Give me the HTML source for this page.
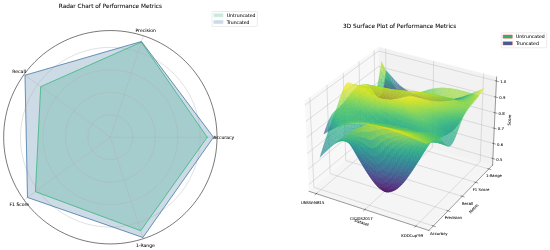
<!DOCTYPE html><html><head><meta charset="utf-8"><title>Performance Metrics</title><style>html,body{margin:0;padding:0;background:#fff;overflow:hidden}svg{display:block}text{font-family:"DejaVu Sans","Liberation Sans",sans-serif;stroke:#000;stroke-width:.1px}.s path{fill:currentColor;stroke:currentColor;stroke-width:.25;stroke-linejoin:round;opacity:0.7}</style></head><body><svg width="550" height="250" preserveAspectRatio="none" viewBox="0 0 1143.19 519.63"><defs><style type="text/css">*{stroke-linejoin: round; stroke-linecap: butt}</style></defs><g id="figure_1"><g id="patch_1"><path d="M 0 519.63 L 1143.19 519.63 L 1143.19 0 L 0 0 z " style="fill: #ffffff"/></g><g id="axes_1"><g id="patch_2"><path d="M 451.13 285.26 C 451.13 256.14 445.4 227.3 434.25 200.4 C 423.11 173.5 406.77 149.05 386.18 128.46 C 365.59 107.86 341.14 91.53 314.24 80.38 C 287.33 69.24 258.49 63.5 229.37 63.5 C 200.25 63.5 171.41 69.24 144.51 80.38 C 117.6 91.53 93.16 107.86 72.56 128.46 C 51.97 149.05 35.64 173.5 24.49 200.4 C 13.35 227.3 7.61 256.14 7.61 285.26 C 7.61 314.39 13.35 343.22 24.49 370.13 C 35.64 397.03 51.97 421.48 72.56 442.07 C 93.16 462.66 117.6 479 144.51 490.14 C 171.41 501.29 200.25 507.02 229.37 507.02 C 258.49 507.02 287.33 501.29 314.24 490.14 C 341.14 479 365.59 462.66 386.18 442.07 C 406.77 421.48 423.11 397.03 434.25 370.13 C 445.4 343.22 451.13 314.39 451.13 285.26 M 229.37 285.26 C 229.37 285.26 229.37 285.26 229.37 285.26 C 229.37 285.26 229.37 285.26 229.37 285.26 C 229.37 285.26 229.37 285.26 229.37 285.26 C 229.37 285.26 229.37 285.26 229.37 285.26 C 229.37 285.26 229.37 285.26 229.37 285.26 C 229.37 285.26 229.37 285.26 229.37 285.26 C 229.37 285.26 229.37 285.26 229.37 285.26 C 229.37 285.26 229.37 285.26 229.37 285.26 C 229.37 285.26 229.37 285.26 229.37 285.26 C 229.37 285.26 229.37 285.26 229.37 285.26 C 229.37 285.26 229.37 285.26 229.37 285.26 C 229.37 285.26 229.37 285.26 229.37 285.26 C 229.37 285.26 229.37 285.26 229.37 285.26 C 229.37 285.26 229.37 285.26 229.37 285.26 C 229.37 285.26 229.37 285.26 229.37 285.26 C 229.37 285.26 229.37 285.26 229.37 285.26 z " style="fill: #ffffff"/></g><g id="patch_3"><path d="M 430.66 285.26 L 293.58 87.64 L 84.59 180.07 L 73.65 398.41 L 292.49 479.51 z " clip-path="url(#p2788d90cd7)" style="fill: #32b478; opacity: 0.25; stroke: #32b478; stroke-linejoin: miter"/></g><g id="patch_4"><path d="M 443.75 285.26 L 294.04 86.23 L 51.97 156.38 L 57.14 410.4 L 297.08 493.64 z " clip-path="url(#p2788d90cd7)" style="fill: #3a70a0; opacity: 0.25; stroke: #3a70a0; stroke-linejoin: miter"/></g><g id="matplotlib.axis_1"><g id="xtick_1"><g id="line2d_1"><path d="M 229.37 285.26 L 451.13 285.26 " clip-path="url(#p2788d90cd7)" style="fill: none; stroke: #b0b0b0; stroke-width: 0.8; stroke-linecap: square"/></g><g id="text_1"><text style="font-size: 9.5px; font-family: 'DejaVu Sans','Liberation Sans',sans-serif; text-anchor: middle" x="465.13" y="288.89">Accuracy</text></g></g><g id="xtick_2"><g id="line2d_2"><path d="M 229.37 285.26 L 297.9 74.36 " clip-path="url(#p2788d90cd7)" style="fill: none; stroke: #b0b0b0; stroke-width: 0.8; stroke-linecap: square"/></g><g id="text_2"><text style="font-size: 9.5px; font-family: 'DejaVu Sans','Liberation Sans',sans-serif; text-anchor: middle" x="302.73" y="66.36">Precision</text></g></g><g id="xtick_3"><g id="line2d_3"><path d="M 229.37 285.26 L 49.96 154.92 " clip-path="url(#p2788d90cd7)" style="fill: none; stroke: #b0b0b0; stroke-width: 0.8; stroke-linecap: square"/></g><g id="text_3"><text style="font-size: 9.5px; font-family: 'DejaVu Sans','Liberation Sans',sans-serif; text-anchor: middle" x="39.84" y="151.41">Recall</text></g></g><g id="xtick_4"><g id="line2d_4"><path d="M 229.37 285.26 L 49.96 415.61 " clip-path="url(#p2788d90cd7)" style="fill: none; stroke: #b0b0b0; stroke-width: 0.8; stroke-linecap: square"/></g><g id="text_4"><text style="font-size: 9.5px; font-family: 'DejaVu Sans','Liberation Sans',sans-serif; text-anchor: middle" x="40.14" y="428.16">F1 Score</text></g></g><g id="xtick_5"><g id="line2d_5"><path d="M 229.37 285.26 L 297.9 496.17 " clip-path="url(#p2788d90cd7)" style="fill: none; stroke: #b0b0b0; stroke-width: 0.8; stroke-linecap: square"/></g><g id="text_5"><text style="font-size: 9.5px; font-family: 'DejaVu Sans','Liberation Sans',sans-serif; text-anchor: middle" x="302.23" y="512.71">1-Range</text></g></g></g><g id="matplotlib.axis_2"><g id="ytick_1"><g id="line2d_6"><path d="M 276.06 285.26 C 276.06 279.13 274.85 273.06 272.5 267.4 C 270.16 261.73 266.72 256.59 262.38 252.25 C 258.05 247.92 252.9 244.48 247.24 242.13 C 241.57 239.79 235.5 238.58 229.37 238.58 C 223.24 238.58 217.17 239.79 211.51 242.13 C 205.84 244.48 200.7 247.92 196.36 252.25 C 192.03 256.59 188.59 261.73 186.24 267.4 C 183.89 273.06 182.69 279.13 182.69 285.26 C 182.69 291.39 183.89 297.47 186.24 303.13 C 188.59 308.79 192.03 313.94 196.36 318.28 C 200.7 322.61 205.84 326.05 211.51 328.4 C 217.17 330.74 223.24 331.95 229.37 331.95 C 235.5 331.95 241.57 330.74 247.24 328.4 C 252.9 326.05 258.05 322.61 262.38 318.28 C 266.72 313.94 270.16 308.79 272.5 303.13 C 274.85 297.47 276.06 291.39 276.06 285.26 " clip-path="url(#p2788d90cd7)" style="fill: none; stroke: #b0b0b0; stroke-width: 0.8; stroke-linecap: square"/></g></g><g id="ytick_2"><g id="line2d_7"><path d="M 322.74 285.26 C 322.74 273 320.33 260.86 315.64 249.53 C 310.95 238.2 304.07 227.91 295.4 219.24 C 286.73 210.57 276.43 203.69 265.1 199 C 253.78 194.31 241.63 191.89 229.37 191.89 C 217.11 191.89 204.97 194.31 193.64 199 C 182.31 203.69 172.02 210.57 163.35 219.24 C 154.68 227.91 147.8 238.2 143.11 249.53 C 138.41 260.86 136 273 136 285.26 C 136 297.53 138.41 309.67 143.11 321 C 147.8 332.32 154.68 342.62 163.35 351.29 C 172.02 359.96 182.31 366.84 193.64 371.53 C 204.97 376.22 217.11 378.64 229.37 378.64 C 241.63 378.64 253.78 376.22 265.1 371.53 C 276.43 366.84 286.73 359.96 295.4 351.29 C 304.07 342.62 310.95 332.32 315.64 321 C 320.33 309.67 322.74 297.53 322.74 285.26 " clip-path="url(#p2788d90cd7)" style="fill: none; stroke: #b0b0b0; stroke-width: 0.8; stroke-linecap: square"/></g></g><g id="ytick_3"><g id="line2d_8"><path d="M 369.43 285.26 C 369.43 266.87 365.81 248.66 358.77 231.67 C 351.73 214.67 341.41 199.23 328.41 186.23 C 315.4 173.22 299.96 162.9 282.97 155.87 C 265.98 148.83 247.76 145.21 229.37 145.21 C 210.98 145.21 192.77 148.83 175.77 155.87 C 158.78 162.9 143.34 173.22 130.34 186.23 C 117.33 199.23 107.01 214.67 99.97 231.67 C 92.94 248.66 89.31 266.87 89.31 285.26 C 89.31 303.66 92.94 321.87 99.97 338.86 C 107.01 355.85 117.33 371.3 130.34 384.3 C 143.34 397.31 158.78 407.62 175.77 414.66 C 192.77 421.7 210.98 425.32 229.37 425.32 C 247.76 425.32 265.98 421.7 282.97 414.66 C 299.96 407.62 315.4 397.31 328.41 384.3 C 341.41 371.3 351.73 355.85 358.77 338.86 C 365.81 321.87 369.43 303.66 369.43 285.26 " clip-path="url(#p2788d90cd7)" style="fill: none; stroke: #b0b0b0; stroke-width: 0.8; stroke-linecap: square"/></g></g><g id="ytick_4"><g id="line2d_9"><path d="M 416.12 285.26 C 416.12 260.74 411.29 236.46 401.9 213.8 C 392.52 191.14 378.76 170.56 361.42 153.22 C 344.08 135.87 323.49 122.12 300.84 112.73 C 278.18 103.35 253.9 98.52 229.37 98.52 C 204.85 98.52 180.56 103.35 157.91 112.73 C 135.25 122.12 114.66 135.87 97.32 153.22 C 79.98 170.56 66.23 191.14 56.84 213.8 C 47.46 236.46 42.63 260.74 42.63 285.26 C 42.63 309.79 47.46 334.07 56.84 356.73 C 66.23 379.38 79.98 399.97 97.32 417.31 C 114.66 434.65 135.25 448.41 157.91 457.79 C 180.56 467.18 204.85 472.01 229.37 472.01 C 253.9 472.01 278.18 467.18 300.84 457.79 C 323.49 448.41 344.08 434.65 361.42 417.31 C 378.76 399.97 392.52 379.38 401.9 356.73 C 411.29 334.07 416.12 309.79 416.12 285.26 " clip-path="url(#p2788d90cd7)" style="fill: none; stroke: #b0b0b0; stroke-width: 0.8; stroke-linecap: square"/></g></g></g><g id="line2d_10"><path d="M 430.66 285.26 L 293.58 87.64 L 84.59 180.07 L 73.65 398.41 L 292.49 479.51 L 430.66 285.26 " clip-path="url(#p2788d90cd7)" style="fill: none; stroke: #32b478; stroke-width: 1.5; stroke-linecap: square"/></g><g id="line2d_11"><path d="M 443.75 285.26 L 294.04 86.23 L 51.97 156.38 L 57.14 410.4 L 297.08 493.64 L 443.75 285.26 " clip-path="url(#p2788d90cd7)" style="fill: none; stroke: #3a70a0; stroke-width: 1.5; stroke-linecap: square"/></g><g id="patch_5"><path d="M 451.13 285.26 C 451.13 256.14 445.4 227.3 434.25 200.4 C 423.11 173.5 406.77 149.05 386.18 128.46 C 365.59 107.86 341.14 91.53 314.24 80.38 C 287.33 69.24 258.49 63.5 229.37 63.5 C 200.25 63.5 171.41 69.24 144.51 80.38 C 117.6 91.53 93.16 107.86 72.56 128.46 C 51.97 149.05 35.64 173.5 24.49 200.4 C 13.35 227.3 7.61 256.14 7.61 285.26 C 7.61 314.39 13.35 343.22 24.49 370.13 C 35.64 397.03 51.97 421.48 72.56 442.07 C 93.16 462.66 117.6 479 144.51 490.14 C 171.41 501.29 200.25 507.02 229.37 507.02 C 258.49 507.02 287.33 501.29 314.24 490.14 C 341.14 479 365.59 462.66 386.18 442.07 C 406.77 421.48 423.11 397.03 434.25 370.13 C 445.4 343.22 451.13 314.39 451.13 285.26 " style="fill: none; stroke: #000000; stroke-width: 1.1; stroke-linejoin: miter; stroke-linecap: square"/></g><g id="text_6"><text style="font-size: 12px; font-family: 'DejaVu Sans','Liberation Sans',sans-serif; text-anchor: middle" x="229.37" y="16.08">Radar Chart of Performance Metrics</text></g><g id="legend_1"><g id="patch_6"><path d="M 442.48 55.01 L 533.12 55.01 Q 535.04 55.01 535.04 53.09 L 535.04 25.87 Q 535.04 23.95 533.12 23.95 L 442.48 23.95 Q 440.56 23.95 440.56 25.87 L 440.56 53.09 Q 440.56 55.01 442.48 55.01 z " style="fill: #ffffff; opacity: 0.8; stroke: #cccccc; stroke-linejoin: miter"/></g><g id="patch_7"><path d="M 444.4 35.09 L 463.6 35.09 L 463.6 28.37 L 444.4 28.37 z " style="fill: #32b478; opacity: 0.25; stroke: #32b478; stroke-linejoin: miter"/></g><g id="text_7"><text style="font-size: 9.6px; font-family: 'DejaVu Sans','Liberation Sans',sans-serif; text-anchor: start" x="471.28" y="35.09">Untruncated</text></g><g id="patch_8"><path d="M 444.4 49.18 L 463.6 49.18 L 463.6 42.46 L 444.4 42.46 z " style="fill: #3a70a0; opacity: 0.25; stroke: #3a70a0; stroke-linejoin: miter"/></g><g id="text_8"><text style="font-size: 9.6px; font-family: 'DejaVu Sans','Liberation Sans',sans-serif; text-anchor: start" x="471.28" y="49.18">Truncated</text></g></g></g><g id="patch_9"><path d="M 608.85 507.02 L 1052.37 507.02 L 1052.37 63.5 L 608.85 63.5 z " style="fill: #ffffff"/></g><g id="pane3d_1"><g id="patch_10"><path d="M 642.34 397.67 L 788.81 274.9 L 786.77 97.84 L 633.3 209.84 " style="fill: #f2f2f2; opacity: 0.5; stroke: #f2f2f2; stroke-linejoin: miter"/></g></g><g id="pane3d_2"><g id="patch_11"><path d="M 788.81 274.9 L 1023.83 343.21 L 1032.22 160.05 L 786.77 97.84 " style="fill: #e6e6e6; opacity: 0.5; stroke: #e6e6e6; stroke-linejoin: miter"/></g></g><g id="pane3d_3"><g id="patch_12"><path d="M 642.34 397.67 L 891.48 479.03 L 1023.83 343.21 L 788.81 274.9 " style="fill: #ececec; opacity: 0.5; stroke: #ececec; stroke-linejoin: miter"/></g></g><g id="grid3d_1"><g id="Line3DCollection_1"><path d="M 657.42 402.59 L 803.09 279.05 L 801.66 101.61 " style="fill: none; stroke: #b0b0b0; stroke-width: 0.8"/><path d="M 758.46 435.59 L 898.6 306.81 L 901.31 126.87 " style="fill: none; stroke: #b0b0b0; stroke-width: 0.8"/><path d="M 864.02 470.07 L 998.03 335.71 L 1005.22 153.21 " style="fill: none; stroke: #b0b0b0; stroke-width: 0.8"/></g></g><g id="grid3d_2"><g id="Line3DCollection_2"><path d="M 643.91 202.09 L 652.43 389.21 L 900.63 469.64 " style="fill: none; stroke: #b0b0b0; stroke-width: 0.8"/><path d="M 679.37 176.22 L 686.19 360.91 L 931.22 438.24 " style="fill: none; stroke: #b0b0b0; stroke-width: 0.8"/><path d="M 713.45 151.35 L 718.69 333.67 L 960.62 408.08 " style="fill: none; stroke: #b0b0b0; stroke-width: 0.8"/><path d="M 746.23 127.43 L 750.01 307.42 L 988.88 379.07 " style="fill: none; stroke: #b0b0b0; stroke-width: 0.8"/><path d="M 777.79 104.4 L 780.2 282.11 L 1016.09 351.15 " style="fill: none; stroke: #b0b0b0; stroke-width: 0.8"/></g></g><g id="grid3d_3"><g id="Line3DCollection_3"><path d="M 1024.45 329.61 L 788.65 261.72 L 641.67 383.74 " style="fill: none; stroke: #b0b0b0; stroke-width: 0.8"/><path d="M 1025.88 298.36 L 788.31 231.47 L 640.13 351.73 " style="fill: none; stroke: #b0b0b0; stroke-width: 0.8"/><path d="M 1027.34 266.63 L 787.95 200.77 L 638.56 319.21 " style="fill: none; stroke: #b0b0b0; stroke-width: 0.8"/><path d="M 1028.81 234.41 L 787.59 169.63 L 636.97 286.16 " style="fill: none; stroke: #b0b0b0; stroke-width: 0.8"/><path d="M 1030.31 201.68 L 787.23 138.02 L 635.35 252.59 " style="fill: none; stroke: #b0b0b0; stroke-width: 0.8"/><path d="M 1031.83 168.45 L 786.86 105.94 L 633.71 218.46 " style="fill: none; stroke: #b0b0b0; stroke-width: 0.8"/></g></g><g id="axis3d_1"><g id="line2d_12"><path d="M 642.34 397.67 L 891.48 479.03 " style="fill: none; stroke: #000000; stroke-width: 0.8; stroke-linecap: square"/></g><g id="xtick_6"><g id="line2d_13"><path d="M 658.69 401.51 L 654.88 404.75 " style="fill: none; stroke: #000000; stroke-width: 0.8; stroke-linecap: square"/></g><g id="text_9"><text style="font-size: 8px; font-family: 'DejaVu Sans','Liberation Sans',sans-serif; text-anchor: middle" x="649.9" y="424.36">UNSW-NB15</text></g></g><g id="xtick_7"><g id="line2d_14"><path d="M 759.68 434.47 L 756.01 437.84 " style="fill: none; stroke: #000000; stroke-width: 0.8; stroke-linecap: square"/></g><g id="text_10"><text style="font-size: 8px; font-family: 'DejaVu Sans','Liberation Sans',sans-serif; text-anchor: middle" x="751" y="457.78">CICIDS2017</text></g></g><g id="xtick_8"><g id="line2d_15"><path d="M 865.19 468.89 L 861.67 472.42 " style="fill: none; stroke: #000000; stroke-width: 0.8; stroke-linecap: square"/></g><g id="text_11"><text style="font-size: 8px; font-family: 'DejaVu Sans','Liberation Sans',sans-serif; text-anchor: middle" x="856.64" y="492.69">KDDCup'99</text></g></g><g id="text_12"><text style="font-size: 8px; font-family: 'DejaVu Sans','Liberation Sans',sans-serif; text-anchor: middle" x="751" y="465.22" transform="rotate(-341.91 751 465.22)">Dataset</text></g></g><g id="axis3d_2"><g id="line2d_16"><path d="M 1023.83 343.21 L 891.48 479.03 " style="fill: none; stroke: #000000; stroke-width: 0.8; stroke-linecap: square"/></g><g id="xtick_9"><g id="line2d_17"><path d="M 898.54 468.96 L 904.82 470.99 " style="fill: none; stroke: #000000; stroke-width: 0.8; stroke-linecap: square"/></g><g id="text_13"><text style="font-size: 8px; font-family: 'DejaVu Sans','Liberation Sans',sans-serif; text-anchor: middle" x="912.06" y="487.62">Accuracy</text></g></g><g id="xtick_10"><g id="line2d_18"><path d="M 929.16 437.59 L 935.36 439.55 " style="fill: none; stroke: #000000; stroke-width: 0.8; stroke-linecap: square"/></g><g id="text_14"><text style="font-size: 8px; font-family: 'DejaVu Sans','Liberation Sans',sans-serif; text-anchor: middle" x="942.43" y="455.98">Precision</text></g></g><g id="xtick_11"><g id="line2d_19"><path d="M 958.58 407.45 L 964.69 409.33 " style="fill: none; stroke: #000000; stroke-width: 0.8; stroke-linecap: square"/></g><g id="text_15"><text style="font-size: 8px; font-family: 'DejaVu Sans','Liberation Sans',sans-serif; text-anchor: middle" x="971.61" y="425.58">Recall</text></g></g><g id="xtick_12"><g id="line2d_20"><path d="M 986.88 378.47 L 992.9 380.28 " style="fill: none; stroke: #000000; stroke-width: 0.8; stroke-linecap: square"/></g><g id="text_16"><text style="font-size: 8px; font-family: 'DejaVu Sans','Liberation Sans',sans-serif; text-anchor: middle" x="999.67" y="396.34">F1 Score</text></g></g><g id="xtick_13"><g id="line2d_21"><path d="M 1014.11 350.57 L 1020.05 352.31 " style="fill: none; stroke: #000000; stroke-width: 0.8; stroke-linecap: square"/></g><g id="text_17"><text style="font-size: 8px; font-family: 'DejaVu Sans','Liberation Sans',sans-serif; text-anchor: middle" x="1026.68" y="368.2">1-Range</text></g></g><g id="text_18"><text style="font-size: 8px; font-family: 'DejaVu Sans','Liberation Sans',sans-serif; text-anchor: middle" x="987" y="435.38" transform="rotate(-45.74 987 435.38)">Metric</text></g></g><g id="axis3d_3"><g id="line2d_22"><path d="M 1023.83 343.21 L 1032.22 160.05 " style="fill: none; stroke: #000000; stroke-width: 0.8; stroke-linecap: square"/></g><g id="xtick_14"><g id="line2d_23"><path d="M 1022.47 329.04 L 1028.42 330.75 " style="fill: none; stroke: #000000; stroke-width: 0.8; stroke-linecap: square"/></g><g id="text_19"><text style="font-size: 8px; font-family: 'DejaVu Sans','Liberation Sans',sans-serif; text-anchor: middle" x="1038.01" y="333.77">0.5</text></g></g><g id="xtick_15"><g id="line2d_24"><path d="M 1023.89 297.8 L 1029.88 299.48 " style="fill: none; stroke: #000000; stroke-width: 0.8; stroke-linecap: square"/></g><g id="text_20"><text style="font-size: 8px; font-family: 'DejaVu Sans','Liberation Sans',sans-serif; text-anchor: middle" x="1039.54" y="302.55">0.6</text></g></g><g id="xtick_16"><g id="line2d_25"><path d="M 1025.33 266.07 L 1031.36 267.74 " style="fill: none; stroke: #000000; stroke-width: 0.8; stroke-linecap: square"/></g><g id="text_21"><text style="font-size: 8px; font-family: 'DejaVu Sans','Liberation Sans',sans-serif; text-anchor: middle" x="1041.09" y="270.85">0.7</text></g></g><g id="xtick_17"><g id="line2d_26"><path d="M 1026.78 233.86 L 1032.87 235.5 " style="fill: none; stroke: #000000; stroke-width: 0.8; stroke-linecap: square"/></g><g id="text_22"><text style="font-size: 8px; font-family: 'DejaVu Sans','Liberation Sans',sans-serif; text-anchor: middle" x="1042.67" y="238.65">0.8</text></g></g><g id="xtick_18"><g id="line2d_27"><path d="M 1028.27 201.15 L 1034.4 202.75 " style="fill: none; stroke: #000000; stroke-width: 0.8; stroke-linecap: square"/></g><g id="text_23"><text style="font-size: 8px; font-family: 'DejaVu Sans','Liberation Sans',sans-serif; text-anchor: middle" x="1044.28" y="205.96">0.9</text></g></g><g id="xtick_19"><g id="line2d_28"><path d="M 1029.77 167.92 L 1035.96 169.5 " style="fill: none; stroke: #000000; stroke-width: 0.8; stroke-linecap: square"/></g><g id="text_24"><text style="font-size: 8px; font-family: 'DejaVu Sans','Liberation Sans',sans-serif; text-anchor: middle" x="1045.91" y="172.76">1.0</text></g></g><g id="text_25"><text style="font-size: 8px; font-family: 'DejaVu Sans','Liberation Sans',sans-serif; text-anchor: middle" x="1061.74" y="249.5" transform="rotate(-87.38 1061.74 249.5)">Score</text></g></g><g id="axes_2"><g id="text_26"><text style="font-size: 12px; font-family: 'DejaVu Sans','Liberation Sans',sans-serif; text-anchor: middle" x="830.61" y="59">3D Surface Plot of Performance Metrics</text></g><g id="surfaces" class="s"><g><path color="#2eb37c" d="M818.7 187.4l4 3.4 2.4-3.7-4-5.2z"/><path color="#37b878" d="M814.7 183.3l4 4.1 2.4-5.5-4-6.2z"/><path color="#2db27d" d="M781 190.6l4 1.5 2.4-6.2-3.9-3.2z"/><path color="#3bbb75" d="M783.5 182.7l3.9 3.2 2.4-9.4-4-5z"/><path color="#29af7f" d="M822.7 190.8l4 3.3 2.4-2.8-4-4.2z"/><path color="#40bd72" d="M810.7 178.2l4 5.1 2.4-7.6-4-6.9z"/><path color="#35b779" d="M787.4 185.9l4 2.3 2.4-7.1-4-4.6z"/><path color="#25ac82" d="M826.7 194.1l4 2.5 2.4-2.1-4-3.2z"/><path color="#3dbc74" d="M804.3 181.4l4 3.8 2.4-7-4-6.1z"/><path color="#34b679" d="M808.3 185.2l3.9 3 2.5-4.9-4-5.1z"/><path color="#3fbc73" d="M793.8 181.1l4 3.6 2.5-8.3-4.1-5.7z"/><path color="#37b878" d="M797.8 184.7l4 2.6 2.5-5.9-4-5z"/><path color="#4ac16d" d="M789.8 176.5l4 4.6 2.4-10.4-4-6.2z"/><path color="#2cb17e" d="M785 192.1l3.9 1.4 2.5-5.3-4-2.3z"/><path color="#52c569" d="M806.7 172.1l4 6.1 2.4-9.4-4-7.6z"/><path color="#48c16e" d="M800.3 176.4l4 5 2.4-9.3-4-6.7z"/><path color="#31b57b" d="M791.4 188.2l4 1.9 2.4-5.4-4-3.6z"/><path color="#26ad81" d="M778.5 195.2l4 .8 2.5-3.9-4-1.5z"/><path color="#2eb37c" d="M812.2 188.2l4 2.9 2.5-3.7-4-4.1z"/><path color="#58c765" d="M785.8 171.5l4 5 2.4-12-4-6.5z"/><path color="#32b67a" d="M801.8 187.3l4 2.4 2.5-4.5-4-3.8z"/><path color="#24aa83" d="M830.7 196.6l4 1.6 2.4-1.3-4-2.4z"/><path color="#58c765" d="M796.2 170.7l4.1 5.7 2.4-11-4.1-7.2z"/><path color="#2ab07f" d="M816.2 191.1l4 2.7 2.5-3-4-3.4z"/><path color="#2eb37c" d="M795.4 190.1l4 1.8 2.4-4.6-4-2.6z"/><path color="#65cb5e" d="M802.7 165.4l4 6.7 2.4-10.9-4-8.1z"/><path color="#2eb37c" d="M805.8 189.7l4 2.3 2.4-3.8-3.9-3z"/><path color="#2ab07f" d="M788.9 193.5l4 1.3 2.5-4.7-4-1.9z"/><path color="#27ad81" d="M820.2 193.8l4 2.5 2.5-2.2-4-3.3z"/><path color="#69cd5b" d="M792.2 164.5l4 6.2 2.4-12.5-4-7.6z"/><path color="#26ad81" d="M782.5 196l4 .7 2.4-3.2-3.9-1.4z"/><path color="#23a983" d="M834.7 198.2l4 .9 2.4-.6-4-1.6z"/><path color="#2cb17e" d="M799.4 191.9l3.9 1.7 2.5-3.9-4-2.4z"/><path color="#2cb17e" d="M809.8 192l4 2.1 2.4-3-4-2.9z"/><path color="#25ac82" d="M824.2 196.3l4 1.8 2.5-1.5-4-2.5z"/><path color="#7ad151" d="M798.6 158.2l4.1 7.2 2.4-12.3-4.1-8.6z"/><path color="#25ac82" d="M776 197.2l4 0 2.5-1.2-4-.8z"/><path color="#29af7f" d="M792.9 194.8l4 1.1 2.5-4-4-1.8z"/><path color="#7fd34e" d="M788.2 158l4 6.5 2.4-13.9-4-7.8z"/><path color="#29af7f" d="M813.8 194.1l4 2 2.4-2.3-4-2.7z"/><path color="#27ad81" d="M786.5 196.7l3.9.7 2.5-2.6-4-1.3z"/><path color="#2ab07f" d="M803.3 193.6l4 1.6 2.5-3.2-4-2.3z"/><path color="#24aa83" d="M838.7 199.1l4 .3 2.4.1-4-1z"/><path color="#25ab82" d="M828.2 198.1l4 1 2.5-.9-4-1.6z"/><path color="#95d840" d="M794.6 150.6l4 7.6 2.4-13.7-4-8.8z"/><path color="#28ae80" d="M796.9 195.9l4 1 2.4-3.3-3.9-1.7z"/><path color="#27ad81" d="M817.8 196.1l4 1.8 2.4-1.6-4-2.5z"/><path color="#26ad81" d="M780 197.2l3.9.2 2.6-.7-4-.7z"/><path color="#29af7f" d="M807.3 195.2l4 1.4 2.5-2.5-4-2.1z"/><path color="#27ad81" d="M790.4 197.4l4 .5 2.5-2-4-1.1z"/><path color="#25ab82" d="M832.2 199.1l4.1.4 2.4-.4-4-.9z"/><path color="#26ad81" d="M821.8 197.9l4 1.2 2.4-1-4-1.8z"/><path color="#25ab82" d="M842.7 199.4l4-.1 2.4.5-4-.3z"/><path color="#28ae80" d="M800.9 196.9l4 .9 2.4-2.6-4-1.6z"/><path color="#b2dd2d" d="M790.6 142.8l4 7.8 2.4-14.9-4.1-9z"/><path color="#28ae80" d="M811.3 196.6l4 1.3 2.5-1.8-4-2z"/><path color="#27ad81" d="M773.5 197l3.9-.4 2.6.6-4 0z"/><path color="#27ad81" d="M783.9 197.4l4 .2 2.5-.2-3.9-.7z"/><path color="#27ad81" d="M794.4 197.9l4 .4 2.5-1.4-4-1z"/><path color="#26ad81" d="M825.8 199.1l4 .4 2.4-.4-4-1z"/><path color="#28ae80" d="M804.9 197.8l3.9.7 2.5-1.9-4-1.4z"/><path color="#27ad81" d="M815.3 197.9l4 1.1 2.5-1.1-4-1.8z"/><path color="#25ac82" d="M836.3 199.5l4-.2 2.4.1-4-.3z"/><path color="#26ad81" d="M846.7 199.3l4.1-.6 2.4.9-4.1.2z"/><path color="#29af7f" d="M777.4 196.6l4-.2 2.5 1-3.9-.2z"/><path color="#28ae80" d="M787.9 197.6l4 0 2.5.3-4-.5z"/><path color="#28ae80" d="M798.4 198.3l4 .2 2.5-.7-4-.9z"/><path color="#27ad81" d="M819.3 199l4 .4 2.5-.3-4-1.2z"/><path color="#28ae80" d="M808.8 198.5l4 .6 2.5-1.2-4-1.3z"/><path color="#27ad81" d="M829.8 199.5l4-.2 2.5.2-4.1-.4z"/><path color="#27ad81" d="M840.3 199.3l4-.6 2.4.6-4 .1z"/><path color="#28ae80" d="M850.8 198.7l4-.9 2.4 1.1-4 .7z"/><path color="#29af7f" d="M791.9 197.6l3.9 0 2.6.7-4-.4z"/><path color="#2cb17e" d="M781.4 196.4l3.9-.2 2.6 1.4-4-.2z"/><path color="#2db27d" d="M770.9 195.2l3.9-.5 2.6 1.9-3.9.4z"/><path color="#29af7f" d="M802.4 198.5l3.9.3 2.5-.3-3.9-.7z"/><path color="#28ae80" d="M812.8 199.1l4 .5 2.5-.6-4-1.1z"/><path color="#28ae80" d="M823.3 199.4l4 .1 2.5 0-4-.4z"/><path color="#29af7f" d="M833.8 199.3l4-.4 2.5.4-4 .2z"/><path color="#2ab07f" d="M844.3 198.7l4.1-.8 2.4.8-4.1.6z"/><path color="#2ab07f" d="M806.3 198.8l4.1.5 2.4-.2-4-.6z"/><path color="#2cb17e" d="M795.8 197.6l4 .3 2.6.6-4-.2z"/><path color="#29af7f" d="M816.8 199.6l4.1.4 2.4-.6-4-.4z"/><path color="#2db27d" d="M785.3 196.2l4-.1 2.6 1.5-4 0z"/><path color="#2cb17e" d="M854.8 197.8l4.1-1.1 2.4 1.1-4.1 1.1z"/><path color="#2fb47c" d="M774.8 194.7l4-.4 2.6 2.1-4 .2z"/><path color="#2ab07f" d="M827.3 199.5l4.1.1 2.4-.3-4 .2z"/><path color="#2cb17e" d="M837.8 198.9l4.1-.4 2.4.2-4 .6z"/><path color="#2cb17e" d="M810.4 199.3l4 .5 2.4-.2-4-.5z"/><path color="#2db27d" d="M799.8 197.9l4 .5 2.5.4-3.9-.3z"/><path color="#2eb37c" d="M848.4 197.9l4-.9 2.4.8-4 .9z"/><path color="#2ab07f" d="M820.9 200l4 .2 2.4-.7-4-.1z"/><path color="#2fb47c" d="M789.3 196.1l4 .4 2.5 1.1-3.9 0z"/><path color="#32b67a" d="M778.8 194.3l4-.1 2.5 2-3.9.2z"/><path color="#2cb17e" d="M831.4 199.6l4 0 2.4-.7-4 .4z"/><path color="#31b57b" d="M858.9 196.7l4-1.3 2.4 1.1-4 1.3z"/><path color="#35b779" d="M768.3 192.4l3.9-.4 2.6 2.7-3.9.5z"/><path color="#2eb37c" d="M841.9 198.5l4-.3 2.5-.3-4.1.8z"/><path color="#2db27d" d="M814.4 199.8l4 .4 2.5-.2-4.1-.4z"/><path color="#2eb37c" d="M803.8 198.4l4 .6 2.6.3-4.1-.5z"/><path color="#2db27d" d="M824.9 200.2l4 .2 2.5-.8-4.1-.1z"/><path color="#31b57b" d="M793.3 196.5l4 .6 2.5.8-4-.3z"/><path color="#32b67a" d="M852.4 197l4.1-.8 2.4.5-4.1 1.1z"/><path color="#35b779" d="M782.8 194.2l4 .4 2.5 1.5-4 .1z"/><path color="#2eb37c" d="M835.4 199.6l4-.1 2.5-1-4.1.4z"/><path color="#38b977" d="M772.2 192l4-.2 2.6 2.5-4 .4z"/><path color="#35b779" d="M862.9 195.4l4.1-1.4 2.4.9-4.1 1.6z"/><path color="#2eb37c" d="M818.4 200.2l4 .3 2.5-.3-4-.2z"/><path color="#2fb47c" d="M807.8 199l4.1.4 2.5.4-4-.5z"/><path color="#32b67a" d="M845.9 198.2l4.1-.3 2.4-.9-4 .9z"/><path color="#32b67a" d="M797.3 197.1l4 .5 2.5.8-4-.5z"/><path color="#2eb37c" d="M828.9 200.4l4 0 2.5-.8-4 0z"/><path color="#37b878" d="M786.8 194.6l4 .6 2.5 1.3-4-.4z"/><path color="#37b878" d="M856.5 196.2l4-.7 2.4-.1-4 1.3z"/><path color="#31b57b" d="M839.4 199.5l4.1-.1 2.4-1.2-4 .3z"/><path color="#3bbb75" d="M776.2 191.8l4 .5 2.6 1.9-4 .1z"/><path color="#31b57b" d="M811.9 199.4l4 .5 2.5.3-4-.4z"/><path color="#2fb47c" d="M822.4 200.5l4 .3 2.5-.4-4-.2z"/><path color="#34b679" d="M801.3 197.6l4 .5 2.5.9-4-.6z"/><path color="#42be71" d="M765.6 189.1l4 0 2.6 2.9-3.9.4z"/><path color="#35b779" d="M850 197.9l4-.4 2.5-1.3-4.1.8z"/><path color="#31b57b" d="M832.9 200.4l4.1 0 2.4-.9-4 .1z"/><path color="#3bbb75" d="M867 194l4.1-1.3 2.4.6-4.1 1.6z"/><path color="#38b977" d="M790.8 195.2l4 .5 2.5 1.4-4-.6z"/><path color="#34b679" d="M843.5 199.4l4.1-.3 2.4-1.2-4.1.3z"/><path color="#3dbc74" d="M780.2 192.3l4 .5 2.6 1.8-4-.4z"/><path color="#32b67a" d="M815.9 199.9l4 .3 2.5.3-4-.3z"/><path color="#3bbb75" d="M860.5 195.5l4.1-.6 2.4-.9-4.1 1.4z"/><path color="#31b57b" d="M826.4 200.8l4.1.1 2.4-.5-4 0z"/><path color="#35b779" d="M805.3 198.1l4.1.4 2.5.9-4.1-.4z"/><path color="#44bf70" d="M769.6 189.1l4 .5 2.6 2.2-4 .2z"/><path color="#3aba76" d="M794.8 195.7l4 .5 2.5 1.4-4-.5z"/><path color="#34b679" d="M837 200.4l4-.2 2.5-.8-4.1.1z"/><path color="#3aba76" d="M854 197.5l4.1-.5 2.4-1.5-4 .7z"/><path color="#3fbc73" d="M784.2 192.8l4 .6 2.6 1.8-4-.6z"/><path color="#42be71" d="M871.1 192.7l4.1-1.1 2.4-.1-4.1 1.8z"/><path color="#34b679" d="M819.9 200.2l4.1.3 2.4.3-4-.3z"/><path color="#38b977" d="M847.6 199.1l4-.4 2.4-1.2-4 .4z"/><path color="#37b878" d="M809.4 198.5l4 .5 2.5.9-4-.5z"/><path color="#34b679" d="M830.5 200.9l4 0 2.5-.5-4.1 0z"/><path color="#40bd72" d="M864.6 194.9l4.1-.7 2.4-1.5-4.1 1.3z"/><path color="#46c06f" d="M773.6 189.6l4 .5 2.6 2.2-4-.5z"/><path color="#3aba76" d="M798.8 196.2l4 .5 2.5 1.4-4-.5z"/><path color="#37b878" d="M841 200.2l4.1-.3 2.5-.8-4.1.3z"/><path color="#3dbc74" d="M858.1 197l4.1-.7 2.4-1.4-4.1.6z"/><path color="#40bd72" d="M788.2 193.4l4 .5 2.6 1.8-4-.5z"/><path color="#50c46a" d="M763 186l4 .5 2.6 2.6-4 0z"/><path color="#35b779" d="M824 200.5l4 .2 2.5.2-4.1-.1z"/><path color="#38b977" d="M813.4 199l4 .4 2.5.8-4-.3z"/><path color="#3bbb75" d="M851.6 198.7l4.1-.5 2.4-1.2-4.1.5z"/><path color="#4ac16d" d="M875.2 191.6l4.1-.9 2.4-.9-4.1 1.7z"/><path color="#37b878" d="M834.5 200.9l4.1-.1 2.4-.6-4 .2z"/><path color="#48c16e" d="M777.6 190.1l4 .5 2.6 2.2-4-.5z"/><path color="#3bbb75" d="M802.8 196.7l4 .4 2.6 1.4-4.1-.4z"/><path color="#46c06f" d="M868.7 194.2l4.1-.9 2.4-1.7-4.1 1.1z"/><path color="#3aba76" d="M845.1 199.9l4.1-.3 2.4-.9-4 .4z"/><path color="#42be71" d="M792.2 193.9l4 .5 2.6 1.8-4-.5z"/><path color="#52c569" d="M767 186.5l3.9.5 2.7 2.6-4-.5z"/><path color="#42be71" d="M862.2 196.3l4.1-.7 2.4-1.4-4.1.7z"/><path color="#38b977" d="M828 200.7l4.1.1 2.4.1-4 0z"/><path color="#3aba76" d="M817.4 199.4l4.1.3 2.5.8-4.1-.3z"/><path color="#4ac16d" d="M781.6 190.6l4 .5 2.6 2.3-4-.6z"/><path color="#3dbc74" d="M806.8 197.1l4.1.5 2.5 1.4-4-.5z"/><path color="#3aba76" d="M838.6 200.8l4.1-.3 2.4-.6-4.1.3z"/><path color="#3fbc73" d="M855.7 198.2l4.1-.6 2.4-1.3-4.1.7z"/><path color="#50c46a" d="M879.3 190.7l4.2-1 2.4-1.5-4.2 1.6z"/><path color="#44bf70" d="M796.2 194.4l4 .4 2.6 1.9-4-.5z"/><path color="#54c568" d="M770.9 187l4.1.6 2.6 2.5-4-.5z"/><path color="#3dbc74" d="M849.2 199.6l4.1-.5 2.4-.9-4.1.5z"/><path color="#4cc26c" d="M872.8 193.3l4.1-.9 2.4-1.7-4.1.9z"/><path color="#3bbb75" d="M821.5 199.7l4 .3 2.5.7-4-.2z"/><path color="#3aba76" d="M832.1 200.8l4 0 2.5 0-4.1.1z"/><path color="#4cc26c" d="M785.6 191.1l4 .5 2.6 2.3-4-.5z"/><path color="#48c16e" d="M866.3 195.6l4.1-.8 2.4-1.5-4.1.9z"/><path color="#3fbc73" d="M810.9 197.6l4 .4 2.5 1.4-4-.4z"/><path color="#5ec962" d="M760.3 183.4l4 .5 2.7 2.6-4-.5z"/><path color="#3dbc74" d="M842.7 200.5l4-.3 2.5-.6-4.1.3z"/><path color="#44bf70" d="M859.8 197.6l4.1-.7 2.4-1.3-4.1.7z"/><path color="#46c06f" d="M800.2 194.8l4.1.5 2.5 1.8-4-.4z"/><path color="#56c667" d="M775 187.6l4 .5 2.6 2.5-4-.5z"/><path color="#58c765" d="M883.5 189.7l4.1-1.1 2.4-1.9-4.1 1.5z"/><path color="#42be71" d="M853.3 199.1l4.1-.5 2.4-1-4.1.6z"/><path color="#3dbc74" d="M825.5 200l4.1.2 2.5.6-4.1-.1z"/><path color="#4ec36b" d="M789.6 191.6l4 .5 2.6 2.3-4-.5z"/><path color="#52c569" d="M876.9 192.4l4.2-.9 2.4-1.8-4.2 1z"/><path color="#3dbc74" d="M836.1 200.8l4.1-.1 2.5-.2-4.1.3z"/><path color="#40bd72" d="M814.9 198l4.1.4 2.5 1.3-4.1-.3z"/><path color="#60ca60" d="M764.3 183.9l4 .5 2.6 2.6-3.9-.5z"/><path color="#4ec36b" d="M870.4 194.8l4.1-.8 2.4-1.6-4.1.9z"/><path color="#48c16e" d="M804.3 195.3l4 .4 2.6 1.9-4.1-.5z"/><path color="#40bd72" d="M846.7 200.2l4.1-.4 2.5-.7-4.1.5z"/><path color="#58c765" d="M779 188.1l4 .6 2.6 2.4-4-.5z"/><path color="#4ac16d" d="M863.9 196.9l4.1-.8 2.4-1.3-4.1.8z"/><path color="#50c46a" d="M793.6 192.1l4.1.4 2.5 2.3-4-.4z"/><path color="#40bd72" d="M829.6 200.2l4.1.2 2.4.4-4 0z"/><path color="#44bf70" d="M819 198.4l4 .3 2.5 1.3-4-.3z"/><path color="#5ec962" d="M887.6 188.6l4.2-1 2.3-2-4.1 1.1z"/><path color="#46c06f" d="M857.4 198.6l4.1-.7 2.4-1-4.1.7z"/><path color="#63cb5f" d="M768.3 184.4l4 .6 2.7 2.6-4.1-.6z"/><path color="#40bd72" d="M840.2 200.7l4.1-.1 2.4-.4-4 .3z"/><path color="#58c765" d="M881.1 191.5l4.1-1 2.4-1.9-4.1 1.1z"/><path color="#4ac16d" d="M808.3 195.7l4.1.4 2.5 1.9-4-.4z"/><path color="#58c765" d="M783 188.7l4 .5 2.6 2.4-4-.5z"/><path color="#54c568" d="M874.5 194l4.2-.9 2.4-1.6-4.2.9z"/><path color="#44bf70" d="M850.8 199.8l4.1-.5 2.5-.7-4.1.5z"/><path color="#6ccd5a" d="M757.6 181.4l4 .6 2.7 1.9-4-.5z"/><path color="#52c569" d="M797.7 192.5l4 .5 2.6 2.3-4.1-.5z"/><path color="#50c46a" d="M868 196.1l4.1-.8 2.4-1.3-4.1.8z"/><path color="#42be71" d="M833.7 200.4l4 .1 2.5.2-4.1.1z"/><path color="#46c06f" d="M823 198.7l4.1.4 2.5 1.1-4.1-.2z"/><path color="#63cb5f" d="M772.3 185l4 .7 2.7 2.4-4-.5z"/><path color="#44bf70" d="M844.3 200.6l4.1-.3 2.4-.5-4.1.4z"/><path color="#4cc26c" d="M861.5 197.9l4.1-.7 2.4-1.1-4.1.8z"/><path color="#4cc26c" d="M812.4 196.1l4 .5 2.6 1.8-4.1-.4z"/><path color="#65cb5e" d="M891.8 187.6l4.1-1 2.4-2-4.2 1z"/><path color="#5ac864" d="M787 189.2l4.1.5 2.5 2.4-4-.5z"/><path color="#5ec962" d="M885.2 190.5l4.2-.9 2.4-2-4.2 1z"/><path color="#6ece58" d="M761.6 182l4.1.4 2.6 2-4-.5z"/><path color="#5ac864" d="M878.7 193.1l4.1-.9 2.4-1.7-4.1 1z"/><path color="#4ac16d" d="M854.9 199.3l4.1-.5 2.5-.9-4.1.7z"/><path color="#54c568" d="M801.7 193l4.1.5 2.5 2.2-4-.4z"/><path color="#65cb5e" d="M776.3 185.7l4.1.6 2.6 2.4-4-.6z"/><path color="#48c16e" d="M827.1 199.1l4.1.3 2.5 1-4.1-.2z"/><path color="#46c06f" d="M837.7 200.5l4.1-.1 2.5.2-4.1.1z"/><path color="#54c568" d="M872.1 195.3l4.2-.8 2.4-1.4-4.2.9z"/><path color="#4ec36b" d="M816.4 196.6l4.1.4 2.5 1.7-4-.3z"/><path color="#5cc863" d="M791.1 189.7l4 .6 2.6 2.2-4.1-.4z"/><path color="#4ac16d" d="M848.4 200.3l4.1-.4 2.4-.6-4.1.5z"/><path color="#52c569" d="M865.6 197.2l4.1-.7 2.4-1.2-4.1.8z"/><path color="#70cf57" d="M765.7 182.4l4 .4 2.6 2.2-4-.6z"/><path color="#6ccd5a" d="M895.9 186.6l4.2-.9 2.4-1.9-4.2.8z"/><path color="#56c667" d="M805.8 193.5l4 .5 2.6 2.1-4.1-.4z"/><path color="#65cb5e" d="M889.4 189.6l4.1-.9 2.4-2.1-4.1 1z"/><path color="#67cc5c" d="M780.4 186.3l4 .6 2.6 2.3-4-.5z"/><path color="#7ad151" d="M755 179.8l4 .7 2.6 1.5-4-.6z"/><path color="#4ec36b" d="M859 198.8l4.2-.6 2.4-1-4.1.7z"/><path color="#60ca60" d="M882.8 192.2l4.2-.8 2.4-1.8-4.2.9z"/><path color="#4ac16d" d="M831.2 199.4l4.1.2 2.4.9-4-.1z"/><path color="#4ac16d" d="M841.8 200.4l4.1-.1 2.5 0-4.1.3z"/><path color="#5ec962" d="M795.1 190.3l4.1.5 2.5 2.2-4-.5z"/><path color="#50c46a" d="M820.5 197l4.1.4 2.5 1.7-4.1-.4z"/><path color="#5ac864" d="M876.3 194.5l4.1-.7 2.4-1.6-4.1.9z"/><path color="#73d056" d="M769.7 182.8l4 .5 2.6 2.4-4-.7z"/><path color="#4ec36b" d="M852.5 199.9l4.1-.5 2.4-.6-4.1.5z"/><path color="#58c765" d="M809.8 194l4.1.4 2.5 2.2-4-.5z"/><path color="#56c667" d="M869.7 196.5l4.1-.6 2.5-1.4-4.2.8z"/><path color="#69cd5b" d="M784.4 186.9l4.1.7 2.6 2.1-4.1-.5z"/><path color="#73d056" d="M900.1 185.7l4.2-.7 2.3-1.8-4.1.6z"/><path color="#7cd250" d="M759 180.5l4 .5 2.7 1.4-4.1-.4z"/><path color="#6ccd5a" d="M893.5 188.7l4.2-.7 2.4-2.3-4.2.9z"/><path color="#4ec36b" d="M835.3 199.6l4.1.2 2.4.6-4.1.1z"/><path color="#54c568" d="M863.2 198.2l4.1-.6 2.4-1.1-4.1.7z"/><path color="#60ca60" d="M799.2 190.8l4 .6 2.6 2.1-4.1-.5z"/><path color="#52c569" d="M824.6 197.4l4.1.4 2.5 1.6-4.1-.3z"/><path color="#4ec36b" d="M845.9 200.3l4.1-.2 2.5-.2-4.1.4z"/><path color="#65cb5e" d="M887 191.4l4.1-.7 2.4-2-4.1.9z"/><path color="#75d054" d="M773.7 183.3l4 .5 2.7 2.5-4.1-.6z"/><path color="#60ca60" d="M880.4 193.8l4.2-.6 2.4-1.8-4.2.8z"/><path color="#5ac864" d="M813.9 194.4l4.1.5 2.5 2.1-4.1-.4z"/><path color="#69cd5b" d="M788.5 187.6l4 .6 2.6 2.1-4-.6z"/><path color="#52c569" d="M856.6 199.4l4.1-.5 2.5-.7-4.2.6z"/><path color="#7fd34e" d="M763 181l4 .4 2.7 1.4-4-.4z"/><path color="#5cc863" d="M873.8 195.9l4.2-.7 2.4-1.4-4.1.7z"/><path color="#7ad151" d="M904.3 185l4.1-.4 2.4-1.8-4.2.4z"/><path color="#50c46a" d="M839.4 199.8l4.1 0 2.4.5-4.1.1z"/><path color="#63cb5f" d="M803.2 191.4l4.1.5 2.5 2.1-4-.5z"/><path color="#86d549" d="M752.3 178.6l4 .8 2.7 1.1-4-.7z"/><path color="#54c568" d="M828.7 197.8l4.1.4 2.5 1.4-4.1-.2z"/><path color="#73d056" d="M897.7 188l4.2-.8 2.4-2.2-4.2.7z"/><path color="#75d054" d="M777.7 183.8l4.1.7 2.6 2.4-4-.6z"/><path color="#52c569" d="M850 200.1l4.1-.3 2.5-.4-4.1.5z"/><path color="#5ac864" d="M867.3 197.6l4.1-.6 2.4-1.1-4.1.6z"/><path color="#6ccd5a" d="M891.1 190.7l4.2-.6 2.4-2.1-4.2.7z"/><path color="#5cc863" d="M818 194.9l4.1.5 2.5 2-4.1-.4z"/><path color="#6ccd5a" d="M792.5 188.2l4.1.7 2.6 1.9-4.1-.5z"/><path color="#67cc5c" d="M884.6 193.2l4.1-.6 2.4-1.9-4.1.7z"/><path color="#81d34d" d="M767 181.4l4.1.4 2.6 1.5-4-.5z"/><path color="#58c765" d="M860.7 198.9l4.2-.5 2.4-.8-4.1.6z"/><path color="#65cb5e" d="M807.3 191.9l4.1.6 2.5 1.9-4.1-.4z"/><path color="#86d549" d="M756.3 179.4l4.1.6 2.6 1-4-.5z"/><path color="#7fd34e" d="M908.4 184.6l4.2-.4 2.4-1.6-4.2.2z"/><path color="#63cb5f" d="M878 195.2l4.2-.5 2.4-1.5-4.2.6z"/><path color="#54c568" d="M843.5 199.8l4.1 0 2.4.3-4.1.2z"/><path color="#56c667" d="M832.8 198.2l4.1.3 2.5 1.3-4.1-.2z"/><path color="#77d153" d="M781.8 184.5l4 .7 2.7 2.4-4.1-.7z"/><path color="#7ad151" d="M901.9 187.2l4.2-.6 2.3-2-4.1.4z"/><path color="#56c667" d="M854.1 199.8l4.2-.4 2.4-.5-4.1.5z"/><path color="#5ec962" d="M822.1 195.4l4.1.5 2.5 1.9-4.1-.4z"/><path color="#6ece58" d="M796.6 188.9l4 .6 2.6 1.9-4-.6z"/><path color="#5ec962" d="M871.4 197l4.2-.5 2.4-1.3-4.2.7z"/><path color="#73d056" d="M895.3 190.1l4.2-.6 2.4-2.3-4.2.8z"/><path color="#84d44b" d="M771.1 181.8l4 .4 2.6 1.6-4-.5z"/><path color="#6ccd5a" d="M888.7 192.6l4.2-.5 2.4-2-4.2.6z"/><path color="#67cc5c" d="M811.4 192.5l4 .5 2.6 1.9-4.1-.5z"/><path color="#89d548" d="M760.4 180l4 .5 2.6.9-4-.4z"/><path color="#5cc863" d="M864.9 198.4l4.1-.5 2.4-.9-4.1.6z"/><path color="#7ad151" d="M785.8 185.2l4.1.8 2.6 2.2-4-.6z"/><path color="#84d44b" d="M912.6 184.2l4.2-.1 2.4-1.6-4.2.1z"/><path color="#5ac864" d="M836.9 198.5l4.1.3 2.5 1-4.1 0z"/><path color="#58c765" d="M847.6 199.8l4.1 0 2.4 0-4.1.3z"/><path color="#67cc5c" d="M882.2 194.7l4.1-.4 2.4-1.7-4.1.6z"/><path color="#90d743" d="M749.6 177.7l4.1.9 2.6.8-4-.8z"/><path color="#70cf57" d="M800.6 189.5l4.1.7 2.6 1.7-4.1-.5z"/><path color="#60ca60" d="M826.2 195.9l4.1.5 2.5 1.8-4.1-.4z"/><path color="#7fd34e" d="M906.1 186.6l4.2-.5 2.3-1.9-4.2.4z"/><path color="#5cc863" d="M858.3 199.4l4.1-.4 2.5-.6-4.2.5z"/><path color="#84d44b" d="M775.1 182.2l4.1.4 2.6 1.9-4.1-.7z"/><path color="#65cb5e" d="M875.6 196.5l4.1-.4 2.5-1.4-4.2.5z"/><path color="#77d153" d="M899.5 189.5l4.2-.5 2.4-2.4-4.2.6z"/><path color="#67cc5c" d="M815.4 193l4.1.6 2.6 1.8-4.1-.5z"/><path color="#8bd646" d="M764.4 180.5l4 .4 2.7.9-4.1-.4z"/><path color="#7ad151" d="M789.9 186l4.1.7 2.6 2.2-4.1-.7z"/><path color="#73d056" d="M892.9 192.1l4.2-.5 2.4-2.1-4.2.6z"/><path color="#93d741" d="M753.7 178.6l4 .8 2.7.6-4.1-.6z"/><path color="#5cc863" d="M841 198.8l4.1.3 2.5.7-4.1 0z"/><path color="#63cb5f" d="M869 197.9l4.2-.3 2.4-1.1-4.2.5z"/><path color="#86d549" d="M916.8 184.1l4.2 0 2.4-1.6-4.2 0z"/><path color="#5cc863" d="M851.7 199.8l4.1-.2 2.5-.2-4.2.4z"/><path color="#70cf57" d="M804.7 190.2l4.1.6 2.6 1.7-4.1-.6z"/><path color="#6ccd5a" d="M886.3 194.3l4.2-.4 2.4-1.8-4.2.5z"/><path color="#63cb5f" d="M830.3 196.4l4.1.5 2.5 1.6-4.1-.3z"/><path color="#86d549" d="M779.2 182.6l4 .6 2.6 2-4-.7z"/><path color="#84d44b" d="M910.3 186.1l4.2-.2 2.3-1.8-4.2.1z"/><path color="#60ca60" d="M862.4 199l4.2-.4 2.4-.7-4.1.5z"/><path color="#69cd5b" d="M879.7 196.1l4.2-.3 2.4-1.5-4.1.4z"/><path color="#69cd5b" d="M819.5 193.6l4.1.5 2.6 1.8-4.1-.5z"/><path color="#7cd250" d="M794 186.7l4.1.8 2.5 2-4-.6z"/><path color="#8ed645" d="M768.4 180.9l4.1.4 2.6.9-4-.4z"/><path color="#7fd34e" d="M903.7 189l4.2-.5 2.4-2.4-4.2.5z"/><path color="#93d741" d="M757.7 179.4l4 .6 2.7.5-4-.5z"/><path color="#60ca60" d="M845.1 199.1l4.1.2 2.5.5-4.1 0z"/><path color="#77d153" d="M897.1 191.6l4.2-.4 2.4-2.2-4.2.5z"/><path color="#8bd646" d="M921 184.1l4.2.2 2.4-1.6-4.2-.2z"/><path color="#73d056" d="M808.8 190.8l4.1.7 2.5 1.5-4-.5z"/><path color="#67cc5c" d="M873.2 197.6l4.1-.3 2.4-1.2-4.1.4z"/><path color="#9bd93c" d="M746.9 177.1l4.1 1 2.7.5-4.1-.9z"/><path color="#65cb5e" d="M834.4 196.9l4.1.5 2.5 1.4-4.1-.3z"/><path color="#60ca60" d="M855.8 199.6l4.2-.3 2.4-.3-4.1.4z"/><path color="#89d548" d="M783.2 183.2l4.1.6 2.6 2.2-4.1-.8z"/><path color="#73d056" d="M890.5 193.9l4.2-.3 2.4-2-4.2.5z"/><path color="#89d548" d="M914.5 185.9l4.2-.1 2.3-1.7-4.2 0z"/><path color="#7cd250" d="M798.1 187.5l4 .8 2.6 1.9-4.1-.7z"/><path color="#6ccd5a" d="M823.6 194.1l4.1.6 2.6 1.7-4.1-.5z"/><path color="#90d743" d="M772.5 181.3l4 .5 2.7.8-4.1-.4z"/><path color="#65cb5e" d="M866.6 198.6l4.1-.2 2.5-.8-4.2.3z"/><path color="#6ece58" d="M883.9 195.8l4.2-.2 2.4-1.7-4.2.4z"/><path color="#95d840" d="M761.7 180l4.1.6 2.6.3-4-.4z"/><path color="#84d44b" d="M907.9 188.5l4.2-.4 2.4-2.2-4.2.2z"/><path color="#9bd93c" d="M751 178.1l4 .9 2.7.4-4-.8z"/><path color="#75d054" d="M812.9 191.5l4.1.6 2.5 1.5-4.1-.6z"/><path color="#8ed645" d="M925.2 184.3l4.3.3 2.3-1.5-4.2-.4z"/><path color="#63cb5f" d="M849.2 199.3l4.2.1 2.4.2-4.1.2z"/><path color="#67cc5c" d="M838.5 197.4l4.1.4 2.5 1.3-4.1-.3z"/><path color="#89d548" d="M787.3 183.8l4.1.8 2.6 2.1-4.1-.7z"/><path color="#7cd250" d="M901.3 191.2l4.2-.3 2.4-2.4-4.2.5z"/><path color="#6ccd5a" d="M877.3 197.3l4.2-.1 2.4-1.4-4.2.3z"/><path color="#65cb5e" d="M860 199.3l4.1-.2 2.5-.5-4.2.4z"/><path color="#7fd34e" d="M802.1 188.3l4.1.7 2.6 1.8-4.1-.6z"/><path color="#77d153" d="M894.7 193.6l4.2-.2 2.4-2.2-4.2.4z"/><path color="#6ece58" d="M827.7 194.7l4.2.6 2.5 1.6-4.1-.5z"/><path color="#8bd646" d="M918.7 185.8l4.2.1 2.3-1.6-4.2-.2z"/><path color="#93d741" d="M776.5 181.8l4.1.4 2.6 1-4-.6z"/><path color="#98d83e" d="M765.8 180.6l4 .5 2.7.2-4.1-.4z"/><path color="#69cd5b" d="M870.7 198.4l4.2 0 2.4-1.1-4.1.3z"/><path color="#9dd93b" d="M755 179l4.1.8 2.6.2-4-.6z"/><path color="#73d056" d="M888.1 195.6l4.2-.1 2.4-1.9-4.2.3z"/><path color="#77d153" d="M817 192.1l4.1.7 2.5 1.3-4.1-.5z"/><path color="#90d743" d="M929.5 184.6l4.2.4 2.3-1.5-4.2-.4z"/><path color="#8bd646" d="M791.4 184.6l4.1.8 2.6 2.1-4.1-.8z"/><path color="#89d548" d="M912.1 188.1l4.2-.3 2.4-2-4.2.1z"/><path color="#69cd5b" d="M842.6 197.8l4.2.5 2.4 1-4.1-.2z"/><path color="#67cc5c" d="M853.4 199.4l4.1 0 2.5-.1-4.2.3z"/><path color="#a5db36" d="M744.2 176.6l4.1 1.1 2.7.4-4.1-1z"/><path color="#70cf57" d="M881.5 197.2l4.2-.1 2.4-1.5-4.2.2z"/><path color="#81d34d" d="M905.5 190.9l4.2-.3 2.4-2.5-4.2.4z"/><path color="#81d34d" d="M806.2 189l4.1.8 2.6 1.7-4.1-.7z"/><path color="#70cf57" d="M831.9 195.3l4.1.5 2.5 1.6-4.1-.5z"/><path color="#69cd5b" d="M864.1 199.1l4.2-.1 2.4-.6-4.1.2z"/><path color="#95d840" d="M780.6 182.2l4.1.5 2.6 1.1-4.1-.6z"/><path color="#90d743" d="M922.9 185.9l4.2.3 2.4-1.6-4.3-.3z"/><path color="#7cd250" d="M898.9 193.4l4.2-.2 2.4-2.3-4.2.3z"/><path color="#9bd93c" d="M769.8 181.1l4.1.4 2.6.3-4-.5z"/><path color="#9dd93b" d="M759.1 179.8l4 .7 2.7.1-4.1-.6z"/><path color="#77d153" d="M821.1 192.8l4.1.7 2.5 1.2-4.1-.6z"/><path color="#6ece58" d="M874.9 198.4l4.2 0 2.4-1.2-4.2.1z"/><path color="#8bd646" d="M795.5 185.4l4 .9 2.6 2-4-.8z"/><path color="#93d741" d="M933.7 185l4.2.6 2.3-1.5-4.2-.6z"/><path color="#77d153" d="M892.3 195.5l4.2-.1 2.4-2-4.2.2z"/><path color="#a5db36" d="M748.3 177.7l4 1.1 2.7.2-4-.9z"/><path color="#8ed645" d="M916.3 187.8l4.2 0 2.4-1.9-4.2-.1z"/><path color="#6ccd5a" d="M846.8 198.3l4.1.4 2.5.7-4.2-.1z"/><path color="#6ccd5a" d="M857.5 199.4l4.2 0 2.4-.3-4.1.2z"/><path color="#81d34d" d="M810.3 189.8l4.1.8 2.6 1.5-4.1-.6z"/><path color="#73d056" d="M836 195.8l4.1.6 2.5 1.4-4.1-.4z"/><path color="#73d056" d="M885.7 197.1l4.2 0 2.4-1.6-4.2.1z"/><path color="#86d549" d="M909.7 190.6l4.2-.2 2.4-2.6-4.2.3z"/><path color="#98d83e" d="M784.7 182.7l4.1.6 2.6 1.3-4.1-.8z"/><path color="#6ece58" d="M868.3 199l4.2.1 2.4-.7-4.2 0z"/><path color="#93d741" d="M927.1 186.2l4.2.4 2.4-1.6-4.2-.4z"/><path color="#9dd93b" d="M773.9 181.5l4.1.5 2.6.2-4.1-.4z"/><path color="#a0da39" d="M763.1 180.5l4.1.7 2.6-.1-4-.5z"/><path color="#81d34d" d="M903.1 193.2l4.2-.1 2.4-2.5-4.2.3z"/><path color="#7ad151" d="M825.2 193.5l4.1.6 2.6 1.2-4.2-.6z"/><path color="#8ed645" d="M799.5 186.3l4.2.9 2.5 1.8-4.1-.7z"/><path color="#a5db36" d="M752.3 178.8l4.1 1 2.7 0-4.1-.8z"/><path color="#95d840" d="M937.9 185.6l4.2.7 2.4-1.5-4.3-.7z"/><path color="#73d056" d="M879.1 198.4l4.1 0 2.5-1.3-4.2.1z"/><path color="#7cd250" d="M896.5 195.4l4.2-.1 2.4-2.1-4.2.2z"/><path color="#90d743" d="M920.5 187.8l4.2.2 2.4-1.8-4.2-.3z"/><path color="#6ece58" d="M850.9 198.7l4.2.3 2.4.4-4.1 0z"/><path color="#84d44b" d="M814.4 190.6l4.2.8 2.5 1.4-4.1-.7z"/><path color="#addc30" d="M741.5 176.1l4.1 1.4 2.7.2-4.1-1.1z"/><path color="#70cf57" d="M861.7 199.4l4.1 0 2.5-.4-4.2.1z"/><path color="#75d054" d="M840.1 196.4l4.2.6 2.5 1.3-4.2-.5z"/><path color="#98d83e" d="M788.8 183.3l4 .7 2.7 1.4-4.1-.8z"/><path color="#77d153" d="M889.9 197.1l4.2.1 2.4-1.8-4.2.1z"/><path color="#95d840" d="M931.3 186.6l4.3.6 2.3-1.6-4.2-.6z"/><path color="#8bd646" d="M913.9 190.4l4.2-.2 2.4-2.4-4.2 0z"/><path color="#a0da39" d="M778 182l4.1.5 2.6.2-4.1-.5z"/><path color="#73d056" d="M872.5 199.1l4.1.2 2.5-.9-4.2 0z"/><path color="#a2da37" d="M767.2 181.2l4.1.6 2.6-.3-4.1-.4z"/><path color="#8ed645" d="M803.7 187.2l4.1 1 2.5 1.6-4.1-.8z"/><path color="#7cd250" d="M829.3 194.1l4.2.7 2.5 1-4.1-.5z"/><path color="#a5db36" d="M756.4 179.8l4.1 1 2.6-.3-4-.7z"/><path color="#95d840" d="M942.1 186.3l4.3.8 2.3-1.5-4.2-.8z"/><path color="#86d549" d="M907.3 193.1l4.2-.1 2.4-2.6-4.2.2z"/><path color="#addc30" d="M745.6 177.5l4.1 1.3 2.6 0-4-1.1z"/><path color="#75d054" d="M883.2 198.4l4.2.2 2.5-1.5-4.2 0z"/><path color="#84d44b" d="M818.6 191.4l4.1.8 2.5 1.3-4.1-.7z"/><path color="#93d741" d="M924.7 188l4.3.4 2.3-1.8-4.2-.4z"/><path color="#7fd34e" d="M900.7 195.3l4.2.1 2.4-2.3-4.2.1z"/><path color="#73d056" d="M855.1 199l4.1.3 2.5.1-4.2 0z"/><path color="#9bd93c" d="M792.8 184l4.1.8 2.6 1.5-4-.9z"/><path color="#77d153" d="M844.3 197l4.1.6 2.5 1.1-4.1-.4z"/><path color="#73d056" d="M865.8 199.4l4.2.2 2.5-.5-4.2-.1z"/><path color="#95d840" d="M935.6 187.2l4.2.7 2.3-1.6-4.2-.7z"/><path color="#8ed645" d="M807.8 188.2l4.1.9 2.5 1.5-4.1-.8z"/><path color="#a2da37" d="M782.1 182.5l4 .5 2.7.3-4.1-.6z"/><path color="#7cd250" d="M894.1 197.2l4.2.1 2.4-2-4.2.1z"/><path color="#a5db36" d="M771.3 181.8l4 .6 2.7-.4-4.1-.5z"/><path color="#a8db34" d="M760.5 180.8l4 .8 2.7-.4-4.1-.7z"/><path color="#7fd34e" d="M833.5 194.8l4.1.7 2.5.9-4.1-.6z"/><path color="#90d743" d="M918.1 190.2l4.3.1 2.3-2.3-4.2-.2z"/><path color="#98d83e" d="M946.4 187.1l4.2.9 2.3-1.5-4.2-.9z"/><path color="#75d054" d="M876.6 199.3l4.2.2 2.4-1.1-4.1 0z"/><path color="#addc30" d="M749.7 178.8l4 1.2 2.7-.2-4.1-1z"/><path color="#8bd646" d="M911.5 193l4.2 0 2.4-2.8-4.2.2z"/><path color="#86d549" d="M822.7 192.2l4.1.7 2.5 1.2-4.1-.6z"/><path color="#7ad151" d="M887.4 198.6l4.2.2 2.5-1.6-4.2-.1z"/><path color="#95d840" d="M929 188.4l4.2.5 2.4-1.7-4.3-.6z"/><path color="#9bd93c" d="M796.9 184.8l4.2.9 2.6 1.5-4.2-.9z"/><path color="#b8de29" d="M738.8 175.7l4.1 1.6 2.7.2-4.1-1.4z"/><path color="#84d44b" d="M904.9 195.4l4.2.1 2.4-2.5-4.2.1z"/><path color="#75d054" d="M859.2 199.3l4.2.2 2.4-.1-4.1 0z"/><path color="#7ad151" d="M848.4 197.6l4.2.6 2.5.8-4.2-.3z"/><path color="#98d83e" d="M939.8 187.9l4.2.8 2.4-1.6-4.3-.8z"/><path color="#75d054" d="M870 199.6l4.2.4 2.4-.7-4.1-.2z"/><path color="#90d743" d="M811.9 189.1l4.1.9 2.6 1.4-4.2-.8z"/><path color="#a8db34" d="M764.5 181.6l4.1.8 2.7-.6-4.1-.6z"/><path color="#a5db36" d="M786.1 183l4.1.5 2.6.5-4-.7z"/><path color="#98d83e" d="M950.6 188l4.3 1 2.3-1.5-4.3-1z"/><path color="#a8db34" d="M775.3 182.4l4.1.6 2.7-.5-4.1-.5z"/><path color="#7fd34e" d="M837.6 195.5l4.2.7 2.5.8-4.2-.6z"/><path color="#addc30" d="M753.7 180l4.1 1.1 2.7-.3-4.1-1z"/><path color="#7fd34e" d="M898.3 197.3l4.2.2 2.4-2.1-4.2-.1z"/><path color="#93d741" d="M922.4 190.3l4.2.2 2.4-2.1-4.3-.4z"/><path color="#77d153" d="M880.8 199.5l4.2.3 2.4-1.2-4.2-.2z"/><path color="#86d549" d="M826.8 192.9l4.2.8 2.5 1.1-4.2-.7z"/><path color="#b5de2b" d="M742.9 177.3l4.1 1.5 2.7 0-4.1-1.3z"/><path color="#9bd93c" d="M801.1 185.7l4.1 1 2.6 1.5-4.1-1z"/><path color="#8ed645" d="M915.7 193l4.3 0 2.4-2.7-4.3-.1z"/><path color="#98d83e" d="M933.2 188.9l4.3.7 2.3-1.7-4.2-.7z"/><path color="#7cd250" d="M891.6 198.8l4.2.3 2.5-1.8-4.2-.1z"/><path color="#98d83e" d="M944 188.7l4.3.9 2.3-1.6-4.2-.9z"/><path color="#7cd250" d="M852.6 198.2l4.1.5 2.5.6-4.1-.3z"/><path color="#7ad151" d="M863.4 199.5l4.2.4 2.4-.3-4.2-.2z"/><path color="#89d548" d="M909.1 195.5l4.2.1 2.4-2.6-4.2 0z"/><path color="#90d743" d="M816 190l4.1.9 2.6 1.3-4.1-.8z"/><path color="#98d83e" d="M954.9 189l4.2 1.1 2.3-1.6-4.2-1z"/><path color="#aadc32" d="M768.6 182.4l4.1.8 2.6-.8-4-.6z"/><path color="#a5db36" d="M790.2 183.5l4.1.7 2.6.6-4.1-.8z"/><path color="#7ad151" d="M874.2 200l4.2.4 2.4-.9-4.2-.2z"/><path color="#addc30" d="M757.8 181.1l4.1 1.1 2.6-.6-4-.8z"/><path color="#aadc32" d="M779.4 183l4.1.6 2.6-.6-4-.5z"/><path color="#81d34d" d="M841.8 196.2l4.1.6 2.5.8-4.1-.6z"/><path color="#95d840" d="M926.6 190.5l4.3.4 2.3-2-4.2-.5z"/><path color="#84d44b" d="M902.5 197.5l4.2.2 2.4-2.2-4.2-.1z"/><path color="#b5de2b" d="M747 178.8l4.1 1.4 2.6-.2-4-1.2z"/><path color="#7cd250" d="M885 199.8l4.2.4 2.4-1.4-4.2-.2z"/><path color="#89d548" d="M831 193.7l4.1.8 2.5 1-4.1-.7z"/><path color="#9dd93b" d="M805.2 186.7l4.1 1.1 2.6 1.3-4.1-.9z"/><path color="#98d83e" d="M937.5 189.6l4.2.8 2.3-1.7-4.2-.8z"/><path color="#93d741" d="M920 193l4.2.1 2.4-2.6-4.2-.2z"/><path color="#98d83e" d="M948.3 189.6l4.2 1 2.4-1.6-4.3-1z"/><path color="#7fd34e" d="M895.8 199.1l4.3.3 2.4-1.9-4.2-.2z"/><path color="#98d83e" d="M959.1 190.1l4.3 1.1 2.3-1.6-4.3-1.1z"/><path color="#c0df25" d="M736.1 175.2l4.1 1.8 2.7.3-4.1-1.6z"/><path color="#93d741" d="M820.1 190.9l4.2.9 2.5 1.1-4.1-.7z"/><path color="#7fd34e" d="M856.7 198.7l4.2.6 2.5.2-4.2-.2z"/><path color="#7cd250" d="M867.6 199.9l4.1.5 2.5-.4-4.2-.4z"/><path color="#b0dd2f" d="M761.9 182.2l4.1 1 2.6-.8-4.1-.8z"/><path color="#a8db34" d="M794.3 184.2l4.2.8 2.6.7-4.2-.9z"/><path color="#addc30" d="M772.7 183.2l4.1.7 2.6-.9-4.1-.6z"/><path color="#8bd646" d="M913.3 195.6l4.3.2 2.4-2.8-4.3 0z"/><path color="#7cd250" d="M878.4 200.4l4.2.4 2.4-1-4.2-.3z"/><path color="#84d44b" d="M845.9 196.8l4.2.7 2.5.7-4.2-.6z"/><path color="#aadc32" d="M783.5 183.6l4.1.6 2.6-.7-4.1-.5z"/><path color="#b5de2b" d="M751.1 180.2l4 1.4 2.7-.5-4.1-1.1z"/><path color="#98d83e" d="M930.9 190.9l4.2.6 2.4-1.9-4.3-.7z"/><path color="#9dd93b" d="M809.3 187.8l4.1 1 2.6 1.2-4.1-.9z"/><path color="#86d549" d="M906.7 197.7l4.2.3 2.4-2.4-4.2-.1z"/><path color="#8bd646" d="M835.1 194.5l4.2.8 2.5.9-4.2-.7z"/><path color="#7fd34e" d="M889.2 200.2l4.2.4 2.4-1.5-4.2-.3z"/><path color="#9bd93c" d="M941.7 190.4l4.3.9 2.3-1.7-4.3-.9z"/><path color="#bddf26" d="M740.2 177l4.1 1.7 2.7.1-4.1-1.5z"/><path color="#9bd93c" d="M952.5 190.6l4.3 1.1 2.3-1.6-4.2-1.1z"/><path color="#98d83e" d="M963.4 191.2l4.2 1.3 2.3-1.7-4.2-1.2z"/><path color="#95d840" d="M924.2 193.1l4.3.3 2.4-2.5-4.3-.4z"/><path color="#93d741" d="M824.3 191.8l4.1 1 2.6.9-4.2-.8z"/><path color="#84d44b" d="M900.1 199.4l4.2.4 2.4-2.1-4.2-.2z"/><path color="#b0dd2f" d="M766 183.2l4.1 1 2.6-1-4.1-.8z"/><path color="#a8db34" d="M798.5 185l4.1 1 2.6.7-4.1-1z"/><path color="#81d34d" d="M860.9 199.3l4.2.6 2.5 0-4.2-.4z"/><path color="#7fd34e" d="M871.7 200.4l4.2.5 2.5-.5-4.2-.4z"/><path color="#addc30" d="M776.8 183.9l4.1.8 2.6-1.1-4.1-.6z"/><path color="#b2dd2d" d="M755.1 181.6l4.1 1.3 2.7-.7-4.1-1.1z"/><path color="#86d549" d="M850.1 197.5l4.2.7 2.4.5-4.1-.5z"/><path color="#addc30" d="M787.6 184.2l4.1.6 2.6-.6-4.1-.7z"/><path color="#90d743" d="M917.6 195.8l4.2.2 2.4-2.9-4.2-.1z"/><path color="#7fd34e" d="M882.6 200.8l4.2.5 2.4-1.1-4.2-.4z"/><path color="#9bd93c" d="M935.1 191.5l4.3.8 2.3-1.9-4.2-.8z"/><path color="#9dd93b" d="M813.4 188.8l4.2 1.1 2.5 1-4.1-.9z"/><path color="#8bd646" d="M839.3 195.3l4.1.8 2.5.7-4.1-.6z"/><path color="#bddf26" d="M744.3 178.7l4.1 1.7 2.7-.2-4.1-1.4z"/><path color="#9bd93c" d="M946 191.3l4.2 1.1 2.3-1.8-4.2-1z"/><path color="#81d34d" d="M893.4 200.6l4.2.5 2.5-1.7-4.3-.3z"/><path color="#89d548" d="M910.9 198l4.3.4 2.4-2.6-4.3-.2z"/><path color="#9bd93c" d="M956.8 191.7l4.3 1.2 2.3-1.7-4.3-1.1z"/><path color="#98d83e" d="M967.6 192.5l4.3 1.3 2.3-1.8-4.3-1.2z"/><path color="#93d741" d="M828.4 192.8l4.2.9 2.5.8-4.1-.8z"/><path color="#a8db34" d="M802.6 186l4.1 1 2.6.8-4.1-1.1z"/><path color="#98d83e" d="M928.5 193.4l4.2.5 2.4-2.4-4.2-.6z"/><path color="#b0dd2f" d="M770.1 184.2l4.1 1 2.6-1.3-4.1-.7z"/><path color="#b2dd2d" d="M759.2 182.9l4.1 1.3 2.7-1-4.1-1z"/><path color="#86d549" d="M904.3 199.8l4.2.5 2.4-2.3-4.2-.3z"/><path color="#84d44b" d="M865.1 199.9l4.2.6 2.4-.1-4.1-.5z"/><path color="#b0dd2f" d="M780.9 184.7l4.1.7 2.6-1.2-4.1-.6z"/><path color="#81d34d" d="M875.9 200.9l4.2.7 2.5-.8-4.2-.4z"/><path color="#cae11f" d="M733.4 174.6l4 2 2.8.4-4.1-1.8z"/><path color="#b0dd2f" d="M791.7 184.8l4.2.6 2.6-.4-4.2-.8z"/><path color="#86d549" d="M854.3 198.2l4.2.7 2.4.4-4.2-.6z"/><path color="#bade28" d="M748.4 180.4l4.1 1.6 2.6-.4-4-1.4z"/><path color="#81d34d" d="M886.8 201.3l4.2.7 2.4-1.4-4.2-.4z"/><path color="#9bd93c" d="M939.4 192.3l4.2.9 2.4-1.9-4.3-.9z"/><path color="#9dd93b" d="M817.6 189.9l4.1 1.1 2.6.8-4.2-.9z"/><path color="#93d741" d="M921.8 196l4.3.3 2.4-2.9-4.3-.3z"/><path color="#9bd93c" d="M950.2 192.4l4.3 1.1 2.3-1.8-4.3-1.1z"/><path color="#8ed645" d="M843.4 196.1l4.2.8 2.5.6-4.2-.7z"/><path color="#98d83e" d="M961.1 192.9l4.2 1.3 2.3-1.7-4.2-1.3z"/><path color="#95d840" d="M971.9 193.8l4.3 1.3 2.3-1.8-4.3-1.3z"/><path color="#84d44b" d="M897.6 201.1l4.3.6 2.4-1.9-4.2-.4z"/><path color="#8ed645" d="M915.2 198.4l4.2.4 2.4-2.8-4.2-.2z"/><path color="#95d840" d="M832.6 193.7l4.1.9 2.6.7-4.2-.8z"/><path color="#a8db34" d="M806.7 187l4.2 1.2 2.5.6-4.1-1z"/><path color="#c8e020" d="M737.4 176.6l4.1 2 2.8.1-4.1-1.7z"/><path color="#b2dd2d" d="M763.3 184.2l4.1 1.2 2.7-1.2-4.1-1z"/><path color="#b2dd2d" d="M774.2 185.2l4.1 1 2.6-1.5-4.1-.8z"/><path color="#9bd93c" d="M932.7 193.9l4.3.6 2.4-2.2-4.3-.8z"/><path color="#b2dd2d" d="M785 185.4l4.1.8 2.6-1.4-4.1-.6z"/><path color="#bade28" d="M752.5 182l4.1 1.6 2.6-.7-4.1-1.3z"/><path color="#84d44b" d="M869.3 200.5l4.2.8 2.4-.4-4.2-.5z"/><path color="#89d548" d="M908.5 200.3l4.3.5 2.4-2.4-4.3-.4z"/><path color="#84d44b" d="M880.1 201.6l4.3.7 2.4-1-4.2-.5z"/><path color="#b0dd2f" d="M795.9 185.4l4.1.8 2.6-.2-4.1-1z"/><path color="#89d548" d="M858.5 198.9l4.1.7 2.5.3-4.2-.6z"/><path color="#9bd93c" d="M943.6 193.2l4.3 1.1 2.3-1.9-4.2-1.1z"/><path color="#9dd93b" d="M821.7 191l4.2 1.1 2.5.7-4.1-1z"/><path color="#84d44b" d="M891 202l4.2.6 2.4-1.5-4.2-.5z"/><path color="#9bd93c" d="M954.5 193.5l4.2 1.3 2.4-1.9-4.3-1.2z"/><path color="#95d840" d="M976.2 195.1l4.3 1.4 2.3-1.9-4.3-1.3z"/><path color="#98d83e" d="M965.3 194.2l4.3 1.4 2.3-1.8-4.3-1.3z"/><path color="#95d840" d="M926.1 196.3l4.2.4 2.4-2.8-4.2-.5z"/><path color="#8ed645" d="M847.6 196.9l4.2.8 2.5.5-4.2-.7z"/><path color="#c5e021" d="M741.5 178.6l4.2 1.9 2.7-.1-4.1-1.7z"/><path color="#86d549" d="M901.9 201.7l4.2.6 2.4-2-4.2-.5z"/><path color="#a8db34" d="M810.9 188.2l4.1 1.1 2.6.6-4.2-1.1z"/><path color="#90d743" d="M919.4 198.8l4.3.5 2.4-3-4.3-.3z"/><path color="#b2dd2d" d="M767.4 185.4l4.1 1.3 2.7-1.5-4.1-1z"/><path color="#95d840" d="M836.7 194.6l4.2 1 2.5.5-4.1-.8z"/><path color="#b2dd2d" d="M778.3 186.2l4.1.9 2.6-1.7-4.1-.7z"/><path color="#b8de29" d="M756.6 183.6l4.1 1.6 2.6-1-4.1-1.3z"/><path color="#9bd93c" d="M937 194.5l4.2.9 2.4-2.2-4.2-.9z"/><path color="#b2dd2d" d="M789.1 186.2l4.2.7 2.6-1.5-4.2-.6z"/><path color="#86d549" d="M873.5 201.3l4.2.8 2.4-.5-4.2-.7z"/><path color="#b0dd2f" d="M800 186.2l4.1 1 2.6-.2-4.1-1z"/><path color="#9bd93c" d="M947.9 194.3l4.2 1.2 2.4-2-4.3-1.1z"/><path color="#84d44b" d="M884.4 202.3l4.2.8 2.4-1.1-4.2-.7z"/><path color="#9dd93b" d="M825.9 192.1l4.1 1.1 2.6.5-4.2-.9z"/><path color="#8bd646" d="M912.8 200.8l4.2.6 2.4-2.6-4.2-.4z"/><path color="#95d840" d="M980.5 196.5l4.3 1.4 2.2-1.9-4.2-1.4z"/><path color="#9bd93c" d="M958.7 194.8l4.3 1.3 2.3-1.9-4.2-1.3z"/><path color="#98d83e" d="M969.6 195.6l4.3 1.4 2.3-1.9-4.3-1.3z"/><path color="#8bd646" d="M862.6 199.6l4.2.8 2.5.1-4.2-.6z"/><path color="#c2df23" d="M745.7 180.5l4.1 1.9 2.7-.4-4.1-1.6z"/><path color="#84d44b" d="M895.2 202.6l4.3.8 2.4-1.7-4.3-.6z"/><path color="#d2e21b" d="M730.6 173.7l4.1 2.3 2.7.6-4-2z"/><path color="#90d743" d="M851.8 197.7l4.2.9 2.5.3-4.2-.7z"/><path color="#98d83e" d="M930.3 196.7l4.3.5 2.4-2.7-4.3-.6z"/><path color="#a8db34" d="M815 189.3l4.2 1.3 2.5.4-4.1-1.1z"/><path color="#b2dd2d" d="M771.5 186.7l4.2 1.2 2.6-1.7-4.1-1z"/><path color="#89d548" d="M906.1 202.3l4.2.7 2.5-2.2-4.3-.5z"/><path color="#b8de29" d="M760.7 185.2l4.1 1.5 2.6-1.3-4.1-1.2z"/><path color="#98d83e" d="M840.9 195.6l4.2.9 2.5.4-4.2-.8z"/><path color="#b2dd2d" d="M782.4 187.1l4.1 1 2.6-1.9-4.1-.8z"/><path color="#93d741" d="M923.7 199.3l4.2.5 2.4-3.1-4.2-.4z"/><path color="#9bd93c" d="M941.2 195.4l4.3 1 2.4-2.1-4.3-1.1z"/><path color="#9bd93c" d="M952.1 195.5l4.3 1.2 2.3-1.9-4.2-1.3z"/><path color="#b2dd2d" d="M804.1 187.2l4.2 1.1 2.6-.1-4.2-1.2z"/><path color="#93d741" d="M984.8 197.9l4.2 1.5 2.3-2.1-4.3-1.3z"/><path color="#95d840" d="M973.9 197l4.3 1.5 2.3-2-4.3-1.4z"/><path color="#98d83e" d="M963 196.1l4.3 1.4 2.3-1.9-4.3-1.4z"/><path color="#c0df25" d="M749.8 182.4l4.1 1.9 2.7-.7-4.1-1.6z"/><path color="#b5de2b" d="M793.3 186.9l4.1.8 2.6-1.5-4.1-.8z"/><path color="#d0e11c" d="M734.7 176l4.1 2.3 2.7.3-4.1-2z"/><path color="#a0da39" d="M830 193.2l4.2 1.1 2.5.3-4.1-.9z"/><path color="#86d549" d="M877.7 202.1l4.2.9 2.5-.7-4.3-.7z"/><path color="#86d549" d="M888.6 203.1l4.2.8 2.4-1.3-4.2-.6z"/><path color="#8bd646" d="M866.8 200.4l4.2 1 2.5-.1-4.2-.8z"/><path color="#8ed645" d="M917 201.4l4.3.7 2.4-2.8-4.3-.5z"/><path color="#86d549" d="M899.5 203.4l4.2.8 2.4-1.9-4.2-.6z"/><path color="#90d743" d="M856 198.6l4.2.8 2.4.2-4.1-.7z"/><path color="#9bd93c" d="M934.6 197.2l4.3.7 2.3-2.5-4.2-.9z"/><path color="#a8db34" d="M819.2 190.6l4.1 1.2 2.6.3-4.2-1.1z"/><path color="#b5de2b" d="M764.8 186.7l4.1 1.6 2.6-1.6-4.1-1.3z"/><path color="#b2dd2d" d="M775.7 187.9l4.1 1.3 2.6-2.1-4.1-.9z"/><path color="#98d83e" d="M845.1 196.5l4.2 1 2.5.2-4.2-.8z"/><path color="#89d548" d="M910.3 203l4.3.8 2.4-2.4-4.2-.6z"/><path color="#cde11d" d="M738.8 178.3l4.1 2.3 2.8-.1-4.2-1.9z"/><path color="#463480" d="M782 360.1l4.2 5 2.5-9.9-4.2-4.6z"/><path color="#482878" d="M779.5 367.9l4.1 4.9 2.6-7.7-4.2-5z"/><path color="#482173" d="M783.6 372.8l4.2 4.6 2.5-7.9-4.1-4.4z"/><path color="#9bd93c" d="M945.5 196.4l4.3 1.2 2.3-2.1-4.2-1.2z"/><path color="#443b84" d="M777.8 354.7l4.2 5.4 2.5-9.5-4.2-5.1z"/><path color="#b5de2b" d="M786.5 188.1l4.2.9 2.6-2.1-4.2-.7z"/><path color="#472e7c" d="M786.2 365.1l4.1 4.4 2.6-10.1-4.2-4.2z"/><path color="#bddf26" d="M753.9 184.3l4.1 1.9 2.7-1-4.1-1.6z"/><path color="#472f7d" d="M775.3 362.4l4.2 5.5 2.5-7.8-4.2-5.4z"/><path color="#95d840" d="M978.2 198.5l4.3 1.5 2.3-2.1-4.3-1.4z"/><path color="#93d741" d="M989 199.4l4.3 1.5 2.3-2.2-4.3-1.4z"/><path color="#9bd93c" d="M956.4 196.7l4.3 1.4 2.3-2-4.3-1.3z"/><path color="#98d83e" d="M967.3 197.5l4.3 1.5 2.3-2-4.3-1.4z"/><path color="#95d840" d="M927.9 199.8l4.3.5 2.4-3.1-4.3-.5z"/><path color="#481c6e" d="M787.8 377.4l4.2 4.1 2.5-8.1-4.2-3.9z"/><path color="#b0dd2f" d="M808.3 188.3l4.1 1.2 2.6-.2-4.1-1.1z"/><path color="#414287" d="M773.6 348.9l4.2 5.8 2.5-9.2-4.1-5.6z"/><path color="#482979" d="M790.3 369.5l4.2 3.9 2.5-10.4-4.1-3.6z"/><path color="#a0da39" d="M834.2 194.3l4.2 1.1 2.5.2-4.2-1z"/><path color="#453882" d="M771.1 356.6l4.2 5.8 2.5-7.7-4.2-5.8z"/><path color="#b5de2b" d="M797.4 187.7l4.1.8 2.6-1.3-4.1-1z"/><path color="#89d548" d="M881.9 203l4.2.9 2.5-.8-4.2-.8z"/><path color="#86d549" d="M892.8 203.9l4.2.9 2.5-1.4-4.3-.8z"/><path color="#8bd646" d="M871 201.4l4.3 1 2.4-.3-4.2-.8z"/><path color="#481769" d="M792 381.5l4.1 3.6 2.6-8.3-4.2-3.4z"/><path color="#3e4989" d="M780.3 345.5l4.2 5.1 2.5-11.6-4.2-4.7z"/><path color="#3e4a89" d="M769.4 342.8l4.2 6.1 2.6-9-4.2-6z"/><path color="#414487" d="M784.5 350.6l4.2 4.6 2.5-11.9-4.2-4.3z"/><path color="#8ed645" d="M921.3 202.1l4.2.7 2.4-3-4.2-.5z"/><path color="#3c508b" d="M776.2 339.9l4.1 5.6 2.5-11.2-4.1-5.2z"/><path color="#424086" d="M766.9 350.3l4.2 6.3 2.5-7.7-4.2-6.1z"/><path color="#482576" d="M794.5 373.4l4.2 3.4 2.5-10.8-4.2-3z"/><path color="#89d548" d="M903.7 204.2l4.2.9 2.4-2.1-4.2-.7z"/><path color="#481a6c" d="M781 377.7l4.2 4.8 2.6-5.1-4.2-4.6z"/><path color="#433e85" d="M788.7 355.2l4.2 4.2 2.4-12.2-4.1-3.9z"/><path color="#482071" d="M776.9 372.4l4.1 5.3 2.6-4.9-4.1-4.9z"/><path color="#b5de2b" d="M768.9 188.3l4.1 1.5 2.7-1.9-4.2-1.2z"/><path color="#a8db34" d="M823.3 191.8l4.2 1.3 2.5.1-4.1-1.1z"/><path color="#c8e020" d="M742.9 180.6l4.2 2.2 2.7-.4-4.1-1.9z"/><path color="#93d741" d="M860.2 199.4l4.2 1 2.4 0-4.2-.8z"/><path color="#9bd93c" d="M938.9 197.9l4.2 1 2.4-2.5-4.3-1z"/><path color="#39568c" d="M772 333.9l4.2 6 2.5-10.8-4.2-5.5z"/><path color="#471365" d="M785.2 382.5l4.2 4.3 2.6-5.3-4.2-4.1z"/><path color="#b2dd2d" d="M779.8 189.2l4.1 1.2 2.6-2.3-4.1-1z"/><path color="#482979" d="M772.7 366.7l4.2 5.7 2.6-4.5-4.2-5.5z"/><path color="#bade28" d="M758 186.2l4.1 1.9 2.7-1.4-4.1-1.5z"/><path color="#3b528b" d="M765.2 336.3l4.2 6.5 2.6-8.9-4.2-6.4z"/><path color="#471365" d="M796.1 385.1l4.2 3 2.5-8.7-4.1-2.6z"/><path color="#98d83e" d="M849.3 197.5l4.2 1 2.5.1-4.2-.9z"/><path color="#9bd93c" d="M949.8 197.6l4.3 1.3 2.3-2.2-4.3-1.2z"/><path color="#443983" d="M792.9 359.4l4.1 3.6 2.5-12.6-4.2-3.2z"/><path color="#93d741" d="M982.5 200l4.3 1.5 2.2-2.1-4.2-1.5z"/><path color="#470d60" d="M789.4 386.8l4.2 3.9 2.5-5.6-4.1-3.6z"/><path color="#98d83e" d="M971.6 199l4.3 1.5 2.3-2-4.3-1.5z"/><path color="#9bd93c" d="M960.7 198.1l4.3 1.4 2.3-2-4.3-1.4z"/><path color="#3e4989" d="M762.7 343.7l4.2 6.6 2.5-7.5-4.2-6.5z"/><path color="#8bd646" d="M914.6 203.8l4.2.8 2.5-2.5-4.3-.7z"/><path color="#dfe318" d="M727.8 172.6l4.1 2.8 2.8.6-4.1-2.3z"/><path color="#46307e" d="M768.5 360.7l4.2 6 2.6-4.3-4.2-5.8z"/><path color="#b5de2b" d="M790.7 189l4.1 1 2.6-2.3-4.1-.8z"/><path color="#355e8d" d="M767.8 327.5l4.2 6.4 2.5-10.3-4.2-6z"/><path color="#b0dd2f" d="M812.4 189.5l4.2 1.3 2.6-.2-4.2-1.3z"/><path color="#482173" d="M798.7 376.8l4.1 2.6 2.5-11.2-4.1-2.2z"/><path color="#95d840" d="M932.2 200.3l4.3.6 2.4-3-4.3-.7z"/><path color="#a0da39" d="M838.4 195.4l4.2 1.1 2.5 0-4.2-.9z"/><path color="#b8de29" d="M801.5 188.5l4.2.9 2.6-1.1-4.2-1.1z"/><path color="#375b8d" d="M761 329.6l4.2 6.7 2.6-8.8-4.2-6.8z"/><path color="#89d548" d="M886.1 203.9l4.3 1.1 2.4-1.1-4.2-.8z"/><path color="#46085c" d="M793.6 390.7l4.1 3.2 2.6-5.8-4.2-3z"/><path color="#c5e021" d="M747.1 182.8l4.1 2.3 2.7-.8-4.1-1.9z"/><path color="#453781" d="M797 363l4.2 3 2.5-12.9-4.2-2.7z"/><path color="#355f8d" d="M778.7 329.1l4.1 5.2 2.5-13.2-4.2-4.7z"/><path color="#443a83" d="M764.3 354.3l4.2 6.4 2.6-4.1-4.2-6.3z"/><path color="#89d548" d="M897 204.8l4.3 1 2.4-1.6-4.2-.8z"/><path color="#375a8c" d="M782.8 334.3l4.2 4.7 2.5-13.5-4.2-4.4z"/><path color="#8ed645" d="M875.3 202.4l4.2 1.1 2.4-.5-4.2-.9z"/><path color="#31668e" d="M763.6 320.7l4.2 6.8 2.5-9.9-4.2-6.4z"/><path color="#32658e" d="M774.5 323.6l4.2 5.5 2.4-12.7-4.1-5.1z"/><path color="#3b528b" d="M758.5 336.8l4.2 6.9 2.5-7.4-4.2-6.7z"/><path color="#3a548c" d="M787 339l4.2 4.3 2.5-13.7-4.2-4.1z"/><path color="#b2dd2d" d="M773 189.8l4.2 1.6 2.6-2.2-4.1-1.3z"/><path color="#471063" d="M800.3 388.1l4.1 2.2 2.6-9.2-4.2-1.7z"/><path color="#a8db34" d="M827.5 193.1l4.2 1.3 2.5-.1-4.2-1.1z"/><path color="#90d743" d="M925.5 202.8l4.3.7 2.4-3.2-4.3-.5z"/><path color="#d8e219" d="M731.9 175.4l4.2 2.8 2.7.1-4.1-2.3z"/><path color="#b8de29" d="M762.1 188.1l4.2 1.9 2.6-1.7-4.1-1.6z"/><path color="#89d548" d="M907.9 205.1l4.3.9 2.4-2.2-4.3-.8z"/><path color="#2f6b8e" d="M770.3 317.6l4.2 6 2.5-12.3-4.2-5.5z"/><path color="#93d741" d="M864.4 200.4l4.2 1 2.4 0-4.2-1z"/><path color="#9bd93c" d="M943.1 198.9l4.3 1.1 2.4-2.4-4.3-1.2z"/><path color="#b2dd2d" d="M783.9 190.4l4.2 1.2 2.6-2.6-4.2-.9z"/><path color="#3c508b" d="M791.2 343.3l4.1 3.9 2.5-14-4.1-3.6z"/><path color="#93d741" d="M986.8 201.5l4.3 1.5 2.2-2.1-4.3-1.5z"/><path color="#9bd93c" d="M954.1 198.9l4.2 1.4 2.4-2.2-4.3-1.4z"/><path color="#95d840" d="M975.9 200.5l4.2 1.6 2.4-2.1-4.3-1.5z"/><path color="#414287" d="M760.1 347.6l4.2 6.7 2.6-4-4.2-6.6z"/><path color="#98d83e" d="M965 199.5l4.2 1.6 2.4-2.1-4.3-1.5z"/><path color="#32648e" d="M756.8 322.5l4.2 7.1 2.6-8.9-4.3-7z"/><path color="#450559" d="M797.7 393.9l4.2 2.5 2.5-6.1-4.1-2.2z"/><path color="#482071" d="M802.8 379.4l4.2 1.7 2.5-11.6-4.2-1.3z"/><path color="#9bd93c" d="M853.5 198.5l4.2.9 2.5 0-4.2-.8z"/><path color="#2c718e" d="M766.1 311.2l4.2 6.4 2.5-11.8-4.2-5.8z"/><path color="#2e6e8e" d="M759.3 313.7l4.3 7 2.5-9.5-4.2-6.8z"/><path color="#b0dd2f" d="M816.6 190.8l4.2 1.4 2.5-.4-4.1-1.2z"/><path color="#463480" d="M801.2 366l4.1 2.2 2.5-13.3-4.1-1.8z"/><path color="#c0df25" d="M751.2 185.1l4.1 2.3 2.7-1.2-4.1-1.9z"/><path color="#b5de2b" d="M794.8 190l4.2.9 2.5-2.4-4.1-.8z"/><path color="#8bd646" d="M918.8 204.6l4.3.9 2.4-2.7-4.2-.7z"/><path color="#375b8d" d="M754.2 329.6l4.3 7.2 2.5-7.2-4.2-7.1z"/><path color="#3d4d8a" d="M795.3 347.2l4.2 3.2 2.5-14.2-4.2-3z"/><path color="#48186a" d="M778.4 378.9l4.2 5.2 2.6-1.6-4.2-4.8z"/><path color="#471063" d="M782.6 384.1l4.2 4.6 2.6-1.9-4.2-4.3z"/><path color="#d2e21b" d="M736.1 178.2l4.1 2.8 2.7-.4-4.1-2.3z"/><path color="#a0da39" d="M842.6 196.5l4.2 1.1 2.5-.1-4.2-1z"/><path color="#482071" d="M774.2 373.4l4.2 5.5 2.6-1.2-4.1-5.3z"/><path color="#b8de29" d="M805.7 189.4l4.1 1.1 2.6-1-4.1-1.2z"/><path color="#98d83e" d="M936.5 200.9l4.3.8 2.3-2.8-4.2-1z"/><path color="#89d548" d="M890.4 205l4.2 1.1 2.4-1.3-4.2-.9z"/><path color="#460a5d" d="M786.8 388.7l4.2 4.1 2.6-2.1-4.2-3.9z"/><path color="#29798e" d="M761.9 304.4l4.2 6.8 2.5-11.2-4.2-6.1z"/><path color="#3d4d8a" d="M755.8 340.6l4.3 7 2.6-3.9-4.2-6.9z"/><path color="#8ed645" d="M879.5 203.5l4.2 1.1 2.4-.7-4.2-.9z"/><path color="#89d548" d="M901.3 205.8l4.2 1.1 2.4-1.8-4.2-.9z"/><path color="#471063" d="M804.4 390.3l4.2 1.5 2.5-9.6-4.1-1.1z"/><path color="#b2dd2d" d="M777.2 191.4l4.1 1.5 2.6-2.5-4.1-1.2z"/><path color="#482878" d="M770 367.5l4.2 5.9 2.7-1-4.2-5.7z"/><path color="#b5de2b" d="M766.3 190l4.1 1.9 2.6-2.1-4.1-1.5z"/><path color="#2e6d8e" d="M752.6 315.2l4.2 7.3 2.5-8.8-4.2-7.3z"/><path color="#a8db34" d="M831.7 194.4l4.2 1.2 2.5-.2-4.2-1.1z"/><path color="#2a768e" d="M755.1 306.4l4.2 7.3 2.6-9.3-4.3-7.2z"/><path color="#9bd93c" d="M947.4 200l4.3 1.2 2.4-2.3-4.3-1.3z"/><path color="#93d741" d="M868.6 201.4l4.2 1.2 2.5-.2-4.3-1z"/><path color="#450559" d="M791 392.8l4.1 3.2 2.6-2.1-4.1-3.2z"/><path color="#89d548" d="M912.2 206l4.2 1 2.4-2.4-4.2-.8z"/><path color="#3e4a89" d="M799.5 350.4l4.2 2.7 2.5-14.6-4.2-2.3z"/><path color="#93d741" d="M929.8 203.5l4.3.8 2.4-3.4-4.3-.6z"/><path color="#b5de2b" d="M788.1 191.6l4.1 1.2 2.6-2.8-4.1-1z"/><path color="#93d741" d="M980.1 202.1l4.3 1.6 2.4-2.2-4.3-1.5z"/><path color="#2b748e" d="M777 311.3l4.1 5.1 2.5-14.4-4.2-4.7z"/><path color="#450457" d="M801.9 396.4l4.1 1.5 2.6-6.1-4.2-1.5z"/><path color="#2d708e" d="M781.1 316.4l4.2 4.7 2.5-14.6-4.2-4.5z"/><path color="#9bd93c" d="M958.3 200.3l4.3 1.5 2.4-2.3-4.3-1.4z"/><path color="#98d83e" d="M969.2 201.1l4.3 1.5 2.4-2.1-4.3-1.5z"/><path color="#32648e" d="M750 322.2l4.2 7.4 2.6-7.1-4.2-7.3z"/><path color="#46307e" d="M765.8 361.3l4.2 6.2 2.7-.8-4.2-6z"/><path color="#297a8e" d="M772.8 305.8l4.2 5.5 2.4-14-4.2-5z"/><path color="#bddf26" d="M755.3 187.4l4.2 2.3 2.6-1.6-4.1-1.9z"/><path color="#2f6b8e" d="M785.3 321.1l4.2 4.4 2.5-14.8-4.2-4.2z"/><path color="#cde11d" d="M740.2 181l4.2 2.7 2.7-.9-4.2-2.2z"/><path color="#26818e" d="M757.6 297.2l4.3 7.2 2.5-10.5-4.3-6.6z"/><path color="#b0dd2f" d="M820.8 192.2l4.1 1.4 2.6-.5-4.2-1.3z"/><path color="#27808e" d="M768.6 300l4.2 5.8 2.4-13.5-4.2-5.3z"/><path color="#46337f" d="M805.3 368.2l4.2 1.3 2.5-13.5-4.2-1.1z"/><path color="#482071" d="M807 381.1l4.1 1.1 2.5-12-4.1-.7z"/><path color="#9bd93c" d="M857.7 199.4l4.2 1.1 2.5-.1-4.2-1z"/><path color="#39558c" d="M751.6 333.4l4.2 7.2 2.7-3.8-4.3-7.2z"/><path color="#31678e" d="M789.5 325.5l4.2 4.1 2.4-15.1-4.1-3.8z"/><path color="#b8de29" d="M799 190.9l4.1 1 2.6-2.5-4.2-.9z"/><path color="#8ed645" d="M923.1 205.5l4.3.9 2.4-2.9-4.3-.7z"/><path color="#24868e" d="M764.4 293.9l4.2 6.1 2.4-13-4.2-5.5z"/><path color="#443a83" d="M761.6 354.8l4.2 6.5 2.7-.6-4.2-6.4z"/><path color="#b5de2b" d="M809.8 190.5l4.2 1.3 2.6-1-4.2-1.3z"/><path color="#a0da39" d="M846.8 197.6l4.2 1.1 2.5-.2-4.2-1z"/><path color="#2b758e" d="M748.3 307.5l4.3 7.7 2.5-8.8-4.2-7.5z"/><path color="#440154" d="M795.1 396l4.2 2.3 2.6-1.9-4.2-2.5z"/><path color="#277f8e" d="M750.9 298.9l4.2 7.5 2.5-9.2-4.2-7.4z"/><path color="#b2dd2d" d="M770.4 191.9l4.1 1.9 2.7-2.4-4.2-1.6z"/><path color="#98d83e" d="M940.8 201.7l4.2 1 2.4-2.7-4.3-1.1z"/><path color="#33638d" d="M793.7 329.6l4.1 3.6 2.5-15.4-4.2-3.3z"/><path color="#8bd646" d="M894.6 206.1l4.2 1.2 2.5-1.5-4.3-1z"/><path color="#b2dd2d" d="M781.3 192.9l4.2 1.5 2.6-2.8-4.2-1.2z"/><path color="#8ed645" d="M883.7 204.6l4.2 1.3 2.5-.9-4.3-1.1z"/><path color="#3f4889" d="M803.7 353.1l4.1 1.8 2.5-14.7-4.1-1.7z"/><path color="#23888e" d="M753.4 289.8l4.2 7.4 2.5-9.9-4.2-7z"/><path color="#89d548" d="M905.5 206.9l4.3 1.1 2.4-2-4.3-.9z"/><path color="#c8e020" d="M744.4 183.7l4.1 2.7 2.7-1.3-4.1-2.3z"/><path color="#228d8d" d="M760.1 287.3l4.3 6.6 2.4-12.4-4.2-5.9z"/><path color="#2e6d8e" d="M745.8 314.6l4.2 7.6 2.6-7-4.3-7.7z"/><path color="#471164" d="M808.6 391.8l4.2.7 2.5-10-4.2-.3z"/><path color="#eae51a" d="M725 171.5l4.2 3.8 2.7.1-4.1-2.8z"/><path color="#bade28" d="M759.5 189.7l4.1 2.2 2.7-1.9-4.2-1.9z"/><path color="#a8db34" d="M835.9 195.6l4.1 1.2 2.6-.3-4.2-1.1z"/><path color="#9bd93c" d="M951.7 201.2l4.3 1.5 2.3-2.4-4.2-1.4z"/><path color="#93d741" d="M984.4 203.7l4.4 1.6 2.3-2.3-4.3-1.5z"/><path color="#95d840" d="M973.5 202.6l4.3 1.7 2.3-2.2-4.2-1.6z"/><path color="#98d83e" d="M962.6 201.8l4.3 1.5 2.3-2.2-4.2-1.6z"/><path color="#93d741" d="M872.8 202.6l4.2 1.3 2.5-.4-4.2-1.1z"/><path color="#414487" d="M757.4 348l4.2 6.8 2.7-.5-4.2-6.7z"/><path color="#355f8d" d="M747.4 326l4.2 7.4 2.6-3.8-4.2-7.4z"/><path color="#b5de2b" d="M792.2 192.8l4.2 1.2 2.6-3.1-4.2-.9z"/><path color="#8bd646" d="M916.4 207l4.3 1.1 2.4-2.6-4.3-.9z"/><path color="#450457" d="M806 397.9l4.2.4 2.6-5.8-4.2-.7z"/><path color="#93d741" d="M934.1 204.3l4.3.8 2.4-3.4-4.3-.8z"/><path color="#34618d" d="M797.8 333.2l4.2 3 2.5-15.5-4.2-2.9z"/><path color="#b0dd2f" d="M824.9 193.6l4.2 1.4 2.6-.6-4.2-1.3z"/><path color="#1f948c" d="M755.9 280.3l4.2 7 2.5-11.7-4.2-6.1z"/><path color="#dfe318" d="M729.2 175.3l4.1 3.8 2.8-.9-4.2-2.8z"/><path color="#9bd93c" d="M861.9 200.5l4.2 1.2 2.5-.3-4.2-1z"/><path color="#463480" d="M809.5 369.5l4.1.7 2.6-13.8-4.2-.4z"/><path color="#277e8e" d="M744.1 299.7l4.2 7.8 2.6-8.6-4.3-7.8z"/><path color="#24878e" d="M746.6 291.1l4.3 7.8 2.5-9.1-4.2-7.6z"/><path color="#c2df23" d="M748.5 186.4l4.1 2.8 2.7-1.8-4.1-2.3z"/><path color="#440154" d="M799.3 398.3l4.1 1.1 2.6-1.5-4.1-1.5z"/><path color="#b0dd2f" d="M774.5 193.8l4.2 1.9 2.6-2.8-4.1-1.5z"/><path color="#21918c" d="M749.2 282.2l4.2 7.6 2.5-9.5-4.2-7.3z"/><path color="#482374" d="M811.1 382.2l4.2.3 2.5-12.3-4.2 0z"/><path color="#b8de29" d="M803.1 191.9l4.2.9 2.5-2.3-4.1-1.1z"/><path color="#b5de2b" d="M814 191.8l4.2 1.4 2.6-1-4.2-1.4z"/><path color="#8ed645" d="M927.4 206.4l4.3 1 2.4-3.1-4.3-.8z"/><path color="#3d4d8a" d="M753.1 341l4.3 7 2.7-.4-4.3-7z"/><path color="#a0da39" d="M851 198.7l4.2 1.1 2.5-.4-4.2-.9z"/><path color="#b5de2b" d="M763.6 191.9l4.2 2.3 2.6-2.3-4.1-1.9z"/><path color="#b0dd2f" d="M785.5 194.4l4.1 1.5 2.6-3.1-4.1-1.2z"/><path color="#2a768e" d="M741.5 306.7l4.3 7.9 2.5-7.1-4.2-7.8z"/><path color="#228b8d" d="M775.2 292.3l4.2 5 2.5-15.2-4.2-4.6z"/><path color="#98d83e" d="M945 202.7l4.3 1.2 2.4-2.7-4.3-1.2z"/><path color="#21918c" d="M771 287l4.2 5.3 2.5-14.8-4.2-4.9z"/><path color="#24868e" d="M779.4 297.3l4.2 4.7 2.5-15.4-4.2-4.5z"/><path color="#8bd646" d="M898.8 207.3l4.3 1.2 2.4-1.6-4.2-1.1z"/><path color="#d8e219" d="M733.3 179.1l4.2 3.6 2.7-1.7-4.1-2.8z"/><path color="#8ed645" d="M887.9 205.9l4.3 1.3 2.4-1.1-4.2-1.1z"/><path color="#3f4889" d="M807.8 354.9l4.2 1.1 2.5-14.9-4.2-.9z"/><path color="#355f8d" d="M802 336.2l4.2 2.3 2.5-15.6-4.2-2.2z"/><path color="#1f958b" d="M766.8 281.5l4.2 5.5 2.5-14.4-4.2-5z"/><path color="#30698e" d="M743.1 318.4l4.3 7.6 2.6-3.8-4.2-7.6z"/><path color="#26828e" d="M783.6 302l4.2 4.5 2.4-15.6-4.1-4.3z"/><path color="#1e9c89" d="M751.7 273l4.2 7.3 2.5-10.8-4.2-6.5z"/><path color="#89d548" d="M909.8 208l4.2 1.2 2.4-2.2-4.2-1z"/><path color="#93d741" d="M977.8 204.3l4.3 1.6 2.3-2.2-4.3-1.6z"/><path color="#98d83e" d="M956 202.7l4.3 1.5 2.3-2.4-4.3-1.5z"/><path color="#95d840" d="M966.9 203.3l4.3 1.6 2.3-2.3-4.3-1.5z"/><path color="#a8db34" d="M840 196.8l4.2 1.3 2.6-.5-4.2-1.1z"/><path color="#1e9c89" d="M762.6 275.6l4.2 5.9 2.5-13.9-4.2-5.3z"/><path color="#277e8e" d="M787.8 306.5l4.2 4.2 2.4-15.8-4.2-4z"/><path color="#481668" d="M779.9 382.5l4.2 4.7 2.7 1.5-4.2-4.6z"/><path color="#481c6e" d="M775.7 377.2l4.2 5.3 2.7 1.6-4.2-5.2z"/><path color="#93d741" d="M877 203.9l4.2 1.3 2.5-.6-4.2-1.1z"/><path color="#c0df25" d="M752.6 189.2l4.2 2.7 2.7-2.2-4.2-2.3z"/><path color="#b5de2b" d="M796.4 194l4.1 1.2 2.6-3.3-4.1-1z"/><path color="#470e61" d="M784.1 387.2l4.2 3.9 2.7 1.7-4.2-4.1z"/><path color="#8bd646" d="M920.7 208.1l4.3 1.1 2.4-2.8-4.3-.9z"/><path color="#addc30" d="M829.1 195l4.2 1.4 2.6-.8-4.2-1.2z"/><path color="#482576" d="M771.5 371.4l4.2 5.8 2.7 1.7-4.2-5.5z"/><path color="#d0e11c" d="M737.5 182.7l4.2 3.6 2.7-2.6-4.2-2.7z"/><path color="#1fa187" d="M758.4 269.5l4.2 6.1 2.5-13.3-4.2-5.4z"/><path color="#471365" d="M812.8 392.5l4.1-.3 2.6-9.9-4.2.2z"/><path color="#21918c" d="M742.4 283.1l4.2 8 2.6-8.9-4.3-7.9z"/><path color="#297a8e" d="M792 310.7l4.1 3.8 2.5-16-4.2-3.6z"/><path color="#95d840" d="M938.4 205.1l4.2.8 2.4-3.2-4.2-1z"/><path color="#39568c" d="M748.9 333.7l4.2 7.3 2.7-.4-4.2-7.2z"/><path color="#24878e" d="M739.8 291.7l4.3 8 2.5-8.6-4.2-8z"/><path color="#1f9a8a" d="M744.9 274.3l4.3 7.9 2.5-9.2-4.3-7.5z"/><path color="#9bd93c" d="M866.1 201.7l4.2 1.3 2.5-.4-4.2-1.2z"/><path color="#b0dd2f" d="M778.7 195.7l4.1 1.8 2.7-3.1-4.2-1.5z"/><path color="#b2dd2d" d="M767.8 194.2l4.1 2.2 2.6-2.6-4.1-1.9z"/><path color="#20a386" d="M747.4 265.5l4.3 7.5 2.5-10-4.2-6.9z"/><path color="#b5de2b" d="M818.2 193.2l4.2 1.6 2.5-1.2-4.1-1.4z"/><path color="#472d7b" d="M767.3 365.3l4.2 6.1 2.7 2-4.2-5.9z"/><path color="#460a5d" d="M788.3 391.1l4.2 3 2.6 1.9-4.1-3.2z"/><path color="#46075a" d="M810.2 398.3l4.2-.4 2.5-5.7-4.1.3z"/><path color="#22a884" d="M754.2 263l4.2 6.5 2.5-12.6-4.2-5.7z"/><path color="#b8de29" d="M807.3 192.8l4.1 1.2 2.6-2.2-4.2-1.3z"/><path color="#27808e" d="M737.2 298.8l4.3 7.9 2.6-7-4.3-8z"/><path color="#355e8d" d="M806.2 338.5l4.1 1.7 2.5-15.8-4.1-1.5z"/><path color="#2c718e" d="M738.8 310.6l4.3 7.8 2.7-3.8-4.3-7.9z"/><path color="#2a768e" d="M796.1 314.5l4.2 3.3 2.5-16.1-4.2-3.2z"/><path color="#b0dd2f" d="M789.6 195.9l4.2 1.5 2.6-3.4-4.2-1.2z"/><path color="#440154" d="M803.4 399.4l4.2.1 2.6-1.2-4.2-.4z"/><path color="#c8e020" d="M741.7 186.3l4.1 3.6 2.7-3.5-4.1-2.7z"/><path color="#98d83e" d="M949.3 203.9l4.3 1.4 2.4-2.6-4.3-1.5z"/><path color="#a0da39" d="M855.2 199.8l4.2 1.2 2.5-.5-4.2-1.1z"/><path color="#90d743" d="M931.7 207.4l4.2 1 2.5-3.3-4.3-.8z"/><path color="#8bd646" d="M903.1 208.5l4.2 1.3 2.5-1.8-4.3-1.1z"/><path color="#453781" d="M813.6 370.2l4.2 0 2.5-14.1-4.1.3z"/><path color="#bade28" d="M756.8 191.9l4.2 2.7 2.6-2.7-4.1-2.2z"/><path color="#93d741" d="M982.1 205.9l4.3 1.7 2.4-2.3-4.4-1.6z"/><path color="#98d83e" d="M960.3 204.2l4.3 1.6 2.3-2.5-4.3-1.5z"/><path color="#8ed645" d="M892.2 207.2l4.2 1.3 2.4-1.2-4.2-1.2z"/><path color="#95d840" d="M971.2 204.9l4.3 1.7 2.3-2.3-4.3-1.7z"/><path color="#453781" d="M763.1 358.9l4.2 6.4 2.7 2.2-4.2-6.2z"/><path color="#89d548" d="M914 209.2l4.3 1.2 2.4-2.3-4.3-1.1z"/><path color="#a8db34" d="M844.2 198.1l4.3 1.2 2.5-.6-4.2-1.1z"/><path color="#29af7f" d="M750 256.1l4.2 6.9 2.5-11.8-4.2-6z"/><path color="#482576" d="M815.3 382.5l4.2-.2 2.5-12.8-4.2.7z"/><path color="#34608d" d="M744.6 326.3l4.3 7.4 2.7-.3-4.2-7.4z"/><path color="#3e4989" d="M812 356l4.2.4 2.5-15.2-4.2-.1z"/><path color="#93d741" d="M881.2 205.2l4.3 1.4 2.4-.7-4.2-1.3z"/><path color="#1fa287" d="M740.6 266.3l4.3 8 2.5-8.8-4.2-7.8z"/><path color="#c2df23" d="M745.8 189.9l4.2 3.5 2.6-4.2-4.1-2.8z"/><path color="#25ac82" d="M743.2 257.7l4.2 7.8 2.6-9.4-4.3-7.2z"/><path color="#1f9a8a" d="M738.1 274.9l4.3 8.2 2.5-8.8-4.3-8z"/><path color="#b5de2b" d="M800.5 195.2l4.2 1.1 2.6-3.5-4.2-.9z"/><path color="#2b748e" d="M800.3 317.8l4.2 2.9 2.5-16.3-4.2-2.7z"/><path color="#46075a" d="M792.5 394.1l4.1 2 2.7 2.2-4.2-2.3z"/><path color="#addc30" d="M833.3 196.4l4.2 1.4 2.5-1-4.1-1.2z"/><path color="#b0dd2f" d="M771.9 196.4l4.2 2.3 2.6-3-4.2-1.9z"/><path color="#21918c" d="M735.5 283.5l4.3 8.2 2.6-8.6-4.3-8.2z"/><path color="#8bd646" d="M925 209.2l4.2 1.1 2.5-2.9-4.3-1z"/><path color="#addc30" d="M782.8 197.5l4.2 1.9 2.6-3.5-4.1-1.5z"/><path color="#95d840" d="M942.6 205.9l4.3 1.1 2.4-3.1-4.3-1.2z"/><path color="#f1e51d" d="M722.2 171.5l4.2 4.8 2.8-1-4.2-3.8z"/><path color="#424086" d="M758.8 352.3l4.3 6.6 2.7 2.4-4.2-6.5z"/><path color="#9bd93c" d="M870.3 203l4.2 1.4 2.5-.5-4.2-1.3z"/><path color="#b5de2b" d="M761 194.6l4.1 2.7 2.7-3.1-4.2-2.3z"/><path color="#b2dd2d" d="M822.4 194.8l4.2 1.5 2.5-1.3-4.2-1.4z"/><path color="#32b67a" d="M745.7 248.9l4.3 7.2 2.5-10.9-4.3-6.3z"/><path color="#22a785" d="M769.3 267.6l4.2 5 2.4-15.2-4.2-4.6z"/><path color="#23898e" d="M733 290.7l4.2 8.1 2.6-7.1-4.3-8.2z"/><path color="#25ac82" d="M765.1 262.3l4.2 5.3 2.4-14.8-4.2-4.8z"/><path color="#1fa187" d="M773.5 272.6l4.2 4.9 2.4-15.6-4.2-4.5z"/><path color="#e5e419" d="M726.4 176.3l4.2 4.7 2.7-1.9-4.1-3.8z"/><path color="#297b8e" d="M734.6 302.8l4.2 7.8 2.7-3.9-4.3-7.9z"/><path color="#b8de29" d="M811.4 194l4.2 1.3 2.6-2.1-4.2-1.4z"/><path color="#2cb17e" d="M760.9 256.9l4.2 5.4 2.4-14.3-4.2-4.9z"/><path color="#1e9d89" d="M777.7 277.5l4.2 4.6 2.4-15.8-4.2-4.4z"/><path color="#b0dd2f" d="M793.8 197.4l4.1 1.5 2.6-3.7-4.1-1.2z"/><path color="#98d83e" d="M953.6 205.3l4.3 1.5 2.4-2.6-4.3-1.5z"/><path color="#bade28" d="M750 193.4l4.2 3.5 2.6-5-4.2-2.7z"/><path color="#1f998a" d="M781.9 282.1l4.2 4.5 2.4-16.1-4.2-4.2z"/><path color="#dae319" d="M730.6 181l4.2 4.7 2.7-3-4.2-3.6z"/><path color="#34b679" d="M756.7 251.2l4.2 5.7 2.4-13.8-4.2-5.1z"/><path color="#93d741" d="M975.5 206.6l4.3 1.7 2.3-2.4-4.3-1.6z"/><path color="#355e8d" d="M810.3 340.2l4.2.9 2.5-16-4.2-.7z"/><path color="#95d840" d="M964.6 205.8l4.3 1.6 2.3-2.5-4.3-1.6z"/><path color="#a0da39" d="M859.4 201l4.2 1.3 2.5-.6-4.2-1.2z"/><path color="#30698e" d="M740.4 318.8l4.2 7.5 2.8-.3-4.3-7.6z"/><path color="#89d548" d="M907.3 209.8l4.3 1.4 2.4-2-4.2-1.2z"/><path color="#8ed645" d="M896.4 208.5l4.3 1.5 2.4-1.5-4.3-1.2z"/><path color="#90d743" d="M935.9 208.4l4.3 1.1 2.4-3.6-4.2-.8z"/><path color="#1f948c" d="M786.1 286.6l4.1 4.3 2.5-16.3-4.2-4.1z"/><path color="#2c728e" d="M804.5 320.7l4.2 2.2 2.5-16.4-4.2-2.1z"/><path color="#3dbc74" d="M752.5 245.2l4.2 6 2.4-13.2-4.2-5.2z"/><path color="#481769" d="M816.9 392.2l4.2-1.1 2.5-9.9-4.1 1.1z"/><path color="#cde11d" d="M734.8 185.7l4.2 4.5 2.7-3.9-4.2-3.6z"/><path color="#3e4989" d="M754.6 345.4l4.2 6.9 2.8 2.5-4.2-6.8z"/><path color="#89d548" d="M918.3 210.4l4.3 1.3 2.4-2.5-4.3-1.1z"/><path color="#31b57b" d="M738.9 249.8l4.3 7.9 2.5-8.8-4.2-7.5z"/><path color="#a8db34" d="M848.5 199.3l4.2 1.3 2.5-.8-4.2-1.1z"/><path color="#aadc32" d="M776.1 198.7l4.1 2.2 2.6-3.4-4.1-1.8z"/><path color="#40bd72" d="M741.5 241.4l4.2 7.5 2.5-10-4.2-6.5z"/><path color="#93d741" d="M885.5 206.6l4.2 1.5 2.5-.9-4.3-1.3z"/><path color="#25ac82" d="M736.4 258l4.2 8.3 2.6-8.6-4.3-7.9z"/><path color="#21918c" d="M790.2 290.9l4.2 4 2.5-16.4-4.2-3.9z"/><path color="#b0dd2f" d="M765.1 197.3l4.2 2.7 2.6-3.6-4.1-2.2z"/><path color="#c2df23" d="M739 190.2l4.2 4.5 2.6-4.8-4.1-3.6z"/><path color="#4ac16d" d="M748.2 238.9l4.3 6.3 2.4-12.4-4.2-5.4z"/><path color="#20a386" d="M733.8 266.6l4.3 8.3 2.5-8.6-4.2-8.3z"/><path color="#450559" d="M807.6 399.5l4.2-.8 2.6-.8-4.2.4z"/><path color="#b2dd2d" d="M754.2 196.9l4.2 3.4 2.6-5.7-4.2-2.7z"/><path color="#46075a" d="M796.6 396.1l4.2.8 2.6 2.5-4.1-1.1z"/><path color="#aadc32" d="M787 199.4l4.2 1.8 2.6-3.8-4.2-1.5z"/><path color="#addc30" d="M837.5 197.8l4.2 1.4 2.5-1.1-4.2-1.3z"/><path color="#1e9b8a" d="M731.3 275.2l4.2 8.3 2.6-8.6-4.3-8.3z"/><path color="#460b5e" d="M814.4 397.9l4.1-1.4 2.6-5.4-4.2 1.1z"/><path color="#b5de2b" d="M804.7 196.3l4.2 1.2 2.5-3.5-4.1-1.2z"/><path color="#8bd646" d="M929.2 210.3l4.3 1.2 2.4-3.1-4.2-1z"/><path color="#443983" d="M817.8 370.2l4.2-.7 2.5-14.4-4.2 1z"/><path color="#b8de29" d="M743.2 194.7l4.2 4.3 2.6-5.6-4.2-3.5z"/><path color="#98d83e" d="M874.5 204.4l4.3 1.4 2.4-.6-4.2-1.3z"/><path color="#95d840" d="M946.9 207l4.3 1.3 2.4-3-4.3-1.4z"/><path color="#b2dd2d" d="M826.6 196.3l4.2 1.6 2.5-1.5-4.2-1.4z"/><path color="#228d8d" d="M794.4 294.9l4.2 3.6 2.5-16.4-4.2-3.6z"/><path color="#25848e" d="M730.3 294.9l4.3 7.9 2.6-4-4.2-8.1z"/><path color="#58c765" d="M744 232.4l4.2 6.5 2.5-11.5-4.2-5.5z"/><path color="#20928c" d="M728.7 282.5l4.3 8.2 2.5-7.2-4.2-8.3z"/><path color="#3e4c8a" d="M816.2 356.4l4.1-.3 2.6-15.4-4.2.5z"/><path color="#3b528b" d="M750.3 338.3l4.3 7.1 2.8 2.6-4.3-7z"/><path color="#b5de2b" d="M815.6 195.3l4.2 1.5 2.6-2-4.2-1.6z"/><path color="#2c728e" d="M736.1 311.2l4.3 7.6 2.7-.4-4.3-7.8z"/><path color="#95d840" d="M957.9 206.8l4.3 1.6 2.4-2.6-4.3-1.6z"/><path color="#90d743" d="M979.8 208.3l4.3 1.8 2.3-2.5-4.3-1.7z"/><path color="#93d741" d="M968.9 207.4l4.3 1.7 2.3-2.5-4.3-1.7z"/><path color="#b0dd2f" d="M797.9 198.9l4.2 1.5 2.6-4.1-4.2-1.1z"/><path color="#addc30" d="M747.4 199l4.2 4.2 2.6-6.3-4.2-3.5z"/><path color="#482979" d="M819.5 382.3l4.1-1.1 2.6-13-4.2 1.3z"/><path color="#aadc32" d="M758.4 200.3l4.1 3.5 2.6-6.5-4.1-2.7z"/><path color="#50c46a" d="M737.2 233.8l4.3 7.6 2.5-9-4.2-6.8z"/><path color="#a0da39" d="M863.6 202.3l4.2 1.4 2.5-.7-4.2-1.3z"/><path color="#2c718e" d="M808.7 322.9l4.1 1.5 2.5-16.4-4.1-1.5z"/><path color="#aadc32" d="M769.3 200l4.1 2.7 2.7-4-4.2-2.3z"/><path color="#89d548" d="M911.6 211.2l4.3 1.5 2.4-2.3-4.3-1.2z"/><path color="#8bd646" d="M900.7 210l4.2 1.5 2.4-1.7-4.2-1.3z"/><path color="#a8db34" d="M780.2 200.9l4.2 2.2 2.6-3.7-4.2-1.9z"/><path color="#3fbc73" d="M734.6 241.6l4.3 8.2 2.6-8.4-4.3-7.6z"/><path color="#238a8d" d="M798.6 298.5l4.2 3.2 2.5-16.5-4.2-3.1z"/><path color="#67cc5c" d="M739.8 225.6l4.2 6.8 2.5-10.5-4.2-5.8z"/><path color="#90d743" d="M940.2 209.5l4.3 1.1 2.4-3.6-4.3-1.1z"/><path color="#a2da37" d="M751.6 203.2l4.2 4.1 2.6-7-4.2-3.4z"/><path color="#5ac864" d="M754.9 232.8l4.2 5.2 2.5-12.6-4.2-4.6z"/><path color="#50c46a" d="M759.1 238l4.2 5.1 2.5-13.2-4.2-4.5z"/><path color="#89d548" d="M922.6 211.7l4.2 1.4 2.4-2.8-4.2-1.1z"/><path color="#67cc5c" d="M750.7 227.4l4.2 5.4 2.5-12-4.2-4.7z"/><path color="#355f8d" d="M814.5 341.1l4.2.1 2.5-16-4.2-.1z"/><path color="#46c06f" d="M763.3 243.1l4.2 4.9 2.5-13.7-4.2-4.4z"/><path color="#90d743" d="M889.7 208.1l4.3 1.5 2.4-1.1-4.2-1.3z"/><path color="#32b67a" d="M732.1 249.7l4.3 8.3 2.5-8.2-4.3-8.2z"/><path color="#a8db34" d="M852.7 200.6l4.2 1.3 2.5-.9-4.2-1.2z"/><path color="#73d056" d="M746.5 221.9l4.2 5.5 2.5-11.3-4.2-4.8z"/><path color="#3dbc74" d="M767.5 248l4.2 4.8 2.5-14.3-4.2-4.2z"/><path color="#a8db34" d="M791.2 201.2l4.1 1.9 2.6-4.2-4.1-1.5z"/><path color="#27ad81" d="M729.5 258.2l4.3 8.4 2.6-8.6-4.3-8.3z"/><path color="#b8de29" d="M736.4 195.9l4.2 5.3 2.6-6.5-4.2-4.5z"/><path color="#a8db34" d="M740.6 201.2l4.2 5.1 2.6-7.3-4.2-4.3z"/><path color="#c5e021" d="M732.2 190.5l4.2 5.4 2.6-5.7-4.2-4.5z"/><path color="#a2da37" d="M762.5 203.8l4.2 3.3 2.6-7.1-4.2-2.7z"/><path color="#35b779" d="M771.7 252.8l4.2 4.6 2.5-14.7-4.2-4.2z"/><path color="#81d34d" d="M742.3 216.1l4.2 5.8 2.5-10.6-4.2-5z"/><path color="#365c8d" d="M746.1 331.1l4.2 7.2 2.8 2.7-4.2-7.3z"/><path color="#aadc32" d="M841.7 199.2l4.2 1.3 2.6-1.2-4.3-1.2z"/><path color="#20a486" d="M727 266.9l4.3 8.3 2.5-8.6-4.3-8.4z"/><path color="#9bd93c" d="M744.8 206.3l4.2 5 2.6-8.1-4.2-4.2z"/><path color="#d5e21a" d="M728 185l4.2 5.5 2.6-4.8-4.2-4.7z"/><path color="#77d153" d="M735.5 218.5l4.3 7.1 2.5-9.5-4.2-6z"/><path color="#9bd93c" d="M755.8 207.3l4.2 3.9 2.5-7.4-4.1-3.5z"/><path color="#b5de2b" d="M808.9 197.5l4.1 1.2 2.6-3.4-4.2-1.3z"/><path color="#e2e418" d="M723.7 179.3l4.3 5.7 2.6-4-4.2-4.7z"/><path color="#8ed645" d="M749 211.3l4.2 4.8 2.6-8.8-4.2-4.1z"/><path color="#2eb37c" d="M775.9 257.4l4.2 4.5 2.5-15.1-4.2-4.1z"/><path color="#218e8d" d="M726 287l4.3 7.9 2.7-4.2-4.3-8.2z"/><path color="#98d83e" d="M878.8 205.8l4.2 1.6 2.5-.8-4.3-1.4z"/><path color="#b0dd2f" d="M830.8 197.9l4.2 1.5 2.5-1.6-4.2-1.4z"/><path color="#93d741" d="M738.1 210.1l4.2 6 2.5-9.8-4.2-5.1z"/><path color="#95d840" d="M951.2 208.3l4.3 1.4 2.4-2.9-4.3-1.5z"/><path color="#24878e" d="M802.8 301.7l4.2 2.7 2.5-16.5-4.2-2.7z"/><path color="#8bd646" d="M933.5 211.5l4.3 1.3 2.4-3.3-4.3-1.1z"/><path color="#63cb5f" d="M732.9 225.9l4.3 7.9 2.6-8.2-4.3-7.1z"/><path color="#297b8e" d="M731.8 303.6l4.3 7.6 2.7-.6-4.2-7.8z"/><path color="#f1e51d" d="M719.5 173.4l4.2 5.9 2.7-3-4.2-4.8z"/><path color="#1e9d89" d="M724.4 274.4l4.3 8.1 2.6-7.3-4.3-8.3z"/><path color="#84d44b" d="M753.2 216.1l4.2 4.7 2.6-9.6-4.2-3.9z"/><path color="#a5db36" d="M773.4 202.7l4.2 2.6 2.6-4.4-4.1-2.2z"/><path color="#b5de2b" d="M819.8 196.8l4.2 1.7 2.6-2.2-4.2-1.5z"/><path color="#46085c" d="M800.8 396.9l4.2-.2 2.6 2.8-4.2-.1z"/><path color="#93d741" d="M962.2 208.4l4.3 1.7 2.4-2.7-4.3-1.6z"/><path color="#29af7f" d="M780.1 261.9l4.2 4.4 2.5-15.6-4.2-3.9z"/><path color="#90d743" d="M973.2 209.1l4.3 1.8 2.3-2.6-4.3-1.7z"/><path color="#482071" d="M777.2 377.6l4.2 4.5 2.7 5.1-4.2-4.7z"/><path color="#a2da37" d="M733.8 203.9l4.3 6.2 2.5-8.9-4.2-5.3z"/><path color="#a5db36" d="M784.4 203.1l4.2 2.2 2.6-4.1-4.2-1.8z"/><path color="#482878" d="M773 372.3l4.2 5.3 2.7 4.9-4.2-5.3z"/><path color="#77d153" d="M757.4 220.8l4.2 4.6 2.5-10.4-4.1-3.8z"/><path color="#90d743" d="M760 211.2l4.1 3.8 2.6-7.9-4.2-3.3z"/><path color="#addc30" d="M802.1 200.4l4.2 1.5 2.6-4.4-4.2-1.2z"/><path color="#9dd93b" d="M766.7 207.1l4.2 3.3 2.5-7.7-4.1-2.7z"/><path color="#52c569" d="M730.3 233.4l4.3 8.2 2.6-7.8-4.3-7.9z"/><path color="#a0da39" d="M867.8 203.7l4.3 1.5 2.4-.8-4.2-1.4z"/><path color="#25ac82" d="M784.3 266.3l4.2 4.2 2.5-15.9-4.2-3.9z"/><path color="#8bd646" d="M904.9 211.5l4.3 1.5 2.4-1.8-4.3-1.4z"/><path color="#481b6d" d="M781.4 382.1l4.2 3.8 2.7 5.2-4.2-3.9z"/><path color="#481d6f" d="M821.1 391.1l4.2-1.9 2.5-9.8-4.2 1.8z"/><path color="#89d548" d="M915.9 212.7l4.2 1.4 2.5-2.4-4.3-1.3z"/><path color="#8bd646" d="M731.2 211.1l4.3 7.4 2.6-8.4-4.3-6.2z"/><path color="#472f7d" d="M768.7 366.5l4.3 5.8 2.7 4.9-4.2-5.8z"/><path color="#6ece58" d="M761.6 225.4l4.2 4.5 2.5-11.1-4.2-3.8z"/><path color="#2c718e" d="M812.8 324.4l4.2.7 2.5-16.4-4.2-.7z"/><path color="#b5de2b" d="M729.6 197.4l4.2 6.5 2.6-8-4.2-5.4z"/><path color="#32658e" d="M741.8 323.8l4.3 7.3 2.8 2.6-4.3-7.4z"/><path color="#460a5d" d="M811.8 398.7l4.1-1.7 2.6-.5-4.1 1.4z"/><path color="#90d743" d="M894 209.6l4.2 1.6 2.5-1.2-4.3-1.5z"/><path color="#22a884" d="M788.5 270.5l4.2 4.1 2.5-16.2-4.2-3.8z"/><path color="#90d743" d="M944.5 210.6l4.3 1.1 2.4-3.4-4.3-1.3z"/><path color="#42be71" d="M727.8 241.4l4.3 8.3 2.5-8.1-4.3-8.2z"/><path color="#a8db34" d="M795.3 203.1l4.2 1.8 2.6-4.5-4.2-1.5z"/><path color="#86d549" d="M764.1 215l4.2 3.8 2.6-8.4-4.2-3.3z"/><path color="#89d548" d="M926.8 213.1l4.3 1.4 2.4-3-4.3-1.2z"/><path color="#a5db36" d="M856.9 201.9l4.2 1.4 2.5-1-4.2-1.3z"/><path color="#65cb5e" d="M765.8 229.9l4.2 4.4 2.5-11.8-4.2-3.7z"/><path color="#24868e" d="M807 304.4l4.2 2.1 2.5-16.5-4.2-2.1z"/><path color="#433e85" d="M822 369.5l4.2-1.3 2.5-14.7-4.2 1.6z"/><path color="#3c4f8a" d="M820.3 356.1l4.2-1 2.5-15.6-4.1 1.2z"/><path color="#453882" d="M764.5 360.3l4.2 6.2 2.8 4.9-4.2-6.1z"/><path color="#a0da39" d="M777.6 205.3l4.2 2.7 2.6-4.9-4.2-2.2z"/><path color="#34b679" d="M725.2 249.9l4.3 8.3 2.6-8.5-4.3-8.3z"/><path color="#471365" d="M818.5 396.5l4.2-2.1 2.6-5.2-4.2 1.9z"/><path color="#7ad151" d="M728.6 218l4.3 7.9 2.6-7.4-4.3-7.4z"/><path color="#c8e020" d="M725.3 190.7l4.3 6.7 2.6-6.9-4.2-5.5z"/><path color="#aadc32" d="M845.9 200.5l4.2 1.4 2.6-1.3-4.2-1.3z"/><path color="#481769" d="M785.6 385.9l4.2 2.8 2.7 5.4-4.2-3z"/><path color="#28ae80" d="M722.7 258.5l4.3 8.4 2.5-8.7-4.3-8.3z"/><path color="#95d840" d="M770.9 210.4l4.2 3.2 2.5-8.3-4.2-2.6z"/><path color="#20a486" d="M792.7 274.6l4.2 3.9 2.5-16.3-4.2-3.8z"/><path color="#1f978b" d="M721.7 279.1l4.3 7.9 2.7-4.5-4.3-8.1z"/><path color="#25848e" d="M727.5 295.9l4.3 7.7 2.8-.8-4.3-7.9z"/><path color="#b2dd2d" d="M813 198.7l4.2 1.4 2.6-3.3-4.2-1.5z"/><path color="#5cc863" d="M770 234.3l4.2 4.2 2.5-12.4-4.2-3.6z"/><path color="#95d840" d="M883 207.4l4.3 1.6 2.4-.9-4.2-1.5z"/><path color="#93d741" d="M955.5 209.7l4.3 1.6 2.4-2.9-4.3-1.6z"/><path color="#b0dd2f" d="M835 199.4l4.2 1.5 2.5-1.7-4.2-1.4z"/><path color="#a2da37" d="M727 203.7l4.2 7.4 2.6-7.2-4.2-6.5z"/><path color="#7fd34e" d="M768.3 218.8l4.2 3.7 2.6-8.9-4.2-3.2z"/><path color="#b2dd2d" d="M824 198.5l4.2 1.7 2.6-2.3-4.2-1.6z"/><path color="#93d741" d="M966.5 210.1l4.3 1.8 2.4-2.8-4.3-1.7z"/><path color="#90d743" d="M977.5 210.9l4.3 1.8 2.3-2.6-4.3-1.8z"/><path color="#a0da39" d="M788.6 205.3l4.1 2.2 2.6-4.4-4.1-1.9z"/><path color="#8bd646" d="M937.8 212.8l4.3 1.3 2.4-3.5-4.3-1.1z"/><path color="#21a685" d="M720.1 266.2l4.3 8.2 2.6-7.5-4.3-8.4z"/><path color="#34618d" d="M818.7 341.2l4.2-.5 2.5-16.2-4.2.7z"/><path color="#54c568" d="M774.2 238.5l4.2 4.2 2.5-13-4.2-3.6z"/><path color="#472e7c" d="M823.6 381.2l4.2-1.8 2.6-13.2-4.2 2z"/><path color="#1fa188" d="M796.9 278.5l4.2 3.6 2.5-16.3-4.2-3.6z"/><path color="#424186" d="M760.3 353.7l4.2 6.6 2.8 5-4.2-6.4z"/><path color="#dae319" d="M721.1 183.9l4.2 6.8 2.7-5.7-4.3-5.7z"/><path color="#67cc5c" d="M726.1 225.3l4.2 8.1 2.6-7.5-4.3-7.9z"/><path color="#addc30" d="M806.3 201.9l4.2 1.4 2.5-4.6-4.1-1.2z"/><path color="#2e6e8e" d="M737.5 316.3l4.3 7.5 2.8 2.5-4.2-7.5z"/><path color="#9dd93b" d="M872.1 205.2l4.2 1.6 2.5-1-4.3-1.4z"/><path color="#89d548" d="M909.2 213l4.2 1.7 2.5-2-4.3-1.5z"/><path color="#89d548" d="M920.1 214.1l4.3 1.6 2.4-2.6-4.2-1.4z"/><path color="#90d743" d="M775.1 213.6l4.1 3.1 2.6-8.7-4.2-2.7z"/><path color="#77d153" d="M772.5 222.5l4.2 3.6 2.5-9.4-4.1-3.1z"/><path color="#9bd93c" d="M781.8 208l4.2 2.7 2.6-5.4-4.2-2.2z"/><path color="#4cc26c" d="M778.4 242.7l4.2 4.1 2.5-13.6-4.2-3.5z"/><path color="#a5db36" d="M799.5 204.9l4.2 1.8 2.6-4.8-4.2-1.5z"/><path color="#8ed645" d="M898.2 211.2l4.3 1.7 2.4-1.4-4.2-1.5z"/><path color="#56c667" d="M723.5 233.3l4.3 8.1 2.5-8-4.2-8.1z"/><path color="#481467" d="M789.8 388.7l4.1 1.7 2.7 5.7-4.1-2z"/><path color="#90d743" d="M724.4 210.2l4.2 7.8 2.6-6.9-4.2-7.4z"/><path color="#ece51b" d="M716.8 177.5l4.3 6.4 2.6-4.6-4.2-5.9z"/><path color="#b8de29" d="M722.7 196.3l4.3 7.4 2.6-6.3-4.3-6.7z"/><path color="#25858e" d="M811.2 306.5l4.1 1.5 2.5-16.5-4.1-1.5z"/><path color="#90d743" d="M948.8 211.7l4.3 1.3 2.4-3.3-4.3-1.4z"/><path color="#a5db36" d="M861.1 203.3l4.2 1.6 2.5-1.2-4.2-1.4z"/><path color="#89d548" d="M931.1 214.5l4.3 1.4 2.4-3.1-4.3-1.3z"/><path color="#1f9e89" d="M801.1 282.1l4.2 3.1 2.5-16.3-4.2-3.1z"/><path color="#470d60" d="M805 396.7l4.1-1.3 2.7 3.3-4.2.8z"/><path color="#3e4a89" d="M756 346.9l4.3 6.8 2.8 5.2-4.3-6.6z"/><path color="#228d8d" d="M723.3 288.3l4.2 7.6 2.8-1-4.3-7.9z"/><path color="#44bf70" d="M720.9 241.7l4.3 8.2 2.6-8.5-4.3-8.1z"/><path color="#2c728e" d="M817 325.1l4.2.1 2.5-16.5-4.2 0z"/><path color="#44bf70" d="M782.6 246.8l4.2 3.9 2.5-14-4.2-3.5z"/><path color="#1fa188" d="M717.4 271.3l4.3 7.8 2.7-4.7-4.3-8.2z"/><path color="#aadc32" d="M850.1 201.9l4.3 1.5 2.5-1.5-4.2-1.3z"/><path color="#90d743" d="M959.8 211.3l4.3 1.7 2.4-2.9-4.3-1.7z"/><path color="#b2dd2d" d="M817.2 200.1l4.2 1.5 2.6-3.1-4.2-1.7z"/><path color="#9dd93b" d="M792.7 207.5l4.2 2.2 2.6-4.8-4.2-1.8z"/><path color="#35b779" d="M718.4 250.1l4.3 8.4 2.5-8.6-4.3-8.2z"/><path color="#95d840" d="M887.3 209l4.2 1.7 2.5-1.1-4.3-1.5z"/><path color="#70cf57" d="M776.7 226.1l4.2 3.6 2.5-10.1-4.2-2.9z"/><path color="#90d743" d="M970.8 211.9l4.3 1.8 2.4-2.8-4.3-1.8z"/><path color="#addc30" d="M839.2 200.9l4.2 1.5 2.5-1.9-4.2-1.3z"/><path color="#b0dd2f" d="M828.2 200.2l4.2 1.7 2.6-2.5-4.2-1.5z"/><path color="#89d548" d="M779.2 216.7l4.2 2.9 2.6-8.9-4.2-2.7z"/><path color="#29af7f" d="M715.8 258.1l4.3 8.1 2.6-7.7-4.3-8.4z"/><path color="#2a768e" d="M733.3 308.9l4.2 7.4 2.9 2.5-4.3-7.6z"/><path color="#8bd646" d="M942.1 214.1l4.3 1.3 2.4-3.7-4.3-1.1z"/><path color="#7fd34e" d="M721.8 217.5l4.3 7.8 2.5-7.3-4.2-7.8z"/><path color="#3dbc74" d="M786.8 250.7l4.2 3.9 2.5-14.5-4.2-3.4z"/><path color="#95d840" d="M786 210.7l4.2 2.6 2.5-5.8-4.1-2.2z"/><path color="#1e9b8a" d="M805.3 285.2l4.2 2.7 2.5-16.2-4.2-2.8z"/><path color="#cde11d" d="M718.4 189.3l4.3 7 2.6-5.6-4.2-6.8z"/><path color="#9dd93b" d="M876.3 206.8l4.3 1.7 2.4-1.1-4.2-1.6z"/><path color="#addc30" d="M810.5 203.3l4.2 1.4 2.5-4.6-4.2-1.4z"/><path color="#89d548" d="M913.4 214.7l4.3 1.6 2.4-2.2-4.2-1.4z"/><path color="#3a538b" d="M751.7 340l4.3 6.9 2.8 5.4-4.2-6.9z"/><path color="#69cd5b" d="M780.9 229.7l4.2 3.5 2.5-10.7-4.2-2.9z"/><path color="#86d549" d="M924.4 215.7l4.3 1.6 2.4-2.8-4.3-1.4z"/><path color="#a8db34" d="M720.1 202.7l4.3 7.5 2.6-6.5-4.3-7.4z"/><path color="#a2da37" d="M803.7 206.7l4.2 1.8 2.6-5.2-4.2-1.4z"/><path color="#8ed645" d="M902.5 212.9l4.2 1.7 2.5-1.6-4.3-1.5z"/><path color="#6ccd5a" d="M719.2 225.4l4.3 7.9 2.6-8-4.3-7.8z"/><path color="#38b977" d="M791 254.6l4.2 3.8 2.5-14.9-4.2-3.4z"/><path color="#482475" d="M825.3 389.2l4.2-2.7 2.5-9.8-4.2 2.7z"/><path color="#471164" d="M815.9 397l4.2-2.5 2.6-.1-4.2 2.1z"/><path color="#90d743" d="M953.1 213l4.3 1.5 2.4-3.2-4.3-1.6z"/><path color="#1f968b" d="M719 280.7l4.3 7.6 2.7-1.3-4.3-7.9z"/><path color="#a2da37" d="M865.3 204.9l4.3 1.6 2.5-1.3-4.3-1.5z"/><path color="#84d44b" d="M783.4 219.6l4.2 2.9 2.6-9.2-4.2-2.6z"/><path color="#3a538b" d="M824.5 355.1l4.2-1.6 2.5-15.8-4.2 1.8z"/><path color="#86d549" d="M935.4 215.9l4.3 1.5 2.4-3.3-4.3-1.3z"/><path color="#481467" d="M793.9 390.4l4.2.5 2.7 6-4.2-.8z"/><path color="#58c765" d="M716.6 233.7l4.3 8 2.6-8.4-4.3-7.9z"/><path color="#9bd93c" d="M796.9 209.7l4.2 2.2 2.6-5.2-4.2-1.8z"/><path color="#25858e" d="M815.3 308l4.2.7 2.5-16.4-4.2-.8z"/><path color="#414487" d="M826.2 368.2l4.2-2 2.5-15-4.2 2.3z"/><path color="#24aa83" d="M713.1 263.5l4.3 7.8 2.7-5.1-4.3-8.1z"/><path color="#e2e418" d="M714.2 182.9l4.2 6.4 2.7-5.4-4.3-6.4z"/><path color="#8ed645" d="M964.1 213l4.3 1.8 2.4-2.9-4.3-1.8z"/><path color="#b0dd2f" d="M821.4 201.6l4.2 1.8 2.6-3.2-4.2-1.7z"/><path color="#93d741" d="M891.5 210.7l4.3 1.8 2.4-1.3-4.2-1.6z"/><path color="#8ed645" d="M975.1 213.7l4.3 1.8 2.4-2.8-4.3-1.8z"/><path color="#46c06f" d="M714.1 242l4.3 8.1 2.5-8.4-4.3-8z"/><path color="#aadc32" d="M854.4 203.4l4.2 1.5 2.5-1.6-4.2-1.4z"/><path color="#32648e" d="M822.9 340.7l4.1-1.2 2.6-16.3-4.2 1.3z"/><path color="#63cb5f" d="M785.1 233.2l4.2 3.5 2.5-11.4-4.2-2.8z"/><path color="#27808e" d="M729 301.4l4.3 7.5 2.8 2.3-4.3-7.6z"/><path color="#93d741" d="M790.2 213.3l4.1 2.6 2.6-6.2-4.2-2.2z"/><path color="#32b67a" d="M795.2 258.4l4.2 3.8 2.5-15.4-4.2-3.3z"/><path color="#b0dd2f" d="M832.4 201.9l4.2 1.6 2.6-2.6-4.2-1.5z"/><path color="#addc30" d="M843.4 202.4l4.2 1.5 2.5-2-4.2-1.4z"/><path color="#1f998a" d="M809.5 287.9l4.2 2.1 2.5-16.1-4.2-2.2z"/><path color="#95d840" d="M717.5 210l4.3 7.5 2.6-7.3-4.3-7.5z"/><path color="#365d8d" d="M747.5 332.8l4.2 7.2 2.9 5.4-4.3-7.1z"/><path color="#481a6c" d="M822.7 394.4l4.2-3 2.6-4.9-4.2 2.7z"/><path color="#37b878" d="M711.5 250l4.3 8.1 2.6-8-4.3-8.1z"/><path color="#c0df25" d="M715.8 195.8l4.3 6.9 2.6-6.4-4.3-7z"/><path color="#8bd646" d="M946.4 215.4l4.3 1.4 2.4-3.8-4.3-1.3z"/><path color="#9bd93c" d="M880.6 208.5l4.2 1.7 2.5-1.2-4.3-1.6z"/><path color="#7fd34e" d="M787.6 222.5l4.2 2.8 2.5-9.4-4.1-2.6z"/><path color="#86d549" d="M917.7 216.3l4.3 1.8 2.4-2.4-4.3-1.6z"/><path color="#aadc32" d="M814.7 204.7l4.2 1.5 2.5-4.6-4.2-1.5z"/><path color="#2eb37c" d="M799.4 262.2l4.2 3.6 2.5-15.7-4.2-3.3z"/><path color="#81d34d" d="M714.9 217.9l4.3 7.5 2.6-7.9-4.3-7.5z"/><path color="#453581" d="M827.8 379.4l4.2-2.7 2.6-13.1-4.2 2.6z"/><path color="#2b758e" d="M821.2 325.2l4.2-.7 2.5-16.5-4.2.7z"/><path color="#86d549" d="M928.7 217.3l4.3 1.6 2.4-3-4.3-1.4z"/><path color="#5cc863" d="M789.3 236.7l4.2 3.4 2.5-12-4.2-2.8z"/><path color="#8bd646" d="M906.7 214.6l4.3 1.8 2.4-1.7-4.2-1.7z"/><path color="#a2da37" d="M807.9 208.5l4.2 1.7 2.6-5.5-4.2-1.4z"/><path color="#1f9f88" d="M714.7 273.2l4.3 7.5 2.7-1.6-4.3-7.8z"/><path color="#98d83e" d="M801.1 211.9l4.2 2.2 2.6-5.6-4.2-1.8z"/><path color="#6ece58" d="M712.3 226l4.3 7.7 2.6-8.3-4.3-7.5z"/><path color="#8ed645" d="M957.4 214.5l4.3 1.7 2.4-3.2-4.3-1.7z"/><path color="#a2da37" d="M869.6 206.5l4.2 1.7 2.5-1.4-4.2-1.6z"/><path color="#d5e21a" d="M711.6 189.4l4.2 6.4 2.6-6.5-4.2-6.4z"/><path color="#8ed645" d="M794.3 215.9l4.2 2.6 2.6-6.6-4.2-2.2z"/><path color="#2eb37c" d="M708.8 255.9l4.3 7.6 2.7-5.4-4.3-8.1z"/><path color="#addc30" d="M713.2 203l4.3 7 2.6-7.3-4.3-6.9z"/><path color="#32658e" d="M743.2 325.6l4.3 7.2 2.8 5.5-4.2-7.2z"/><path color="#86d549" d="M939.7 217.4l4.3 1.5 2.4-3.5-4.3-1.3z"/><path color="#8ed645" d="M968.4 214.8l4.4 1.8 2.3-2.9-4.3-1.8z"/><path color="#471365" d="M809.1 395.4l4.2-2.2 2.6 3.8-4.1 1.7z"/><path color="#23888e" d="M724.7 294l4.3 7.4 2.8 2.2-4.3-7.7z"/><path color="#addc30" d="M825.6 203.4l4.2 1.8 2.6-3.3-4.2-1.7z"/><path color="#90d743" d="M895.8 212.5l4.2 1.8 2.5-1.4-4.3-1.7z"/><path color="#5ac864" d="M709.8 234.2l4.3 7.8 2.5-8.3-4.3-7.7z"/><path color="#2ab07f" d="M803.6 265.8l4.2 3.1 2.5-15.5-4.2-3.3z"/><path color="#a8db34" d="M858.6 204.9l4.2 1.7 2.5-1.7-4.2-1.6z"/><path color="#1f998a" d="M813.7 290l4.1 1.5 2.6-16-4.2-1.6z"/><path color="#addc30" d="M836.6 203.5l4.2 1.7 2.6-2.8-4.2-1.5z"/><path color="#77d153" d="M791.8 225.3l4.2 2.8 2.5-9.6-4.2-2.6z"/><path color="#56c667" d="M793.5 240.1l4.2 3.4 2.5-12.6-4.2-2.8z"/><path color="#aadc32" d="M847.6 203.9l4.2 1.6 2.6-2.1-4.3-1.5z"/><path color="#48c16e" d="M707.2 242.1l4.3 7.9 2.6-8-4.3-7.8z"/><path color="#98d83e" d="M710.6 210.8l4.3 7.1 2.6-7.9-4.3-7z"/><path color="#24868e" d="M819.5 308.7l4.2 0 2.6-16.3-4.3-.1z"/><path color="#98d83e" d="M884.8 210.2l4.3 1.9 2.4-1.4-4.2-1.7z"/><path color="#481769" d="M798.1 390.9l4.2-.6 2.7 6.4-4.2.2z"/><path color="#c2df23" d="M708.9 196.6l4.3 6.4 2.6-7.2-4.2-6.4z"/><path color="#8bd646" d="M950.7 216.8l4.3 1.4 2.4-3.7-4.3-1.5z"/><path color="#84d44b" d="M922 218.1l4.3 1.7 2.4-2.5-4.3-1.6z"/><path color="#aadc32" d="M818.9 206.2l4.2 1.6 2.5-4.4-4.2-1.8z"/><path color="#22a884" d="M710.4 265.9l4.3 7.3 2.7-1.9-4.3-7.8z"/><path color="#84d44b" d="M708 218.8l4.3 7.2 2.6-8.1-4.3-7.1z"/><path color="#27ad81" d="M807.8 268.9l4.2 2.8 2.5-15.4-4.2-2.9z"/><path color="#84d44b" d="M933 218.9l4.3 1.7 2.4-3.2-4.3-1.5z"/><path color="#89d548" d="M911 216.4l4.3 1.9 2.4-2-4.3-1.6z"/><path color="#89d548" d="M798.5 218.5l4.2 2.6 2.6-7-4.2-2.2z"/><path color="#2e6e8e" d="M738.9 318.4l4.3 7.2 2.9 5.5-4.3-7.3z"/><path color="#a0da39" d="M812.1 210.2l4.2 1.8 2.6-5.8-4.2-1.5z"/><path color="#95d840" d="M805.3 214.1l4.2 2.1 2.6-6-4.2-1.7z"/><path color="#52c569" d="M797.7 243.5l4.2 3.3 2.5-13.1-4.2-2.8z"/><path color="#21918c" d="M720.4 286.9l4.3 7.1 2.8 1.9-4.2-7.6z"/><path color="#8bd646" d="M961.7 216.2l4.4 1.8 2.3-3.2-4.3-1.8z"/><path color="#a0da39" d="M873.8 208.2l4.3 1.8 2.5-1.5-4.3-1.7z"/><path color="#3bbb75" d="M704.5 248.4l4.3 7.5 2.7-5.9-4.3-7.9z"/><path color="#6ece58" d="M705.5 226.8l4.3 7.4 2.5-8.2-4.3-7.2z"/><path color="#73d056" d="M796 228.1l4.2 2.8 2.5-9.8-4.2-2.6z"/><path color="#8bd646" d="M972.8 216.6l4.3 1.9 2.3-3-4.3-1.8z"/><path color="#addc30" d="M706.4 204.3l4.2 6.5 2.6-7.8-4.3-6.4z"/><path color="#aadc32" d="M829.8 205.2l4.3 1.8 2.5-3.5-4.2-1.6z"/><path color="#8ed645" d="M900 214.3l4.3 1.9 2.4-1.6-4.2-1.7z"/><path color="#86d549" d="M944 218.9l4.3 1.6 2.4-3.7-4.3-1.4z"/><path color="#38598c" d="M828.7 353.5l4.2-2.3 2.6-16.1-4.3 2.6z"/><path color="#a5db36" d="M862.8 206.6l4.3 1.7 2.5-1.8-4.3-1.6z"/><path color="#5cc863" d="M702.9 234.5l4.3 7.6 2.6-7.9-4.3-7.4z"/><path color="#31688e" d="M827 339.5l4.2-1.8 2.6-16.5-4.2 2z"/><path color="#aadc32" d="M840.8 205.2l4.3 1.6 2.5-2.9-4.2-1.5z"/><path color="#453882" d="M770.1 364.4l4.3 5.2 2.8 8-4.2-5.3z"/><path color="#46327e" d="M774.4 369.6l4.2 4.4 2.8 8.1-4.2-4.5z"/><path color="#98d83e" d="M703.8 212.2l4.2 6.6 2.6-8-4.2-6.5z"/><path color="#aadc32" d="M851.8 205.5l4.3 1.7 2.5-2.3-4.2-1.5z"/><path color="#1f998a" d="M817.8 291.5l4.2.8 2.6-15.8-4.2-1z"/><path color="#481a6c" d="M820.1 394.5l4.2-3.3 2.6.2-4.2 3z"/><path color="#4cc26c" d="M801.9 246.8l4.2 3.3 2.5-13.6-4.2-2.8z"/><path color="#3e4989" d="M830.4 366.2l4.2-2.6 2.5-15.3-4.2 2.9z"/><path color="#472c7a" d="M829.5 386.5l4.2-3.4 2.5-9.7-4.2 3.3z"/><path color="#25ac82" d="M812 271.7l4.2 2.2 2.5-15.2-4.2-2.4z"/><path color="#2ab07f" d="M706.1 259.1l4.3 6.8 2.7-2.4-4.3-7.6z"/><path color="#95d840" d="M889.1 212.1l4.2 1.9 2.5-1.5-4.3-1.8z"/><path color="#423f85" d="M765.9 358.6l4.2 5.8 2.9 7.9-4.3-5.8z"/><path color="#84d44b" d="M802.7 221.1l4.2 2.6 2.6-7.5-4.2-2.1z"/><path color="#472d7b" d="M778.6 374l4.2 3.6 2.8 8.3-4.2-3.8z"/><path color="#2a768e" d="M734.6 311.2l4.3 7.2 2.9 5.4-4.3-7.5z"/><path color="#2a788e" d="M825.4 324.5l4.2-1.3 2.5-16.5-4.2 1.3z"/><path color="#84d44b" d="M701.2 220l4.3 6.8 2.5-8-4.2-6.6z"/><path color="#84d44b" d="M926.3 219.8l4.3 1.9 2.4-2.8-4.3-1.6z"/><path color="#89d548" d="M955 218.2l4.3 1.6 2.4-3.6-4.3-1.7z"/><path color="#a8db34" d="M823.1 207.8l4.2 1.9 2.5-4.5-4.2-1.8z"/><path color="#6ece58" d="M800.2 230.9l4.2 2.8 2.5-10-4.2-2.6z"/><path color="#1f998a" d="M716.1 280.2l4.3 6.7 2.9 1.4-4.3-7.6z"/><path color="#86d549" d="M915.3 218.3l4.3 1.9 2.4-2.1-4.3-1.8z"/><path color="#90d743" d="M809.5 216.2l4.2 2.1 2.6-6.3-4.2-1.8z"/><path color="#81d34d" d="M937.3 220.6l4.3 1.7 2.4-3.4-4.3-1.5z"/><path color="#4ec36b" d="M700.2 241.1l4.3 7.3 2.7-6.3-4.3-7.6z"/><path color="#9dd93b" d="M816.3 212l4.2 1.7 2.6-5.9-4.2-1.6z"/><path color="#89d548" d="M966.1 218l4.3 1.9 2.4-3.3-4.4-1.8z"/><path color="#9dd93b" d="M878.1 210l4.2 1.9 2.5-1.7-4.2-1.7z"/><path color="#3f4788" d="M761.6 352.3l4.3 6.3 2.8 7.9-4.2-6.2z"/><path color="#482374" d="M826.9 391.4l4.2-3.6 2.6-4.7-4.2 3.4z"/><path color="#6ece58" d="M698.6 227.4l4.3 7.1 2.6-7.7-4.3-6.8z"/><path color="#46c06f" d="M806.1 250.1l4.2 3.3 2.5-14.1-4.2-2.8z"/><path color="#8bd646" d="M904.3 216.2l4.3 1.9 2.4-1.7-4.3-1.8z"/><path color="#aadc32" d="M834.1 207l4.2 1.8 2.5-3.6-4.2-1.7z"/><path color="#23898e" d="M823.7 308.7l4.2-.7 2.6-16.2-4.2.6z"/><path color="#482979" d="M782.8 377.6l4.2 2.6 2.8 8.5-4.2-2.8z"/><path color="#35b779" d="M701.8 252.9l4.3 6.2 2.7-3.2-4.3-7.5z"/><path color="#84d44b" d="M948.3 220.5l4.3 1.6 2.4-3.9-4.3-1.4z"/><path color="#a2da37" d="M867.1 208.3l4.2 1.9 2.5-2-4.2-1.7z"/><path color="#433d84" d="M832 376.7l4.2-3.3 2.6-13.2-4.2 3.4z"/><path color="#aadc32" d="M845.1 206.8l4.2 1.7 2.5-3-4.2-1.6z"/><path color="#1fa188" d="M711.9 274.1l4.2 6.1 2.9.5-4.3-7.5z"/><path color="#69cd5b" d="M804.4 233.7l4.2 2.8 2.5-10.4-4.2-2.4z"/><path color="#a8db34" d="M856.1 207.2l4.2 1.8 2.5-2.4-4.2-1.7z"/><path color="#277f8e" d="M730.4 304.3l4.2 6.9 2.9 5.1-4.2-7.4z"/><path color="#81d34d" d="M806.9 223.7l4.2 2.4 2.6-7.8-4.2-2.1z"/><path color="#25ab82" d="M816.2 273.9l4.2 1.6 2.5-15-4.2-1.8z"/><path color="#3c508b" d="M757.4 345.7l4.2 6.6 2.9 8-4.2-6.6z"/><path color="#481a6c" d="M813.3 393.2l4.2-3 2.6 4.3-4.2 2.5z"/><path color="#93d741" d="M893.3 214l4.3 1.9 2.4-1.6-4.2-1.8z"/><path color="#481c6e" d="M802.3 390.3l4.2-1.8 2.6 6.9-4.1 1.3z"/><path color="#5ec962" d="M695.9 234.2l4.3 6.9 2.7-6.6-4.3-7.1z"/><path color="#a5db36" d="M827.3 209.7l4.2 1.9 2.6-4.6-4.3-1.8z"/><path color="#81d34d" d="M930.6 221.7l4.3 1.8 2.4-2.9-4.3-1.7z"/><path color="#42be71" d="M810.3 253.4l4.2 2.9 2.5-14.1-4.2-2.9z"/><path color="#86d549" d="M959.3 219.8l4.4 1.7 2.4-3.5-4.4-1.8z"/><path color="#8ed645" d="M813.7 218.3l4.2 2.1 2.6-6.7-4.2-1.7z"/><path color="#84d44b" d="M919.6 220.2l4.2 1.9 2.5-2.3-4.3-1.7z"/><path color="#42be71" d="M697.6 246.9l4.2 6 2.7-4.5-4.3-7.3z"/><path color="#1f9a8a" d="M822 292.3l4.3.1 2.5-15.7-4.2-.2z"/><path color="#81d34d" d="M941.6 222.3l4.3 1.8 2.4-3.6-4.3-1.6z"/><path color="#86d549" d="M970.4 219.9l4.3 1.9 2.4-3.3-4.3-1.9z"/><path color="#9bd93c" d="M820.5 213.7l4.2 1.7 2.6-5.7-4.2-1.9z"/><path color="#9bd93c" d="M882.3 211.9l4.3 1.9 2.5-1.7-4.3-1.9z"/><path color="#22a884" d="M707.6 268.5l4.3 5.6 2.8-.9-4.3-7.3z"/><path color="#89d548" d="M908.6 218.1l4.3 2 2.4-1.8-4.3-1.9z"/><path color="#38598c" d="M753.1 338.8l4.3 6.9 2.9 8-4.3-6.8z"/><path color="#482878" d="M787 380.2l4.2 1.5 2.7 8.7-4.1-1.7z"/><path color="#a8db34" d="M838.3 208.8l4.2 1.8 2.6-3.8-4.3-1.6z"/><path color="#65cb5e" d="M808.6 236.5l4.2 2.8 2.6-10.8-4.3-2.4z"/><path color="#24878e" d="M726.1 297.7l4.3 6.6 2.9 4.6-4.3-7.5z"/><path color="#a0da39" d="M871.3 210.2l4.3 1.9 2.5-2.1-4.3-1.8z"/><path color="#7cd250" d="M811.1 226.1l4.3 2.4 2.5-8.1-4.2-2.1z"/><path color="#84d44b" d="M952.6 222.1l4.3 1.6 2.4-3.9-4.3-1.6z"/><path color="#52c569" d="M693.3 241l4.3 5.9 2.6-5.8-4.3-6.9z"/><path color="#3dbc74" d="M814.5 256.3l4.2 2.4 2.5-13.9-4.2-2.6z"/><path color="#a8db34" d="M849.3 208.5l4.2 1.8 2.6-3.1-4.3-1.7z"/><path color="#28ae80" d="M703.4 263.2l4.2 5.3 2.8-2.6-4.3-6.8z"/><path color="#a5db36" d="M860.3 209l4.3 1.9 2.5-2.6-4.3-1.7z"/><path color="#90d743" d="M897.6 215.9l4.3 2.1 2.4-1.8-4.3-1.9z"/><path color="#25ab82" d="M820.4 275.5l4.2 1 2.5-14.8-4.2-1.2z"/><path color="#a2da37" d="M831.5 211.6l4.2 1.9 2.6-4.7-4.2-1.8z"/><path color="#2e6e8e" d="M831.2 337.7l4.3-2.6 2.5-16.6-4.2 2.7z"/><path color="#7fd34e" d="M934.9 223.5l4.3 2 2.4-3.2-4.3-1.7z"/><path color="#84d44b" d="M963.7 221.5l4.3 1.9 2.4-3.5-4.3-1.9z"/><path color="#8bd646" d="M817.9 220.4l4.2 2.1 2.6-7.1-4.2-1.7z"/><path color="#81d34d" d="M923.8 222.1l4.3 2 2.5-2.4-4.3-1.9z"/><path color="#31b57b" d="M699.2 258.1l4.2 5.1 2.7-4.1-4.3-6.2z"/><path color="#355f8d" d="M832.9 351.2l4.2-2.9 2.6-16.3-4.2 3.1z"/><path color="#33628d" d="M748.8 331.8l4.3 7 2.9 8.1-4.3-6.9z"/><path color="#287c8e" d="M829.6 323.2l4.2-2 2.6-16.6-4.3 2.1z"/><path color="#218f8d" d="M721.8 291.5l4.3 6.2 2.9 3.7-4.3-7.4z"/><path color="#98d83e" d="M824.7 215.4l4.2 2 2.6-5.8-4.2-1.9z"/><path color="#98d83e" d="M886.6 213.8l4.2 2.1 2.5-1.9-4.2-1.9z"/><path color="#60ca60" d="M812.8 239.3l4.2 2.9 2.6-11.4-4.2-2.3z"/><path color="#7fd34e" d="M945.9 224.1l4.3 1.8 2.4-3.8-4.3-1.6z"/><path color="#3bbb75" d="M694.9 253.1l4.3 5 2.6-5.2-4.2-6z"/><path color="#86d549" d="M912.9 220.1l4.2 2.1 2.5-2-4.3-1.9z"/><path color="#228c8d" d="M827.9 308l4.2-1.3 2.6-16.3-4.2 1.4z"/><path color="#a5db36" d="M842.5 210.6l4.2 1.8 2.6-3.9-4.2-1.7z"/><path color="#3b518b" d="M834.6 363.6l4.2-3.4 2.6-15.4-4.3 3.5z"/><path color="#7ad151" d="M815.4 228.5l4.2 2.3 2.5-8.3-4.2-2.1z"/><path color="#46c06f" d="M690.7 248.1l4.2 5 2.7-6.2-4.3-5.9z"/><path color="#9dd93b" d="M875.6 212.1l4.2 2 2.5-2.2-4.2-1.9z"/><path color="#482374" d="M824.3 391.2l4.2-3.9 2.6.5-4.2 3.6z"/><path color="#3bbb75" d="M818.7 258.7l4.2 1.8 2.6-13.5-4.3-2.2z"/><path color="#453581" d="M833.7 383.1l4.2-4.1 2.6-9.5-4.3 3.9z"/><path color="#81d34d" d="M956.9 223.7l4.4 1.7 2.4-3.9-4.4-1.7z"/><path color="#a5db36" d="M853.5 210.3l4.3 2 2.5-3.3-4.2-1.8z"/><path color="#1f968b" d="M717.6 286l4.2 5.5 2.9 2.5-4.3-7.1z"/><path color="#8ed645" d="M901.9 218l4.2 2.1 2.5-2-4.3-1.9z"/><path color="#a2da37" d="M864.6 210.9l4.2 1.9 2.5-2.6-4.2-1.9z"/><path color="#482878" d="M791.2 381.7l4.2.1 2.7 9.1-4.2-.5z"/><path color="#306a8e" d="M744.5 324.9l4.3 6.9 2.9 8.2-4.2-7.2z"/><path color="#1e9c89" d="M826.3 292.4l4.2-.6 2.5-15.6-4.2.5z"/><path color="#a0da39" d="M835.7 213.5l4.2 1.9 2.6-4.8-4.2-1.8z"/><path color="#89d548" d="M822.1 222.5l4.3 2.1 2.5-7.2-4.2-2z"/><path color="#5cc863" d="M817 242.2l4.2 2.6 2.6-11.7-4.2-2.3z"/><path color="#81d34d" d="M968 223.4l4.3 1.9 2.4-3.5-4.3-1.9z"/><path color="#7cd250" d="M939.2 225.5l4.3 1.9 2.4-3.3-4.3-1.8z"/><path color="#7fd34e" d="M928.1 224.1l4.3 2.1 2.5-2.7-4.3-1.8z"/><path color="#1e9d89" d="M713.3 281l4.3 5 2.8.9-4.3-6.7z"/><path color="#95d840" d="M890.8 215.9l4.3 2.2 2.5-2.2-4.3-1.9z"/><path color="#95d840" d="M828.9 217.4l4.3 2 2.5-5.9-4.2-1.9z"/><path color="#482374" d="M806.5 388.5l4.1-2.7 2.7 7.4-4.2 2.2z"/><path color="#3aba76" d="M688.1 255.4l4.2 4 2.6-6.3-4.2-5z"/><path color="#84d44b" d="M917.1 222.2l4.3 2.2 2.4-2.3-4.2-1.9z"/><path color="#472d7b" d="M831.1 387.8l4.2-4.2 2.6-4.6-4.2 4.1z"/><path color="#7cd250" d="M950.2 225.9l4.3 1.8 2.4-4-4.3-1.6z"/><path color="#25ac82" d="M824.6 276.5l4.2.2 2.6-14.6-4.3-.4z"/><path color="#32b67a" d="M692.3 259.4l4.2 4.2 2.7-5.5-4.3-5z"/><path color="#75d054" d="M819.6 230.8l4.2 2.3 2.6-8.5-4.3-2.1z"/><path color="#1fa287" d="M709.1 276.4l4.2 4.6 2.8-.8-4.2-6.1z"/><path color="#2cb17e" d="M696.5 263.6l4.2 4.1 2.7-4.5-4.2-5.1z"/><path color="#a2da37" d="M846.7 212.4l4.3 2 2.5-4.1-4.2-1.8z"/><path color="#22a884" d="M704.9 271.9l4.2 4.5 2.8-2.3-4.3-5.6z"/><path color="#26ad81" d="M700.7 267.7l4.2 4.2 2.7-3.4-4.2-5.3z"/><path color="#9bd93c" d="M879.8 214.1l4.3 2.2 2.5-2.5-4.3-1.9z"/><path color="#2c718e" d="M740.3 318.1l4.2 6.8 3 7.9-4.3-7.2z"/><path color="#404588" d="M836.2 373.4l4.3-3.9 2.5-13.2-4.2 3.9z"/><path color="#482374" d="M817.5 390.2l4.2-3.8 2.6 4.8-4.2 3.3z"/><path color="#3aba76" d="M822.9 260.5l4.2 1.2 2.6-13.2-4.2-1.5z"/><path color="#8bd646" d="M906.1 220.1l4.3 2.3 2.5-2.3-4.3-2z"/><path color="#a0da39" d="M868.8 212.8l4.3 2.1 2.5-2.8-4.3-1.9z"/><path color="#a2da37" d="M857.8 212.3l4.2 2 2.6-3.4-4.3-1.9z"/><path color="#7fd34e" d="M961.3 225.4l4.3 1.9 2.4-3.9-4.3-1.9z"/><path color="#58c765" d="M821.2 244.8l4.3 2.2 2.5-11.5-4.2-2.4z"/><path color="#2fb47c" d="M685.5 262.8l4.1 3.2 2.7-6.6-4.2-4z"/><path color="#86d549" d="M826.4 224.6l4.2 2 2.6-7.2-4.3-2z"/><path color="#9dd93b" d="M839.9 215.4l4.3 2 2.5-5-4.2-1.8z"/><path color="#7cd250" d="M932.4 226.2l4.3 2.1 2.5-2.8-4.3-2z"/><path color="#7ad151" d="M943.5 227.4l4.3 2 2.4-3.5-4.3-1.8z"/><path color="#90d743" d="M895.1 218.1l4.3 2.3 2.5-2.4-4.3-2.1z"/><path color="#93d741" d="M833.2 219.4l4.2 2.1 2.5-6.1-4.2-1.9z"/><path color="#81d34d" d="M921.4 224.4l4.3 2.3 2.4-2.6-4.3-2z"/><path color="#297a8e" d="M736 311.6l4.3 6.5 2.9 7.5-4.3-7.2z"/><path color="#73d056" d="M823.8 233.1l4.2 2.4 2.6-8.9-4.2-2z"/><path color="#2cb17e" d="M689.6 266l4.2 3.2 2.7-5.6-4.2-4.2z"/><path color="#7ad151" d="M954.5 227.7l4.3 1.9 2.5-4.2-4.4-1.7z"/><path color="#98d83e" d="M884.1 216.3l4.3 2.3 2.4-2.7-4.2-2.1z"/><path color="#27ad81" d="M682.8 270.5l4.2 2.3 2.6-6.8-4.1-3.2z"/><path color="#a0da39" d="M851 214.4l4.2 2 2.6-4.1-4.3-2z"/><path color="#472a7a" d="M795.4 381.8l4.2-1 2.7 9.5-4.2.6z"/><path color="#86d549" d="M910.4 222.4l4.3 2.4 2.4-2.6-4.2-2.1z"/><path color="#26828e" d="M833.8 321.2l4.2-2.7 2.6-16.6-4.2 2.7z"/><path color="#9dd93b" d="M873.1 214.9l4.2 2.3 2.5-3.1-4.2-2z"/><path color="#2c738e" d="M835.5 335.1l4.2-3.1 2.6-16.8-4.3 3.3z"/><path color="#a0da39" d="M862 214.3l4.3 2.1 2.5-3.6-4.2-1.9z"/><path color="#27ad81" d="M693.8 269.2l4.2 3.3 2.7-4.8-4.2-4.1z"/><path color="#21908d" d="M832.1 306.7l4.3-2.1 2.5-16.2-4.2 2z"/><path color="#7cd250" d="M965.6 227.3l4.3 1.9 2.4-3.9-4.3-1.9z"/><path color="#56c667" d="M825.5 247l4.2 1.5 2.6-11.1-4.3-1.9z"/><path color="#1f9f88" d="M830.5 291.8l4.2-1.4 2.6-15.4-4.3 1.2z"/><path color="#84d44b" d="M830.6 226.6l4.2 2.2 2.6-7.3-4.2-2.1z"/><path color="#26828e" d="M731.7 305.5l4.3 6.1 2.9 6.8-4.3-7.2z"/><path color="#31668e" d="M837.1 348.3l4.3-3.5 2.5-16.6-4.2 3.8z"/><path color="#9bd93c" d="M844.2 217.4l4.2 2.1 2.6-5.1-4.3-2z"/><path color="#77d153" d="M936.7 228.3l4.3 2.2 2.5-3.1-4.3-1.9z"/><path color="#26ad81" d="M828.8 276.7l4.2-.5 2.6-14.3-4.2.2z"/><path color="#8ed645" d="M899.4 220.4l4.3 2.4 2.4-2.7-4.2-2.1z"/><path color="#3aba76" d="M827.1 261.7l4.3.4 2.5-12.8-4.2-.8z"/><path color="#22a785" d="M680.2 278.3l4.1 1.4 2.7-6.9-4.2-2.3z"/><path color="#77d153" d="M947.8 229.4l4.3 2 2.4-3.7-4.3-1.8z"/><path color="#25ab82" d="M698 272.5l4.2 3.3 2.7-3.9-4.2-4.2z"/><path color="#90d743" d="M837.4 221.5l4.2 2.1 2.6-6.2-4.3-2z"/><path color="#7cd250" d="M925.7 226.7l4.3 2.4 2.4-2.9-4.3-2.1z"/><path color="#6ece58" d="M828 235.5l4.3 1.9 2.5-8.6-4.2-2.2z"/><path color="#25ac82" d="M687 272.8l4.1 2.3 2.7-5.9-4.2-3.2z"/><path color="#93d741" d="M888.4 218.6l4.2 2.4 2.5-2.9-4.3-2.2z"/><path color="#77d153" d="M958.8 229.6l4.4 1.9 2.4-4.2-4.3-1.9z"/><path color="#9dd93b" d="M855.2 216.4l4.3 2.2 2.5-4.3-4.2-2z"/><path color="#23898e" d="M727.4 299.9l4.3 5.6 2.9 5.7-4.2-6.9z"/><path color="#84d44b" d="M914.7 224.8l4.3 2.5 2.4-2.9-4.3-2.2z"/><path color="#22a785" d="M702.2 275.8l4.2 3.4 2.7-2.8-4.2-4.5z"/><path color="#38598c" d="M838.8 360.2l4.2-3.9 2.6-15.7-4.2 4.2z"/><path color="#1fa088" d="M677.6 286.2l4.1.6 2.6-7.1-4.1-1.4z"/><path color="#98d83e" d="M877.3 217.2l4.3 2.4 2.5-3.3-4.3-2.2z"/><path color="#9bd93c" d="M866.3 216.4l4.2 2.3 2.6-3.8-4.3-2.1z"/><path color="#472d7b" d="M828.5 387.3l4.2-4.7 2.6 1-4.2 4.2z"/><path color="#20a386" d="M706.4 279.2l4.2 3.5 2.7-1.7-4.2-4.6z"/><path color="#89d548" d="M903.7 222.8l4.2 2.7 2.5-3.1-4.3-2.3z"/><path color="#7fd34e" d="M834.8 228.8l4.3 2.3 2.5-7.5-4.2-2.1z"/><path color="#21908d" d="M723.2 294.9l4.2 5 3 4.4-4.3-6.6z"/><path color="#423f85" d="M837.9 379l4.2-4.6 2.6-9.4-4.2 4.5z"/><path color="#75d054" d="M941 230.5l4.3 2.4 2.5-3.5-4.3-2z"/><path color="#95d840" d="M848.4 219.5l4.3 2.3 2.5-5.4-4.2-2z"/><path color="#3e4c8a" d="M767.2 353.9l4.3 5.1 2.9 10.6-4.3-5.2z"/><path color="#24aa83" d="M691.1 275.1l4.2 2.4 2.7-5-4.2-3.3z"/><path color="#472a7a" d="M810.6 385.8l4.2-3.6 2.7 8-4.2 3z"/><path color="#404688" d="M771.5 359l4.2 4.3 2.9 10.7-4.2-4.4z"/><path color="#54c568" d="M829.7 248.5l4.2.8 2.6-9.9-4.2-2z"/><path color="#1f988b" d="M675 294.3l4.1-.3 2.6-7.2-4.1-.6z"/><path color="#1f9f88" d="M710.6 282.7l4.2 3.8 2.8-.5-4.3-5z"/><path color="#7ad151" d="M930 229.1l4.3 2.5 2.4-3.3-4.3-2.1z"/><path color="#75d054" d="M952.1 231.4l4.3 2.1 2.4-3.9-4.3-1.9z"/><path color="#8bd646" d="M841.6 223.6l4.3 2.3 2.5-6.4-4.2-2.1z"/><path color="#1f958b" d="M719 290.6l4.2 4.3 2.9 2.8-4.3-6.2z"/><path color="#21a685" d="M684.3 279.7l4.2 1.4 2.6-6-4.1-2.3z"/><path color="#1f9a8a" d="M714.8 286.5l4.2 4.1 2.8.9-4.2-5.5z"/><path color="#3a538b" d="M763 348.1l4.2 5.8 2.9 10.5-4.2-5.8z"/><path color="#6ccd5a" d="M832.3 237.4l4.2 2 2.6-8.3-4.3-2.3z"/><path color="#90d743" d="M892.6 221l4.3 2.7 2.5-3.3-4.3-2.3z"/><path color="#424186" d="M775.7 363.3l4.3 3.4 2.8 10.9-4.2-3.6z"/><path color="#7fd34e" d="M919 227.3l4.3 2.7 2.4-3.3-4.3-2.3z"/><path color="#98d83e" d="M859.5 218.6l4.2 2.5 2.6-4.7-4.3-2.1z"/><path color="#75d054" d="M963.2 231.5l4.3 1.9 2.4-4.2-4.3-1.9z"/><path color="#20928c" d="M672.4 302.4l4-1.1 2.7-7.3-4.1.3z"/><path color="#95d840" d="M881.6 219.6l4.3 2.6 2.5-3.6-4.3-2.3z"/><path color="#3dbc74" d="M831.4 262.1l4.2-.2 2.6-11.8-4.3-.8z"/><path color="#375b8d" d="M758.7 341.8l4.3 6.3 2.9 10.5-4.3-6.3z"/><path color="#98d83e" d="M870.5 218.7l4.3 2.6 2.5-4.1-4.2-2.3z"/><path color="#453781" d="M835.3 383.6l4.3-4.8 2.5-4.4-4.2 4.6z"/><path color="#84d44b" d="M907.9 225.5l4.3 2.8 2.5-3.5-4.3-2.4z"/><path color="#22a785" d="M695.3 277.5l4.1 2.4 2.8-4.1-4.2-3.3z"/><path color="#472d7b" d="M821.7 386.4l4.2-4.4 2.6 5.3-4.2 3.9z"/><path color="#7cd250" d="M839.1 231.1l4.2 2.5 2.6-7.7-4.3-2.3z"/><path color="#3c4f8a" d="M840.5 369.5l4.2-4.5 2.6-13.3-4.3 4.6z"/><path color="#472f7d" d="M799.6 380.8l4.1-2.2 2.8 9.9-4.2 1.8z"/><path color="#93d741" d="M852.7 221.8l4.2 2.5 2.6-5.7-4.3-2.2z"/><path color="#73d056" d="M945.3 232.9l4.3 2.5 2.5-4-4.3-2z"/><path color="#23898e" d="M669.8 310.6l4-2 2.6-7.3-4 1.1z"/><path color="#29af7f" d="M833 276.2l4.3-1.2 2.5-13.4-4.2.3z"/><path color="#75d054" d="M934.3 231.6l4.3 2.8 2.4-3.9-4.3-2.2z"/><path color="#1fa188" d="M681.7 286.8l4.1.5 2.7-6.2-4.2-1.4z"/><path color="#89d548" d="M845.9 225.9l4.2 2.6 2.6-6.7-4.3-2.3z"/><path color="#8bd646" d="M896.9 223.7l4.3 2.8 2.5-3.7-4.3-2.4z"/><path color="#423f85" d="M780 366.7l4.2 2.4 2.8 11.1-4.2-2.6z"/><path color="#70cf57" d="M956.4 233.5l4.3 2.3 2.5-4.3-4.4-1.9z"/><path color="#67cc5c" d="M836.5 239.4l4.2 2.3 2.6-8.1-4.2-2.5z"/><path color="#1fa287" d="M834.7 290.4l4.2-2 2.6-14.8-4.2 1.4z"/><path color="#33628d" d="M754.4 335.1l4.3 6.7 2.9 10.5-4.2-6.6z"/><path color="#7ad151" d="M923.3 230l4.2 2.9 2.5-3.8-4.3-2.4z"/><path color="#21a585" d="M688.5 281.1l4.1 1.5 2.7-5.1-4.2-2.4z"/><path color="#54c568" d="M833.9 249.3l4.3.8 2.5-8.4-4.2-2.3z"/><path color="#26828e" d="M667.3 318.9l3.9-2.9 2.6-7.4-4 2z"/><path color="#1f948c" d="M836.4 304.6l4.2-2.7 2.6-15.8-4.3 2.3z"/><path color="#93d741" d="M863.7 221.1l4.3 2.6 2.5-5-4.2-2.3z"/><path color="#90d743" d="M885.9 222.2l4.2 2.9 2.5-4.1-4.2-2.4z"/><path color="#93d741" d="M874.8 221.3l4.3 2.8 2.5-4.5-4.3-2.4z"/><path color="#21a585" d="M699.4 279.9l4.2 2.4 2.8-3.1-4.2-3.4z"/><path color="#24878e" d="M838 318.5l4.3-3.3 2.6-16.4-4.3 3.1z"/><path color="#7fd34e" d="M912.2 228.3l4.3 3 2.5-4-4.3-2.5z"/><path color="#77d153" d="M843.3 233.6l4.2 2.6 2.6-7.7-4.2-2.6z"/><path color="#297a8e" d="M664.7 327.2l3.8-3.7 2.7-7.5-3.9 2.9z"/><path color="#297a8e" d="M839.7 332l4.2-3.8 2.6-16.7-4.2 3.7z"/><path color="#8ed645" d="M856.9 224.3l4.3 2.8 2.5-6-4.2-2.5z"/><path color="#1f9a8a" d="M679.1 294l4-.3 2.7-6.4-4.1-.5z"/><path color="#70cf57" d="M938.6 234.4l4.3 2.9 2.4-4.4-4.3-2.4z"/><path color="#6ece58" d="M949.6 235.4l4.3 2.7 2.5-4.6-4.3-2.1z"/><path color="#306a8e" d="M750.1 328.5l4.3 6.6 3 10.6-4.3-6.9z"/><path color="#84d44b" d="M901.2 226.5l4.2 3.1 2.5-4.1-4.2-2.7z"/><path color="#84d44b" d="M850.1 228.5l4.3 2.7 2.5-6.9-4.2-2.5z"/><path color="#75d054" d="M927.5 232.9l4.3 3.1 2.5-4.4-4.3-2.5z"/><path color="#65cb5e" d="M840.7 241.7l4.3 2.3 2.5-7.8-4.2-2.6z"/><path color="#89d548" d="M890.1 225.1l4.3 3 2.5-4.4-4.3-2.7z"/><path color="#6ece58" d="M960.7 235.8l4.3 2.3 2.5-4.7-4.3-1.9z"/><path color="#8ed645" d="M868 223.7l4.3 3 2.5-5.4-4.3-2.6z"/><path color="#1fa287" d="M703.6 282.3l4.2 2.6 2.8-2.2-4.2-3.5z"/><path color="#2e6e8e" d="M841.4 344.8l4.2-4.2 2.6-16.7-4.3 4.3z"/><path color="#433e85" d="M784.2 369.1l4.2 1.2 2.8 11.4-4.2-1.5z"/><path color="#3fbc73" d="M835.6 261.9l4.2-.3 2.6-9.8-4.2-1.7z"/><path color="#8ed645" d="M879.1 224.1l4.2 3 2.6-4.9-4.3-2.6z"/><path color="#7ad151" d="M916.5 231.3l4.3 3.2 2.5-4.5-4.3-2.7z"/><path color="#20a486" d="M692.6 282.6l4.1 1.5 2.7-4.2-4.1-2.4z"/><path color="#52c569" d="M838.2 250.1l4.2 1.7 2.6-7.8-4.3-2.3z"/><path color="#1fa188" d="M685.8 287.3l4.1.6 2.7-5.3-4.1-1.5z"/><path color="#73d056" d="M847.5 236.2l4.3 2.7 2.6-7.7-4.3-2.7z"/><path color="#2c718e" d="M745.8 322.1l4.3 6.4 3 10.3-4.3-7z"/><path color="#7fd34e" d="M905.4 229.6l4.3 3.3 2.5-4.6-4.3-2.8z"/><path color="#20938c" d="M676.4 301.3l4.1-1.2 2.6-6.4-4 .3z"/><path color="#89d548" d="M861.2 227.1l4.2 2.9 2.6-6.3-4.3-2.6z"/><path color="#6ccd5a" d="M942.9 237.3l4.3 3.1 2.4-5-4.3-2.5z"/><path color="#7fd34e" d="M854.4 231.2l4.2 2.9 2.6-7-4.3-2.8z"/><path color="#6ece58" d="M931.8 236l4.3 3.3 2.5-4.9-4.3-2.8z"/><path color="#69cd5b" d="M953.9 238.1l4.4 2.8 2.4-5.1-4.3-2.3z"/><path color="#1fa088" d="M707.8 284.9l4.2 2.7 2.8-1.1-4.2-3.8z"/><path color="#84d44b" d="M894.4 228.1l4.3 3.3 2.5-4.9-4.3-2.8z"/><path color="#89d548" d="M872.3 226.7l4.2 3.1 2.6-5.7-4.3-2.8z"/><path color="#73d056" d="M920.8 234.5l4.3 3.4 2.4-5-4.2-2.9z"/><path color="#33628d" d="M843 356.3l4.3-4.6 2.6-15.9-4.3 4.8z"/><path color="#60ca60" d="M845 244l4.2 2.3 2.6-7.4-4.3-2.7z"/><path color="#86d549" d="M883.3 227.1l4.3 3.2 2.5-5.2-4.2-2.9z"/><path color="#2db27d" d="M837.3 275l4.2-1.4 2.6-11.6-4.3-.4z"/><path color="#29798e" d="M741.6 316l4.2 6.1 3 9.7-4.3-6.9z"/><path color="#77d153" d="M909.7 232.9l4.3 3.4 2.5-5-4.3-3z"/><path color="#46337f" d="M814.8 382.2l4.3-4.4 2.6 8.6-4.2 3.8z"/><path color="#6ccd5a" d="M851.8 238.9l4.3 2.7 2.5-7.5-4.2-2.9z"/><path color="#81d34d" d="M865.4 230l4.3 3.1 2.6-6.4-4.3-3z"/><path color="#218e8d" d="M673.8 308.6l4-2 2.7-6.5-4.1 1.2z"/><path color="#65cb5e" d="M947.2 240.4l4.3 3.3 2.4-5.6-4.3-2.7z"/><path color="#67cc5c" d="M936.1 239.3l4.3 3.5 2.5-5.5-4.3-2.9z"/><path color="#1e9d89" d="M712 287.6l4.1 3 2.9 0-4.2-4.1z"/><path color="#20a386" d="M696.7 284.1l4.1 1.6 2.8-3.4-4.2-2.4z"/><path color="#453882" d="M832.7 382.6l4.3-5.2 2.6 1.4-4.3 4.8z"/><path color="#77d153" d="M858.6 234.1l4.3 3.1 2.5-7.2-4.2-2.9z"/><path color="#50c46a" d="M842.4 251.8l4.3 2 2.5-7.5-4.2-2.3z"/><path color="#7cd250" d="M898.7 231.4l4.2 3.5 2.5-5.3-4.2-3.1z"/><path color="#6ccd5a" d="M925.1 237.9l4.2 3.5 2.5-5.4-4.3-3.1z"/><path color="#1e9c89" d="M683.1 293.7l4.1-.3 2.7-5.5-4.1-.6z"/><path color="#21a685" d="M838.9 288.4l4.3-2.3 2.6-13.2-4.3.7z"/><path color="#81d34d" d="M876.5 229.8l4.3 3.3 2.5-6-4.2-3z"/><path color="#65cb5e" d="M958.3 240.9l4.3 2.7 2.4-5.5-4.3-2.3z"/><path color="#3e4989" d="M842.1 374.4l4.3-5.1 2.6-9.4-4.3 5.1z"/><path color="#7fd34e" d="M887.6 230.3l4.3 3.4 2.5-5.6-4.3-3z"/><path color="#3fbc73" d="M839.8 261.6l4.3.4 2.6-8.2-4.3-2z"/><path color="#453781" d="M803.7 378.6l4.2-3.3 2.7 10.5-4.1 2.7z"/><path color="#26818e" d="M737.3 310.3l4.3 5.7 2.9 8.9-4.2-6.8z"/><path color="#423f85" d="M788.4 370.3l4.2-.1 2.8 11.6-4.2-.1z"/><path color="#70cf57" d="M914 236.3l4.3 3.6 2.5-5.4-4.3-3.2z"/><path color="#5cc863" d="M849.2 246.3l4.3 2.5 2.6-7.2-4.3-2.7z"/><path color="#1fa188" d="M689.9 287.9l4.1.6 2.7-4.4-4.1-1.5z"/><path color="#1f9a8a" d="M716.1 290.6l4.3 3.1 2.8 1.2-4.2-4.3z"/><path color="#7ad151" d="M869.7 233.1l4.3 3.3 2.5-6.6-4.2-3.1z"/><path color="#60ca60" d="M940.4 242.8l4.3 3.6 2.5-6-4.3-3.1z"/><path color="#67cc5c" d="M856.1 241.6l4.2 2.8 2.6-7.2-4.3-3.1z"/><path color="#75d054" d="M902.9 234.9l4.3 3.5 2.5-5.5-4.3-3.3z"/><path color="#60ca60" d="M951.5 243.7l4.3 3.1 2.5-5.9-4.4-2.8z"/><path color="#24878e" d="M671.2 316l3.9-2.9 2.7-6.5-4 2z"/><path color="#1f9a8a" d="M840.6 301.9l4.3-3.1 2.5-14.6-4.2 1.9z"/><path color="#73d056" d="M862.9 237.2l4.2 3.1 2.6-7.2-4.3-3.1z"/><path color="#65cb5e" d="M929.3 241.4l4.3 3.8 2.5-5.9-4.3-3.3z"/><path color="#24878e" d="M733 305.2l4.3 5.1 3 7.8-4.3-6.5z"/><path color="#7ad151" d="M880.8 233.1l4.2 3.4 2.6-6.2-4.3-3.2z"/><path color="#77d153" d="M891.9 233.7l4.2 3.5 2.6-5.8-4.3-3.3z"/><path color="#1f968b" d="M720.4 293.7l4.2 3.4 2.8 2.8-4.2-5z"/><path color="#69cd5b" d="M918.3 239.9l4.2 3.8 2.6-5.8-4.3-3.4z"/><path color="#453882" d="M825.9 382l4.3-5.2 2.5 5.8-4.2 4.7z"/><path color="#228d8d" d="M728.8 300.8l4.2 4.4 3 6.4-4.3-6.1z"/><path color="#20928c" d="M724.6 297.1l4.2 3.7 2.9 4.7-4.3-5.6z"/><path color="#414287" d="M839.6 378.8l4.2-5.4 2.6-4.1-4.3 5.1z"/><path color="#4cc26c" d="M846.7 253.8l4.2 2.1 2.6-7.1-4.3-2.5z"/><path color="#1fa287" d="M700.8 285.7l4.2 1.6 2.8-2.4-4.2-2.6z"/><path color="#38598c" d="M844.7 365l4.3-5.1 2.6-13.3-4.3 5.1z"/><path color="#228d8d" d="M842.3 315.2l4.2-3.7 2.6-15.6-4.2 2.9z"/><path color="#5ac864" d="M944.7 246.4l4.3 3.4 2.5-6.1-4.3-3.3z"/><path color="#6ccd5a" d="M907.2 238.4l4.3 3.8 2.5-5.9-4.3-3.4z"/><path color="#73d056" d="M874 236.4l4.2 3.3 2.6-6.6-4.3-3.3z"/><path color="#5cc863" d="M933.6 245.2l4.3 3.8 2.5-6.2-4.3-3.5z"/><path color="#58c765" d="M853.5 248.8l4.2 2.5 2.6-6.9-4.2-2.8z"/><path color="#1f968b" d="M680.5 300.1l4-1.2 2.7-5.5-4.1.3z"/><path color="#70cf57" d="M896.1 237.2l4.3 3.7 2.5-6-4.2-3.5z"/><path color="#6ccd5a" d="M867.1 240.3l4.3 3.1 2.6-7-4.3-3.3z"/><path color="#60ca60" d="M860.3 244.4l4.3 2.9 2.5-7-4.2-3.1z"/><path color="#73d056" d="M885 236.5l4.3 3.5 2.6-6.3-4.3-3.4z"/><path color="#26818e" d="M668.5 323.5l3.9-3.7 2.7-6.7-3.9 2.9z"/><path color="#5ac864" d="M955.8 246.8l4.3 3 2.5-6.2-4.3-2.7z"/><path color="#60ca60" d="M922.5 243.7l4.3 3.8 2.5-6.1-4.2-3.5z"/><path color="#2eb37c" d="M841.5 273.6l4.3-.7 2.5-9.5-4.2-1.4z"/><path color="#3fbc73" d="M844.1 262l4.2 1.4 2.6-7.5-4.2-2.1z"/><path color="#65cb5e" d="M911.5 242.2l4.2 3.8 2.6-6.1-4.3-3.6z"/><path color="#26818e" d="M843.9 328.2l4.3-4.3 2.6-16.2-4.3 3.8z"/><path color="#56c667" d="M937.9 249l4.3 3.7 2.5-6.3-4.3-3.6z"/><path color="#54c568" d="M949 249.8l4.3 3.4 2.5-6.4-4.3-3.1z"/><path color="#6ccd5a" d="M878.2 239.7l4.3 3.5 2.5-6.7-4.2-3.4z"/><path color="#58c765" d="M926.8 247.5l4.3 4 2.5-6.3-4.3-3.8z"/><path color="#69cd5b" d="M900.4 240.9l4.3 3.8 2.5-6.3-4.3-3.5z"/><path color="#1fa188" d="M694 288.5l4.1.7 2.7-3.5-4.1-1.6z"/><path color="#6ccd5a" d="M889.3 240l4.3 3.6 2.5-6.4-4.2-3.5z"/><path color="#1e9d89" d="M687.2 293.4l4-.3 2.8-4.6-4.1-.6z"/><path color="#65cb5e" d="M871.4 243.4l4.3 3.2 2.5-6.9-4.2-3.3z"/><path color="#4ac16d" d="M850.9 255.9l4.3 2.2 2.5-6.8-4.2-2.5z"/><path color="#5cc863" d="M915.7 246l4.3 4 2.5-6.3-4.2-3.8z"/><path color="#5cc863" d="M864.6 247.3l4.2 2.9 2.6-6.8-4.3-3.1z"/><path color="#1fa188" d="M705 287.3l4.1 1.8 2.9-1.5-4.2-2.7z"/><path color="#54c568" d="M857.7 251.3l4.3 2.6 2.6-6.6-4.3-2.9z"/><path color="#4ec36b" d="M942.2 252.7l4.3 3.6 2.5-6.5-4.3-3.4z"/><path color="#52c569" d="M931.1 251.5l4.3 3.9 2.5-6.4-4.3-3.8z"/><path color="#60ca60" d="M904.7 244.7l4.2 3.8 2.6-6.3-4.3-3.8z"/><path color="#65cb5e" d="M882.5 243.2l4.3 3.5 2.5-6.7-4.3-3.5z"/><path color="#2b758e" d="M845.6 340.6l4.3-4.8 2.6-16.5-4.3 4.6z"/><path color="#63cb5f" d="M893.6 243.6l4.3 3.7 2.5-6.4-4.3-3.7z"/><path color="#20928c" d="M677.8 306.6l4-2 2.7-5.7-4 1.2z"/><path color="#4ec36b" d="M953.3 253.2l4.3 3.2 2.5-6.6-4.3-3z"/><path color="#54c568" d="M920 250l4.3 4 2.5-6.5-4.3-3.8z"/><path color="#23a983" d="M843.2 286.1l4.2-1.9 2.6-11.3-4.2 0z"/><path color="#414287" d="M792.6 370.2l4.2-1.5 2.8 12.1-4.2 1z"/><path color="#5ec962" d="M875.7 246.6l4.2 3.3 2.6-6.7-4.3-3.5z"/><path color="#4ac16d" d="M935.4 255.4l4.2 3.8 2.6-6.5-4.3-3.7z"/><path color="#58c765" d="M908.9 248.5l4.3 3.9 2.5-6.4-4.2-3.8z"/><path color="#48c16e" d="M946.5 256.3l4.2 3.6 2.6-6.7-4.3-3.4z"/><path color="#3dbc74" d="M848.3 263.4l4.3 1.6 2.6-6.9-4.3-2.2z"/><path color="#56c667" d="M868.8 250.2l4.3 2.9 2.6-6.5-4.3-3.2z"/><path color="#4cc26c" d="M924.3 254l4.3 3.9 2.5-6.4-4.3-4z"/><path color="#5ec962" d="M886.8 246.7l4.2 3.5 2.6-6.6-4.3-3.6z"/><path color="#5cc863" d="M897.9 247.3l4.2 3.8 2.6-6.4-4.3-3.8z"/><path color="#4ec36b" d="M862 253.9l4.3 2.6 2.5-6.3-4.2-2.9z"/><path color="#46c06f" d="M855.2 258.1l4.2 2.2 2.6-6.4-4.3-2.6z"/><path color="#50c46a" d="M913.2 252.4l4.3 4 2.5-6.4-4.3-4z"/><path color="#1fa088" d="M709.1 289.1l4.2 1.9 2.8-.4-4.1-3z"/><path color="#2fb47c" d="M845.8 272.9l4.2 0 2.6-7.9-4.3-1.6z"/><path color="#42be71" d="M939.6 259.2l4.3 3.8 2.6-6.7-4.3-3.6z"/><path color="#58c765" d="M879.9 249.9l4.3 3.3 2.6-6.5-4.3-3.5z"/><path color="#44bf70" d="M928.6 257.9l4.2 4 2.6-6.5-4.3-3.9z"/><path color="#54c568" d="M902.1 251.1l4.3 3.8 2.5-6.4-4.2-3.8z"/><path color="#42be71" d="M950.7 259.9l4.3 3.4 2.6-6.9-4.3-3.2z"/><path color="#56c667" d="M891 250.2l4.3 3.6 2.6-6.5-4.3-3.7z"/><path color="#1fa188" d="M698.1 289.2l4.1.8 2.8-2.7-4.2-1.6z"/><path color="#2f6b8e" d="M847.3 351.7l4.3-5.1 2.6-16-4.3 5.2z"/><path color="#1f9f88" d="M844.9 298.8l4.2-2.9 2.6-13-4.3 1.3z"/><path color="#48c16e" d="M917.5 256.4l4.3 3.9 2.5-6.3-4.3-4z"/><path color="#1f998a" d="M684.5 298.9l4-1.1 2.7-4.7-4 .3z"/><path color="#433e85" d="M819.1 377.8l4.2-5.1 2.6 9.3-4.2 4.4z"/><path color="#50c46a" d="M873.1 253.1l4.3 3.1 2.5-6.3-4.2-3.3z"/><path color="#228c8d" d="M675.1 313.1l4-2.8 2.7-5.7-4 2z"/><path color="#423f85" d="M807.9 375.3l4.2-4.2 2.7 11.1-4.2 3.6z"/><path color="#3fbc73" d="M932.8 261.9l4.3 3.9 2.5-6.6-4.2-3.8z"/><path color="#3dbc74" d="M943.9 263l4.3 3.6 2.5-6.7-4.2-3.6z"/><path color="#4cc26c" d="M906.4 254.9l4.3 3.8 2.5-6.3-4.3-3.9z"/><path color="#50c46a" d="M884.2 253.2l4.3 3.3 2.5-6.3-4.2-3.5z"/><path color="#4ac16d" d="M866.3 256.5l4.3 2.7 2.5-6.1-4.3-2.9z"/><path color="#1f9f88" d="M691.2 293.1l4.1-.2 2.8-3.7-4.1-.7z"/><path color="#40bd72" d="M921.8 260.3l4.2 4 2.6-6.4-4.3-3.9z"/><path color="#50c46a" d="M895.3 253.8l4.3 3.6 2.5-6.3-4.2-3.8z"/><path color="#3bbb75" d="M852.6 265l4.3 1.8 2.5-6.5-4.2-2.2z"/><path color="#42be71" d="M859.4 260.3l4.3 2.3 2.6-6.1-4.3-2.6z"/><path color="#414487" d="M837 377.4l4.3-5.7 2.5 1.7-4.2 5.4z"/><path color="#1f9e89" d="M713.3 291l4.2 2.1 2.9.6-4.3-3.1z"/><path color="#38b977" d="M937.1 265.8l4.3 3.8 2.5-6.6-4.3-3.8z"/><path color="#44bf70" d="M910.7 258.7l4.3 3.9 2.5-6.2-4.3-4z"/><path color="#37b878" d="M948.2 266.6l4.3 3.6 2.5-6.9-4.3-3.4z"/><path color="#4cc26c" d="M877.4 256.2l4.3 3 2.5-6-4.3-3.3z"/><path color="#3aba76" d="M926 264.3l4.3 3.9 2.5-6.3-4.2-4z"/><path color="#3a548c" d="M846.4 369.3l4.3-5.6 2.6-9.3-4.3 5.5z"/><path color="#48c16e" d="M899.6 257.4l4.3 3.7 2.5-6.2-4.3-3.8z"/><path color="#20938c" d="M846.5 311.5l4.3-3.8 2.6-14.3-4.3 2.5z"/><path color="#4ac16d" d="M888.5 256.5l4.3 3.4 2.5-6.1-4.3-3.6z"/><path color="#33628d" d="M764.3 341.2l4.3 5 2.9 12.8-4.3-5.1z"/><path color="#3dbc74" d="M915 262.6l4.2 3.9 2.6-6.2-4.3-3.9z"/><path color="#32b67a" d="M941.4 269.6l4.3 3.7 2.5-6.7-4.3-3.6z"/><path color="#365d8d" d="M768.6 346.2l4.2 4.2 2.9 12.9-4.2-4.3z"/><path color="#46c06f" d="M870.6 259.2l4.2 2.8 2.6-5.8-4.3-3.1z"/><path color="#34b679" d="M930.3 268.2l4.3 3.9 2.5-6.3-4.3-3.9z"/><path color="#24868e" d="M672.4 319.8l4-3.7 2.7-5.8-4 2.8z"/><path color="#31b57b" d="M850 272.9l4.3.9 2.6-7-4.3-1.8z"/><path color="#25ac82" d="M847.4 284.2l4.3-1.3 2.6-9.1-4.3-.9z"/><path color="#31688e" d="M760 335.5l4.3 5.7 2.9 12.7-4.2-5.8z"/><path color="#40bd72" d="M903.9 261.1l4.2 3.6 2.6-6-4.3-3.8z"/><path color="#1fa188" d="M702.2 290l4.1.8 2.8-1.7-4.1-1.8z"/><path color="#46c06f" d="M881.7 259.2l4.2 3.1 2.6-5.8-4.3-3.3z"/><path color="#37b878" d="M919.2 266.5l4.3 3.9 2.5-6.1-4.2-4z"/><path color="#1e9b8a" d="M717.5 293.1l4.2 2.3 2.9 1.7-4.2-3.4z"/><path color="#3fbc73" d="M863.7 262.6l4.3 2.4 2.6-5.8-4.3-2.7z"/><path color="#44bf70" d="M892.8 259.9l4.3 3.4 2.5-5.9-4.3-3.6z"/><path color="#414287" d="M830.2 376.8l4.2-5.7 2.6 6.3-4.3 5.2z"/><path color="#1f958b" d="M681.8 304.6l4-2 2.7-4.8-4 1.1z"/><path color="#2eb37c" d="M945.7 273.3l4.3 3.6 2.5-6.7-4.3-3.6z"/><path color="#38598c" d="M772.8 350.4l4.3 3.3 2.9 13-4.3-3.4z"/><path color="#2fb47c" d="M934.6 272.1l4.3 3.8 2.5-6.3-4.3-3.8z"/><path color="#38b977" d="M856.9 266.8l4.3 1.8 2.5-6-4.3-2.3z"/><path color="#2e6f8e" d="M755.7 329.2l4.3 6.3 3 12.6-4.3-6.3z"/><path color="#3d4e8a" d="M843.8 373.4l4.3-5.8 2.6-3.9-4.3 5.6z"/><path color="#33628d" d="M849 359.9l4.3-5.5 2.6-13.4-4.3 5.6z"/><path color="#23888e" d="M848.2 323.9l4.3-4.6 2.6-15.2-4.3 3.6z"/><path color="#3bbb75" d="M908.1 264.7l4.3 3.8 2.6-5.9-4.3-3.9z"/><path color="#32b67a" d="M923.5 270.4l4.3 3.8 2.5-6-4.3-3.9z"/><path color="#3f4788" d="M796.8 368.7l4.2-2.7 2.7 12.6-4.1 2.2z"/><path color="#40bd72" d="M874.8 262l4.3 2.8 2.6-5.6-4.3-3z"/><path color="#3dbc74" d="M897.1 263.3l4.2 3.5 2.6-5.7-4.3-3.7z"/><path color="#2ab07f" d="M938.9 275.9l4.3 3.8 2.5-6.4-4.3-3.7z"/><path color="#40bd72" d="M885.9 262.3l4.3 3.2 2.6-5.6-4.3-3.4z"/><path color="#1fa088" d="M695.3 292.9l4.1-.1 2.8-2.8-4.1-.8z"/><path color="#35b779" d="M912.4 268.5l4.3 3.7 2.5-5.7-4.2-3.9z"/><path color="#2b758e" d="M751.4 323.2l4.3 6 3 12.6-4.3-6.7z"/><path color="#1f998a" d="M721.7 295.4l4.2 2.6 2.9 2.8-4.2-3.7z"/><path color="#1e9c89" d="M688.5 297.8l4.1-1.1 2.7-3.8-4.1.2z"/><path color="#2db27d" d="M927.8 274.2l4.3 3.9 2.5-6-4.3-3.9z"/><path color="#3bbb75" d="M868 265l4.3 2.4 2.5-5.4-4.2-2.8z"/><path color="#39568c" d="M777.1 353.7l4.2 2.2 2.9 13.2-4.2-2.4z"/><path color="#26ad81" d="M943.2 279.7l4.3 3.7 2.5-6.5-4.3-3.6z"/><path color="#38b977" d="M901.3 266.8l4.3 3.5 2.5-5.6-4.2-3.6z"/><path color="#2fb47c" d="M854.3 273.8l4.3 1.3 2.6-6.5-4.3-1.8z"/><path color="#2fb47c" d="M916.7 272.2l4.3 3.8 2.5-5.6-4.3-3.9z"/><path color="#1fa287" d="M849.1 295.9l4.3-2.5 2.6-10.9-4.3.4z"/><path color="#28ae80" d="M932.1 278.1l4.3 3.8 2.5-6-4.3-3.8z"/><path color="#37b878" d="M861.2 268.6l4.2 2 2.6-5.6-4.3-2.4z"/><path color="#3dbc74" d="M879.1 264.8l4.3 2.8 2.5-5.3-4.2-3.1z"/><path color="#3bbb75" d="M890.2 265.5l4.3 3.2 2.6-5.4-4.3-3.4z"/><path color="#287d8e" d="M747.1 317.5l4.3 5.7 3 11.9-4.3-6.6z"/><path color="#277e8e" d="M849.9 335.8l4.3-5.2 2.6-15.8-4.3 4.5z"/><path color="#1fa188" d="M706.3 290.8l4.2 1 2.8-.8-4.2-1.9z"/><path color="#1f968b" d="M725.9 298l4.2 2.7 2.9 4.5-4.2-4.4z"/><path color="#20928c" d="M679.1 310.3l3.9-2.9 2.8-4.8-4 2z"/><path color="#34b679" d="M905.6 270.3l4.3 3.5 2.5-5.3-4.3-3.8z"/><path color="#2ab07f" d="M921 276l4.3 3.7 2.5-5.5-4.3-3.8z"/><path color="#27ad81" d="M851.7 282.9l4.3-.4 2.6-7.4-4.3-1.3z"/><path color="#25ab82" d="M936.4 281.9l4.3 3.7 2.5-5.9-4.3-3.8z"/><path color="#25838e" d="M742.8 312.3l4.3 5.2 3 11-4.3-6.4z"/><path color="#20928c" d="M730.1 300.7l4.2 3.1 3 6.5-4.3-5.1z"/><path color="#38b977" d="M872.3 267.4l4.3 2.5 2.5-5.1-4.3-2.8z"/><path color="#37b878" d="M894.5 268.7l4.3 3.2 2.5-5.1-4.2-3.5z"/><path color="#23898e" d="M738.6 307.7l4.2 4.6 3 9.8-4.2-6.1z"/><path color="#38b977" d="M883.4 267.6l4.3 2.9 2.5-5-4.3-3.2z"/><path color="#218e8d" d="M734.3 303.8l4.3 3.9 3 8.3-4.3-5.7z"/><path color="#27ad81" d="M925.3 279.7l4.3 3.8 2.5-5.4-4.3-3.9z"/><path color="#2eb37c" d="M909.9 273.8l4.3 3.6 2.5-5.2-4.3-3.7z"/><path color="#22a884" d="M940.7 285.6l4.3 3.7 2.5-5.9-4.3-3.7z"/><path color="#39568c" d="M781.3 355.9l4.2.9 2.9 13.5-4.2-1.2z"/><path color="#35b779" d="M865.4 270.6l4.3 2 2.6-5.2-4.3-2.4z"/><path color="#2fb47c" d="M858.6 275.1l4.3 1.3 2.5-5.8-4.2-2z"/><path color="#3e4989" d="M812.1 371.1l4.3-5.1 2.7 11.8-4.3 4.4z"/><path color="#32b67a" d="M898.8 271.9l4.3 3.3 2.5-4.9-4.3-3.5z"/><path color="#24aa83" d="M929.6 283.5l4.3 3.7 2.5-5.3-4.3-3.8z"/><path color="#1f998a" d="M850.8 307.7l4.3-3.6 2.6-12.6-4.3 1.9z"/><path color="#1fa188" d="M699.4 292.8l4.1-.1 2.8-1.9-4.1-.8z"/><path color="#2c738e" d="M851.6 346.6l4.3-5.6 2.6-15.8-4.3 5.4z"/><path color="#2ab07f" d="M914.2 277.4l4.3 3.5 2.5-4.9-4.3-3.8z"/><path color="#1f998a" d="M685.8 302.6l4-2 2.8-3.9-4.1 1.1z"/><path color="#1fa188" d="M710.5 291.8l4.1 1.1 2.9.2-4.2-2.1z"/><path color="#3f4889" d="M823.3 372.7l4.2-5.8 2.7 9.9-4.3 5.2z"/><path color="#35b779" d="M876.6 269.9l4.3 2.5 2.5-4.8-4.3-2.8z"/><path color="#34b679" d="M887.7 270.5l4.3 2.9 2.5-4.7-4.3-3.2z"/><path color="#228d8d" d="M676.4 316.1l3.9-3.6 2.7-5.1-3.9 2.9z"/><path color="#21a685" d="M933.9 287.2l4.3 3.7 2.5-5.3-4.3-3.7z"/><path color="#1f9f88" d="M692.6 296.7l4-1 2.8-2.9-4.1.1z"/><path color="#26ad81" d="M918.5 280.9l4.3 3.6 2.5-4.8-4.3-3.7z"/><path color="#2db27d" d="M903.1 275.2l4.3 3.3 2.5-4.7-4.3-3.5z"/><path color="#32b67a" d="M869.7 272.6l4.3 2.1 2.6-4.8-4.3-2.5z"/><path color="#28ae80" d="M856 282.5l4.3.4 2.6-6.5-4.3-1.3z"/><path color="#3c508b" d="M841.3 371.7l4.3-6.2 2.5 2.1-4.3 5.8z"/><path color="#20a386" d="M938.2 290.9l4.3 3.6 2.5-5.2-4.3-3.7z"/><path color="#31b57b" d="M892 273.4l4.3 3 2.5-4.5-4.3-3.2z"/><path color="#3c4f8a" d="M801 366l4.2-3.8 2.7 13.1-4.2 3.3z"/><path color="#21a685" d="M853.4 293.4l4.3-1.9 2.6-8.6-4.3-.4z"/><path color="#24aa83" d="M922.8 284.5l4.3 3.6 2.5-4.6-4.3-3.8z"/><path color="#32b67a" d="M880.9 272.4l4.3 2.6 2.5-4.5-4.3-2.9z"/><path color="#355f8d" d="M850.7 363.7l4.3-6 2.6-9.2-4.3 5.9z"/><path color="#2eb37c" d="M862.9 276.4l4.3 1.5 2.5-5.3-4.3-2z"/><path color="#29af7f" d="M907.4 278.5l4.3 3.3 2.5-4.4-4.3-3.6z"/><path color="#21908d" d="M852.5 319.3l4.3-4.5 2.6-13.9-4.3 3.2z"/><path color="#1fa088" d="M714.6 292.9l4.2 1.3 2.9 1.2-4.2-2.3z"/><path color="#21a685" d="M927.1 288.1l4.3 3.6 2.5-4.5-4.3-3.7z"/><path color="#38588c" d="M785.5 356.8l4.2-.5 2.9 13.9-4.2.1z"/><path color="#2db27d" d="M896.3 276.4l4.3 3 2.5-4.2-4.3-3.3z"/><path color="#26ad81" d="M911.7 281.8l4.3 3.4 2.5-4.3-4.3-3.5z"/><path color="#1fa287" d="M703.5 292.7l4.2.1 2.8-1-4.2-1z"/><path color="#3c4f8a" d="M834.4 371.1l4.3-6.2 2.6 6.8-4.3 5.7z"/><path color="#31b57b" d="M874 274.7l4.3 2.2 2.6-4.5-4.3-2.5z"/><path color="#1f968b" d="M683 307.4l4-2.8 2.8-4-4 2z"/><path color="#2fb47c" d="M885.2 275l4.3 2.6 2.5-4.2-4.3-2.9z"/><path color="#2e6d8e" d="M853.3 354.4l4.3-5.9 2.6-13.4-4.3 5.9z"/><path color="#20a386" d="M931.4 291.7l4.3 3.6 2.5-4.4-4.3-3.7z"/><path color="#38598c" d="M848.1 367.6l4.3-6.2 2.6-3.7-4.3 6z"/><path color="#24aa83" d="M916 285.2l4.3 3.3 2.5-4-4.3-3.6z"/><path color="#28ae80" d="M860.3 282.9l4.3.8 2.6-5.8-4.3-1.5z"/><path color="#2db27d" d="M867.2 277.9l4.3 1.6 2.5-4.8-4.3-2.1z"/><path color="#29af7f" d="M900.6 279.4l4.3 3 2.5-3.9-4.3-3.3z"/><path color="#1fa088" d="M935.7 295.3l4.3 3.6 2.5-4.4-4.3-3.6z"/><path color="#1f9f88" d="M718.8 294.2l4.2 1.5 2.9 2.3-4.2-2.6z"/><path color="#1fa188" d="M696.6 295.7l4.1-1 2.8-2-4.1.1z"/><path color="#1e9d89" d="M689.8 300.6l4-1.9 2.8-3-4 1z"/><path color="#24868e" d="M854.2 330.6l4.3-5.4 2.6-14.8-4.3 4.4z"/><path color="#2db27d" d="M889.5 277.6l4.3 2.6 2.5-3.8-4.3-3z"/><path color="#2eb37c" d="M878.3 276.9l4.3 2.2 2.6-4.1-4.3-2.6z"/><path color="#22a785" d="M920.3 288.5l4.3 3.4 2.5-3.8-4.3-3.6z"/><path color="#1f9e89" d="M855.1 304.1l4.3-3.2 2.6-10.4-4.3 1z"/><path color="#27ad81" d="M904.9 282.4l4.3 3 2.5-3.6-4.3-3.3z"/><path color="#22a884" d="M857.7 291.5l4.3-1 2.6-6.8-4.3-.8z"/><path color="#20a386" d="M924.6 291.9l4.3 3.4 2.5-3.6-4.3-3.6z"/><path color="#20a386" d="M707.7 292.8l4.1.1 2.8 0-4.1-1.1z"/><path color="#2cb17e" d="M871.5 279.5l4.3 1.7 2.5-4.3-4.3-2.2z"/><path color="#2ab07f" d="M893.8 280.2l4.3 2.7 2.5-3.5-4.3-3z"/><path color="#20938c" d="M680.3 312.5l4-3.7 2.7-4.2-4 2.8z"/><path color="#1f9e89" d="M723 295.7l4.2 1.7 2.9 3.3-4.2-2.7z"/><path color="#25ab82" d="M909.2 285.4l4.3 3.1 2.5-3.3-4.3-3.4z"/><path color="#28ae80" d="M864.6 283.7l4.3.9 2.6-5.1-4.3-1.6z"/><path color="#2cb17e" d="M882.6 279.1l4.3 2.2 2.6-3.7-4.3-2.6z"/><path color="#3a538b" d="M816.4 366l4.2-5.9 2.7 12.6-4.2 5.1z"/><path color="#375b8d" d="M789.7 356.3l4.2-1.9 2.9 14.3-4.2 1.5z"/><path color="#1fa188" d="M928.9 295.3l4.3 3.4 2.5-3.4-4.3-3.6z"/><path color="#287d8e" d="M855.9 341l4.3-5.9 2.6-15.4-4.3 5.5z"/><path color="#22a884" d="M913.5 288.5l4.3 3.1 2.5-3.1-4.3-3.3z"/><path color="#3a548c" d="M827.5 366.9l4.3-6.4 2.6 10.6-4.2 5.7z"/><path color="#27ad81" d="M898.1 282.9l4.3 2.7 2.5-3.2-4.3-3z"/><path color="#1f9e89" d="M933.2 298.7l4.4 3.4 2.4-3.2-4.3-3.6z"/><path color="#38588c" d="M805.2 362.2l4.2-4.9 2.7 13.8-4.2 4.2z"/><path color="#1e9c89" d="M727.2 297.4l4.2 1.9 2.9 4.5-4.2-3.1z"/><path color="#1f968b" d="M856.8 314.8l4.3-4.4 2.6-12.1-4.3 2.6z"/><path color="#20a386" d="M700.7 294.7l4.1-.8 2.9-1.1-4.2-.1z"/><path color="#2ab07f" d="M875.8 281.2l4.3 1.7 2.5-3.8-4.3-2.2z"/><path color="#1e9b8a" d="M687 304.6l4-2.7 2.8-3.2-4 1.9z"/><path color="#2ab07f" d="M886.9 281.3l4.4 2.3 2.5-3.4-4.3-2.6z"/><path color="#24aa83" d="M862 290.5l4.3-.1 2.6-5.8-4.3-.9z"/><path color="#21a585" d="M917.8 291.6l4.4 3.1 2.4-2.8-4.3-3.4z"/><path color="#1fa188" d="M693.8 298.7l4.1-1.8 2.8-2.2-4.1 1z"/><path color="#20a386" d="M711.8 292.9l4.1.4 2.9.9-4.2-1.3z"/><path color="#25ac82" d="M902.4 285.6l4.3 2.7 2.5-2.9-4.3-3z"/><path color="#28ae80" d="M868.9 284.6l4.3 1 2.6-4.4-4.3-1.7z"/><path color="#365c8d" d="M845.6 365.5l4.3-6.6 2.5 2.5-4.3 6.2z"/><path color="#306a8e" d="M855 357.7l4.3-6.3 2.6-9.2-4.3 6.3z"/><path color="#1fa287" d="M859.4 300.9l4.3-2.6 2.6-7.9-4.3.1z"/><path color="#1f9a8a" d="M731.4 299.3l4.2 2.1 3 6.3-4.3-3.9z"/><path color="#1fa287" d="M922.2 294.7l4.3 3.1 2.4-2.5-4.3-3.4z"/><path color="#28ae80" d="M891.3 283.6l4.3 2.3 2.5-3-4.3-2.7z"/><path color="#29af7f" d="M880.1 282.9l4.3 1.8 2.5-3.4-4.3-2.2z"/><path color="#2a788e" d="M761.3 326.9l4.3 4.9 3 14.4-4.3-5z"/><path color="#24aa83" d="M906.7 288.3l4.3 2.7 2.5-2.5-4.3-3.1z"/><path color="#2b748e" d="M765.6 331.8l4.2 4.1 3 14.5-4.2-4.2z"/><path color="#277e8e" d="M757 321.3l4.3 5.6 3 14.3-4.3-5.7z"/><path color="#1f978b" d="M735.6 301.4l4.2 2.5 3 8.4-4.2-4.6z"/><path color="#375b8d" d="M838.7 364.9l4.3-6.8 2.6 7.4-4.3 6.2z"/><path color="#1fa088" d="M926.5 297.8l4.3 3.1 2.4-2.2-4.3-3.4z"/><path color="#2a768e" d="M857.6 348.5l4.3-6.3 2.7-13.4-4.4 6.3z"/><path color="#25848e" d="M752.7 316l4.3 5.3 3 14.2-4.3-6.3z"/><path color="#218f8d" d="M858.5 325.2l4.3-5.5 2.7-13.3-4.4 4z"/><path color="#32658e" d="M852.4 361.4l4.4-6.6 2.5-3.4-4.3 6.3z"/><path color="#28ae80" d="M873.2 285.6l4.3 1.1 2.6-3.8-4.3-1.7z"/><path color="#20938c" d="M739.8 303.9l4.3 3.3 3 10.3-4.3-5.2z"/><path color="#2d718e" d="M769.8 335.9l4.3 3.1 3 14.7-4.3-3.3z"/><path color="#238a8d" d="M748.4 311.2l4.3 4.8 3 13.2-4.3-6z"/><path color="#20a486" d="M715.9 293.3l4.2.4 2.9 2-4.2-1.5z"/><path color="#26ad81" d="M895.6 285.9l4.3 2.3 2.5-2.6-4.3-2.7z"/><path color="#25ab82" d="M866.3 290.4l4.4.2 2.5-5-4.3-1z"/><path color="#21a585" d="M704.8 293.9l4.1-.7 2.9-.3-4.1-.1z"/><path color="#21908d" d="M744.1 307.2l4.3 4 3 12-4.3-5.7z"/><path color="#34618d" d="M793.9 354.4l4.3-3.2 2.8 14.8-4.2 2.7z"/><path color="#22a785" d="M911 291l4.4 2.8 2.4-2.2-4.3-3.1z"/><path color="#1f998a" d="M684.3 308.8l3.9-3.6 2.8-3.3-4 2.7z"/><path color="#28ae80" d="M884.4 284.7l4.3 1.8 2.6-2.9-4.4-2.3z"/><path color="#1e9d89" d="M930.8 300.9l4.3 3.1 2.5-1.9-4.4-3.4z"/><path color="#2e6f8e" d="M774.1 339l4.3 2 2.9 14.9-4.2-2.2z"/><path color="#20a486" d="M697.9 296.9l4.1-1.7 2.8-1.3-4.1.8z"/><path color="#1fa088" d="M691 301.9l4.1-2.7 2.8-2.3-4.1 1.8z"/><path color="#21a585" d="M915.4 293.8l4.3 2.8 2.5-1.9-4.4-3.1z"/><path color="#25ab82" d="M899.9 288.2l4.3 2.3 2.5-2.2-4.3-2.7z"/><path color="#21a585" d="M863.7 298.3l4.4-1.6 2.6-6.1-4.4-.2z"/><path color="#1e9c89" d="M861.1 310.4l4.4-4 2.6-9.7-4.4 1.6z"/><path color="#27ad81" d="M877.5 286.7l4.4 1.3 2.5-3.3-4.3-1.8z"/><path color="#27ad81" d="M888.7 286.5l4.4 1.9 2.5-2.5-4.3-2.3z"/><path color="#355f8d" d="M820.6 360.1l4.3-6.6 2.6 13.4-4.2 5.8z"/><path color="#20a486" d="M720.1 293.7l4.2.7 2.9 3-4.2-1.7z"/><path color="#1fa287" d="M919.7 296.6l4.3 2.8 2.5-1.6-4.3-3.1z"/><path color="#24878e" d="M860.2 335.1l4.4-6.3 2.6-14.3-4.4 5.2z"/><path color="#25ac82" d="M870.7 290.6l4.3.4 2.5-4.3-4.3-1.1z"/><path color="#34618d" d="M809.4 357.3l4.2-5.8 2.8 14.5-4.3 5.1z"/><path color="#23a983" d="M904.2 290.5l4.4 2.4 2.4-1.9-4.3-2.7z"/><path color="#22a785" d="M708.9 293.2l4.1-.6 2.9.7-4.1-.4z"/><path color="#34608d" d="M831.8 360.5l4.3-6.9 2.6 11.3-4.3 6.2z"/><path color="#2e6f8e" d="M778.4 341l4.2.7 2.9 15.1-4.2-.9z"/><path color="#1fa188" d="M924 299.4l4.4 2.7 2.4-1.2-4.3-3.1z"/><path color="#26ad81" d="M893.1 288.4l4.3 1.9 2.5-2.1-4.3-2.3z"/><path color="#27ad81" d="M881.9 288l4.3 1.3 2.5-2.8-4.3-1.8z"/><path color="#22a785" d="M908.6 292.9l4.3 2.4 2.5-1.5-4.4-2.8z"/><path color="#20a486" d="M724.3 294.4l4.2.8 2.9 4.1-4.2-1.9z"/><path color="#31678e" d="M849.9 358.9l4.3-6.9 2.6 2.8-4.4 6.6z"/><path color="#22a884" d="M868.1 296.7l4.3-.8 2.6-4.9-4.3-.4z"/><path color="#2b758e" d="M859.3 351.4l4.4-6.7 2.6-9-4.4 6.5z"/><path color="#1f9e89" d="M928.4 302.1l4.3 2.6 2.4-.7-4.3-3.1z"/><path color="#22a785" d="M702 295.2l4-1.7 2.9-.3-4.1.7z"/><path color="#1f9f88" d="M688.2 305.2l4-3.5 2.9-2.5-4.1 2.7z"/><path color="#25ac82" d="M875 291l4.3.5 2.6-3.5-4.4-1.3z"/><path color="#31688e" d="M798.2 351.2l4.2-4.4 2.8 15.4-4.2 3.8z"/><path color="#1f968b" d="M862.8 319.7l4.4-5.2 2.6-11.4-4.3 3.3z"/><path color="#25ab82" d="M897.4 290.3l4.3 1.9 2.5-1.7-4.3-2.3z"/><path color="#20a486" d="M695.1 299.2l4-2.6 2.9-1.4-4.1 1.7z"/><path color="#21a685" d="M912.9 295.3l4.4 2.3 2.4-1-4.3-2.8z"/><path color="#26ad81" d="M886.2 289.3l4.3 1.4 2.6-2.3-4.4-1.9z"/><path color="#23a983" d="M713 292.6l4.2-.5 2.9 1.6-4.2-.4z"/><path color="#1fa187" d="M865.5 306.4l4.3-3.3 2.6-7.2-4.3.8z"/><path color="#26828e" d="M861.9 342.2l4.4-6.5 2.6-13.4-4.3 6.5z"/><path color="#31678e" d="M843 358.1l4.3-7.1 2.6 7.9-4.3 6.6z"/><path color="#2d718e" d="M782.6 341.7l4.2-.9 2.9 15.5-4.2.5z"/><path color="#20a486" d="M728.5 295.2l4.2 1.1 2.9 5.1-4.2-2.1z"/><path color="#2d708e" d="M856.8 354.8l4.3-6.8 2.6-3.3-4.4 6.7z"/><path color="#20a486" d="M917.3 297.6l4.3 2.3 2.4-.5-4.3-2.8z"/><path color="#24aa83" d="M901.7 292.2l4.4 1.9 2.5-1.2-4.4-2.4z"/><path color="#26ad81" d="M879.3 291.5l4.4.6 2.5-2.8-4.3-1.3z"/><path color="#26ad81" d="M890.5 290.7l4.4 1.4 2.5-1.8-4.3-1.9z"/><path color="#23a983" d="M872.4 295.9l4.4-.4 2.5-4-4.3-.5z"/><path color="#20a386" d="M732.7 296.3l4.2 1.3 2.9 6.3-4.2-2.5z"/><path color="#25ab82" d="M706 293.5l4.1-1.5 2.9.6-4.1.6z"/><path color="#1fa287" d="M921.6 299.9l4.4 2.2 2.4 0-4.4-2.7z"/><path color="#23a983" d="M906.1 294.1l4.3 1.9 2.5-.7-4.3-2.4z"/><path color="#21918c" d="M864.6 328.8l4.3-6.5 2.7-12.6-4.4 4.8z"/><path color="#25ab82" d="M717.2 292.1l4.1-.3 3 2.6-4.2-.7z"/><path color="#306a8e" d="M824.9 353.5l4.2-7.1 2.7 14.1-4.3 6.4z"/><path color="#2f6b8e" d="M813.6 351.5l4.3-6.7 2.7 15.3-4.2 5.9z"/><path color="#21a585" d="M692.2 301.7l4-3.5 2.9-1.6-4 2.6z"/><path color="#26ad81" d="M883.7 292.1l4.3.7 2.5-2.1-4.3-1.4z"/><path color="#23a983" d="M699.1 296.6l4.1-2.5 2.8-.6-4 1.7z"/><path color="#25ac82" d="M894.9 292.1l4.4 1.4 2.4-1.3-4.3-1.9z"/><path color="#21a585" d="M869.8 303.1l4.4-2.4 2.6-5.2-4.4.4z"/><path color="#1fa188" d="M926 302.1l4.3 2.2 2.4.4-4.3-2.6z"/><path color="#1fa287" d="M736.9 297.6l4.2 1.5 3 8.1-4.3-3.3z"/><path color="#2b748e" d="M786.8 340.8l4.3-2.3 2.8 15.9-4.2 1.9z"/><path color="#2f6c8e" d="M836.1 353.6l4.3-7.5 2.6 12-4.3 6.8z"/><path color="#22a884" d="M910.4 296l4.4 1.9 2.5-.3-4.4-2.3z"/><path color="#1f9e89" d="M867.2 314.5l4.4-4.8 2.6-9-4.4 2.4z"/><path color="#25ab82" d="M876.8 295.5l4.3-.2 2.6-3.2-4.4-.6z"/><path color="#2d718e" d="M802.4 346.8l4.2-5.5 2.8 16-4.2 4.9z"/><path color="#1fa188" d="M741.1 299.1l4.2 1.9 3.1 10.2-4.3-4z"/><path color="#25ac82" d="M899.3 293.5l4.3 1.4 2.5-.8-4.4-1.9z"/><path color="#25ac82" d="M721.3 291.8l4.2-.2 3 3.6-4.2-.8z"/><path color="#27808e" d="M863.7 344.7l4.4-6.8 2.6-8.9-4.4 6.7z"/><path color="#2c728e" d="M854.2 352l4.4-7.2 2.5 3.2-4.3 6.8z"/><path color="#26ad81" d="M888 292.8l4.4.8 2.5-1.5-4.4-1.4z"/><path color="#27ad81" d="M710.1 292l4.2-1.4 2.9 1.5-4.2.5z"/><path color="#21a685" d="M914.8 297.9l4.4 1.7 2.4.3-4.3-2.3z"/><path color="#1f9e89" d="M745.3 301l4.3 2.7 3.1 12.3-4.3-4.8z"/><path color="#1f9a8a" d="M749.6 303.7l4.3 3.6 3.1 14-4.3-5.3z"/><path color="#228c8d" d="M866.3 335.7l4.4-6.7 2.6-12.8-4.4 6.1z"/><path color="#1f958b" d="M753.9 307.3l4.3 4.3 3.1 15.3-4.3-5.6z"/><path color="#21908d" d="M758.2 311.6l4.3 4.7 3.1 15.5-4.3-4.9z"/><path color="#228c8d" d="M762.5 316.3l4.3 4 3 15.6-4.2-4.1z"/><path color="#2c728e" d="M847.3 351l4.4-7.5 2.5 8.5-4.3 6.9z"/><path color="#26ad81" d="M881.1 295.3l4.4-.1 2.5-2.4-4.3-.7z"/><path color="#22a884" d="M874.2 300.7l4.4-1.4 2.5-4-4.3.2z"/><path color="#297b8e" d="M861.1 348l4.4-7.1 2.6-3-4.4 6.8z"/><path color="#25ab82" d="M903.6 294.9l4.4 1.3 2.4-.2-4.3-1.9z"/><path color="#27ad81" d="M703.2 294.1l4-2.5 2.9.4-4.1 1.5z"/><path color="#21a585" d="M919.2 299.6l4.4 1.7 2.4.8-4.4-2.2z"/><path color="#26ad81" d="M892.4 293.6l4.4.9 2.5-1-4.4-1.4z"/><path color="#23898e" d="M766.8 320.3l4.3 2.9 3 15.8-4.3-3.1z"/><path color="#26ad81" d="M725.5 291.6l4.2 0 3 4.7-4.2-1.1z"/><path color="#25ab82" d="M696.2 298.2l4.1-3.4 2.9-.7-4.1 2.5z"/><path color="#297a8e" d="M791.1 338.5l4.2-3.7 2.9 16.4-4.3 3.2z"/><path color="#1f998a" d="M868.9 322.3l4.4-6.1 2.7-10.6-4.4 4.1z"/><path color="#20a386" d="M871.6 309.7l4.4-4.1 2.6-6.3-4.4 1.4z"/><path color="#2ab07f" d="M714.3 290.6l4.1-1.2 2.9 2.4-4.1.3z"/><path color="#25ab82" d="M908 296.2l4.4 1.3 2.4.4-4.4-1.9z"/><path color="#20a486" d="M923.6 301.3l4.4 1.6 2.3 1.4-4.3-2.2z"/><path color="#24878e" d="M771.1 323.2l4.3 1.7 3 16.1-4.3-2z"/><path color="#2a768e" d="M817.9 344.8l4.3-6.9 2.7 15.6-4.3 6.6z"/><path color="#27ad81" d="M885.5 295.2l4.4 0 2.5-1.6-4.4-.8z"/><path color="#2b758e" d="M829.1 346.4l4.4-7.3 2.6 14.5-4.3 6.9z"/><path color="#27ad81" d="M896.8 294.5l4.3.8 2.5-.4-4.3-1.4z"/><path color="#27ad81" d="M729.7 291.6l4.2.2 3 5.8-4.2-1.3z"/><path color="#25ab82" d="M878.6 299.3l4.3-1.1 2.6-3-4.4.1z"/><path color="#297a8e" d="M806.6 341.3l4.3-6.5 2.7 16.7-4.2 5.8z"/><path color="#2a788e" d="M840.4 346.1l4.3-7.7 2.6 12.6-4.3 7.1z"/><path color="#24aa83" d="M912.4 297.5l4.4 1.2 2.4.9-4.4-1.7z"/><path color="#2cb17e" d="M707.2 291.6l4.1-2.3 3 1.3-4.2 1.4z"/><path color="#24878e" d="M775.4 324.9l4.2.4 3 16.4-4.2-.7z"/><path color="#2eb37c" d="M718.4 289.4l4.2-1.2 2.9 3.4-4.2.2z"/><path color="#27ad81" d="M901.1 295.3l4.4.8 2.5.1-4.4-1.3z"/><path color="#28ae80" d="M889.9 295.2l4.4.2 2.5-.9-4.4-.9z"/><path color="#228b8d" d="M868.1 337.9l4.4-7 2.6-8.8-4.4 6.9z"/><path color="#2ab07f" d="M700.3 294.8l4-3.4 2.9.2-4 2.5z"/><path color="#277f8e" d="M858.6 344.8l4.4-7.5 2.5 3.6-4.4 7.1z"/><path color="#28ae80" d="M733.9 291.8l4.2.4 3 6.9-4.2-1.5z"/><path color="#22a884" d="M876 305.6l4.4-3.2 2.5-4.2-4.3 1.1z"/><path color="#1f968b" d="M870.7 329l4.4-6.9 2.7-11.6-4.5 5.7z"/><path color="#24aa83" d="M916.8 298.7l4.4 1.1 2.4 1.5-4.4-1.7z"/><path color="#26818e" d="M795.3 334.8l4.2-5 2.9 17-4.2 4.4z"/><path color="#27ad81" d="M882.9 298.2l4.4-.9 2.6-2.1-4.4 0z"/><path color="#1fa187" d="M873.3 316.2l4.5-5.7 2.6-8.1-4.4 3.2z"/><path color="#24868e" d="M865.5 340.9l4.4-7.2 2.6-2.8-4.4 7z"/><path color="#277e8e" d="M851.7 343.5l4.4-7.8 2.5 9.1-4.4 7.2z"/><path color="#23898e" d="M779.6 325.3l4.3-1.2 2.9 16.7-4.2.9z"/><path color="#27ad81" d="M905.5 296.1l4.4.6 2.5.8-4.4-1.3z"/><path color="#29af7f" d="M894.3 295.4l4.4.2 2.4-.3-4.3-.8z"/><path color="#28ae80" d="M738.1 292.2l4.2.7 3 8.1-4.2-1.9z"/><path color="#32b67a" d="M711.3 289.3l4.1-2.2 3 2.3-4.1 1.2z"/><path color="#24aa83" d="M921.2 299.8l4.4 1 2.4 2.1-4.4-1.6z"/><path color="#31b57b" d="M722.6 288.2l4.1-.9 3 4.3-4.2 0z"/><path color="#26828e" d="M822.2 337.9l4.3-7 2.6 15.5-4.2 7.1z"/><path color="#29af7f" d="M887.3 297.3l4.4-.7 2.6-1.2-4.4-.2z"/><path color="#26818e" d="M833.5 339.1l4.3-7.4 2.6 14.4-4.3 7.5z"/><path color="#28ae80" d="M909.9 296.7l4.4.6 2.5 1.4-4.4-1.2z"/><path color="#32b67a" d="M704.3 291.4l4.1-3.2 2.9 1.1-4.1 2.3z"/><path color="#28ae80" d="M742.3 292.9l4.3.9 3 9.9-4.3-2.7z"/><path color="#26ad81" d="M880.4 302.4l4.4-2.2 2.5-2.9-4.4.9z"/><path color="#25848e" d="M810.9 334.8l4.2-6.6 2.8 16.6-4.3 6.7z"/><path color="#2ab07f" d="M898.7 295.6l4.4.1 2.4.4-4.4-.8z"/><path color="#25838e" d="M844.7 338.4l4.4-7.8 2.6 12.9-4.4 7.5z"/><path color="#218e8d" d="M783.9 324.1l4.2-2.8 3 17.2-4.3 2.3z"/><path color="#35b779" d="M726.7 287.3l4.2-.8 3 5.3-4.2-.2z"/><path color="#26ad81" d="M746.6 293.8l4.2 1.2 3.1 12.3-4.3-3.6z"/><path color="#38b977" d="M715.4 287.1l4.2-2.1 3 3.2-4.2 1.2z"/><path color="#1f968b" d="M872.5 330.9l4.4-7 2.7-8.8-4.5 7z"/><path color="#28ae80" d="M914.3 297.3l4.5.5 2.4 2-4.4-1.1z"/><path color="#23a983" d="M877.8 310.5l4.4-5 2.6-5.3-4.4 2.2z"/><path color="#238a8d" d="M799.5 329.8l4.3-6.1 2.8 17.6-4.2 5.5z"/><path color="#1fa188" d="M875.1 322.1l4.5-7 2.6-9.6-4.4 5z"/><path color="#2cb17e" d="M891.7 296.6l4.5-.7 2.5-.3-4.4-.2z"/><path color="#238a8d" d="M863 337.3l4.4-7.6 2.5 4-4.4 7.2z"/><path color="#25ab82" d="M750.8 295l4.3 2.2 3.1 14.4-4.3-4.3z"/><path color="#2cb17e" d="M903.1 295.7l4.4 0 2.4 1-4.4-.6z"/><path color="#2ab07f" d="M884.8 300.2l4.4-1.8 2.5-1.8-4.4.7z"/><path color="#22a884" d="M755.1 297.2l4.3 3.1 3.1 16-4.3-4.7z"/><path color="#20928c" d="M869.9 333.7l4.5-7.3 2.5-2.5-4.4 7z"/><path color="#20a486" d="M759.4 300.3l4.4 3.6 3 16.4-4.3-4z"/><path color="#3aba76" d="M708.4 288.2l4.1-3.2 2.9 2.1-4.1 2.2z"/><path color="#38b977" d="M730.9 286.5l4.2-.7 3 6.4-4.2-.4z"/><path color="#238a8d" d="M856.1 335.7l4.4-8 2.5 9.6-4.4 7.5z"/><path color="#29af7f" d="M918.8 297.8l4.4.3 2.4 2.7-4.4-1z"/><path color="#1fa187" d="M763.8 303.9l4.3 2.8 3 16.5-4.3-2.9z"/><path color="#2eb37c" d="M896.2 295.9l4.4-.5 2.5.3-4.4-.1z"/><path color="#2eb37c" d="M907.5 295.7l4.4-.1 2.4 1.7-4.4-.6z"/><path color="#3fbc73" d="M719.6 285l4.1-1.9 3 4.2-4.1.9z"/><path color="#20938c" d="M788.1 321.3l4.3-4.2 2.9 17.7-4.2 3.7z"/><path color="#228d8d" d="M826.5 330.9l4.3-6.7 2.7 14.9-4.4 7.3z"/><path color="#1fa188" d="M768.1 306.7l4.3 1.5 3 16.7-4.3-1.7z"/><path color="#228d8d" d="M837.8 331.7l4.4-7.1 2.5 13.8-4.3 7.7z"/><path color="#28ae80" d="M882.2 305.5l4.5-4.1 2.5-3-4.4 1.8z"/><path color="#218f8d" d="M815.1 328.2l4.3-6.3 2.8 16-4.3 6.9z"/><path color="#2eb37c" d="M889.2 298.4l4.4-1.7 2.6-.8-4.5.7z"/><path color="#3aba76" d="M735.1 285.8l4.2-.4 3 7.5-4.2-.7z"/><path color="#2fb47c" d="M911.9 295.6l4.5-.2 2.4 2.4-4.5-.5z"/><path color="#21908d" d="M849.1 330.6l4.4-7.5 2.6 12.6-4.4 7.8z"/><path color="#32b67a" d="M900.6 295.4l4.4-.7 2.5 1-4.4 0z"/><path color="#24aa83" d="M879.6 315.1l4.4-6.7 2.7-7-4.5 4.1z"/><path color="#44bf70" d="M712.5 285l4.1-3 3 3-4.2 2.1z"/><path color="#20938c" d="M803.8 323.7l4.3-6 2.8 17.1-4.3 6.5z"/><path color="#1fa187" d="M876.9 323.9l4.5-7.1 2.6-8.4-4.4 6.7z"/><path color="#1fa188" d="M772.4 308.2l4.2.1 3 17-4.2-.4z"/><path color="#46c06f" d="M723.7 283.1l4.2-1.8 3 5.2-4.2.8z"/><path color="#1f968b" d="M867.4 329.7l4.5-7.7 2.5 4.4-4.5 7.3z"/><path color="#3dbc74" d="M739.3 285.4l4.3-.2 3 8.6-4.3-.9z"/><path color="#34b679" d="M893.6 296.7l4.5-1.5 2.5.2-4.4.5z"/><path color="#1e9d89" d="M874.4 326.4l4.5-7.3 2.5-2.3-4.5 7.1z"/><path color="#32b67a" d="M916.4 295.4l4.4-.4 2.4 3.1-4.4-.3z"/><path color="#2fb47c" d="M886.7 301.4l4.4-3 2.5-1.7-4.4 1.7z"/><path color="#1e9c89" d="M792.4 317.1l4.2-5.4 2.9 18.1-4.2 5z"/><path color="#35b779" d="M905 294.7l4.5-.8 2.4 1.7-4.4.1z"/><path color="#1f968b" d="M860.5 327.7l4.4-7.9 2.5 9.9-4.4 7.6z"/><path color="#20a386" d="M776.6 308.3l4.3-1.6 3 17.4-4.3 1.2z"/><path color="#3fbc73" d="M743.6 285.2l4.2 0 3 9.8-4.2-1.2z"/><path color="#4cc26c" d="M727.9 281.3l4.2-1.6 3 6.1-4.2.7z"/><path color="#4ec36b" d="M716.6 282l4.1-2.9 3 4-4.1 1.9z"/><path color="#1f988b" d="M830.8 324.2l4.4-6.3 2.6 13.8-4.3 7.4z"/><path color="#1f9a8a" d="M819.4 321.9l4.4-5.9 2.7 14.9-4.3 7z"/><path color="#1f998a" d="M842.2 324.6l4.3-6.7 2.6 12.7-4.4 7.8z"/><path color="#38b977" d="M898.1 295.2l4.4-1.4 2.5.9-4.4.7z"/><path color="#2db27d" d="M884 308.4l4.5-6 2.6-4-4.4 3z"/><path color="#3aba76" d="M909.5 293.9l4.4-1 2.5 2.5-4.5.2z"/><path color="#40bd72" d="M747.8 285.2l4.3.3 3 11.7-4.3-2.2z"/><path color="#1f9e89" d="M808.1 317.7l4.3-5.5 2.7 16-4.2 6.6z"/><path color="#37b878" d="M891.1 298.4l4.5-2.7 2.5-.5-4.5 1.5z"/><path color="#25ac82" d="M881.4 316.8l4.5-7 2.6-7.4-4.5 6z"/><path color="#1e9c89" d="M853.5 323.1l4.4-7.1 2.6 11.7-4.4 8z"/><path color="#52c569" d="M732.1 279.7l4.2-1.5 3 7.2-4.2.4z"/><path color="#22a884" d="M780.9 306.7l4.3-3.2 2.9 17.8-4.2 2.8z"/><path color="#3fbc73" d="M752.1 285.5l4.2.6 3.1 14.2-4.3-3.1z"/><path color="#1fa187" d="M871.9 322l4.4-7.7 2.6 4.8-4.5 7.3z"/><path color="#58c765" d="M720.7 279.1l4.2-2.8 3 5-4.2 1.8z"/><path color="#20a486" d="M796.6 311.7l4.3-5.2 2.9 17.2-4.3 6.1z"/><path color="#3dbc74" d="M902.5 293.8l4.5-1.6 2.5 1.7-4.5.8z"/><path color="#22a884" d="M878.9 319.1l4.4-7.3 2.6-2-4.5 7z"/><path color="#3dbc74" d="M913.9 292.9l4.5-1.2 2.4 3.3-4.4.4z"/><path color="#3dbc74" d="M756.3 286.1l4.4 1.6 3.1 16.2-4.4-3.6z"/><path color="#1fa287" d="M864.9 319.8l4.5-7.6 2.5 9.8-4.5 7.7z"/><path color="#3fbc73" d="M895.6 295.7l4.4-2.5 2.5.6-4.4 1.4z"/><path color="#37b878" d="M888.5 302.4l4.5-5 2.6-1.7-4.5 2.7z"/><path color="#58c765" d="M736.3 278.2l4.2-1.2 3.1 8.2-4.3.2z"/><path color="#3aba76" d="M760.7 287.7l4.3 2.3 3.1 16.7-4.3-2.8z"/><path color="#1fa287" d="M835.2 317.9l4.3-5.6 2.7 12.3-4.4 7.1z"/><path color="#20a386" d="M823.8 316l4.3-5.2 2.7 13.4-4.3 6.7z"/><path color="#20a386" d="M846.5 317.9l4.4-6 2.6 11.2-4.4 7.5z"/><path color="#63cb5f" d="M724.9 276.3l4.2-2.6 3 6-4.2 1.6z"/><path color="#44bf70" d="M907 292.2l4.5-1.8 2.4 2.5-4.4 1z"/><path color="#22a785" d="M812.4 312.2l4.3-4.8 2.7 14.5-4.3 6.3z"/><path color="#28ae80" d="M785.2 303.5l4.2-4.6 3 18.2-4.3 4.2z"/><path color="#38b977" d="M765 290l4.3 1.3 3.1 16.9-4.3-1.5z"/><path color="#32b67a" d="M885.9 309.8l4.5-6.9 2.6-5.5-4.5 5z"/><path color="#5ec962" d="M740.5 277l4.3-1.1 3 9.3-4.2 0z"/><path color="#22a785" d="M857.9 316l4.5-6.4 2.5 10.2-4.4 7.9z"/><path color="#46c06f" d="M900 293.2l4.5-2.4 2.5 1.4-4.5 1.6z"/><path color="#27ad81" d="M800.9 306.5l4.3-4.4 2.9 15.6-4.3 6z"/><path color="#3aba76" d="M769.3 291.3l4.3-.2 3 17.2-4.2-.1z"/><path color="#27ad81" d="M876.3 314.3l4.6-7.7 2.4 5.2-4.4 7.3z"/><path color="#42be71" d="M893 297.4l4.5-3.9 2.5-.3-4.4 2.5z"/><path color="#4cc26c" d="M911.5 290.4l4.5-2 2.4 3.3-4.5 1.2z"/><path color="#2eb37c" d="M883.3 311.8l4.6-7.1 2.5-1.8-4.5 6.9z"/><path color="#6ece58" d="M729.1 273.7l4.1-2.5 3.1 7-4.2 1.5z"/><path color="#63cb5f" d="M744.8 275.9l4.2-.8 3.1 10.4-4.3-.3z"/><path color="#28ae80" d="M869.4 312.2l4.5-6.8 2.4 8.9-4.4 7.7z"/><path color="#26ad81" d="M828.1 310.8l4.4-4.3 2.7 11.4-4.4 6.3z"/><path color="#25ac82" d="M839.5 312.3l4.4-4.7 2.6 10.3-4.3 6.7z"/><path color="#32b67a" d="M789.4 298.9l4.3-4 2.9 16.8-4.2 5.4z"/><path color="#2ab07f" d="M816.7 307.4l4.3-3.9 2.8 12.5-4.4 5.9z"/><path color="#27ad81" d="M850.9 311.9l4.5-5.1 2.5 9.2-4.4 7.1z"/><path color="#3fbc73" d="M773.6 291.1l4.3-2 3 17.6-4.3 1.6z"/><path color="#50c46a" d="M904.5 290.8l4.6-2.7 2.4 2.3-4.5 1.8z"/><path color="#42be71" d="M890.4 302.9l4.6-6.8 2.5-2.6-4.5 3.9z"/><path color="#67cc5c" d="M749 275.1l4.3-.7 3 11.7-4.2-.6z"/><path color="#4ec36b" d="M897.5 293.5l4.5-3.7 2.5 1-4.5 2.4z"/><path color="#77d153" d="M733.2 271.2l4.2-2.3 3.1 8.1-4.2 1.2z"/><path color="#32b67a" d="M805.2 302.1l4.4-3.5 2.8 13.6-4.3 5.5z"/><path color="#2db27d" d="M862.4 309.6l4.4-5.5 2.6 8.1-4.5 7.6z"/><path color="#37b878" d="M880.9 306.6l4.5-7.3 2.5 5.4-4.6 7.1z"/><path color="#6ccd5a" d="M753.3 274.4l4.3-.3 3.1 13.6-4.4-1.6z"/><path color="#5ac864" d="M909.1 288.1l4.5-2.8 2.4 3.1-4.5 2z"/><path color="#48c16e" d="M777.9 289.1l4.3-3.3 3 17.7-4.3 3.2z"/><path color="#40bd72" d="M887.9 304.7l4.5-7 2.6-1.6-4.6 6.8z"/><path color="#31b57b" d="M832.5 306.5l4.4-3.2 2.6 9-4.3 5.6z"/><path color="#31b57b" d="M843.9 307.6l4.4-3.6 2.6 7.9-4.4 6z"/><path color="#3fbc73" d="M793.7 294.9l4.3-3.1 2.9 14.7-4.3 5.2z"/><path color="#35b779" d="M821 303.5l4.4-2.8 2.7 10.1-4.3 5.2z"/><path color="#81d34d" d="M737.4 268.9l4.3-2.1 3.1 9.1-4.3 1.1z"/><path color="#37b878" d="M873.9 305.4l4.5-5.9 2.5 7.1-4.6 7.7z"/><path color="#34b679" d="M855.4 306.8l4.4-4 2.6 6.8-4.5 6.4z"/><path color="#5ac864" d="M902 289.8l4.6-3.5 2.5 1.8-4.6 2.7z"/><path color="#6ccd5a" d="M757.6 274.1l4.3 0 3.1 15.9-4.3-2.3z"/><path color="#54c568" d="M895 296.1l4.5-6 2.5-.3-4.5 3.7z"/><path color="#3dbc74" d="M809.6 298.6l4.3-2.4 2.8 11.2-4.3 4.8z"/><path color="#3bbb75" d="M866.8 304.1l4.5-4.4 2.6 5.7-4.5 6.8z"/><path color="#6ece58" d="M761.9 274.1l4.3.7 3.1 16.5-4.3-1.3z"/><path color="#8bd646" d="M741.7 266.8l4.2-1.9 3.1 10.2-4.2.8z"/><path color="#56c667" d="M782.2 285.8l4.3-2.8 2.9 15.9-4.2 4.6z"/><path color="#3dbc74" d="M836.9 303.3l4.4-2.9 2.6 7.2-4.4 4.7z"/><path color="#4cc26c" d="M798 291.8l4.4-2.1 2.8 12.4-4.3 4.4z"/><path color="#40bd72" d="M825.4 300.7l4.4-2.5 2.7 8.3-4.4 4.3z"/><path color="#3dbc74" d="M848.3 304l4.5-3.3 2.6 6.1-4.5 5.1z"/><path color="#4cc26c" d="M885.4 299.3l4.5-6.3 2.5 4.7-4.5 7z"/><path color="#69cd5b" d="M906.6 286.3l4.5-3.8 2.5 2.8-4.5 2.8z"/><path color="#56c667" d="M892.4 297.7l4.6-6.7 2.5-.9-4.5 6z"/><path color="#70cf57" d="M766.2 274.8l4.3-.5 3.1 16.8-4.3.2z"/><path color="#4ac16d" d="M813.9 296.2l4.4-2.1 2.7 9.4-4.3 3.9z"/><path color="#42be71" d="M859.8 302.8l4.5-3.7 2.5 5-4.4 5.5z"/><path color="#65cb5e" d="M899.5 290.1l4.6-5 2.5 1.2-4.6 3.5z"/><path color="#4ac16d" d="M878.4 299.5l4.5-4.8 2.5 4.6-4.5 7.3z"/><path color="#95d840" d="M745.9 264.9l4.3-1.7 3.1 11.2-4.3.7z"/><path color="#63cb5f" d="M786.5 283l4.3-1.6 2.9 13.5-4.3 4z"/><path color="#58c765" d="M802.4 289.7l4.4-1.7 2.8 10.6-4.4 3.5z"/><path color="#48c16e" d="M841.3 300.4l4.4-2.8 2.6 6.4-4.4 3.6z"/><path color="#4ec36b" d="M871.3 299.7l4.5-4.1 2.6 3.9-4.5 5.9z"/><path color="#4cc26c" d="M829.8 298.2l4.4-2.4 2.7 7.5-4.4 3.2z"/><path color="#77d153" d="M770.5 274.3l4.3-2 3.1 16.8-4.3 2z"/><path color="#4ac16d" d="M852.8 300.7l4.4-3.2 2.6 5.3-4.4 4z"/><path color="#54c568" d="M818.3 294.1l4.4-2 2.7 8.6-4.4 2.8z"/><path color="#9dd93b" d="M750.2 263.2l4.3-1.5 3.1 12.4-4.3.3z"/><path color="#60ca60" d="M889.9 293l4.6-5.2 2.5 3.2-4.6 6.7z"/><path color="#52c569" d="M864.3 299.1l4.5-3.6 2.5 4.2-4.5 4.4z"/><path color="#77d153" d="M904.1 285.1l4.6-4.8 2.4 2.2-4.5 3.8z"/><path color="#6ccd5a" d="M897 291l4.6-6.4 2.5.5-4.6 5z"/><path color="#70cf57" d="M790.8 281.4l4.4-1.4 2.8 11.8-4.3 3.1z"/><path color="#5ec962" d="M882.9 294.7l4.5-4.5 2.5 2.8-4.5 6.3z"/><path color="#63cb5f" d="M806.8 288l4.3-1.5 2.8 9.7-4.3 2.4z"/><path color="#84d44b" d="M774.8 272.3l4.4-1.2 3 14.7-4.3 3.3z"/><path color="#54c568" d="M845.7 297.6l4.4-2.6 2.7 5.7-4.5 3.3z"/><path color="#58c765" d="M834.2 295.8l4.4-2.2 2.7 6.8-4.4 2.9z"/><path color="#a5db36" d="M754.5 261.7l4.3-1.2 3.1 13.6-4.3 0z"/><path color="#5ec962" d="M875.8 295.6l4.5-4 2.6 3.1-4.5 4.8z"/><path color="#58c765" d="M857.2 297.5l4.5-3 2.6 4.6-4.5 3.7z"/><path color="#5ec962" d="M822.7 292.1l4.4-1.8 2.7 7.9-4.4 2.5z"/><path color="#7ad151" d="M795.2 280l4.3-1.1 2.9 10.8-4.4 2.1z"/><path color="#60ca60" d="M868.8 295.5l4.5-3.4 2.5 3.5-4.5 4.1z"/><path color="#6ece58" d="M811.1 286.5l4.4-1.4 2.8 9-4.4 2.1z"/><path color="#aadc32" d="M758.8 260.5l4.3-1 3.1 15.3-4.3-.7z"/><path color="#90d743" d="M779.2 271.1l4.3-1 3 12.9-4.3 2.8z"/><path color="#77d153" d="M894.5 287.8l4.6-5 2.5 1.8-4.6 6.4z"/><path color="#84d44b" d="M901.6 284.6l4.6-5.7 2.5 1.4-4.6 4.8z"/><path color="#63cb5f" d="M838.6 293.6l4.5-2 2.6 6-4.4 2.8z"/><path color="#60ca60" d="M850.1 295l4.5-2.4 2.6 4.9-4.4 3.2z"/><path color="#73d056" d="M887.4 290.2l4.6-4.5 2.5 2.1-4.6 5.2z"/><path color="#69cd5b" d="M827.1 290.3l4.4-1.6 2.7 7.1-4.4 2.4z"/><path color="#65cb5e" d="M861.7 294.5l4.5-2.9 2.6 3.9-4.5 3.6z"/><path color="#70cf57" d="M880.3 291.6l4.6-3.9 2.5 2.5-4.5 4.5z"/><path color="#b0dd2f" d="M763.1 259.5l4.3-.8 3.1 15.6-4.3.5z"/><path color="#84d44b" d="M799.5 278.9l4.4-1 2.9 10.1-4.4 1.7z"/><path color="#77d153" d="M815.5 285.1l4.4-1.3 2.8 8.3-4.4 2z"/><path color="#9bd93c" d="M783.5 270.1l4.4-.8 2.9 12.1-4.3 1.6z"/><path color="#70cf57" d="M873.3 292.1l4.5-3.3 2.5 2.8-4.5 4z"/><path color="#6ece58" d="M843.1 291.6l4.4-2 2.6 5.4-4.4 2.6z"/><path color="#6ece58" d="M854.6 292.6l4.5-2.4 2.6 4.3-4.5 3z"/><path color="#75d054" d="M831.5 288.7l4.4-1.6 2.7 6.5-4.4 2.2z"/><path color="#bade28" d="M767.4 258.7l4.4-.5 3 14.1-4.3 2z"/><path color="#90d743" d="M899.1 282.8l4.5-4.9 2.6 1-4.6 5.7z"/><path color="#8ed645" d="M803.9 277.9l4.4-.9 2.8 9.5-4.3 1.5z"/><path color="#75d054" d="M866.2 291.6l4.5-2.7 2.6 3.2-4.5 3.4z"/><path color="#89d548" d="M892 285.7l4.5-4.3 2.6 1.4-4.6 5z"/><path color="#81d34d" d="M819.9 283.8l4.4-1.1 2.8 7.6-4.4 1.8z"/><path color="#a2da37" d="M787.9 269.3l4.4-.6 2.9 11.3-4.4 1.4z"/><path color="#84d44b" d="M884.9 287.7l4.5-3.8 2.6 1.8-4.6 4.5z"/><path color="#7ad151" d="M847.5 289.6l4.5-1.8 2.6 4.8-4.5 2.4z"/><path color="#81d34d" d="M877.8 288.8l4.5-3.3 2.6 2.2-4.6 3.9z"/><path color="#7fd34e" d="M835.9 287.1l4.5-1.4 2.7 5.9-4.5 2z"/><path color="#7ad151" d="M859.1 290.2l4.5-2.2 2.6 3.6-4.5 2.9z"/><path color="#c2df23" d="M771.8 258.2l4.4-.4 3 13.3-4.4 1.2z"/><path color="#95d840" d="M808.3 277l4.4-.7 2.8 8.8-4.4 1.4z"/><path color="#aadc32" d="M792.3 268.7l4.4-.4 2.8 10.6-4.3 1.1z"/><path color="#8bd646" d="M824.3 282.7l4.5-1 2.7 7-4.4 1.6z"/><path color="#84d44b" d="M870.7 288.9l4.5-2.7 2.6 2.6-4.5 3.3z"/><path color="#9dd93b" d="M896.5 281.4l4.6-4.4 2.5.9-4.5 4.9z"/><path color="#95d840" d="M889.4 283.9l4.6-3.7 2.5 1.2-4.5 4.3z"/><path color="#cae11f" d="M776.2 257.8l4.3-.3 3 12.6-4.3 1z"/><path color="#86d549" d="M852 287.8l4.5-1.7 2.6 4.1-4.5 2.4z"/><path color="#89d548" d="M840.4 285.7l4.4-1.3 2.7 5.2-4.4 2z"/><path color="#9dd93b" d="M812.7 276.3l4.5-.6 2.7 8.1-4.4 1.3z"/><path color="#89d548" d="M863.6 288l4.5-2.2 2.6 3.1-4.5 2.7z"/><path color="#b2dd2d" d="M796.7 268.3l4.4-.4 2.8 10-4.4 1z"/><path color="#93d741" d="M882.3 285.5l4.5-3.2 2.6 1.6-4.5 3.8z"/><path color="#93d741" d="M828.8 281.7l4.4-.9 2.7 6.3-4.4 1.6z"/><path color="#93d741" d="M875.2 286.2l4.5-2.7 2.6 2-4.5 3.3z"/><path color="#d0e11c" d="M780.5 257.5l4.4-.1 3 11.9-4.4.8z"/><path color="#a5db36" d="M817.2 275.7l4.4-.5 2.7 7.5-4.4 1.1z"/><path color="#93d741" d="M844.8 284.4l4.5-1.2 2.7 4.6-4.5 1.8z"/><path color="#90d743" d="M856.5 286.1l4.4-1.7 2.7 3.6-4.5 2.2z"/><path color="#b8de29" d="M801.1 267.9l4.4-.2 2.8 9.3-4.4.9z"/><path color="#a8db34" d="M894 280.2l4.6-3.8 2.5.6-4.6 4.4z"/><path color="#9dd93b" d="M833.2 280.8l4.5-.8 2.7 5.7-4.5 1.4z"/><path color="#95d840" d="M868.1 285.8l4.5-2.1 2.6 2.5-4.5 2.7z"/><path color="#a2da37" d="M886.8 282.3l4.6-3.2 2.6 1.1-4.6 3.7z"/><path color="#d5e21a" d="M784.9 257.4l4.4.1 3 11.2-4.4.6z"/><path color="#addc30" d="M821.6 275.2l4.4-.3 2.8 6.8-4.5 1z"/><path color="#a0da39" d="M879.7 283.5l4.6-2.6 2.5 1.4-4.5 3.2z"/><path color="#c0df25" d="M805.5 267.7l4.4-.1 2.8 8.7-4.4.7z"/><path color="#9dd93b" d="M849.3 283.2l4.5-1.1 2.7 4-4.5 1.7z"/><path color="#9dd93b" d="M860.9 284.4l4.6-1.6 2.6 3-4.5 2.2z"/><path color="#a5db36" d="M837.7 280l4.5-.7 2.6 5.1-4.4 1.3z"/><path color="#dae319" d="M789.3 257.5l4.5.1 2.9 10.7-4.4.4z"/><path color="#a2da37" d="M872.6 283.7l4.5-2.1 2.6 1.9-4.5 2.7z"/><path color="#b5de2b" d="M826 274.9l4.5-.3 2.7 6.2-4.4.9z"/><path color="#c5e021" d="M809.9 267.6l4.5.1 2.8 8-4.5.6z"/><path color="#b5de2b" d="M891.4 279.1l4.6-3.1 2.6.4-4.6 3.8z"/><path color="#a8db34" d="M853.8 282.1l4.5-1.1 2.6 3.4-4.4 1.7z"/><path color="#b0dd2f" d="M884.3 280.9l4.5-2.6 2.6.8-4.6 3.2z"/><path color="#a8db34" d="M865.5 282.8l4.5-1.5 2.6 2.4-4.5 2.1z"/><path color="#addc30" d="M842.2 279.3l4.4-.6 2.7 4.5-4.5 1.2z"/><path color="#dfe318" d="M793.8 257.6l4.4.4 2.9 9.9-4.4.4z"/><path color="#cae11f" d="M814.4 267.7l4.4.1 2.8 7.4-4.4.5z"/><path color="#b0dd2f" d="M877.1 281.6l4.6-2 2.6 1.3-4.6 2.6z"/><path color="#bade28" d="M830.5 274.6l4.5-.2 2.7 5.6-4.5.8z"/><path color="#e5e419" d="M798.2 258l4.4.4 2.9 9.3-4.4.2z"/><path color="#b0dd2f" d="M858.3 281l4.5-1 2.7 2.8-4.6 1.6z"/><path color="#b5de2b" d="M846.6 278.7l4.5-.5 2.7 3.9-4.5 1.1z"/><path color="#b2dd2d" d="M870 281.3l4.5-1.5 2.6 1.8-4.5 2.1z"/><path color="#c0df25" d="M888.8 278.3l4.6-2.6 2.6.3-4.6 3.1z"/><path color="#d0e11c" d="M818.8 267.8l4.5.2 2.7 6.9-4.4.3z"/><path color="#c2df23" d="M835 274.4l4.5-.1 2.7 5-4.5.7z"/><path color="#e7e419" d="M802.6 258.4l4.5.6 2.8 8.6-4.4.1z"/><path color="#bddf26" d="M881.7 279.6l4.5-2 2.6.7-4.5 2.6z"/><path color="#bade28" d="M862.8 280l4.6-.9 2.6 2.2-4.5 1.5z"/><path color="#bddf26" d="M851.1 278.2l4.6-.5 2.6 3.3-4.5 1.1z"/><path color="#d5e21a" d="M823.3 268l4.5.4 2.7 6.2-4.5.3z"/><path color="#bddf26" d="M874.5 279.8l4.6-1.4 2.6 1.2-4.6 2z"/><path color="#c8e020" d="M839.5 274.3l4.5 0 2.6 4.4-4.4.6z"/><path color="#ece51b" d="M807.1 259l4.4.6 2.9 8.1-4.5-.1z"/><path color="#cae11f" d="M886.2 277.6l4.6-2 2.6.1-4.6 2.6z"/><path color="#c5e021" d="M855.7 277.7l4.5-.4 2.6 2.7-4.5 1z"/><path color="#c2df23" d="M867.4 279.1l4.5-.9 2.6 1.6-4.5 1.5z"/><path color="#d8e219" d="M827.8 268.4l4.4.4 2.8 5.6-4.5.2z"/><path color="#cde11d" d="M844 274.3l4.5 0 2.6 3.9-4.5.5z"/><path color="#efe51c" d="M811.5 259.6l4.5.8 2.8 7.4-4.4-.1z"/><path color="#cae11f" d="M879.1 278.4l4.5-1.4 2.6.6-4.5 2z"/><path color="#dde318" d="M832.2 268.8l4.5.5 2.8 5-4.5.1z"/><path color="#cae11f" d="M860.2 277.3l4.5-.4 2.7 2.2-4.6.9z"/><path color="#f1e51d" d="M816 260.4l4.5.9 2.8 6.7-4.5-.2z"/><path color="#cde11d" d="M871.9 278.2l4.5-.9 2.7 1.1-4.6 1.4z"/><path color="#d2e21b" d="M848.5 274.3l4.5.1 2.7 3.3-4.6.5z"/><path color="#d5e21a" d="M883.6 277l4.6-1.5 2.6.1-4.6 2z"/><path color="#dfe318" d="M836.7 269.3l4.5.6 2.8 4.4-4.5 0z"/><path color="#f4e61e" d="M820.5 261.3l4.5.9 2.8 6.2-4.5-.4z"/><path color="#d2e21b" d="M864.7 276.9l4.6-.3 2.6 1.6-4.5.9z"/><path color="#d8e219" d="M853 274.4l4.5.2 2.7 2.7-4.5.4z"/><path color="#d5e21a" d="M876.4 277.3l4.6-.8 2.6.5-4.5 1.4z"/><path color="#e5e419" d="M841.2 269.9l4.6.6 2.7 3.8-4.5 0z"/><path color="#f6e620" d="M825 262.2l4.5 1.1 2.7 5.5-4.4-.4z"/><path color="#dae319" d="M869.3 276.6l4.5-.3 2.6 1-4.5.9z"/><path color="#dde318" d="M857.5 274.6l4.6.2 2.6 2.1-4.5.4z"/><path color="#dde318" d="M881 276.5l4.6-.9 2.6-.1-4.6 1.5z"/><path color="#e7e419" d="M845.8 270.5l4.5.7 2.7 3.2-4.5-.1z"/><path color="#f6e620" d="M829.5 263.3l4.5 1.1 2.7 4.9-4.5-.5z"/><path color="#e2e418" d="M862.1 274.8l4.5.3 2.7 1.5-4.6.3z"/><path color="#dfe318" d="M873.8 276.3l4.6-.2 2.6.4-4.6.8z"/><path color="#f8e621" d="M834 264.4l4.5 1.2 2.7 4.3-4.5-.6z"/><path color="#eae51a" d="M850.3 271.2l4.5.8 2.7 2.6-4.5-.2z"/><path color="#e7e419" d="M866.6 275.1l4.6.3 2.6.9-4.5.3z"/><path color="#fbe723" d="M838.5 265.6l4.6 1.2 2.7 3.7-4.6-.6z"/><path color="#e7e419" d="M878.4 276.1l4.6-.3 2.6-.2-4.6.9z"/><path color="#ece51b" d="M854.8 272l4.6.8 2.7 2-4.6-.2z"/><path color="#fbe723" d="M843.1 266.8l4.5 1.3 2.7 3.1-4.5-.7z"/><path color="#eae51a" d="M871.2 275.4l4.5.3 2.7.4-4.6.2z"/><path color="#efe51c" d="M859.4 272.8l4.5.9 2.7 1.4-4.5-.3z"/><path color="#fbe723" d="M847.6 268.1l4.5 1.4 2.7 2.5-4.5-.8z"/><path color="#efe51c" d="M875.7 275.7l4.6.3 2.7-.2-4.6.3z"/><path color="#f1e51d" d="M863.9 273.7l4.6.8 2.7.9-4.6-.3z"/><path color="#fde725" d="M852.1 269.5l4.6 1.3 2.7 2-4.6-.8z"/><path color="#f4e61e" d="M868.5 274.5l4.6.9 2.6.3-4.5-.3z"/><path color="#fde725" d="M856.7 270.8l4.6 1.5 2.6 1.4-4.5-.9z"/><path color="#f6e620" d="M873.1 275.4l4.6.9 2.6-.3-4.6-.3z"/><path color="#fde725" d="M861.3 272.3l4.5 1.4 2.7.8-4.6-.8z"/><path color="#fde725" d="M865.8 273.7l4.6 1.4 2.7.3-4.6-.9z"/><path color="#fde725" d="M870.4 275.1l4.6 1.5 2.7-.3-4.6-.9z"/></g><g><path color="#482173" d="M793.3 195.9l3.9.5 2.4-7.7-3.9-.2z"/><path color="#404688" d="M795.7 188.5l3.9.2 2.5-9.6-4-2z"/><path color="#46085c" d="M790.8 200.3l4 .9 2.4-4.8-3.9-.5z"/><path color="#404688" d="M799.6 188.7l4 .3 2.4-8-3.9-1.9z"/><path color="#482576" d="M797.2 196.4l4 .1 2.4-7.5-4-.3z"/><path color="#2c738e" d="M798.1 177.1l4 2 2.4-13.2-4-3.5z"/><path color="#2e6d8e" d="M802.1 179.1l3.9 1.9 2.4-11.6-3.9-3.5z"/><path color="#470d60" d="M794.8 201.2l3.9.5 2.5-5.2-4-.1z"/><path color="#440154" d="M788.3 202.2l4 1.1 2.5-2.1-4-.9z"/><path color="#404688" d="M803.6 189l4 .3 2.4-6.9-4-1.4z"/><path color="#31678e" d="M806 181l4 1.4 2.4-9.8-4-3.2z"/><path color="#472a7a" d="M801.2 196.5l3.9-.3 2.5-6.9-4-.3z"/><path color="#22a785" d="M800.5 162.4l4 3.5 2.3-15-4-4.8z"/><path color="#33628d" d="M810 182.4l4 1.1 2.4-7.8-4-3.1z"/><path color="#471365" d="M798.7 201.7l4 .3 2.4-5.8-3.9.3z"/><path color="#440256" d="M792.3 203.3l3.9.8 2.5-2.4-3.9-.5z"/><path color="#1e9b8a" d="M804.5 165.9l3.9 3.5 2.4-13.8-4-4.7z"/><path color="#3f4889" d="M807.6 189.3l4 .3 2.4-6.1-4-1.1z"/><path color="#218f8d" d="M808.4 169.4l4 3.2 2.5-12.3-4.1-4.7z"/><path color="#25838e" d="M812.4 172.6l4 3.1 2.5-10.9-4-4.5z"/><path color="#355e8d" d="M814 183.5l4 1 2.4-6.1-4-2.7z"/><path color="#46307e" d="M805.1 196.2l4-.4 2.5-6.2-4-.3z"/><path color="#29798e" d="M816.4 175.7l4 2.7 2.5-9.3-4-4.3z"/><path color="#2d708e" d="M820.4 178.4l4 2.3 2.5-7.5-4-4.1z"/><path color="#46075a" d="M785.8 202l3.9 1.2 2.6.1-4-1.1z"/><path color="#450559" d="M796.2 204.1l4 .6 2.5-2.7-4-.3z"/><path color="#3e4a89" d="M811.6 189.6l4 .3 2.4-5.4-4-1z"/><path color="#481a6c" d="M802.7 202l4-.1 2.4-6.1-4 .4z"/><path color="#375b8d" d="M818 184.5l4 1 2.4-4.8-4-2.3z"/><path color="#31688e" d="M824.4 180.7l4.1 1.9 2.4-5.6-4-3.8z"/><path color="#453781" d="M809.1 195.8l4-.3 2.5-5.6-4-.3z"/><path color="#34618d" d="M828.5 182.6l4 1.7 2.4-3.9-4-3.4z"/><path color="#46075a" d="M789.7 203.2l4 1 2.5-.1-3.9-.8z"/><path color="#38598c" d="M822 185.5l4 1 2.5-3.9-4.1-1.9z"/><path color="#3e4c8a" d="M815.6 189.9l4 .3 2.4-4.7-4-1z"/><path color="#460a5d" d="M800.2 204.7l4 .4 2.5-3.2-4 .1z"/><path color="#375b8d" d="M832.5 184.3l4 1.8 2.4-2.6-4-3.1z"/><path color="#482173" d="M806.7 201.9l4-.6 2.4-5.8-4 .3z"/><path color="#460a5d" d="M793.7 204.2l4 .8 2.5-.3-4-.6z"/><path color="#38588c" d="M826 186.5l4 1.1 2.5-3.3-4-1.7z"/><path color="#433d84" d="M813.1 195.5l4-.3 2.5-5-4-.3z"/><path color="#39558c" d="M836.5 186.1l4 1.8 2.4-1.8-4-2.6z"/><path color="#3d4e8a" d="M819.6 190.2l4 .4 2.4-4.1-4-1z"/><path color="#481a6c" d="M783.2 200.2l4 1.2 2.5 1.8-3.9-1.2z"/><path color="#471164" d="M804.2 205.1l4 .1 2.5-3.9-4 .6z"/><path color="#3c508b" d="M840.5 187.9l4 2 2.5-1.3-4.1-2.5z"/><path color="#472a7a" d="M810.7 201.3l3.9-.9 2.5-5.2-4 .3z"/><path color="#39558c" d="M830 187.6l4 1.1 2.5-2.6-4-1.8z"/><path color="#470d60" d="M797.7 205l4 .5 2.5-.4-4-.4z"/><path color="#424186" d="M817.1 195.2l4-.3 2.5-4.3-4-.4z"/><path color="#3c4f8a" d="M823.6 190.6l4 .4 2.4-3.4-4-1.1z"/><path color="#3e4a89" d="M844.5 189.9l4.1 2.1 2.4-1.1-4-2.3z"/><path color="#481a6c" d="M787.2 201.4l4 1.1 2.5 1.7-4-1z"/><path color="#3a548c" d="M834 188.7l4.1 1.1 2.4-1.9-4-1.8z"/><path color="#481b6d" d="M808.2 205.2l4-.3 2.4-4.5-3.9.9z"/><path color="#404588" d="M848.6 192l4 2 2.4-.8-4-2.3z"/><path color="#471164" d="M801.7 205.5l4 .4 2.5-.7-4-.1z"/><path color="#46337f" d="M814.6 200.4l4-.9 2.5-4.6-4 .3z"/><path color="#3b518b" d="M827.6 191l4 .5 2.4-2.8-4-1.1z"/><path color="#481a6c" d="M791.2 202.5l4 .8 2.5 1.7-4-.8z"/><path color="#404688" d="M821.1 194.9l4-.2 2.5-3.7-4-.4z"/><path color="#3b528b" d="M838.1 189.8l4 1.3 2.4-1.2-4-2z"/><path color="#424086" d="M852.6 194l4 1.9 2.4-.6-4-2.1z"/><path color="#482475" d="M812.2 204.9l4-.7 2.4-4.7-4 .9z"/><path color="#3c4f8a" d="M842.1 191.1l4 1.6 2.5-.7-4.1-2.1z"/><path color="#3b528b" d="M831.6 191.5l4 .5 2.5-2.2-4.1-1.1z"/><path color="#46327e" d="M780.6 197.1l4 1.3 2.6 3-4-1.2z"/><path color="#481769" d="M805.7 205.9l4 .3 2.5-1.3-4 .3z"/><path color="#443b84" d="M856.6 195.9l4.1 1.8 2.4-.3-4.1-2.1z"/><path color="#481c6e" d="M795.2 203.3l4 .7 2.5 1.5-4-.5z"/><path color="#443b84" d="M818.6 199.5l4.1-.8 2.4-4-4 .2z"/><path color="#3e4a89" d="M825.1 194.7l4-.1 2.5-3.1-4-.5z"/><path color="#3e4a89" d="M846.1 192.7l4.1 1.9 2.4-.6-4-2z"/><path color="#453882" d="M860.7 197.7l4.1 1.7 2.3-.1-4-1.9z"/><path color="#46307e" d="M784.6 198.4l4 1 2.6 3.1-4-1.1z"/><path color="#3a538b" d="M835.6 192l4.1.6 2.4-1.5-4-1.3z"/><path color="#481f70" d="M799.2 204l4 .5 2.5 1.4-4-.4z"/><path color="#481f70" d="M809.7 206.2l4 0 2.5-2-4 .7z"/><path color="#472f7d" d="M816.2 204.2l4-1.1 2.5-4.4-4.1.8z"/><path color="#3f4788" d="M850.2 194.6l4 1.8 2.4-.5-4-1.9z"/><path color="#3c4f8a" d="M829.1 194.6l4.1-.1 2.4-2.5-4-.5z"/><path color="#463480" d="M864.8 199.4l4 1.6 2.4.1-4.1-1.8z"/><path color="#414487" d="M822.7 198.7l4-.7 2.4-3.4-4 .1z"/><path color="#46327e" d="M788.6 199.4l4 .9 2.6 3-4-.8z"/><path color="#3a538b" d="M839.7 192.6l4 .9 2.4-.8-4-1.6z"/><path color="#414487" d="M854.2 196.4l4.1 1.5 2.4-.2-4.1-1.8z"/><path color="#482374" d="M803.2 204.5l4 .4 2.5 1.3-4-.3z"/><path color="#46327e" d="M868.8 201l4.1 1.4 2.4.4-4.1-1.7z"/><path color="#3a538b" d="M833.2 194.5l4 .1 2.5-2-4.1-.6z"/><path color="#482878" d="M813.7 206.2l4-.3 2.5-2.8-4 1.1z"/><path color="#3b528b" d="M843.7 193.5l4.1 1.2 2.4-.1-4.1-1.9z"/><path color="#443a83" d="M820.2 203.1l4-1.3 2.5-3.8-4 .7z"/><path color="#46337f" d="M792.6 200.3l4 .6 2.6 3.1-4-.7z"/><path color="#3e4a89" d="M826.7 198l4-.6 2.5-2.9-4.1.1z"/><path color="#424186" d="M858.3 197.9l4.1 1.5 2.4 0-4.1-1.7z"/><path color="#3d4d8a" d="M778 193.4l4 1.1 2.6 3.9-4-1.3z"/><path color="#46307e" d="M872.9 202.4l4.1 1.3 2.3.6-4-1.5z"/><path color="#482878" d="M807.2 204.9l4 .3 2.5 1-4 0z"/><path color="#3c4f8a" d="M847.8 194.7l4 1.7 2.4 0-4-1.8z"/><path color="#39568c" d="M837.2 194.6l4.1.1 2.4-1.2-4-.9z"/><path color="#423f85" d="M862.4 199.4l4 1.3 2.4.3-4-1.6z"/><path color="#453781" d="M796.6 200.9l4 .6 2.6 3-4-.5z"/><path color="#472f7d" d="M877 203.7l4 1.2 2.4.8-4.1-1.4z"/><path color="#3d4d8a" d="M782 194.5l4 1 2.6 3.9-4-1z"/><path color="#46327e" d="M817.7 205.9l4.1-.7 2.4-3.4-4 1.3z"/><path color="#3b518b" d="M830.7 197.4l4.1-.5 2.4-2.3-4-.1z"/><path color="#414487" d="M824.2 201.8l4.1-1.1 2.4-3.3-4 .6z"/><path color="#3d4d8a" d="M851.8 196.4l4.1 1.5 2.4 0-4.1-1.5z"/><path color="#433e85" d="M866.4 200.7l4.1 1.2 2.4.5-4.1-1.4z"/><path color="#472e7c" d="M811.2 205.2l4 .2 2.5.5-4 .3z"/><path color="#38588c" d="M841.3 194.7l4 .5 2.5-.5-4.1-1.2z"/><path color="#472e7c" d="M881 204.9l4.1 1 2.4 1-4.1-1.2z"/><path color="#3d4d8a" d="M786 195.5l4 .7 2.6 4.1-4-.9z"/><path color="#443983" d="M800.6 201.5l4 .4 2.6 3-4-.4z"/><path color="#3e4a89" d="M855.9 197.9l4 1.3 2.5.2-4.1-1.5z"/><path color="#39568c" d="M834.8 196.9l4-.5 2.5-1.7-4.1-.1z"/><path color="#433d84" d="M870.5 201.9l4.1 1.1 2.4.7-4.1-1.3z"/><path color="#433d84" d="M821.8 205.2l4-1.1 2.5-3.4-4.1 1.1z"/><path color="#3d4d8a" d="M828.3 200.7l4-1.1 2.5-2.7-4.1.5z"/><path color="#38588c" d="M845.3 195.2l4.1.9 2.4.3-4-1.7z"/><path color="#472f7d" d="M885.1 205.9l4.1.8 2.4 1.2-4.1-1z"/><path color="#463480" d="M815.2 205.4l4.1-.1 2.5-.1-4.1.7z"/><path color="#3e4a89" d="M859.9 199.2l4.1 1.2 2.4.3-4-1.3z"/><path color="#3c4f8a" d="M790 196.2l4 .6 2.6 4.1-4-.6z"/><path color="#433d84" d="M804.6 201.9l4.1.3 2.5 3-4-.3z"/><path color="#31678e" d="M775.4 189.4l4 .9 2.6 4.2-4-1.1z"/><path color="#433d84" d="M874.6 203l4.1.9 2.3 1-4-1.2z"/><path color="#39568c" d="M849.4 196.1l4.1 1.4 2.4.4-4.1-1.5z"/><path color="#365c8d" d="M838.8 196.4l4.1-.2 2.4-1-4-.5z"/><path color="#46307e" d="M889.2 206.7l4.1.7 2.4 1.4-4.1-.9z"/><path color="#3e4989" d="M864 200.4l4.1 1 2.4.5-4.1-1.2z"/><path color="#3f4889" d="M825.8 204.1l4-1.5 2.5-3-4 1.1z"/><path color="#39558c" d="M832.3 199.6l4.1-.9 2.4-2.3-4 .5z"/><path color="#3b518b" d="M794 196.8l4.1.5 2.5 4.2-4-.6z"/><path color="#433d84" d="M819.3 205.3l4-.3 2.5-.9-4 1.1z"/><path color="#31678e" d="M779.4 190.3l4 .8 2.6 4.4-4-1z"/><path color="#424186" d="M808.7 202.2l4 .3 2.5 2.9-4-.2z"/><path color="#433e85" d="M878.7 203.9l4.1.8 2.3 1.2-4.1-1z"/><path color="#39558c" d="M853.5 197.5l4 1.3 2.4.4-4-1.3z"/><path color="#355f8d" d="M842.9 196.2l4.1.1 2.4-.2-4.1-.9z"/><path color="#3e4a89" d="M868.1 201.4l4.1.8 2.4.8-4.1-1.1z"/><path color="#46337f" d="M893.3 207.4l4.2.5 2.3 1.6-4.1-.7z"/><path color="#3a548c" d="M798.1 197.3l4 .3 2.5 4.3-4-.4z"/><path color="#30698e" d="M783.4 191.1l4 .5 2.6 4.6-4-.7z"/><path color="#39558c" d="M857.5 198.8l4.1 1.1 2.4.5-4.1-1.2z"/><path color="#423f85" d="M882.8 204.7l4.1.6 2.3 1.4-4.1-.8z"/><path color="#365d8d" d="M836.4 198.7l4-.8 2.5-1.7-4.1.2z"/><path color="#404688" d="M812.7 202.5l4.1.2 2.5 2.6-4.1.1z"/><path color="#3a538b" d="M829.8 202.6l4.1-1.4 2.5-2.5-4.1.9z"/><path color="#3f4788" d="M823.3 205l4.1-.6 2.4-1.8-4 1.5z"/><path color="#34618d" d="M847 196.3l4 .5 2.5.7-4.1-1.4z"/><path color="#3e4a89" d="M872.2 202.2l4.1.7 2.4 1-4.1-.9z"/><path color="#453581" d="M897.5 207.9l4.1.4 2.3 1.7-4.1-.5z"/><path color="#39558c" d="M861.6 199.9l4.1.8 2.4.7-4.1-1z"/><path color="#38588c" d="M802.1 197.6l4 .3 2.6 4.3-4.1-.3z"/><path color="#2f6b8e" d="M787.4 191.6l4 .5 2.6 4.7-4-.6z"/><path color="#424186" d="M886.9 205.3l4.1.5 2.3 1.6-4.1-.7z"/><path color="#277f8e" d="M772.7 185.6l4 .7 2.7 4-4-.9z"/><path color="#3e4c8a" d="M816.8 202.7l4 .1 2.5 2.2-4 .3z"/><path color="#34618d" d="M851 196.8l4.1 1.1 2.4.9-4-1.3z"/><path color="#32648e" d="M840.4 197.9l4.1-.7 2.5-.9-4.1-.1z"/><path color="#3d4d8a" d="M876.3 202.9l4.1.6 2.4 1.2-4.1-.8z"/><path color="#443983" d="M901.6 208.3l4.1.5 2.3 1.5-4.1-.3z"/><path color="#365d8d" d="M833.9 201.2l4.1-1.2 2.4-2.1-4 .8z"/><path color="#3b518b" d="M827.4 204.4l4-.9 2.5-2.3-4.1 1.4z"/><path color="#39568c" d="M865.7 200.7l4.1.7 2.4.8-4.1-.8z"/><path color="#2e6e8e" d="M791.4 192.1l4.1.4 2.6 4.8-4.1-.5z"/><path color="#365c8d" d="M806.1 197.9l4.1.2 2.5 4.4-4-.3z"/><path color="#404588" d="M891 205.8l4.1.5 2.4 1.6-4.2-.5z"/><path color="#26818e" d="M776.7 186.3l4.1.6 2.6 4.2-4-.8z"/><path color="#34618d" d="M855.1 197.9l4.1 1.2 2.4.8-4.1-1.1z"/><path color="#3c4f8a" d="M880.4 203.5l4.1.5 2.4 1.3-4.1-.6z"/><path color="#3b518b" d="M820.8 202.8l4.1 0 2.5 1.6-4.1.6z"/><path color="#30698e" d="M844.5 197.2l4.1-.3 2.4-.1-4-.5z"/><path color="#433d84" d="M905.7 208.8l4.2.4 2.3 1.2-4.2-.1z"/><path color="#38598c" d="M869.8 201.4l4.1.5 2.4 1-4.1-.7z"/><path color="#31668e" d="M838 200l4-1.2 2.5-1.6-4.1.7z"/><path color="#2d718e" d="M795.5 192.5l4 .3 2.6 4.8-4-.3z"/><path color="#3f4788" d="M895.1 206.3l4.2.4 2.3 1.6-4.1-.4z"/><path color="#34608d" d="M810.2 198.1l4 .3 2.6 4.3-4.1-.2z"/><path color="#26828e" d="M780.8 186.9l4 .5 2.6 4.2-4-.5z"/><path color="#34618d" d="M859.2 199.1l4.1.8 2.4.8-4.1-.8z"/><path color="#365c8d" d="M831.4 203.5l4.1-1.3 2.5-2.2-4.1 1.2z"/><path color="#3b528b" d="M884.5 204l4.2.3 2.3 1.5-4.1-.5z"/><path color="#2f6c8e" d="M848.6 196.9l4.1.2 2.4.8-4.1-1.1z"/><path color="#38598c" d="M824.9 202.8l4-.1 2.5.8-4 .9z"/><path color="#375b8d" d="M873.9 201.9l4.1.4 2.4 1.2-4.1-.6z"/><path color="#424186" d="M909.9 209.2l4.2.2 2.2.9-4.1.1z"/><path color="#33638d" d="M863.3 199.9l4.1.6 2.4.9-4.1-.7z"/><path color="#1f948c" d="M770.1 182.4l4 .7 2.6 3.2-4-.7z"/><path color="#2c738e" d="M799.5 192.8l4 .3 2.6 4.8-4-.3z"/><path color="#25848e" d="M784.8 187.4l4 .5 2.6 4.2-4-.5z"/><path color="#3e4a89" d="M899.3 206.7l4.1.4 2.3 1.7-4.1-.5z"/><path color="#33638d" d="M814.2 198.4l4.1.2 2.5 4.2-4-.1z"/><path color="#2e6e8e" d="M842 198.8l4.1-.9 2.5-1-4.1.3z"/><path color="#39558c" d="M888.7 204.3l4.1.4 2.3 1.6-4.1-.5z"/><path color="#2e6d8e" d="M852.7 197.1l4.1.8 2.4 1.2-4.1-1.2z"/><path color="#31668e" d="M835.5 202.2l4.1-1.5 2.4-1.9-4 1.2z"/><path color="#355e8d" d="M878 202.3l4.2.3 2.3 1.4-4.1-.5z"/><path color="#3f4788" d="M914.1 209.4l4.1 0 2.3.7-4.2.2z"/><path color="#34608d" d="M828.9 202.7l4.1-.4 2.5-.1-4.1 1.3z"/><path color="#1f968b" d="M774.1 183.1l4 .7 2.7 3.1-4.1-.6z"/><path color="#32658e" d="M867.4 200.5l4.1.4 2.4 1-4.1-.5z"/><path color="#24878e" d="M788.8 187.9l4.1.5 2.6 4.1-4.1-.4z"/><path color="#3d4e8a" d="M903.4 207.1l4.2.4 2.3 1.7-4.2-.4z"/><path color="#2a778e" d="M803.5 193.1l4.1.3 2.6 4.7-4.1-.2z"/><path color="#31688e" d="M818.3 198.6l4 .2 2.6 4-4.1 0z"/><path color="#2e6e8e" d="M856.8 197.9l4.1 1 2.4 1-4.1-.8z"/><path color="#38598c" d="M892.8 204.7l4.2.4 2.3 1.6-4.2-.4z"/><path color="#2c738e" d="M846.1 197.9l4.1-.7 2.5-.1-4.1-.2z"/><path color="#34618d" d="M882.2 202.6l4.1.3 2.4 1.4-4.2-.3z"/><path color="#1f988b" d="M778.1 183.8l4.1.7 2.6 2.9-4-.5z"/><path color="#2d708e" d="M839.6 200.7l4.1-1.3 2.4-1.5-4.1.9z"/><path color="#31688e" d="M871.5 200.9l4.2.2 2.3 1.2-4.1-.4z"/><path color="#3d4d8a" d="M918.2 209.4l4.2-.1 2.3.5-4.2.3z"/><path color="#238a8d" d="M792.9 188.4l4 .4 2.6 4-4-.3z"/><path color="#3b518b" d="M907.6 207.5l4.2.5 2.3 1.4-4.2-.2z"/><path color="#297a8e" d="M807.6 193.4l4.1.3 2.5 4.7-4-.3z"/><path color="#2e6f8e" d="M860.9 198.9l4.1.6 2.4 1-4.1-.6z"/><path color="#30698e" d="M833 202.3l4.1-.7 2.5-.9-4.1 1.5z"/><path color="#2f6c8e" d="M822.3 198.8l4.1.1 2.5 3.8-4 .1z"/><path color="#365c8d" d="M897 205.1l4.1.4 2.3 1.6-4.1-.4z"/><path color="#2a788e" d="M850.2 197.2l4.1-.2 2.5.9-4.1-.8z"/><path color="#22a884" d="M767.4 179.9l4 .6 2.7 2.6-4-.7z"/><path color="#32658e" d="M886.3 202.9l4.2.3 2.3 1.5-4.1-.4z"/><path color="#1f9a8a" d="M782.2 184.5l4 .6 2.6 2.8-4-.5z"/><path color="#2f6c8e" d="M875.7 201.1l4.1.2 2.4 1.3-4.2-.3z"/><path color="#228d8d" d="M796.9 188.8l4.1.4 2.5 3.9-4-.3z"/><path color="#39558c" d="M911.8 208l4.1.3 2.3 1.1-4.1 0z"/><path color="#277e8e" d="M811.7 193.7l4 .2 2.6 4.7-4.1-.2z"/><path color="#3a538b" d="M922.4 209.3l4.2-.2 2.3.1-4.2.6z"/><path color="#2c718e" d="M865 199.5l4.1.4 2.4 1-4.1-.4z"/><path color="#2a788e" d="M843.7 199.4l4.1-1.2 2.4-1-4.1.7z"/><path color="#2d718e" d="M826.4 198.9l4.1.2 2.5 3.2-4.1.4z"/><path color="#355f8d" d="M901.1 205.5l4.2.4 2.3 1.6-4.2-.4z"/><path color="#297a8e" d="M854.3 197l4.2.4 2.4 1.5-4.1-1z"/><path color="#23a983" d="M771.4 180.5l4.1.7 2.6 2.6-4-.7z"/><path color="#2c718e" d="M837.1 201.6l4.1-.9 2.5-1.3-4.1 1.3z"/><path color="#31688e" d="M890.5 203.2l4.1.4 2.4 1.5-4.2-.4z"/><path color="#1e9d89" d="M786.2 185.1l4.1.6 2.6 2.7-4.1-.5z"/><path color="#2d708e" d="M879.8 201.3l4.1.2 2.4 1.4-4.1-.3z"/><path color="#21908d" d="M801 189.2l4 .4 2.6 3.8-4.1-.3z"/><path color="#375a8c" d="M915.9 208.3l4.2.2 2.3.8-4.2.1z"/><path color="#26828e" d="M815.7 193.9l4.1.2 2.5 4.7-4-.2z"/><path color="#2b748e" d="M869.1 199.9l4.2.1 2.4 1.1-4.2-.2z"/><path color="#375b8d" d="M926.6 209.1l4.2-.4 2.3-.1-4.2.6z"/><path color="#33628d" d="M905.3 205.9l4.2.5 2.3 1.6-4.2-.5z"/><path color="#287c8e" d="M858.5 197.4l4.1.8 2.4 1.3-4.1-.6z"/><path color="#2a768e" d="M830.5 199.1l4.1 0 2.5 2.5-4.1.7z"/><path color="#25ab82" d="M775.5 181.2l4 .7 2.7 2.6-4.1-.7z"/><path color="#27808e" d="M847.8 198.2l4.1-1.1 2.4-.1-4.1.2z"/><path color="#2f6b8e" d="M894.6 203.6l4.2.4 2.3 1.5-4.1-.4z"/><path color="#1f9f88" d="M790.3 185.7l4 .5 2.6 2.6-4-.4z"/><path color="#297b8e" d="M841.2 200.7l4.1-1.4 2.5-1.1-4.1 1.2z"/><path color="#20928c" d="M805 189.6l4.1.3 2.6 3.8-4.1-.3z"/><path color="#2c728e" d="M883.9 201.5l4.2.2 2.4 1.5-4.2-.3z"/><path color="#37b878" d="M764.8 177.9l4 .6 2.6 2-4-.6z"/><path color="#25848e" d="M819.8 194.1l4.1.2 2.5 4.6-4.1-.1z"/><path color="#355f8d" d="M920.1 208.5l4.2 0 2.3.6-4.2.2z"/><path color="#29798e" d="M873.3 200l4.1 0 2.4 1.3-4.1-.2z"/><path color="#32658e" d="M909.5 206.4l4.1.4 2.3 1.5-4.1-.3z"/><path color="#277e8e" d="M862.6 198.2l4.1.5 2.4 1.2-4.1-.4z"/><path color="#26ad81" d="M779.5 181.9l4.1.8 2.6 2.4-4-.6z"/><path color="#33628d" d="M930.8 208.7l4.2-.6 2.3-.3-4.2.8z"/><path color="#287c8e" d="M834.6 199.1l4.1-.1 2.5 1.7-4.1.9z"/><path color="#25858e" d="M851.9 197.1l4.1-.5 2.5.8-4.2-.4z"/><path color="#2e6e8e" d="M898.8 204l4.2.4 2.3 1.5-4.2-.4z"/><path color="#1fa187" d="M794.3 186.2l4.1.5 2.6 2.5-4.1-.4z"/><path color="#1f968b" d="M809.1 189.9l4.1.3 2.5 3.7-4-.2z"/><path color="#2a768e" d="M888.1 201.7l4.2.4 2.3 1.5-4.1-.4z"/><path color="#38b977" d="M768.8 178.5l4 .7 2.7 2-4.1-.7z"/><path color="#23888e" d="M823.9 194.3l4.1.2 2.5 4.6-4.1-.2z"/><path color="#25848e" d="M845.3 199.3l4.1-1.3 2.5-.9-4.1 1.1z"/><path color="#287d8e" d="M877.4 200l4.2.1 2.3 1.4-4.1-.2z"/><path color="#28ae80" d="M783.6 182.7l4 .7 2.7 2.3-4.1-.6z"/><path color="#32658e" d="M924.3 208.5l4.2-.2 2.3.4-4.2.4z"/><path color="#31688e" d="M913.6 206.8l4.2.4 2.3 1.3-4.2-.2z"/><path color="#26828e" d="M866.7 198.7l4.2.2 2.4 1.1-4.2-.1z"/><path color="#23898e" d="M856 196.6l4.2.1 2.4 1.5-4.1-.8z"/><path color="#20a486" d="M798.4 186.7l4.1.5 2.5 2.4-4-.4z"/><path color="#2d718e" d="M903 204.4l4.1.4 2.4 1.6-4.2-.5z"/><path color="#306a8e" d="M935 208.1l4.3-.7 2.3-.5-4.3.9z"/><path color="#26828e" d="M838.7 199l4.1-.3 2.5.6-4.1 1.4z"/><path color="#3bbb75" d="M772.8 179.2l4.1.6 2.6 2.1-4-.7z"/><path color="#29798e" d="M892.3 202.1l4.1.4 2.4 1.5-4.2-.4z"/><path color="#1f998a" d="M813.2 190.2l4.1.2 2.5 3.7-4.1-.2z"/><path color="#2ab07f" d="M787.6 183.4l4.1.6 2.6 2.2-4-.5z"/><path color="#228c8d" d="M828 194.5l4.1.1 2.5 4.5-4.1 0z"/><path color="#26818e" d="M881.6 200.1l4.1.2 2.4 1.4-4.2-.2z"/><path color="#2f6c8e" d="M917.8 207.2l4.2.3 2.3 1-4.2 0z"/><path color="#52c569" d="M762.1 176.4l4 .7 2.7 1.4-4-.6z"/><path color="#25858e" d="M870.9 198.9l4.1-.1 2.4 1.2-4.1 0z"/><path color="#2f6b8e" d="M928.5 208.3l4.3-.3 2.2.1-4.2.6z"/><path color="#228d8d" d="M849.4 198l4.2-1.1 2.4-.3-4.1.5z"/><path color="#228b8d" d="M860.2 196.7l4.1.6 2.4 1.4-4.1-.5z"/><path color="#2c738e" d="M907.1 204.8l4.2.4 2.3 1.6-4.1-.4z"/><path color="#22a785" d="M802.5 187.2l4 .4 2.6 2.3-4.1-.3z"/><path color="#3fbc73" d="M776.9 179.8l4.1.7 2.6 2.2-4.1-.8z"/><path color="#287c8e" d="M896.4 202.5l4.2.3 2.4 1.6-4.2-.4z"/><path color="#2c718e" d="M939.3 207.4l4.2-.8 2.3-.8-4.2 1.1z"/><path color="#1e9d89" d="M817.3 190.4l4.1.3 2.5 3.6-4.1-.2z"/><path color="#228b8d" d="M842.8 198.7l4.2-.5 2.4-.2-4.1 1.3z"/><path color="#2db27d" d="M791.7 184l4.1.6 2.6 2.1-4.1-.5z"/><path color="#25838e" d="M885.7 200.3l4.2.3 2.4 1.5-4.2-.4z"/><path color="#21918c" d="M832.1 194.6l4.1.2 2.5 4.2-4.1.1z"/><path color="#56c667" d="M766.1 177.1l4.1.6 2.6 1.5-4-.7z"/><path color="#2d708e" d="M922 207.5l4.2.1 2.3.7-4.2.2z"/><path color="#238a8d" d="M875 198.8l4.2 0 2.4 1.3-4.2-.1z"/><path color="#218e8d" d="M864.3 197.3l4.1.4 2.5 1.2-4.2-.2z"/><path color="#2a768e" d="M911.3 205.2l4.2.5 2.3 1.5-4.2-.4z"/><path color="#24aa83" d="M806.5 187.6l4.1.4 2.6 2.2-4.1-.3z"/><path color="#2c718e" d="M932.8 208l4.2-.4 2.3-.2-4.3.7z"/><path color="#40bd72" d="M781 180.5l4 .8 2.6 2.1-4-.7z"/><path color="#20938c" d="M853.6 196.9l4.1-.9 2.5.7-4.2-.1z"/><path color="#277f8e" d="M900.6 202.8l4.2.5 2.3 1.5-4.1-.4z"/><path color="#1fa188" d="M821.4 190.7l4.1.2 2.5 3.6-4.1-.2z"/><path color="#2fb47c" d="M795.8 184.6l4.1.6 2.6 2-4.1-.5z"/><path color="#5ac864" d="M770.2 177.7l4.1.6 2.6 1.5-4.1-.6z"/><path color="#24868e" d="M889.9 200.6l4.2.4 2.3 1.5-4.1-.4z"/><path color="#297a8e" d="M943.5 206.6l4.3-.9 2.3-1-4.3 1.1z"/><path color="#1f958b" d="M836.2 194.8l4.2.1 2.4 3.8-4.1.3z"/><path color="#20928c" d="M847 198.2l4.1-.8 2.5-.5-4.2 1.1z"/><path color="#2b748e" d="M926.2 207.6l4.3 0 2.3.4-4.3.3z"/><path color="#218e8d" d="M879.2 198.8l4.1.1 2.4 1.4-4.1-.2z"/><path color="#29798e" d="M915.5 205.7l4.2.4 2.3 1.4-4.2-.3z"/><path color="#6ece58" d="M759.4 175.5l4.1.7 2.6.9-4-.7z"/><path color="#26ad81" d="M810.6 188l4.1.3 2.6 2.1-4.1-.2z"/><path color="#20928c" d="M868.4 197.7l4.2-.1 2.4 1.2-4.1.1z"/><path color="#44bf70" d="M785 181.3l4.1.8 2.6 1.9-4.1-.6z"/><path color="#1f988b" d="M857.7 196l4.2-.3 2.4 1.6-4.1-.6z"/><path color="#2a788e" d="M937 207.6l4.2-.6 2.3-.4-4.2.8z"/><path color="#26828e" d="M904.8 203.3l4.2.4 2.3 1.5-4.2-.4z"/><path color="#34b679" d="M799.9 185.2l4.1.5 2.5 1.9-4-.4z"/><path color="#20a486" d="M825.5 190.9l4.1.2 2.5 3.5-4.1-.1z"/><path color="#5ec962" d="M774.3 178.3l4 .7 2.7 1.5-4.1-.7z"/><path color="#238a8d" d="M894.1 201l4.2.4 2.3 1.4-4.2-.3z"/><path color="#1f9a8a" d="M840.4 194.9l4.1.1 2.5 3.2-4.2.5z"/><path color="#73d056" d="M763.5 176.2l4 .6 2.7.9-4.1-.6z"/><path color="#48c16e" d="M789.1 182.1l4.1.8 2.6 1.7-4.1-.6z"/><path color="#20928c" d="M883.3 198.9l4.2.3 2.4 1.4-4.2-.3z"/><path color="#287c8e" d="M919.7 206.1l4.2.4 2.3 1.1-4.2-.1z"/><path color="#29af7f" d="M814.7 188.3l4.1.4 2.6 2-4.1-.3z"/><path color="#297a8e" d="M930.5 207.6l4.2-.1 2.3.1-4.2.4z"/><path color="#26828e" d="M947.8 205.7l4.3-1 2.3-1.3-4.3 1.3z"/><path color="#1e9b8a" d="M851.1 197.4l4.1-1.1 2.5-.3-4.1.9z"/><path color="#1f968b" d="M872.6 197.6l4.2-.1 2.4 1.3-4.2 0z"/><path color="#1e9c89" d="M861.9 195.7l4.1.5 2.4 1.5-4.1-.4z"/><path color="#25838e" d="M909 203.7l4.2.5 2.3 1.5-4.2-.5z"/><path color="#38b977" d="M804 185.7l4.1.5 2.5 1.8-4.1-.4z"/><path color="#60ca60" d="M778.3 179l4.1.7 2.6 1.6-4-.8z"/><path color="#27808e" d="M941.2 207l4.3-.7 2.3-.6-4.3.9z"/><path color="#22a884" d="M829.6 191.1l4.1.2 2.5 3.5-4.1-.2z"/><path color="#228d8d" d="M898.3 201.4l4.2.4 2.3 1.5-4.2-.5z"/><path color="#77d153" d="M767.5 176.8l4.1.6 2.7.9-4.1-.6z"/><path color="#4ac16d" d="M793.2 182.9l4.1.7 2.6 1.6-4.1-.6z"/><path color="#1f948c" d="M887.5 199.2l4.2.3 2.4 1.5-4.2-.4z"/><path color="#1fa088" d="M844.5 195l4.1.1 2.5 2.3-4.1.8z"/><path color="#27808e" d="M923.9 206.5l4.3.3 2.3.8-4.3 0z"/><path color="#2eb37c" d="M818.8 188.7l4.1.3 2.6 1.9-4.1-.2z"/><path color="#89d548" d="M756.8 175.1l4 .7 2.7.4-4.1-.7z"/><path color="#1e9b8a" d="M876.8 197.5l4.2.1 2.3 1.3-4.1-.1z"/><path color="#27808e" d="M934.7 207.5l4.3-.4 2.2-.1-4.2.6z"/><path color="#1f9f88" d="M866 196.2l4.2.2 2.4 1.2-4.2.1z"/><path color="#24868e" d="M913.2 204.2l4.2.5 2.3 1.4-4.2-.4z"/><path color="#1fa287" d="M855.2 196.3l4.2-.9 2.5.3-4.2.3z"/><path color="#228c8d" d="M952.1 204.7l4.3-1.2 2.3-1.4-4.3 1.3z"/><path color="#65cb5e" d="M782.4 179.7l4.1.8 2.6 1.6-4.1-.8z"/><path color="#3dbc74" d="M808.1 186.2l4.1.5 2.5 1.6-4.1-.3z"/><path color="#25ac82" d="M833.7 191.3l4.2.2 2.5 3.4-4.2-.1z"/><path color="#218f8d" d="M902.5 201.8l4.2.4 2.3 1.5-4.2-.4z"/><path color="#24878e" d="M945.5 206.3l4.3-.8 2.3-.8-4.3 1z"/><path color="#7cd250" d="M771.6 177.4l4.1.7 2.6.9-4-.7z"/><path color="#50c46a" d="M797.3 183.6l4.1.6 2.6 1.5-4.1-.5z"/><path color="#1f978b" d="M891.7 199.5l4.2.4 2.4 1.5-4.2-.4z"/><path color="#8ed645" d="M760.8 175.8l4.1.6 2.6.4-4-.6z"/><path color="#32b67a" d="M822.9 189l4.2.3 2.5 1.8-4.1-.2z"/><path color="#25838e" d="M928.2 206.8l4.2.2 2.3.5-4.2.1z"/><path color="#21a585" d="M848.6 195.1l4.2 0 2.4 1.2-4.1 1.1z"/><path color="#1f9f88" d="M881 197.6l4.1.2 2.4 1.4-4.2-.3z"/><path color="#23898e" d="M917.4 204.7l4.2.5 2.3 1.3-4.2-.4z"/><path color="#67cc5c" d="M786.5 180.5l4.1.8 2.6 1.6-4.1-.8z"/><path color="#20a386" d="M870.2 196.4l4.2-.1 2.4 1.2-4.2.1z"/><path color="#24868e" d="M939 207.1l4.2-.4 2.3-.4-4.3.7z"/><path color="#42be71" d="M812.2 186.7l4.1.4 2.5 1.6-4.1-.4z"/><path color="#22a884" d="M859.4 195.4l4.2-.6 2.4 1.4-4.1-.5z"/><path color="#29af7f" d="M837.9 191.5l4.1.1 2.5 3.4-4.1-.1z"/><path color="#20928c" d="M906.7 202.2l4.2.5 2.3 1.5-4.2-.5z"/><path color="#81d34d" d="M775.7 178.1l4.1.7 2.6.9-4.1-.7z"/><path color="#54c568" d="M801.4 184.2l4.1.6 2.6 1.4-4.1-.5z"/><path color="#1f958b" d="M956.4 203.5l4.3-1.2 2.3-1.7-4.3 1.5z"/><path color="#1f9a8a" d="M895.9 199.9l4.2.4 2.4 1.5-4.2-.4z"/><path color="#93d741" d="M764.9 176.4l4.1.7 2.6.3-4.1-.6z"/><path color="#38b977" d="M827.1 189.3l4.1.2 2.5 1.8-4.1-.2z"/><path color="#21908d" d="M949.8 205.5l4.3-.9 2.3-1.1-4.3 1.2z"/><path color="#a0da39" d="M754.1 175.2l4.1.7 2.6-.1-4-.7z"/><path color="#69cd5b" d="M790.6 181.3l4.1.9 2.6 1.4-4.1-.7z"/><path color="#23888e" d="M932.4 207l4.3 0 2.3.1-4.3.4z"/><path color="#1fa187" d="M885.1 197.8l4.2.4 2.4 1.3-4.2-.3z"/><path color="#228c8d" d="M921.6 205.2l4.3.5 2.3 1.1-4.3-.3z"/><path color="#48c16e" d="M816.3 187.1l4.1.4 2.5 1.5-4.1-.3z"/><path color="#25ac82" d="M852.8 195.1l4.1-.2 2.5.5-4.2.9z"/><path color="#22a884" d="M874.4 196.3l4.1 0 2.5 1.3-4.2-.1z"/><path color="#25ac82" d="M863.6 194.8l4.1.1 2.5 1.5-4.2-.2z"/><path color="#1f948c" d="M910.9 202.7l4.2.6 2.3 1.4-4.2-.5z"/><path color="#228d8d" d="M943.2 206.7l4.3-.6 2.3-.6-4.3.8z"/><path color="#84d44b" d="M779.8 178.8l4.1.7 2.6 1-4.1-.8z"/><path color="#2eb37c" d="M842 191.6l4.1.2 2.5 3.3-4.1-.1z"/><path color="#58c765" d="M805.5 184.8l4.1.6 2.6 1.3-4.1-.5z"/><path color="#98d83e" d="M769 177.1l4 .6 2.7.4-4.1-.7z"/><path color="#1e9d89" d="M900.1 200.3l4.2.5 2.4 1.4-4.2-.4z"/><path color="#a5db36" d="M758.2 175.9l4 .6 2.7-.1-4.1-.6z"/><path color="#6ece58" d="M794.7 182.2l4.1.8 2.6 1.2-4.1-.6z"/><path color="#3fbc73" d="M831.2 189.5l4.1.3 2.6 1.7-4.2-.2z"/><path color="#1fa088" d="M960.7 202.3l4.3-1.4 2.3-1.8-4.3 1.5z"/><path color="#20a486" d="M889.3 198.2l4.2.3 2.4 1.4-4.2-.4z"/><path color="#218f8d" d="M925.9 205.7l4.2.4 2.3.9-4.2-.2z"/><path color="#218e8d" d="M936.7 207l4.2-.2 2.3-.1-4.2.4z"/><path color="#4ec36b" d="M820.4 187.5l4.1.4 2.6 1.4-4.2-.3z"/><path color="#1f988b" d="M954.1 204.6l4.3-1 2.3-1.3-4.3 1.2z"/><path color="#25ac82" d="M878.5 196.3l4.2.2 2.4 1.3-4.1-.2z"/><path color="#89d548" d="M783.9 179.5l4 .7 2.7 1.1-4.1-.8z"/><path color="#1f968b" d="M915.1 203.3l4.2.5 2.3 1.4-4.2-.5z"/><path color="#2db27d" d="M856.9 194.9l4.2-.5 2.5.4-4.2.6z"/><path color="#2ab07f" d="M867.7 194.9l4.2.2 2.5 1.2-4.2.1z"/><path color="#5ec962" d="M809.6 185.4l4.1.5 2.6 1.2-4.1-.4z"/><path color="#34b679" d="M846.1 191.8l4.2.1 2.5 3.2-4.2 0z"/><path color="#9dd93b" d="M773 177.7l4.1.7 2.7.4-4.1-.7z"/><path color="#1f948c" d="M947.5 206.1l4.3-.7 2.3-.8-4.3.9z"/><path color="#1fa088" d="M904.3 200.8l4.2.5 2.4 1.4-4.2-.5z"/><path color="#aadc32" d="M762.2 176.5l4.1.7 2.7-.1-4.1-.7z"/><path color="#b2dd2d" d="M751.4 175.8l4.1.6 2.7-.5-4.1-.7z"/><path color="#73d056" d="M798.8 183l4.1.7 2.6 1.1-4.1-.6z"/><path color="#46c06f" d="M835.3 189.8l4.2.2 2.5 1.6-4.1-.1z"/><path color="#22a884" d="M893.5 198.5l4.2.4 2.4 1.4-4.2-.4z"/><path color="#20928c" d="M930.1 206.1l4.3.3 2.3.6-4.3 0z"/><path color="#54c568" d="M824.5 187.9l4.2.3 2.5 1.3-4.1-.2z"/><path color="#8bd646" d="M787.9 180.2l4.2.8 2.6 1.2-4.1-.9z"/><path color="#20938c" d="M940.9 206.8l4.3-.3 2.3-.4-4.3.6z"/><path color="#1f998a" d="M919.3 203.8l4.3.6 2.3 1.3-4.3-.5z"/><path color="#28ae80" d="M882.7 196.5l4.2.3 2.4 1.4-4.2-.4z"/><path color="#23a983" d="M965 200.9l4.4-1.4 2.3-2-4.4 1.6z"/><path color="#65cb5e" d="M813.7 185.9l4.1.5 2.6 1.1-4.1-.4z"/><path color="#2fb47c" d="M871.9 195.1l4.2-.1 2.4 1.3-4.1 0z"/><path color="#a0da39" d="M777.1 178.4l4.1.7 2.7.4-4.1-.7z"/><path color="#35b779" d="M861.1 194.4l4.2-.6 2.4 1.1-4.1-.1z"/><path color="#1fa187" d="M958.4 203.6l4.3-1.2 2.3-1.5-4.3 1.4z"/><path color="#3bbb75" d="M850.3 191.9l4.2.2 2.4 2.8-4.1.2z"/><path color="#1fa187" d="M908.5 201.3l4.3.5 2.3 1.5-4.2-.6z"/><path color="#b0dd2f" d="M766.3 177.2l4.1.7 2.6-.2-4-.6z"/><path color="#b8de29" d="M755.5 176.4l4.1.7 2.6-.6-4-.6z"/><path color="#75d054" d="M802.9 183.7l4.1.7 2.6 1-4.1-.6z"/><path color="#1e9c89" d="M951.8 205.4l4.3-.8 2.3-1-4.3 1z"/><path color="#4cc26c" d="M839.5 190l4.2.2 2.4 1.6-4.1-.2z"/><path color="#24aa83" d="M897.7 198.9l4.3.5 2.3 1.4-4.2-.5z"/><path color="#8ed645" d="M792.1 181l4.1.9 2.6 1.1-4.1-.8z"/><path color="#1f968b" d="M934.4 206.4l4.2.2 2.3.2-4.2.2z"/><path color="#5ac864" d="M828.7 188.2l4.1.3 2.5 1.3-4.1-.3z"/><path color="#1e9b8a" d="M923.6 204.4l4.2.6 2.3 1.1-4.2-.4z"/><path color="#2db27d" d="M886.9 196.8l4.3.4 2.3 1.3-4.2-.3z"/><path color="#69cd5b" d="M817.8 186.4l4.2.5 2.5 1-4.1-.4z"/><path color="#a5db36" d="M781.2 179.1l4.1.7 2.6.4-4-.7z"/><path color="#1f9a8a" d="M945.2 206.5l4.3-.4 2.3-.7-4.3.7z"/><path color="#37b878" d="M876.1 195l4.2.2 2.4 1.3-4.2-.2z"/><path color="#c0df25" d="M748.8 176.8l4 .6 2.7-1-4.1-.6z"/><path color="#b2dd2d" d="M770.4 177.9l4.1.7 2.6-.2-4.1-.7z"/><path color="#bddf26" d="M759.6 177.1l4.1.7 2.6-.6-4.1-.7z"/><path color="#20a486" d="M912.8 201.8l4.2.7 2.3 1.3-4.2-.5z"/><path color="#3dbc74" d="M865.3 193.8l4.2-.1 2.4 1.4-4.2-.2z"/><path color="#7cd250" d="M807 184.4l4.1.7 2.6.8-4.1-.5z"/><path color="#44bf70" d="M854.5 192.1l4.2.1 2.4 2.2-4.2.5z"/><path color="#2eb37c" d="M969.4 199.5l4.3-1.5 2.3-2.2-4.3 1.7z"/><path color="#25ab82" d="M962.7 202.4l4.4-1.2 2.3-1.7-4.4 1.4z"/><path color="#26ad81" d="M902 199.4l4.2.5 2.3 1.4-4.2-.5z"/><path color="#90d743" d="M796.2 181.9l4.1 1 2.6.8-4.1-.7z"/><path color="#54c568" d="M843.7 190.2l4.1.3 2.5 1.4-4.2-.1z"/><path color="#63cb5f" d="M832.8 188.5l4.2.4 2.5 1.1-4.2-.2z"/><path color="#20a486" d="M956.1 204.6l4.3-.9 2.3-1.3-4.3 1.2z"/><path color="#1f9e89" d="M927.8 205l4.3.5 2.3.9-4.3-.3z"/><path color="#1e9b8a" d="M938.6 206.6l4.3 0 2.3-.1-4.3.3z"/><path color="#31b57b" d="M891.2 197.2l4.2.3 2.3 1.4-4.2-.4z"/><path color="#aadc32" d="M785.3 179.8l4.1.8 2.7.4-4.2-.8z"/><path color="#70cf57" d="M822 186.9l4.1.4 2.6.9-4.2-.3z"/><path color="#c5e021" d="M752.8 177.4l4.1.8 2.7-1.1-4.1-.7z"/><path color="#b8de29" d="M774.5 178.6l4.1.7 2.6-.2-4.1-.7z"/><path color="#c0df25" d="M763.7 177.8l4 .7 2.7-.6-4.1-.7z"/><path color="#21a685" d="M917 202.5l4.2.6 2.4 1.3-4.3-.6z"/><path color="#3bbb75" d="M880.3 195.2l4.2.3 2.4 1.3-4.2-.3z"/><path color="#81d34d" d="M811.1 185.1l4.2.6 2.5.7-4.1-.5z"/><path color="#1fa188" d="M949.5 206.1l4.3-.6 2.3-.9-4.3.8z"/><path color="#46c06f" d="M869.5 193.7l4.2.1 2.4 1.2-4.2.1z"/><path color="#4ec36b" d="M858.7 192.2l4.1.2 2.5 1.4-4.2.6z"/><path color="#93d741" d="M800.3 182.9l4.1.8 2.6.7-4.1-.7z"/><path color="#29af7f" d="M906.2 199.9l4.2.6 2.4 1.3-4.3-.5z"/><path color="#5cc863" d="M847.8 190.5l4.2.2 2.5 1.4-4.2-.2z"/><path color="#cae11f" d="M746.1 178.1l4.1.8 2.6-1.5-4-.6z"/><path color="#40bd72" d="M973.7 198l4.4-1.5 2.3-2.4-4.4 1.7z"/><path color="#1fa188" d="M932.1 205.5l4.2.5 2.3.6-4.2-.2z"/><path color="#69cd5b" d="M837 188.9l4.1.3 2.6 1-4.2-.2z"/><path color="#addc30" d="M789.4 180.6l4.2.8 2.6.5-4.1-.9z"/><path color="#35b779" d="M895.4 197.5l4.2.5 2.4 1.4-4.3-.5z"/><path color="#2fb47c" d="M967.1 201.2l4.3-1.3 2.3-1.9-4.3 1.5z"/><path color="#1fa188" d="M942.9 206.6l4.3-.1 2.3-.4-4.3.4z"/><path color="#cae11f" d="M756.9 178.2l4.1.7 2.7-1.1-4.1-.7z"/><path color="#77d153" d="M826.1 187.3l4.2.4 2.5.8-4.1-.3z"/><path color="#bddf26" d="M778.6 179.3l4.1.7 2.6-.2-4.1-.7z"/><path color="#c5e021" d="M767.7 178.5l4.1.7 2.7-.6-4.1-.7z"/><path color="#22a884" d="M921.2 203.1l4.3.7 2.3 1.2-4.2-.6z"/><path color="#26ad81" d="M960.4 203.7l4.4-1 2.3-1.5-4.4 1.2z"/><path color="#86d549" d="M815.3 185.7l4.1.6 2.6.6-4.2-.5z"/><path color="#42be71" d="M884.5 195.5l4.3.3 2.4 1.4-4.3-.4z"/><path color="#4ec36b" d="M873.7 193.8l4.2.2 2.4 1.2-4.2-.2z"/><path color="#98d83e" d="M804.4 183.7l4.2.9 2.5.5-4.1-.7z"/><path color="#2cb17e" d="M910.4 200.5l4.3.6 2.3 1.4-4.2-.7z"/><path color="#58c765" d="M862.8 192.4l4.2.1 2.5 1.2-4.2.1z"/><path color="#22a884" d="M953.8 205.5l4.3-.7 2.3-1.1-4.3.9z"/><path color="#65cb5e" d="M852 190.7l4.2.2 2.5 1.3-4.2-.1z"/><path color="#b0dd2f" d="M793.6 181.4l4.1.9 2.6.6-4.1-1z"/><path color="#cde11d" d="M750.2 178.9l4 .7 2.7-1.4-4.1-.8z"/><path color="#73d056" d="M841.1 189.2l4.2.3 2.5 1-4.1-.3z"/><path color="#20a486" d="M936.3 206l4.3.4 2.3.2-4.3 0z"/><path color="#38b977" d="M899.6 198l4.2.5 2.4 1.4-4.2-.5z"/><path color="#cde11d" d="M761 178.9l4.1.7 2.6-1.1-4-.7z"/><path color="#c0df25" d="M782.7 180l4.1.7 2.6-.1-4.1-.8z"/><path color="#cae11f" d="M771.8 179.2l4.1.8 2.7-.7-4.1-.7z"/><path color="#7fd34e" d="M830.3 187.7l4.2.4 2.5.8-4.2-.4z"/><path color="#24aa83" d="M925.5 203.8l4.3.7 2.3 1-4.3-.5z"/><path color="#21a685" d="M947.2 206.5l4.3-.3 2.3-.7-4.3.6z"/><path color="#8ed645" d="M819.4 186.3l4.2.5 2.5.5-4.1-.4z"/><path color="#48c16e" d="M888.8 195.8l4.2.4 2.4 1.3-4.2-.3z"/><path color="#56c667" d="M978.1 196.5l4.4-1.7 2.3-2.5-4.4 1.8z"/><path color="#9dd93b" d="M808.6 184.6l4.1.7 2.6.4-4.2-.6z"/><path color="#3fbc73" d="M971.4 199.9l4.4-1.4 2.3-2-4.4 1.5z"/><path color="#56c667" d="M877.9 194l4.2.2 2.4 1.3-4.2-.3z"/><path color="#2eb37c" d="M914.7 201.1l4.2.7 2.3 1.3-4.2-.6z"/><path color="#cde11d" d="M743.4 179.9l4.1.8 2.7-1.8-4.1-.8z"/><path color="#31b57b" d="M964.8 202.7l4.3-1.1 2.3-1.7-4.3 1.3z"/><path color="#63cb5f" d="M867 192.5l4.3.1 2.4 1.2-4.2-.1z"/><path color="#b2dd2d" d="M797.7 182.3l4.1.9 2.6.5-4.1-.8z"/><path color="#d2e21b" d="M754.2 179.6l4.1.8 2.7-1.5-4.1-.7z"/><path color="#6ece58" d="M856.2 190.9l4.2.2 2.4 1.3-4.1-.2z"/><path color="#d2e21b" d="M765.1 179.6l4.1.8 2.6-1.2-4.1-.7z"/><path color="#3dbc74" d="M903.8 198.5l4.3.6 2.3 1.4-4.2-.6z"/><path color="#29af7f" d="M958.1 204.8l4.4-.7 2.3-1.4-4.4 1z"/><path color="#c5e021" d="M786.8 180.7l4.1.8 2.7-.1-4.2-.8z"/><path color="#7cd250" d="M845.3 189.5l4.2.2 2.5 1-4.2-.2z"/><path color="#cde11d" d="M775.9 180l4.2.7 2.6-.7-4.1-.7z"/><path color="#22a884" d="M940.6 206.4l4.3.2 2.3-.1-4.3.1z"/><path color="#25ac82" d="M929.8 204.5l4.2.7 2.3.8-4.2-.5z"/><path color="#89d548" d="M834.5 188.1l4.1.4 2.5.7-4.1-.3z"/><path color="#93d741" d="M823.6 186.8l4.1.5 2.6.4-4.2-.4z"/><path color="#4ec36b" d="M893 196.2l4.2.5 2.4 1.3-4.2-.5z"/><path color="#a2da37" d="M812.7 185.3l4.2.7 2.5.3-4.1-.6z"/><path color="#26ad81" d="M951.5 206.2l4.3-.4 2.3-1-4.3.7z"/><path color="#d2e21b" d="M747.5 180.7l4.1.8 2.6-1.9-4-.7z"/><path color="#2fb47c" d="M918.9 201.8l4.3.8 2.3 1.2-4.3-.7z"/><path color="#5cc863" d="M882.1 194.2l4.2.3 2.5 1.3-4.3-.3z"/><path color="#b2dd2d" d="M801.8 183.2l4.2 1 2.6.4-4.2-.9z"/><path color="#d5e21a" d="M758.3 180.4l4.1.7 2.7-1.5-4.1-.7z"/><path color="#6ccd5a" d="M871.3 192.6l4.2.2 2.4 1.2-4.2-.2z"/><path color="#d5e21a" d="M769.2 180.4l4.1.7 2.6-1.1-4.1-.8z"/><path color="#c8e020" d="M790.9 181.5l4.2.9 2.6-.1-4.1-.9z"/><path color="#54c568" d="M975.8 198.5l4.4-1.4 2.3-2.3-4.4 1.7z"/><path color="#70cf57" d="M982.5 194.8l4.4-1.6 2.3-2.7-4.4 1.8z"/><path color="#77d153" d="M860.4 191.1l4.2.2 2.4 1.2-4.2-.1z"/><path color="#40bd72" d="M908.1 199.1l4.2.7 2.4 1.3-4.3-.6z"/><path color="#d2e21b" d="M780.1 180.7l4.1.8 2.6-.8-4.1-.7z"/><path color="#40bd72" d="M969.1 201.6l4.4-1.2 2.3-1.9-4.4 1.4z"/><path color="#84d44b" d="M849.5 189.7l4.2.3 2.5.9-4.2-.2z"/><path color="#d0e11c" d="M740.7 182l4.1.9 2.7-2.2-4.1-.8z"/><path color="#28ae80" d="M934 205.2l4.3.6 2.3.6-4.3-.4z"/><path color="#26ad81" d="M944.9 206.6l4.3.1 2.3-.5-4.3.3z"/><path color="#90d743" d="M838.6 188.5l4.2.4 2.5.6-4.2-.3z"/><path color="#9bd93c" d="M827.7 187.3l4.2.5 2.6.3-4.2-.4z"/><path color="#35b779" d="M962.5 204.1l4.3-.9 2.3-1.6-4.3 1.1z"/><path color="#52c569" d="M897.2 196.7l4.3.5 2.3 1.3-4.2-.5z"/><path color="#a8db34" d="M816.9 186l4.1.7 2.6.1-4.2-.5z"/><path color="#d5e21a" d="M751.6 181.5l4.1.8 2.6-1.9-4.1-.8z"/><path color="#32b67a" d="M923.2 202.6l4.2.8 2.4 1.1-4.3-.7z"/><path color="#b5de2b" d="M806 184.2l4.1 1 2.6.1-4.1-.7z"/><path color="#65cb5e" d="M886.3 194.5l4.3.5 2.4 1.2-4.2-.4z"/><path color="#dae319" d="M762.4 181.1l4.1.8 2.7-1.5-4.1-.8z"/><path color="#2eb37c" d="M955.8 205.8l4.3-.5 2.4-1.2-4.4.7z"/><path color="#cae11f" d="M795.1 182.4l4.1.8 2.6 0-4.1-.9z"/><path color="#dae319" d="M773.3 181.1l4.1.8 2.7-1.2-4.2-.7z"/><path color="#73d056" d="M875.5 192.8l4.2.2 2.4 1.2-4.2-.2z"/><path color="#44bf70" d="M912.3 199.8l4.3.7 2.3 1.3-4.2-.7z"/><path color="#d5e21a" d="M784.2 181.5l4.1.8 2.6-.8-4.1-.8z"/><path color="#81d34d" d="M864.6 191.3l4.2.2 2.5 1.1-4.3-.1z"/><path color="#d2e21b" d="M744.8 182.9l4.1.8 2.7-2.2-4.1-.8z"/><path color="#8ed645" d="M853.7 190l4.2.3 2.5.8-4.2-.2z"/><path color="#2ab07f" d="M938.3 205.8l4.3.6 2.3.2-4.3-.2z"/><path color="#98d83e" d="M842.8 188.9l4.2.3 2.5.5-4.2-.2z"/><path color="#a2da37" d="M831.9 187.8l4.2.4 2.5.3-4.1-.4z"/><path color="#58c765" d="M901.5 197.2l4.2.7 2.4 1.2-4.3-.6z"/><path color="#2cb17e" d="M949.2 206.7l4.3-.1 2.3-.8-4.3.4z"/><path color="#addc30" d="M821 186.7l4.2.6 2.5 0-4.1-.5z"/><path color="#dae319" d="M755.7 182.3l4.1.8 2.6-2-4.1-.7z"/><path color="#6ccd5a" d="M980.2 197.1l4.4-1.5 2.3-2.4-4.4 1.6z"/><path color="#35b779" d="M927.4 203.4l4.3.9 2.3.9-4.2-.7z"/><path color="#8ed645" d="M986.9 193.2l4.4-1.8 2.3-2.8-4.4 1.9z"/><path color="#54c568" d="M973.5 200.4l4.4-1.2 2.3-2.1-4.4 1.4z"/><path color="#bade28" d="M810.1 185.2l4.2.9 2.6-.1-4.2-.7z"/><path color="#dde318" d="M766.5 181.9l4.2.8 2.6-1.6-4.1-.7z"/><path color="#cae11f" d="M738.1 184.5l4 .9 2.7-2.5-4.1-.9z"/><path color="#69cd5b" d="M890.6 195l4.2.5 2.4 1.2-4.2-.5z"/><path color="#44bf70" d="M966.8 203.2l4.4-1 2.3-1.8-4.4 1.2z"/><path color="#cde11d" d="M799.2 183.2l4.2 1 2.6 0-4.2-1z"/><path color="#dde318" d="M777.4 181.9l4.2.8 2.6-1.2-4.1-.8z"/><path color="#dae319" d="M788.3 182.3l4.2.8 2.6-.7-4.2-.9z"/><path color="#46c06f" d="M916.6 200.5l4.2.9 2.4 1.2-4.3-.8z"/><path color="#7cd250" d="M879.7 193l4.2.4 2.4 1.1-4.2-.3z"/><path color="#d5e21a" d="M748.9 183.7l4.1.8 2.7-2.2-4.1-.8z"/><path color="#38b977" d="M960.1 205.3l4.4-.6 2.3-1.5-4.3.9z"/><path color="#8bd646" d="M868.8 191.5l4.2.3 2.5 1-4.2-.2z"/><path color="#2fb47c" d="M942.6 206.4l4.3.5 2.3-.2-4.3-.1z"/><path color="#95d840" d="M857.9 190.3l4.2.3 2.5.7-4.2-.2z"/><path color="#a0da39" d="M847 189.2l4.2.4 2.5.4-4.2-.3z"/><path color="#5cc863" d="M905.7 197.9l4.3.7 2.3 1.2-4.2-.7z"/><path color="#dde318" d="M759.8 183.1l4.1.8 2.6-2-4.1-.8z"/><path color="#aadc32" d="M836.1 188.2l4.2.5 2.5.2-4.2-.4z"/><path color="#b2dd2d" d="M825.2 187.3l4.2.6 2.5-.1-4.2-.5z"/><path color="#37b878" d="M931.7 204.3l4.3.8 2.3.7-4.3-.6z"/><path color="#bddf26" d="M814.3 186.1l4.1.8 2.6-.2-4.1-.7z"/><path color="#34b679" d="M953.5 206.6l4.3-.2 2.3-1.1-4.3.5z"/><path color="#d0e11c" d="M742.1 185.4l4.1.8 2.7-2.5-4.1-.8z"/><path color="#e2e418" d="M770.7 182.7l4.1.8 2.6-1.6-4.1-.8z"/><path color="#cde11d" d="M803.4 184.2l4.1 1 2.6 0-4.1-1z"/><path color="#70cf57" d="M894.8 195.5l4.3.6 2.4 1.1-4.3-.5z"/><path color="#e2e418" d="M781.6 182.7l4.1.8 2.6-1.2-4.1-.8z"/><path color="#dde318" d="M792.5 183.1l4.1.8 2.6-.7-4.1-.8z"/><path color="#48c16e" d="M920.8 201.4l4.3.9 2.3 1.1-4.2-.8z"/><path color="#89d548" d="M984.6 195.6l4.4-1.5 2.3-2.7-4.4 1.8z"/><path color="#6ccd5a" d="M977.9 199.2l4.4-1.3 2.3-2.3-4.4 1.5z"/><path color="#d8e219" d="M753 184.5l4.1.9 2.7-2.3-4.1-.8z"/><path color="#84d44b" d="M883.9 193.4l4.3.6 2.4 1-4.3-.5z"/><path color="#addc30" d="M991.3 191.4l4.4-1.7 2.3-3-4.4 1.9z"/><path color="#c5e021" d="M735.4 187.2l4.1 1 2.6-2.8-4-.9z"/><path color="#56c667" d="M971.2 202.2l4.3-1 2.4-2-4.4 1.2z"/><path color="#93d741" d="M873 191.8l4.3.4 2.4.8-4.2-.2z"/><path color="#5ec962" d="M910 198.6l4.2.8 2.4 1.1-4.3-.7z"/><path color="#dfe318" d="M763.9 183.9l4.1.8 2.7-2-4.2-.8z"/><path color="#a0da39" d="M862.1 190.6l4.2.3 2.5.6-4.2-.2z"/><path color="#35b779" d="M946.9 206.9l4.3.3 2.3-.6-4.3.1z"/><path color="#3aba76" d="M936 205.1l4.3.8 2.3.5-4.3-.6z"/><path color="#aadc32" d="M851.2 189.6l4.2.4 2.5.3-4.2-.3z"/><path color="#46c06f" d="M964.5 204.7l4.3-.7 2.4-1.8-4.4 1z"/><path color="#b2dd2d" d="M840.3 188.7l4.2.5 2.5 0-4.2-.3z"/><path color="#bade28" d="M829.4 187.9l4.1.5 2.6-.2-4.2-.4z"/><path color="#c2df23" d="M818.4 186.9l4.2.7 2.6-.3-4.2-.6z"/><path color="#d2e21b" d="M746.2 186.2l4.2.9 2.6-2.6-4.1-.8z"/><path color="#e5e419" d="M774.8 183.5l4.1.9 2.7-1.7-4.2-.8z"/><path color="#d0e11c" d="M807.5 185.2l4.2 1.1 2.6-.2-4.2-.9z"/><path color="#75d054" d="M899.1 196.1l4.2.8 2.4 1-4.2-.7z"/><path color="#e5e419" d="M785.7 183.5l4.1.8 2.7-1.2-4.2-.8z"/><path color="#dfe318" d="M796.6 183.9l4.2.9 2.6-.6-4.2-1z"/><path color="#4cc26c" d="M925.1 202.3l4.3.9 2.3 1.1-4.3-.9z"/><path color="#3dbc74" d="M957.8 206.4l4.4-.3 2.3-1.4-4.4.6z"/><path color="#dde318" d="M757.1 185.4l4.1.8 2.7-2.3-4.1-.8z"/><path color="#89d548" d="M888.2 194l4.2.6 2.4.9-4.2-.5z"/><path color="#c8e020" d="M739.5 188.2l4.1.9 2.6-2.9-4.1-.8z"/><path color="#60ca60" d="M914.2 199.4l4.3.9 2.3 1.1-4.2-.9z"/><path color="#e2e418" d="M768 184.7l4.2.9 2.6-2.1-4.1-.8z"/><path color="#9bd93c" d="M877.3 192.2l4.2.6 2.4.6-4.2-.4z"/><path color="#3dbc74" d="M940.3 205.9l4.3.7 2.3.3-4.3-.5z"/><path color="#a8db34" d="M866.3 190.9l4.3.4 2.4.5-4.2-.3z"/><path color="#c8e020" d="M822.6 187.6l4.2.7 2.6-.4-4.2-.6z"/><path color="#84d44b" d="M982.3 197.9l4.4-1.3 2.3-2.5-4.4 1.5z"/><path color="#c0df25" d="M833.5 188.4l4.2.6 2.6-.3-4.2-.5z"/><path color="#b2dd2d" d="M855.4 190l4.2.4 2.5.2-4.2-.3z"/><path color="#bade28" d="M844.5 189.2l4.2.4 2.5 0-4.2-.4z"/><path color="#d5e21a" d="M750.4 187.1l4.1.9 2.6-2.6-4.1-.9z"/><path color="#a5db36" d="M989 194.1l4.4-1.6 2.3-2.8-4.4 1.7z"/><path color="#3bbb75" d="M951.2 207.2l4.3.1 2.3-.9-4.3.2z"/><path color="#d2e21b" d="M811.7 186.3l4.2 1 2.5-.4-4.1-.8z"/><path color="#e7e419" d="M778.9 184.4l4.2.8 2.6-1.7-4.1-.8z"/><path color="#bddf26" d="M732.7 190.2l4.1 1.1 2.7-3.1-4.1-1z"/><path color="#69cd5b" d="M975.5 201.2l4.4-1 2.4-2.3-4.4 1.3z"/><path color="#cde11d" d="M995.7 189.7l4.5-1.8 2.3-3.1-4.5 1.9z"/><path color="#77d153" d="M903.3 196.9l4.3.8 2.4.9-4.3-.7z"/><path color="#e7e419" d="M789.8 184.3l4.2.9 2.6-1.3-4.1-.8z"/><path color="#dfe318" d="M800.8 184.8l4.1 1 2.6-.6-4.1-1z"/><path color="#4cc26c" d="M929.4 203.2l4.3 1 2.3.9-4.3-.8z"/><path color="#56c667" d="M968.8 204l4.4-.8 2.3-2-4.3 1z"/><path color="#dfe318" d="M761.2 186.2l4.2.9 2.6-2.4-4.1-.8z"/><path color="#cae11f" d="M743.6 189.1l4.1 1 2.7-3-4.2-.9z"/><path color="#8ed645" d="M892.4 194.6l4.3.8 2.4.7-4.3-.6z"/><path color="#4ac16d" d="M962.2 206.1l4.3-.5 2.3-1.6-4.3.7z"/><path color="#63cb5f" d="M918.5 200.3l4.3 1 2.3 1-4.3-.9z"/><path color="#e7e419" d="M772.2 185.6l4.1.9 2.6-2.1-4.1-.9z"/><path color="#a2da37" d="M881.5 192.8l4.2.6 2.5.6-4.3-.6z"/><path color="#42be71" d="M944.6 206.6l4.3.7 2.3-.1-4.3-.3z"/><path color="#bddf26" d="M736.8 191.3l4.1 1 2.7-3.2-4.1-.9z"/><path color="#d8e219" d="M754.5 188l4.1.9 2.6-2.7-4.1-.8z"/><path color="#cde11d" d="M826.8 188.3l4.2.7 2.5-.6-4.1-.5z"/><path color="#d5e21a" d="M815.9 187.3l4.2.9 2.5-.6-4.2-.7z"/><path color="#eae51a" d="M783.1 185.2l4.1.9 2.6-1.8-4.1-.8z"/><path color="#b0dd2f" d="M870.6 191.3l4.2.5 2.5.4-4.3-.4z"/><path color="#c8e020" d="M837.7 189l4.2.5 2.6-.3-4.2-.5z"/><path color="#c2df23" d="M848.7 189.6l4.2.5 2.5-.1-4.2-.4z"/><path color="#bade28" d="M859.6 190.4l4.2.4 2.5.1-4.2-.3z"/><path color="#e2e418" d="M804.9 185.8l4.2 1 2.6-.5-4.2-1.1z"/><path color="#eae51a" d="M794 185.2l4.2.9 2.6-1.3-4.2-.9z"/><path color="#7cd250" d="M907.6 197.7l4.3.9 2.3.8-4.2-.8z"/><path color="#4ec36b" d="M933.7 204.2l4.3 1 2.3.7-4.3-.8z"/><path color="#44bf70" d="M955.5 207.3l4.3 0 2.4-1.2-4.4.3z"/><path color="#e2e418" d="M765.4 187.1l4.1.9 2.7-2.4-4.2-.9z"/><path color="#b0dd2f" d="M730 193.4l4.1 1.1 2.7-3.2-4.1-1.1z"/><path color="#cde11d" d="M747.7 190.1l4.1.9 2.7-3-4.1-.9z"/><path color="#9dd93b" d="M986.7 196.6l4.4-1.3 2.3-2.8-4.4 1.6z"/><path color="#81d34d" d="M979.9 200.2l4.4-1.1 2.4-2.5-4.4 1.3z"/><path color="#93d741" d="M896.7 195.4l4.2.9 2.4.6-4.2-.8z"/><path color="#c2df23" d="M993.4 192.5l4.4-1.5 2.4-3.1-4.5 1.8z"/><path color="#65cb5e" d="M922.8 201.3l4.2 1 2.4.9-4.3-.9z"/><path color="#69cd5b" d="M973.2 203.2l4.4-.8 2.3-2.2-4.4 1z"/><path color="#eae51a" d="M776.3 186.5l4.1.8 2.7-2.1-4.2-.8z"/><path color="#ece51b" d="M1000.2 187.9l4.4-1.7 2.4-3.3-4.5 1.9z"/><path color="#a5db36" d="M885.7 193.4l4.3.9 2.4.3-4.2-.6z"/><path color="#c0df25" d="M740.9 192.3l4.1 1 2.7-3.2-4.1-1z"/><path color="#dae319" d="M758.6 188.9l4.1.9 2.7-2.7-4.2-.9z"/><path color="#d8e219" d="M820.1 188.2l4.1.9 2.6-.8-4.2-.7z"/><path color="#ece51b" d="M787.2 186.1l4.2.9 2.6-1.8-4.2-.9z"/><path color="#5ac864" d="M966.5 205.6l4.4-.5 2.3-1.9-4.4.8z"/><path color="#d2e21b" d="M831 189l4.2.6 2.5-.6-4.2-.6z"/><path color="#48c16e" d="M948.9 207.3l4.3.6 2.3-.6-4.3-.1z"/><path color="#e2e418" d="M809.1 186.8l4.2 1.1 2.6-.6-4.2-1z"/><path color="#b8de29" d="M874.8 191.8l4.2.7 2.5.3-4.2-.6z"/><path color="#cde11d" d="M841.9 189.5l4.3.6 2.5-.5-4.2-.4z"/><path color="#ece51b" d="M798.2 186.1l4.1.9 2.6-1.2-4.1-1z"/><path color="#7fd34e" d="M911.9 198.6l4.2 1 2.4.7-4.3-.9z"/><path color="#cae11f" d="M852.9 190.1l4.2.5 2.5-.2-4.2-.4z"/><path color="#c2df23" d="M863.8 190.8l4.3.5 2.5 0-4.3-.4z"/><path color="#50c46a" d="M938 205.2l4.3 1 2.3.4-4.3-.7z"/><path color="#e5e419" d="M769.5 188l4.1.9 2.7-2.4-4.1-.9z"/><path color="#b2dd2d" d="M734.1 194.5l4.1 1.1 2.7-3.3-4.1-1z"/><path color="#d0e11c" d="M751.8 191l4.1.9 2.7-3-4.1-.9z"/><path color="#50c46a" d="M959.8 207.3l4.4-.1 2.3-1.6-4.3.5z"/><path color="#95d840" d="M900.9 196.3l4.3.9 2.4.5-4.3-.8z"/><path color="#67cc5c" d="M927 202.3l4.3 1.1 2.4.8-4.3-1z"/><path color="#ece51b" d="M780.4 187.3l4.2.9 2.6-2.1-4.1-.9z"/><path color="#a2da37" d="M727.3 196.7l4.1 1.2 2.7-3.4-4.1-1.1z"/><path color="#aadc32" d="M890 194.3l4.2.9 2.5.2-4.3-.8z"/><path color="#c2df23" d="M745 193.3l4.1.9 2.7-3.2-4.1-.9z"/><path color="#dde318" d="M762.7 189.8l4.2.9 2.6-2.7-4.1-.9z"/><path color="#efe51c" d="M791.4 187l4.1.9 2.7-1.8-4.2-.9z"/><path color="#dae319" d="M824.2 189.1l4.2.8 2.6-.9-4.2-.7z"/><path color="#e5e419" d="M813.3 187.9l4.2 1.1 2.6-.8-4.2-.9z"/><path color="#98d83e" d="M984.3 199.1l4.4-1 2.4-2.8-4.4 1.3z"/><path color="#bade28" d="M991.1 195.3l4.4-1.2 2.3-3.1-4.4 1.5z"/><path color="#d8e219" d="M835.2 189.6l4.2.7 2.5-.8-4.2-.5z"/><path color="#efe51c" d="M802.3 187l4.2 1 2.6-1.2-4.2-1z"/><path color="#bddf26" d="M879 192.5l4.3.9 2.4 0-4.2-.6z"/><path color="#7fd34e" d="M916.1 199.6l4.3 1.1 2.4.6-4.3-1z"/><path color="#7cd250" d="M977.6 202.4l4.4-.8 2.3-2.5-4.4 1.1z"/><path color="#d5e21a" d="M846.2 190.1l4.2.6 2.5-.6-4.2-.5z"/><path color="#54c568" d="M942.3 206.2l4.3 1 2.3.1-4.3-.7z"/><path color="#4ec36b" d="M953.2 207.9l4.3.4 2.3-1-4.3 0z"/><path color="#dfe318" d="M997.8 191l4.5-1.5 2.3-3.3-4.4 1.7z"/><path color="#d0e11c" d="M857.1 190.6l4.2.5 2.5-.3-4.2-.4z"/><path color="#cae11f" d="M868.1 191.3l4.2.6 2.5-.1-4.2-.5z"/><path color="#b2dd2d" d="M738.2 195.6l4.2 1 2.6-3.3-4.1-1z"/><path color="#e7e419" d="M773.6 188.9l4.2.9 2.6-2.5-4.1-.8z"/><path color="#69cd5b" d="M970.9 205.1l4.4-.5 2.3-2.2-4.4.8z"/><path color="#d2e21b" d="M755.9 191.9l4.2.9 2.6-3-4.1-.9z"/><path color="#98d83e" d="M905.2 197.2l4.3 1.1 2.4.3-4.3-.9z"/><path color="#67cc5c" d="M931.3 203.4l4.3 1.1 2.4.7-4.3-1z"/><path color="#efe51c" d="M784.6 188.2l4.2 1 2.6-2.2-4.2-.9z"/><path color="#a2da37" d="M731.4 197.9l4.2 1.1 2.6-3.4-4.1-1.1z"/><path color="#5cc863" d="M964.2 207.2l4.4-.2 2.3-1.9-4.4.5z"/><path color="#addc30" d="M894.2 195.2l4.3 1 2.4.1-4.2-.9z"/><path color="#c2df23" d="M749.1 194.2l4.2 1 2.6-3.3-4.1-.9z"/><path color="#dfe318" d="M766.9 190.7l4.1.9 2.6-2.7-4.1-.9z"/><path color="#f1e51d" d="M795.5 187.9l4.2.9 2.6-1.8-4.1-.9z"/><path color="#e5e419" d="M817.5 189l4.2 1.1 2.5-1-4.1-.9z"/><path color="#dfe318" d="M828.4 189.9l4.2.8 2.6-1.1-4.2-.6z"/><path color="#efe51c" d="M806.5 188l4.2 1 2.6-1.1-4.2-1.1z"/><path color="#81d34d" d="M920.4 200.7l4.3 1.1 2.3.5-4.2-1z"/><path color="#c0df25" d="M883.3 193.4l4.2.9 2.5 0-4.3-.9z"/><path color="#dde318" d="M839.4 190.3l4.2.6 2.6-.8-4.3-.6z"/><path color="#95d840" d="M724.6 200.2l4.2 1.2 2.6-3.5-4.1-1.2z"/><path color="#56c667" d="M946.6 207.2l4.3.9 2.3-.2-4.3-.6z"/><path color="#dae319" d="M850.4 190.7l4.2.6 2.5-.7-4.2-.5z"/><path color="#b2dd2d" d="M742.4 196.6l4.1 1.1 2.6-3.5-4.1-.9z"/><path color="#d0e11c" d="M872.3 191.9l4.3.8 2.4-.2-4.2-.7z"/><path color="#eae51a" d="M777.8 189.8l4.2.9 2.6-2.5-4.2-.9z"/><path color="#d8e219" d="M861.3 191.1l4.3.6 2.5-.4-4.3-.5z"/><path color="#56c667" d="M957.5 208.3l4.4.3 2.3-1.4-4.4.1z"/><path color="#d2e21b" d="M760.1 192.8l4.1 1 2.7-3.1-4.2-.9z"/><path color="#98d83e" d="M909.5 198.3l4.2 1.1 2.4.2-4.2-1z"/><path color="#b0dd2f" d="M988.7 198.1l4.5-1 2.3-3-4.4 1.2z"/><path color="#67cc5c" d="M935.6 204.5l4.3 1.2 2.4.5-4.3-1z"/><path color="#93d741" d="M982 201.6l4.4-.8 2.3-2.7-4.4 1z"/><path color="#d5e21a" d="M995.5 194.1l4.5-1.3 2.3-3.3-4.5 1.5z"/><path color="#a5db36" d="M735.6 199l4.1 1.1 2.7-3.5-4.2-1z"/><path color="#f1e51d" d="M788.8 189.2l4.1.9 2.6-2.2-4.1-.9z"/><path color="#7ad151" d="M975.3 204.6l4.4-.6 2.3-2.4-4.4.8z"/><path color="#b0dd2f" d="M898.5 196.2l4.3 1.1 2.4-.1-4.3-.9z"/><path color="#c5e021" d="M753.3 195.2l4.1 1 2.7-3.4-4.2-.9z"/><path color="#e2e418" d="M771 191.6l4.2 1 2.6-2.8-4.2-.9z"/><path color="#f4e61e" d="M799.7 188.8l4.2 1 2.6-1.8-4.2-1z"/><path color="#e7e419" d="M821.7 190.1l4.2 1 2.5-1.2-4.2-.8z"/><path color="#efe51c" d="M810.7 189l4.2 1.1 2.6-1.1-4.2-1.1z"/><path color="#81d34d" d="M924.7 201.8l4.3 1.2 2.3.4-4.3-1.1z"/><path color="#e5e419" d="M832.6 190.7l4.3.7 2.5-1.1-4.2-.7z"/><path color="#95d840" d="M728.8 201.4l4.1 1.1 2.7-3.5-4.2-1.1z"/><path color="#69cd5b" d="M968.6 207l4.3-.3 2.4-2.1-4.4.5z"/><path color="#c2df23" d="M887.5 194.3l4.3 1.1 2.4-.2-4.2-.9z"/><path color="#e2e418" d="M843.6 190.9l4.2.7 2.6-.9-4.2-.6z"/><path color="#b5de2b" d="M746.5 197.7l4.1 1 2.7-3.5-4.2-1z"/><path color="#5ac864" d="M950.9 208.1l4.3.8 2.3-.6-4.3-.4z"/><path color="#d2e21b" d="M876.6 192.7l4.2 1 2.5-.3-4.3-.9z"/><path color="#ece51b" d="M782 190.7l4.1 1 2.7-2.5-4.2-1z"/><path color="#e2e418" d="M854.6 191.3l4.2.6 2.5-.8-4.2-.5z"/><path color="#dde318" d="M865.6 191.7l4.2.8 2.5-.6-4.2-.6z"/><path color="#d5e21a" d="M764.2 193.8l4.2 1 2.6-3.2-4.1-.9z"/><path color="#98d83e" d="M913.7 199.4l4.3 1.2 2.4.1-4.3-1.1z"/><path color="#69cd5b" d="M939.9 205.7l4.3 1.2 2.4.3-4.3-1z"/><path color="#86d549" d="M721.9 203.6l4.2 1.3 2.7-3.5-4.2-1.2z"/><path color="#60ca60" d="M961.9 208.6l4.3.1 2.4-1.7-4.4.2z"/><path color="#a5db36" d="M739.7 200.1l4.1 1.1 2.7-3.5-4.1-1.1z"/><path color="#f1e51d" d="M792.9 190.1l4.2 1 2.6-2.3-4.2-.9z"/><path color="#b0dd2f" d="M902.8 197.3l4.3 1.2 2.4-.2-4.3-1.1z"/><path color="#c8e020" d="M757.4 196.2l4.2 1 2.6-3.4-4.1-1z"/><path color="#e2e418" d="M775.2 192.6l4.1 1 2.7-2.9-4.2-.9z"/><path color="#f4e61e" d="M803.9 189.8l4.2 1 2.6-1.8-4.2-1z"/><path color="#efe51c" d="M814.9 190.1l4.2 1.2 2.6-1.2-4.2-1.1z"/><path color="#81d34d" d="M929 203l4.3 1.2 2.3.3-4.3-1.1z"/><path color="#eae51a" d="M825.9 191.1l4.2.9 2.5-1.3-4.2-.8z"/><path color="#95d840" d="M732.9 202.5l4.1 1.1 2.7-3.5-4.1-1.1z"/><path color="#a8db34" d="M986.4 200.8l4.4-.7 2.4-3-4.5 1z"/><path color="#c8e020" d="M993.2 197.1l4.4-1 2.4-3.3-4.5 1.3z"/><path color="#c2df23" d="M891.8 195.4l4.3 1.2 2.4-.4-4.3-1z"/><path color="#eae51a" d="M836.9 191.4l4.2.8 2.5-1.3-4.2-.6z"/><path color="#8ed645" d="M979.7 204l4.4-.5 2.3-2.7-4.4.8z"/><path color="#b8de29" d="M750.6 198.7l4.2 1 2.6-3.5-4.1-1z"/><path color="#e7e419" d="M847.8 191.6l4.3.7 2.5-1-4.2-.6z"/><path color="#d2e21b" d="M880.8 193.7l4.3 1.1 2.4-.5-4.2-.9z"/><path color="#ece51b" d="M786.1 191.7l4.2 1 2.6-2.6-4.1-.9z"/><path color="#60ca60" d="M955.2 208.9l4.3.7 2.4-1-4.4-.3z"/><path color="#98d83e" d="M918 200.6l4.3 1.3 2.4-.1-4.3-1.1z"/><path color="#d8e219" d="M768.4 194.8l4.1.9 2.7-3.1-4.2-1z"/><path color="#e7e419" d="M858.8 191.9l4.3.7 2.5-.9-4.3-.6z"/><path color="#dfe318" d="M869.8 192.5l4.3.9 2.5-.7-4.3-.8z"/><path color="#86d549" d="M726.1 204.9l4.1 1.1 2.7-3.5-4.1-1.1z"/><path color="#7ad151" d="M972.9 206.7l4.4-.3 2.4-2.4-4.4.6z"/><path color="#69cd5b" d="M944.2 206.9l4.4 1.2 2.3 0-4.3-.9z"/><path color="#a5db36" d="M743.8 201.2l4.1 1 2.7-3.5-4.1-1z"/><path color="#f4e61e" d="M797.1 191.1l4.2 1 2.6-2.3-4.2-1z"/><path color="#b0dd2f" d="M907.1 198.5l4.2 1.3 2.4-.4-4.2-1.1z"/><path color="#cae11f" d="M761.6 197.2l4.1 1 2.7-3.4-4.2-1z"/><path color="#6ccd5a" d="M966.2 208.7l4.4 0 2.3-2-4.3.3z"/><path color="#7ad151" d="M719.2 207.1l4.2 1.2 2.7-3.4-4.2-1.3z"/><path color="#f6e620" d="M808.1 190.8l4.2 1.1 2.6-1.8-4.2-1.1z"/><path color="#e5e419" d="M779.3 193.6l4.2 1 2.6-2.9-4.1-1z"/><path color="#81d34d" d="M933.3 204.2l4.3 1.3 2.3.2-4.3-1.2z"/><path color="#efe51c" d="M819.1 191.3l4.2 1.2 2.6-1.4-4.2-1z"/><path color="#ece51b" d="M830.1 192l4.2.9 2.6-1.5-4.3-.7z"/><path color="#95d840" d="M737 203.6l4.1 1.1 2.7-3.5-4.1-1.1z"/><path color="#c2df23" d="M896.1 196.6l4.2 1.3 2.5-.6-4.3-1.1z"/><path color="#ece51b" d="M841.1 192.2l4.2.8 2.5-1.4-4.2-.7z"/><path color="#b8de29" d="M754.8 199.7l4.1 1 2.7-3.5-4.2-1z"/><path color="#d5e21a" d="M885.1 194.8l4.2 1.3 2.5-.7-4.3-1.1z"/><path color="#efe51c" d="M790.3 192.7l4.2 1 2.6-2.6-4.2-1z"/><path color="#98d83e" d="M922.3 201.9l4.3 1.3 2.4-.2-4.3-1.2z"/><path color="#ece51b" d="M852.1 192.3l4.2.8 2.5-1.2-4.2-.6z"/><path color="#dae319" d="M772.5 195.7l4.2 1.1 2.6-3.2-4.1-1z"/><path color="#86d549" d="M730.2 206l4.1 1.2 2.7-3.6-4.1-1.1z"/><path color="#e2e418" d="M874.1 193.4l4.2 1.2 2.5-.9-4.2-1z"/><path color="#6ccd5a" d="M948.6 208.1l4.3 1.1 2.3-.3-4.3-.8z"/><path color="#eae51a" d="M863.1 192.6l4.2.9 2.5-1-4.2-.8z"/><path color="#67cc5c" d="M959.5 209.6l4.4.5 2.3-1.4-4.3-.1z"/><path color="#bddf26" d="M990.8 200.1l4.5-.7 2.3-3.3-4.4 1z"/><path color="#a0da39" d="M984.1 203.5l4.4-.5 2.3-2.9-4.4.7z"/><path color="#a8db34" d="M747.9 202.2l4.2 1.1 2.7-3.6-4.2-1z"/><path color="#f6e620" d="M801.3 192.1l4.2 1 2.6-2.3-4.2-1z"/><path color="#addc30" d="M911.3 199.8l4.3 1.3 2.4-.5-4.3-1.2z"/><path color="#89d548" d="M977.3 206.4l4.4-.3 2.4-2.6-4.4.5z"/><path color="#77d153" d="M723.4 208.3l4.1 1.2 2.7-3.5-4.1-1.1z"/><path color="#cae11f" d="M765.7 198.2l4.2 1 2.6-3.5-4.1-.9z"/><path color="#7fd34e" d="M937.6 205.5l4.3 1.3 2.3.1-4.3-1.2z"/><path color="#f6e620" d="M812.3 191.9l4.2 1.1 2.6-1.7-4.2-1.2z"/><path color="#f1e51d" d="M823.3 192.5l4.2 1.1 2.6-1.6-4.2-.9z"/><path color="#e7e419" d="M783.5 194.6l4.2 1 2.6-2.9-4.2-1z"/><path color="#c2df23" d="M900.3 197.9l4.3 1.3 2.5-.7-4.3-1.2z"/><path color="#95d840" d="M741.1 204.7l4.2 1.1 2.6-3.6-4.1-1z"/><path color="#f1e51d" d="M834.3 192.9l4.2.9 2.6-1.6-4.2-.8z"/><path color="#77d153" d="M970.6 208.7l4.4-.1 2.3-2.2-4.4.3z"/><path color="#d2e21b" d="M889.3 196.1l4.3 1.3 2.5-.8-4.3-1.2z"/><path color="#bade28" d="M758.9 200.7l4.2 1 2.6-3.5-4.1-1z"/><path color="#f1e51d" d="M845.3 193l4.2.8 2.6-1.5-4.3-.7z"/><path color="#98d83e" d="M926.6 203.2l4.3 1.3 2.4-.3-4.3-1.2z"/><path color="#6ccd5a" d="M716.5 210.5l4.2 1.3 2.7-3.5-4.2-1.2z"/><path color="#efe51c" d="M794.5 193.7l4.2 1 2.6-2.6-4.2-1z"/><path color="#86d549" d="M734.3 207.2l4.2 1.1 2.6-3.6-4.1-1.1z"/><path color="#dae319" d="M776.7 196.8l4.2 1 2.6-3.2-4.2-1z"/><path color="#e2e418" d="M878.3 194.6l4.3 1.2 2.5-1-4.3-1.1z"/><path color="#f1e51d" d="M856.3 193.1l4.3.8 2.5-1.3-4.3-.7z"/><path color="#6ece58" d="M952.9 209.2l4.3 1.1 2.3-.7-4.3-.7z"/><path color="#ece51b" d="M867.3 193.5l4.3 1.1 2.5-1.2-4.3-.9z"/><path color="#addc30" d="M915.6 201.1l4.3 1.5 2.4-.7-4.3-1.3z"/><path color="#a8db34" d="M752.1 203.3l4.1 1 2.7-3.6-4.1-1z"/><path color="#f6e620" d="M805.5 193.1l4.2 1.1 2.6-2.3-4.2-1.1z"/><path color="#6ece58" d="M963.9 210.1l4.4.4 2.3-1.8-4.4 0z"/><path color="#7fd34e" d="M941.9 206.8l4.3 1.3 2.4 0-4.4-1.2z"/><path color="#77d153" d="M727.5 209.5l4.1 1.2 2.7-3.5-4.1-1.2z"/><path color="#f6e620" d="M816.5 193l4.2 1.1 2.6-1.6-4.2-1.2z"/><path color="#cde11d" d="M769.9 199.2l4.1 1 2.7-3.4-4.2-1.1z"/><path color="#c0df25" d="M904.6 199.2l4.3 1.5 2.4-.9-4.2-1.3z"/><path color="#f1e51d" d="M827.5 193.6l4.2 1.1 2.6-1.8-4.2-.9z"/><path color="#e7e419" d="M787.7 195.6l4.2 1 2.6-2.9-4.2-1z"/><path color="#98d83e" d="M745.3 205.8l4.1 1.1 2.7-3.6-4.2-1.1z"/><path color="#b2dd2d" d="M988.5 203l4.4-.4 2.4-3.2-4.5.7z"/><path color="#f4e61e" d="M838.5 193.8l4.3.9 2.5-1.7-4.2-.8z"/><path color="#d2e21b" d="M893.6 197.4l4.3 1.5 2.4-1-4.2-1.3z"/><path color="#98d83e" d="M981.7 206.1l4.4-.2 2.4-2.9-4.4.5z"/><path color="#95d840" d="M930.9 204.5l4.3 1.4 2.4-.4-4.3-1.3z"/><path color="#6ccd5a" d="M720.7 211.8l4.1 1.2 2.7-3.5-4.1-1.2z"/><path color="#bade28" d="M763.1 201.7l4.1 1.1 2.7-3.6-4.2-1z"/><path color="#f1e51d" d="M798.7 194.7l4.2 1.1 2.6-2.7-4.2-1z"/><path color="#f4e61e" d="M849.5 193.8l4.3.8 2.5-1.5-4.2-.8z"/><path color="#e2e418" d="M882.6 195.8l4.3 1.4 2.4-1.1-4.2-1.3z"/><path color="#86d549" d="M738.5 208.3l4.1 1.1 2.7-3.6-4.2-1.1z"/><path color="#dde318" d="M780.9 197.8l4.1 1 2.7-3.2-4.2-1z"/><path color="#f4e61e" d="M860.6 193.9l4.2 1 2.5-1.4-4.2-.9z"/><path color="#efe51c" d="M871.6 194.6l4.3 1.2 2.4-1.2-4.2-1.2z"/><path color="#86d549" d="M975 208.6l4.4 0 2.3-2.5-4.4.3z"/><path color="#aadc32" d="M919.9 202.6l4.3 1.4 2.4-.8-4.3-1.3z"/><path color="#70cf57" d="M957.2 210.3l4.4 1 2.3-1.2-4.4-.5z"/><path color="#aadc32" d="M756.2 204.3l4.2 1.1 2.7-3.7-4.2-1z"/><path color="#f6e620" d="M809.7 194.2l4.2 1.1 2.6-2.3-4.2-1.1z"/><path color="#60ca60" d="M713.8 213.9l4.1 1.2 2.8-3.3-4.2-1.3z"/><path color="#7fd34e" d="M946.2 208.1l4.4 1.3 2.3-.2-4.3-1.1z"/><path color="#77d153" d="M731.6 210.7l4.2 1.1 2.7-3.5-4.2-1.1z"/><path color="#f6e620" d="M820.7 194.1l4.2 1.3 2.6-1.8-4.2-1.1z"/><path color="#bddf26" d="M908.9 200.7l4.3 1.5 2.4-1.1-4.3-1.3z"/><path color="#cde11d" d="M774 200.2l4.2 1.1 2.7-3.5-4.2-1z"/><path color="#eae51a" d="M791.9 196.6l4.2 1.1 2.6-3-4.2-1z"/><path color="#f4e61e" d="M831.7 194.7l4.3 1 2.5-1.9-4.2-.9z"/><path color="#77d153" d="M968.3 210.5l4.3.3 2.4-2.2-4.4.1z"/><path color="#98d83e" d="M749.4 206.9l4.2 1 2.6-3.6-4.1-1z"/><path color="#d0e11c" d="M897.9 198.9l4.3 1.5 2.4-1.2-4.3-1.3z"/><path color="#93d741" d="M935.2 205.9l4.3 1.5 2.4-.6-4.3-1.3z"/><path color="#f6e620" d="M842.8 194.7l4.2.9 2.5-1.8-4.2-.8z"/><path color="#6ccd5a" d="M724.8 213l4.1 1.1 2.7-3.4-4.1-1.2z"/><path color="#bddf26" d="M767.2 202.8l4.2 1 2.6-3.6-4.1-1z"/><path color="#dfe318" d="M886.9 197.2l4.3 1.5 2.4-1.3-4.3-1.3z"/><path color="#f1e51d" d="M802.9 195.8l4.2 1.1 2.6-2.7-4.2-1.1z"/><path color="#89d548" d="M742.6 209.4l4.1 1.1 2.7-3.6-4.1-1.1z"/><path color="#f8e621" d="M853.8 194.6l4.2 1 2.6-1.7-4.3-.8z"/><path color="#dde318" d="M785 198.8l4.2 1.1 2.7-3.3-4.2-1z"/><path color="#a8db34" d="M924.2 204l4.3 1.5 2.4-1-4.3-1.3z"/><path color="#ece51b" d="M875.9 195.8l4.2 1.4 2.5-1.4-4.3-1.2z"/><path color="#f6e620" d="M864.8 194.9l4.3 1.2 2.5-1.5-4.3-1.1z"/><path color="#a8db34" d="M986.1 205.9l4.5-.2 2.3-3.1-4.4.4z"/><path color="#aadc32" d="M760.4 205.4l4.2 1 2.6-3.6-4.1-1.1z"/><path color="#f6e620" d="M813.9 195.3l4.2 1.1 2.6-2.3-4.2-1.1z"/><path color="#75d054" d="M961.6 211.3l4.3.8 2.4-1.6-4.4-.4z"/><path color="#60ca60" d="M717.9 215.1l4.2 1.2 2.7-3.3-4.1-1.2z"/><path color="#bade28" d="M913.2 202.2l4.3 1.5 2.4-1.1-4.3-1.5z"/><path color="#7cd250" d="M950.6 209.4l4.3 1.3 2.3-.4-4.3-1.1z"/><path color="#f6e620" d="M824.9 195.4l4.2 1.3 2.6-2-4.2-1.1z"/><path color="#7ad151" d="M735.8 211.8l4.1 1.1 2.7-3.5-4.1-1.1z"/><path color="#93d741" d="M979.4 208.6l4.4.1 2.3-2.8-4.4.2z"/><path color="#d0e11c" d="M778.2 201.3l4.2 1.1 2.6-3.6-4.1-1z"/><path color="#eae51a" d="M796.1 197.7l4.2 1.1 2.6-3-4.2-1.1z"/><path color="#cae11f" d="M902.2 200.4l4.3 1.6 2.4-1.3-4.3-1.5z"/><path color="#f6e620" d="M836 195.7l4.2 1 2.6-2-4.3-.9z"/><path color="#9bd93c" d="M753.6 207.9l4.1 1.1 2.7-3.6-4.2-1.1z"/><path color="#90d743" d="M939.5 207.4l4.4 1.4 2.3-.7-4.3-1.3z"/><path color="#dae319" d="M891.2 198.7l4.2 1.6 2.5-1.4-4.3-1.5z"/><path color="#6ccd5a" d="M728.9 214.1l4.2 1.1 2.7-3.4-4.2-1.1z"/><path color="#56c667" d="M711.1 217.1l4.1 1.2 2.7-3.2-4.1-1.2z"/><path color="#f8e621" d="M847 195.6l4.2 1 2.6-2-4.3-.8z"/><path color="#84d44b" d="M972.6 210.8l4.4.3 2.4-2.5-4.4 0z"/><path color="#bddf26" d="M771.4 203.8l4.2 1.1 2.6-3.6-4.2-1.1z"/><path color="#f1e51d" d="M807.1 196.9l4.2 1.2 2.6-2.8-4.2-1.1z"/><path color="#a5db36" d="M928.5 205.5l4.3 1.6 2.4-1.2-4.3-1.4z"/><path color="#eae51a" d="M880.1 197.2l4.3 1.6 2.5-1.6-4.3-1.4z"/><path color="#89d548" d="M746.7 210.5l4.2 1 2.7-3.6-4.2-1z"/><path color="#dde318" d="M789.2 199.9l4.2 1.1 2.7-3.3-4.2-1.1z"/><path color="#f8e621" d="M858 195.6l4.3 1.1 2.5-1.8-4.2-1z"/><path color="#f4e61e" d="M869.1 196.1l4.2 1.4 2.6-1.7-4.3-1.2z"/><path color="#b5de2b" d="M917.5 203.7l4.3 1.7 2.4-1.4-4.3-1.4z"/><path color="#f6e620" d="M818.1 196.4l4.2 1.2 2.6-2.2-4.2-1.3z"/><path color="#addc30" d="M764.6 206.4l4.1 1.1 2.7-3.7-4.2-1z"/><path color="#60ca60" d="M722.1 216.3l4.1 1.1 2.7-3.3-4.1-1.1z"/><path color="#7cd250" d="M954.9 210.7l4.3 1.4 2.4-.8-4.4-1z"/><path color="#f6e620" d="M829.1 196.7l4.3 1.2 2.6-2.2-4.3-1z"/><path color="#7ad151" d="M739.9 212.9l4.2 1.1 2.6-3.5-4.1-1.1z"/><path color="#7ad151" d="M965.9 212.1l4.4.7 2.3-2-4.3-.3z"/><path color="#c8e020" d="M906.5 202l4.3 1.7 2.4-1.5-4.3-1.5z"/><path color="#d0e11c" d="M782.4 202.4l4.2 1.1 2.6-3.6-4.2-1.1z"/><path color="#eae51a" d="M800.3 198.8l4.2 1.2 2.6-3.1-4.2-1.1z"/><path color="#8ed645" d="M943.9 208.8l4.3 1.5 2.4-.9-4.4-1.3z"/><path color="#f8e621" d="M840.2 196.7l4.2 1 2.6-2.1-4.2-.9z"/><path color="#9bd93c" d="M757.7 209l4.2 1.1 2.7-3.7-4.2-1z"/><path color="#d8e219" d="M895.4 200.3l4.3 1.7 2.5-1.6-4.3-1.5z"/><path color="#a0da39" d="M983.8 208.7l4.4 0 2.4-3-4.5.2z"/><path color="#56c667" d="M715.2 218.3l4.1 1.1 2.8-3.1-4.2-1.2z"/><path color="#6ccd5a" d="M733.1 215.2l4.1 1.1 2.7-3.4-4.1-1.1z"/><path color="#a0da39" d="M932.8 207.1l4.4 1.6 2.3-1.3-4.3-1.5z"/><path color="#e7e419" d="M884.4 198.8l4.3 1.6 2.5-1.7-4.3-1.5z"/><path color="#fbe723" d="M851.2 196.6l4.3 1 2.5-2-4.2-1z"/><path color="#c0df25" d="M775.6 204.9l4.2 1.1 2.6-3.6-4.2-1.1z"/><path color="#f1e51d" d="M811.3 198.1l4.2 1.1 2.6-2.8-4.2-1.1z"/><path color="#f1e51d" d="M873.3 197.5l4.3 1.5 2.5-1.8-4.2-1.4z"/><path color="#89d548" d="M750.9 211.5l4.2 1.1 2.6-3.6-4.1-1.1z"/><path color="#f8e621" d="M862.3 196.7l4.3 1.3 2.5-1.9-4.3-1.2z"/><path color="#dfe318" d="M793.4 201l4.2 1.2 2.7-3.4-4.2-1.1z"/><path color="#b2dd2d" d="M921.8 205.4l4.3 1.6 2.4-1.5-4.3-1.5z"/><path color="#8ed645" d="M977 211.1l4.4.3 2.4-2.7-4.4-.1z"/><path color="#f6e620" d="M822.3 197.6l4.3 1.3 2.5-2.2-4.2-1.3z"/><path color="#addc30" d="M768.7 207.5l4.2 1.1 2.7-3.7-4.2-1.1z"/><path color="#60ca60" d="M726.2 217.4l4.2 1.1 2.7-3.3-4.2-1.1z"/><path color="#c2df23" d="M910.8 203.7l4.3 1.7 2.4-1.7-4.3-1.5z"/><path color="#7fd34e" d="M959.2 212.1l4.4 1.2 2.3-1.2-4.3-.8z"/><path color="#f6e620" d="M833.4 197.9l4.2 1.1 2.6-2.3-4.2-1z"/><path color="#4ec36b" d="M708.3 220l4.2 1.2 2.7-2.9-4.1-1.2z"/><path color="#7ad151" d="M744.1 214l4.1 1.1 2.7-3.6-4.2-1z"/><path color="#d0e11c" d="M786.6 203.5l4.2 1.1 2.6-3.6-4.2-1.1z"/><path color="#eae51a" d="M804.5 200l4.2 1.2 2.6-3.1-4.2-1.2z"/><path color="#8ed645" d="M948.2 210.3l4.3 1.4 2.4-1-4.3-1.3z"/><path color="#d2e21b" d="M899.7 202l4.3 1.8 2.5-1.8-4.3-1.6z"/><path color="#81d34d" d="M970.3 212.8l4.4.6 2.3-2.3-4.4-.3z"/><path color="#9bd93c" d="M761.9 210.1l4.2 1.1 2.6-3.7-4.1-1.1z"/><path color="#f8e621" d="M844.4 197.7l4.3 1.1 2.5-2.2-4.2-1z"/><path color="#dfe318" d="M888.7 200.4l4.3 1.8 2.4-1.9-4.2-1.6z"/><path color="#9dd93b" d="M937.2 208.7l4.3 1.5 2.4-1.4-4.4-1.4z"/><path color="#56c667" d="M719.3 219.4l4.2 1.2 2.7-3.2-4.1-1.1z"/><path color="#6ccd5a" d="M737.2 216.3l4.2 1.1 2.7-3.4-4.2-1.1z"/><path color="#fbe723" d="M855.5 197.6l4.3 1.2 2.5-2.1-4.3-1.1z"/><path color="#c0df25" d="M779.8 206l4.2 1.2 2.6-3.7-4.2-1.1z"/><path color="#efe51c" d="M877.6 199l4.3 1.7 2.5-1.9-4.3-1.6z"/><path color="#f1e51d" d="M815.5 199.2l4.2 1.3 2.6-2.9-4.2-1.2z"/><path color="#f6e620" d="M866.6 198l4.2 1.5 2.5-2-4.2-1.4z"/><path color="#addc30" d="M926.1 207l4.3 1.8 2.4-1.7-4.3-1.6z"/><path color="#8bd646" d="M755.1 212.6l4.1 1.1 2.7-3.6-4.2-1.1z"/><path color="#dfe318" d="M797.6 202.2l4.2 1.2 2.7-3.4-4.2-1.2z"/><path color="#f4e61e" d="M826.6 198.9l4.2 1.3 2.6-2.3-4.3-1.2z"/><path color="#bddf26" d="M915.1 205.4l4.3 1.8 2.4-1.8-4.3-1.7z"/><path color="#addc30" d="M772.9 208.6l4.2 1.1 2.7-3.7-4.2-1.1z"/><path color="#60ca60" d="M730.4 218.5l4.1 1.1 2.7-3.3-4.1-1.1z"/><path color="#98d83e" d="M981.4 211.4l4.4.3 2.4-3-4.4 0z"/><path color="#7fd34e" d="M963.6 213.3l4.3 1.2 2.4-1.7-4.4-.7z"/><path color="#4ec36b" d="M712.5 221.2l4.1 1.2 2.7-3-4.1-1.1z"/><path color="#cae11f" d="M904 203.8l4.3 1.9 2.5-2-4.3-1.7z"/><path color="#f6e620" d="M837.6 199l4.3 1.2 2.5-2.5-4.2-1z"/><path color="#7cd250" d="M748.2 215.1l4.2 1.1 2.7-3.6-4.2-1.1z"/><path color="#8bd646" d="M952.5 211.7l4.4 1.5 2.3-1.1-4.3-1.4z"/><path color="#d0e11c" d="M790.8 204.6l4.2 1.2 2.6-3.6-4.2-1.2z"/><path color="#eae51a" d="M808.7 201.2l4.2 1.2 2.6-3.2-4.2-1.1z"/><path color="#dae319" d="M893 202.2l4.3 1.9 2.4-2.1-4.3-1.7z"/><path color="#9dd93b" d="M766.1 211.2l4.2 1.1 2.6-3.7-4.2-1.1z"/><path color="#98d83e" d="M941.5 210.2l4.3 1.7 2.4-1.6-4.3-1.5z"/><path color="#fbe723" d="M848.7 198.8l4.3 1.2 2.5-2.4-4.3-1z"/><path color="#eae51a" d="M881.9 200.7l4.3 1.9 2.5-2.2-4.3-1.6z"/><path color="#89d548" d="M974.7 213.4l4.4.6 2.3-2.6-4.4-.3z"/><path color="#56c667" d="M723.5 220.6l4.1 1.1 2.8-3.2-4.2-1.1z"/><path color="#a8db34" d="M930.4 208.8l4.4 1.7 2.4-1.8-4.4-1.6z"/><path color="#fbe723" d="M859.8 198.8l4.2 1.5 2.6-2.3-4.3-1.3z"/><path color="#f4e61e" d="M870.8 199.5l4.3 1.7 2.5-2.2-4.3-1.5z"/><path color="#6ece58" d="M741.4 217.4l4.1 1.1 2.7-3.4-4.1-1.1z"/><path color="#f1e51d" d="M819.7 200.5l4.3 1.2 2.6-2.8-4.3-1.3z"/><path color="#c0df25" d="M784 207.2l4.2 1.1 2.6-3.7-4.2-1.1z"/><path color="#48c16e" d="M705.6 222.8l4.1 1.2 2.8-2.8-4.2-1.2z"/><path color="#b5de2b" d="M919.4 207.2l4.3 1.9 2.4-2.1-4.3-1.6z"/><path color="#dde318" d="M801.8 203.4l4.3 1.2 2.6-3.4-4.2-1.2z"/><path color="#8bd646" d="M759.2 213.7l4.2 1.1 2.7-3.6-4.2-1.1z"/><path color="#f4e61e" d="M830.8 200.2l4.3 1.4 2.5-2.6-4.2-1.1z"/><path color="#c5e021" d="M908.3 205.7l4.3 1.9 2.5-2.2-4.3-1.7z"/><path color="#addc30" d="M777.1 209.7l4.2 1.1 2.7-3.6-4.2-1.2z"/><path color="#60ca60" d="M734.5 219.6l4.2 1.1 2.7-3.3-4.2-1.1z"/><path color="#4ec36b" d="M716.6 222.4l4.1 1.2 2.8-3-4.2-1.2z"/><path color="#d2e21b" d="M897.3 204.1l4.2 1.9 2.5-2.2-4.3-1.8z"/><path color="#f6e620" d="M841.9 200.2l4.2 1.1 2.6-2.5-4.3-1.1z"/><path color="#89d548" d="M956.9 213.2l4.3 1.4 2.4-1.3-4.4-1.2z"/><path color="#84d44b" d="M967.9 214.5l4.4 1.1 2.4-2.2-4.4-.6z"/><path color="#7cd250" d="M752.4 216.2l4.2 1 2.6-3.5-4.1-1.1z"/><path color="#d0e11c" d="M795 205.8l4.2 1.2 2.6-3.6-4.2-1.2z"/><path color="#eae51a" d="M812.9 202.4l4.2 1.2 2.6-3.1-4.2-1.3z"/><path color="#95d840" d="M945.8 211.9l4.4 1.6 2.3-1.8-4.3-1.4z"/><path color="#e2e418" d="M886.2 202.6l4.3 1.9 2.5-2.3-4.3-1.8z"/><path color="#fbe723" d="M853 200l4.2 1.3 2.6-2.5-4.3-1.2z"/><path color="#9dd93b" d="M770.3 212.3l4.2 1.1 2.6-3.7-4.2-1.1z"/><path color="#a2da37" d="M934.8 210.5l4.3 1.8 2.4-2.1-4.3-1.5z"/><path color="#efe51c" d="M875.1 201.2l4.3 1.9 2.5-2.4-4.3-1.7z"/><path color="#f6e620" d="M864 200.3l4.3 1.7 2.5-2.5-4.2-1.5z"/><path color="#56c667" d="M727.6 221.7l4.2 1.2 2.7-3.3-4.1-1.1z"/><path color="#efe51c" d="M824 201.7l4.2 1.3 2.6-2.8-4.2-1.3z"/><path color="#b0dd2f" d="M923.7 209.1l4.3 1.8 2.4-2.1-4.3-1.8z"/><path color="#6ece58" d="M745.5 218.5l4.2 1.1 2.7-3.4-4.2-1.1z"/><path color="#c0df25" d="M788.2 208.3l4.2 1.2 2.6-3.7-4.2-1.2z"/><path color="#90d743" d="M979.1 214l4.4.6 2.3-2.9-4.4-.3z"/><path color="#48c16e" d="M709.7 224l4.1 1.2 2.8-2.8-4.1-1.2z"/><path color="#dde318" d="M806.1 204.6l4.2 1.2 2.6-3.4-4.2-1.2z"/><path color="#bddf26" d="M912.6 207.6l4.3 1.9 2.5-2.3-4.3-1.8z"/><path color="#8bd646" d="M763.4 214.8l4.2 1.1 2.7-3.6-4.2-1.1z"/><path color="#f1e51d" d="M835.1 201.6l4.2 1.3 2.6-2.7-4.3-1.2z"/><path color="#cde11d" d="M901.5 206l4.3 2 2.5-2.3-4.3-1.9z"/><path color="#addc30" d="M781.3 210.8l4.2 1.2 2.7-3.7-4.2-1.1z"/><path color="#63cb5f" d="M738.7 220.7l4.1 1.2 2.7-3.4-4.1-1.1z"/><path color="#4ec36b" d="M720.7 223.6l4.2 1.3 2.7-3.2-4.1-1.1z"/><path color="#86d549" d="M961.2 214.6l4.4 1.4 2.3-1.5-4.3-1.2z"/><path color="#dae319" d="M890.5 204.5l4.3 2 2.5-2.4-4.3-1.9z"/><path color="#f6e620" d="M846.1 201.3l4.3 1.3 2.6-2.6-4.3-1.2z"/><path color="#e7e419" d="M817.1 203.6l4.3 1.3 2.6-3.2-4.3-1.2z"/><path color="#90d743" d="M950.2 213.5l4.3 1.6 2.4-1.9-4.4-1.5z"/><path color="#d0e11c" d="M799.2 207l4.2 1.2 2.7-3.6-4.3-1.2z"/><path color="#7cd250" d="M756.6 217.2l4.2 1.1 2.6-3.5-4.2-1.1z"/><path color="#e7e419" d="M879.4 203.1l4.3 1.9 2.5-2.4-4.3-1.9z"/><path color="#86d549" d="M972.3 215.6l4.4.9 2.4-2.5-4.4-.6z"/><path color="#9dd93b" d="M939.1 212.3l4.3 1.7 2.4-2.1-4.3-1.7z"/><path color="#f6e620" d="M857.2 201.3l4.3 1.6 2.5-2.6-4.2-1.5z"/><path color="#f1e51d" d="M868.3 202l4.3 1.8 2.5-2.6-4.3-1.7z"/><path color="#a8db34" d="M928 210.9l4.3 1.9 2.5-2.3-4.4-1.7z"/><path color="#9dd93b" d="M774.5 213.4l4.2 1.1 2.6-3.7-4.2-1.1z"/><path color="#46c06f" d="M702.8 225.2l4.1 1.1 2.8-2.3-4.1-1.2z"/><path color="#efe51c" d="M828.2 203l4.3 1.4 2.6-2.8-4.3-1.4z"/><path color="#56c667" d="M731.8 222.9l4.2 1.3 2.7-3.5-4.2-1.1z"/><path color="#b5de2b" d="M916.9 209.5l4.3 1.9 2.5-2.3-4.3-1.9z"/><path color="#c0df25" d="M792.4 209.5l4.2 1.1 2.6-3.6-4.2-1.2z"/><path color="#6ece58" d="M749.7 219.6l4.2 1.2 2.7-3.6-4.2-1z"/><path color="#48c16e" d="M713.8 225.2l4.2 1.3 2.7-2.9-4.1-1.2z"/><path color="#dde318" d="M810.3 205.8l4.2 1.3 2.6-3.5-4.2-1.2z"/><path color="#c5e021" d="M905.8 208l4.4 1.9 2.4-2.3-4.3-1.9z"/><path color="#f1e51d" d="M839.3 202.9l4.3 1.3 2.5-2.9-4.2-1.1z"/><path color="#8ed645" d="M767.6 215.9l4.2 1.1 2.7-3.6-4.2-1.1z"/><path color="#d2e21b" d="M894.8 206.5l4.3 1.9 2.4-2.4-4.2-1.9z"/><path color="#b0dd2f" d="M785.5 212l4.2 1.1 2.7-3.6-4.2-1.2z"/><path color="#dfe318" d="M883.7 205l4.3 2 2.5-2.5-4.3-1.9z"/><path color="#4ec36b" d="M724.9 224.9l4.2 1.4 2.7-3.4-4.2-1.2z"/><path color="#86d549" d="M965.6 216l4.4 1.4 2.3-1.8-4.4-1.1z"/><path color="#63cb5f" d="M742.8 221.9l4.2 1.3 2.7-3.6-4.2-1.1z"/><path color="#f6e620" d="M850.4 202.6l4.3 1.5 2.5-2.8-4.2-1.3z"/><path color="#8ed645" d="M954.5 215.1l4.4 1.6 2.3-2.1-4.3-1.4z"/><path color="#e7e419" d="M821.4 204.9l4.2 1.4 2.6-3.3-4.2-1.3z"/><path color="#98d83e" d="M943.4 214l4.4 1.8 2.4-2.3-4.4-1.6z"/><path color="#eae51a" d="M872.6 203.8l4.3 1.9 2.5-2.6-4.3-1.9z"/><path color="#d0e11c" d="M803.4 208.2l4.3 1.2 2.6-3.6-4.2-1.2z"/><path color="#f4e61e" d="M861.5 202.9l4.3 1.8 2.5-2.7-4.3-1.7z"/><path color="#7fd34e" d="M760.8 218.3l4.1 1.2 2.7-3.6-4.2-1.1z"/><path color="#a2da37" d="M932.3 212.8l4.4 1.8 2.4-2.3-4.3-1.8z"/><path color="#addc30" d="M921.2 211.4l4.4 1.9 2.4-2.4-4.3-1.8z"/><path color="#8bd646" d="M976.7 216.5l4.4.9 2.4-2.8-4.4-.6z"/><path color="#46c06f" d="M706.9 226.3l4.2 1.2 2.7-2.3-4.1-1.2z"/><path color="#9dd93b" d="M778.7 214.5l4.2 1.1 2.6-3.6-4.2-1.2z"/><path color="#ece51b" d="M832.5 204.4l4.2 1.4 2.6-2.9-4.2-1.3z"/><path color="#bade28" d="M910.2 209.9l4.3 2 2.4-2.4-4.3-1.9z"/><path color="#56c667" d="M736 224.2l4.1 1.4 2.7-3.7-4.1-1.2z"/><path color="#c0df25" d="M796.6 210.6l4.2 1.2 2.6-3.6-4.2-1.2z"/><path color="#6ece58" d="M753.9 220.8l4.2 1.3 2.7-3.8-4.2-1.1z"/><path color="#48c16e" d="M718 226.5l4.2 1.3 2.7-2.9-4.2-1.3z"/><path color="#dae319" d="M814.5 207.1l4.3 1.3 2.6-3.5-4.3-1.3z"/><path color="#cae11f" d="M899.1 208.4l4.3 2 2.4-2.4-4.3-2z"/><path color="#f1e51d" d="M843.6 204.2l4.2 1.4 2.6-3-4.3-1.3z"/><path color="#8ed645" d="M771.8 217l4.2 1.2 2.7-3.7-4.2-1.1z"/><path color="#d8e219" d="M888 207l4.3 2 2.5-2.5-4.3-2z"/><path color="#e2e418" d="M876.9 205.7l4.3 2 2.5-2.7-4.3-1.9z"/><path color="#f1e51d" d="M854.7 204.1l4.2 1.7 2.6-2.9-4.3-1.6z"/><path color="#8bd646" d="M958.9 216.7l4.3 1.5 2.4-2.2-4.4-1.4z"/><path color="#93d741" d="M947.8 215.8l4.3 1.7 2.4-2.4-4.3-1.6z"/><path color="#b0dd2f" d="M789.7 213.1l4.3 1.2 2.6-3.7-4.2-1.1z"/><path color="#ece51b" d="M865.8 204.7l4.3 1.9 2.5-2.8-4.3-1.8z"/><path color="#4cc26c" d="M729.1 226.3l4.1 1.3 2.8-3.4-4.2-1.3z"/><path color="#60ca60" d="M747 223.2l4.2 1.4 2.7-3.8-4.2-1.2z"/><path color="#86d549" d="M970 217.4l4.3 1.4 2.4-2.3-4.4-.9z"/><path color="#9bd93c" d="M936.7 214.6l4.3 1.8 2.4-2.4-4.3-1.7z"/><path color="#e5e419" d="M825.6 206.3l4.3 1.4 2.6-3.3-4.3-1.4z"/><path color="#cde11d" d="M807.7 209.4l4.2 1.3 2.6-3.6-4.2-1.3z"/><path color="#a8db34" d="M925.6 213.3l4.3 1.9 2.4-2.4-4.3-1.9z"/><path color="#44bf70" d="M700 227.5l4.1 1.1 2.8-2.3-4.1-1.1z"/><path color="#7fd34e" d="M764.9 219.5l4.2 1.3 2.7-3.8-4.2-1.1z"/><path color="#b2dd2d" d="M914.5 211.9l4.3 1.9 2.4-2.4-4.3-1.9z"/><path color="#44bf70" d="M711.1 227.5l4.1 1.2 2.8-2.2-4.2-1.3z"/><path color="#eae51a" d="M836.7 205.8l4.3 1.4 2.6-3-4.3-1.3z"/><path color="#9dd93b" d="M782.9 215.6l4.2 1.3 2.6-3.8-4.2-1.1z"/><path color="#c2df23" d="M903.4 210.4l4.3 1.9 2.5-2.4-4.4-1.9z"/><path color="#56c667" d="M740.1 225.6l4.2 1.4 2.7-3.8-4.2-1.3z"/><path color="#bddf26" d="M800.8 211.8l4.3 1.3 2.6-3.7-4.3-1.2z"/><path color="#6ece58" d="M758.1 222.1l4.2 1.4 2.6-4-4.1-1.2z"/><path color="#d0e11c" d="M892.3 209l4.3 1.9 2.5-2.5-4.3-1.9z"/><path color="#dae319" d="M818.8 208.4l4.2 1.4 2.6-3.5-4.2-1.4z"/><path color="#46c06f" d="M722.2 227.8l4.1 1.3 2.8-2.8-4.2-1.4z"/><path color="#efe51c" d="M847.8 205.6l4.3 1.6 2.6-3.1-4.3-1.5z"/><path color="#dae319" d="M881.2 207.7l4.3 1.9 2.5-2.6-4.3-2z"/><path color="#8ed645" d="M776 218.2l4.2 1.4 2.7-4-4.2-1.1z"/><path color="#ece51b" d="M858.9 205.8l4.3 1.8 2.6-2.9-4.3-1.8z"/><path color="#e5e419" d="M870.1 206.6l4.2 1.9 2.6-2.8-4.3-1.9z"/><path color="#8ed645" d="M952.1 217.5l4.4 1.6 2.4-2.4-4.4-1.6z"/><path color="#95d840" d="M941 216.4l4.3 1.7 2.5-2.3-4.4-1.8z"/><path color="#86d549" d="M963.2 218.2l4.4 1.6 2.4-2.4-4.4-1.4z"/><path color="#4cc26c" d="M733.2 227.6l4.2 1.4 2.7-3.4-4.1-1.4z"/><path color="#a0da39" d="M929.9 215.2l4.3 1.8 2.5-2.4-4.4-1.8z"/><path color="#addc30" d="M794 214.3l4.2 1.3 2.6-3.8-4.2-1.2z"/><path color="#60ca60" d="M751.2 224.6l4.2 1.5 2.7-4-4.2-1.3z"/><path color="#e2e418" d="M829.9 207.7l4.2 1.4 2.6-3.3-4.2-1.4z"/><path color="#86d549" d="M974.3 218.8l4.4 1.2 2.4-2.6-4.4-.9z"/><path color="#cde11d" d="M811.9 210.7l4.3 1.3 2.6-3.6-4.3-1.3z"/><path color="#addc30" d="M918.8 213.8l4.3 1.8 2.5-2.3-4.4-1.9z"/><path color="#7cd250" d="M769.1 220.8l4.3 1.5 2.6-4.1-4.2-1.2z"/><path color="#44bf70" d="M704.1 228.6l4.2 1.1 2.8-2.2-4.2-1.2z"/><path color="#b8de29" d="M907.7 212.3l4.3 1.9 2.5-2.3-4.3-2z"/><path color="#e7e419" d="M841 207.2l4.3 1.5 2.5-3.1-4.2-1.4z"/><path color="#44bf70" d="M715.2 228.7l4.2 1.3 2.8-2.2-4.2-1.3z"/><path color="#9dd93b" d="M787.1 216.9l4.2 1.4 2.7-4-4.3-1.2z"/><path color="#c5e021" d="M896.6 210.9l4.3 1.9 2.5-2.4-4.3-2z"/><path color="#54c568" d="M744.3 227l4.2 1.4 2.7-3.8-4.2-1.4z"/><path color="#d2e21b" d="M885.5 209.6l4.3 1.9 2.5-2.5-4.3-2z"/><path color="#bddf26" d="M805.1 213.1l4.2 1.4 2.6-3.8-4.2-1.3z"/><path color="#6ccd5a" d="M762.3 223.5l4.2 1.5 2.6-4.2-4.2-1.3z"/><path color="#eae51a" d="M852.1 207.2l4.3 1.7 2.5-3.1-4.2-1.7z"/><path color="#d8e219" d="M823 209.8l4.3 1.4 2.6-3.5-4.3-1.4z"/><path color="#46c06f" d="M726.3 229.1l4.2 1.3 2.7-2.8-4.1-1.3z"/><path color="#dde318" d="M874.3 208.5l4.3 1.8 2.6-2.6-4.3-2z"/><path color="#e5e419" d="M863.2 207.6l4.3 1.8 2.6-2.8-4.3-1.9z"/><path color="#8bd646" d="M780.2 219.6l4.3 1.4 2.6-4.1-4.2-1.3z"/><path color="#90d743" d="M945.3 218.1l4.4 1.7 2.4-2.3-4.3-1.7z"/><path color="#89d548" d="M956.5 219.1l4.3 1.6 2.4-2.5-4.3-1.5z"/><path color="#98d83e" d="M934.2 217l4.4 1.7 2.4-2.3-4.3-1.8z"/><path color="#84d44b" d="M967.6 219.8l4.4 1.4 2.3-2.4-4.3-1.4z"/><path color="#4ac16d" d="M737.4 229l4.2 1.4 2.7-3.4-4.2-1.4z"/><path color="#5ec962" d="M755.4 226.1l4.2 1.5 2.7-4.1-4.2-1.4z"/><path color="#a5db36" d="M923.1 215.6l4.4 1.8 2.4-2.2-4.3-1.9z"/><path color="#dfe318" d="M834.1 209.1l4.3 1.5 2.6-3.4-4.3-1.4z"/><path color="#42be71" d="M697.2 229.9l4.1 1 2.8-2.3-4.1-1.1z"/><path color="#addc30" d="M798.2 215.6l4.2 1.5 2.7-4-4.3-1.3z"/><path color="#cae11f" d="M816.2 212l4.2 1.5 2.6-3.7-4.2-1.4z"/><path color="#b2dd2d" d="M912 214.2l4.3 1.8 2.5-2.2-4.3-1.9z"/><path color="#7ad151" d="M773.4 222.3l4.2 1.5 2.6-4.2-4.2-1.4z"/><path color="#44bf70" d="M708.3 229.7l4.1 1.1 2.8-2.1-4.1-1.2z"/><path color="#c0df25" d="M900.9 212.8l4.3 1.8 2.5-2.3-4.3-1.9z"/><path color="#e5e419" d="M845.3 208.7l4.2 1.6 2.6-3.1-4.3-1.6z"/><path color="#9bd93c" d="M791.3 218.3l4.3 1.5 2.6-4.2-4.2-1.3z"/><path color="#cae11f" d="M889.8 211.5l4.3 1.8 2.5-2.4-4.3-1.9z"/><path color="#44bf70" d="M719.4 230l4.2 1.3 2.7-2.2-4.1-1.3z"/><path color="#52c569" d="M748.5 228.4l4.2 1.5 2.7-3.8-4.2-1.5z"/><path color="#e2e418" d="M856.4 208.9l4.3 1.7 2.5-3-4.3-1.8z"/><path color="#d5e21a" d="M878.6 210.3l4.3 1.8 2.6-2.5-4.3-1.9z"/><path color="#dfe318" d="M867.5 209.4l4.3 1.8 2.5-2.7-4.2-1.9z"/><path color="#69cd5b" d="M766.5 225l4.2 1.5 2.7-4.2-4.3-1.5z"/><path color="#bade28" d="M809.3 214.5l4.2 1.5 2.7-4-4.3-1.3z"/><path color="#d5e21a" d="M827.3 211.2l4.2 1.5 2.6-3.6-4.2-1.4z"/><path color="#44bf70" d="M730.5 230.4l4.2 1.4 2.7-2.8-4.2-1.4z"/><path color="#8bd646" d="M949.7 219.8l4.4 1.8 2.4-2.5-4.4-1.6z"/><path color="#84d44b" d="M960.8 220.7l4.4 1.6 2.4-2.5-4.4-1.6z"/><path color="#93d741" d="M938.6 218.7l4.3 1.8 2.4-2.4-4.3-1.7z"/><path color="#89d548" d="M784.5 221l4.2 1.6 2.6-4.3-4.2-1.4z"/><path color="#9dd93b" d="M927.5 217.4l4.3 1.9 2.4-2.3-4.3-1.8z"/><path color="#84d44b" d="M972 221.2l4.4 1.5 2.3-2.7-4.4-1.2z"/><path color="#5cc863" d="M759.6 227.6l4.2 1.5 2.7-4.1-4.2-1.5z"/><path color="#48c16e" d="M741.6 230.4l4.2 1.4 2.7-3.4-4.2-1.4z"/><path color="#dde318" d="M838.4 210.6l4.3 1.5 2.6-3.4-4.3-1.5z"/><path color="#aadc32" d="M802.4 217.1l4.3 1.6 2.6-4.2-4.2-1.4z"/><path color="#aadc32" d="M916.3 216l4.4 1.9 2.4-2.3-4.3-1.8z"/><path color="#c8e020" d="M820.4 213.5l4.3 1.6 2.6-3.9-4.3-1.4z"/><path color="#44bf70" d="M701.3 230.9l4.2 1.1 2.8-2.3-4.2-1.1z"/><path color="#b8de29" d="M905.2 214.6l4.3 1.9 2.5-2.3-4.3-1.9z"/><path color="#77d153" d="M777.6 223.8l4.2 1.6 2.7-4.4-4.3-1.4z"/><path color="#dfe318" d="M849.5 210.3l4.3 1.7 2.6-3.1-4.3-1.7z"/><path color="#c2df23" d="M894.1 213.3l4.3 1.9 2.5-2.4-4.3-1.9z"/><path color="#44bf70" d="M712.4 230.8l4.2 1.2 2.8-2-4.2-1.3z"/><path color="#d0e11c" d="M882.9 212.1l4.4 1.9 2.5-2.5-4.3-1.9z"/><path color="#dde318" d="M860.7 210.6l4.3 1.7 2.5-2.9-4.3-1.8z"/><path color="#98d83e" d="M795.6 219.8l4.2 1.7 2.6-4.4-4.2-1.5z"/><path color="#50c46a" d="M752.7 229.9l4.2 1.5 2.7-3.8-4.2-1.5z"/><path color="#d8e219" d="M871.8 211.2l4.3 1.8 2.5-2.7-4.3-1.8z"/><path color="#42be71" d="M723.6 231.3l4.1 1.3 2.8-2.2-4.2-1.3z"/><path color="#67cc5c" d="M770.7 226.5l4.2 1.6 2.7-4.3-4.2-1.5z"/><path color="#d0e11c" d="M831.5 212.7l4.3 1.7 2.6-3.8-4.3-1.5z"/><path color="#b8de29" d="M813.5 216l4.3 1.7 2.6-4.2-4.2-1.5z"/><path color="#42be71" d="M734.7 231.8l4.2 1.4 2.7-2.8-4.2-1.4z"/><path color="#86d549" d="M954.1 221.6l4.3 1.8 2.4-2.7-4.3-1.6z"/><path color="#8ed645" d="M942.9 220.5l4.4 1.9 2.4-2.6-4.4-1.7z"/><path color="#81d34d" d="M965.2 222.3l4.4 1.7 2.4-2.8-4.4-1.4z"/><path color="#95d840" d="M931.8 219.3l4.3 2 2.5-2.6-4.4-1.7z"/><path color="#86d549" d="M788.7 222.6l4.2 1.7 2.7-4.5-4.3-1.5z"/><path color="#40bd72" d="M694.4 232.5l4.1 1 2.8-2.6-4.1-1z"/><path color="#a2da37" d="M920.7 217.9l4.3 2 2.5-2.5-4.4-1.8z"/><path color="#58c765" d="M763.8 229.1l4.2 1.6 2.7-4.2-4.2-1.5z"/><path color="#d8e219" d="M842.7 212.1l4.3 1.6 2.5-3.4-4.2-1.6z"/><path color="#a5db36" d="M806.7 218.7l4.2 1.8 2.6-4.5-4.2-1.5z"/><path color="#46c06f" d="M745.8 231.8l4.2 1.5 2.7-3.4-4.2-1.5z"/><path color="#b0dd2f" d="M909.5 216.5l4.4 2.1 2.4-2.6-4.3-1.8z"/><path color="#c2df23" d="M824.7 215.1l4.2 1.7 2.6-4.1-4.2-1.5z"/><path color="#73d056" d="M781.8 225.4l4.2 1.7 2.7-4.5-4.2-1.6z"/><path color="#bade28" d="M898.4 215.2l4.3 2 2.5-2.6-4.3-1.8z"/><path color="#dae319" d="M853.8 212l4.3 1.8 2.6-3.2-4.3-1.7z"/><path color="#44bf70" d="M705.5 232l4.1 1.1 2.8-2.3-4.1-1.1z"/><path color="#c8e020" d="M887.3 214l4.3 2 2.5-2.7-4.3-1.8z"/><path color="#d8e219" d="M865 212.3l4.3 1.9 2.5-3-4.3-1.8z"/><path color="#d0e11c" d="M876.1 213l4.3 2 2.5-2.9-4.3-1.8z"/><path color="#93d741" d="M799.8 221.5l4.3 1.8 2.6-4.6-4.3-1.6z"/><path color="#44bf70" d="M716.6 232l4.2 1.3 2.8-2-4.2-1.3z"/><path color="#4cc26c" d="M756.9 231.4l4.2 1.5 2.7-3.8-4.2-1.5z"/><path color="#b2dd2d" d="M817.8 217.7l4.3 1.8 2.6-4.4-4.3-1.6z"/><path color="#42be71" d="M727.7 232.6l4.2 1.3 2.8-2.1-4.2-1.4z"/><path color="#63cb5f" d="M774.9 228.1l4.3 1.7 2.6-4.4-4.2-1.6z"/><path color="#cde11d" d="M835.8 214.4l4.3 1.5 2.6-3.8-4.3-1.5z"/><path color="#86d549" d="M947.3 222.4l4.3 2.1 2.5-2.9-4.4-1.8z"/><path color="#7fd34e" d="M958.4 223.4l4.4 1.9 2.4-3-4.4-1.6z"/><path color="#90d743" d="M936.1 221.3l4.4 2.1 2.4-2.9-4.3-1.8z"/><path color="#40bd72" d="M738.9 233.2l4.2 1.4 2.7-2.8-4.2-1.4z"/><path color="#7cd250" d="M969.6 224l4.4 1.7 2.4-3-4.4-1.5z"/><path color="#81d34d" d="M792.9 224.3l4.3 1.8 2.6-4.6-4.2-1.7z"/><path color="#9bd93c" d="M925 219.9l4.3 2.2 2.5-2.8-4.3-1.9z"/><path color="#a5db36" d="M913.9 218.6l4.3 2.1 2.5-2.8-4.4-1.9z"/><path color="#d2e21b" d="M847 213.7l4.3 1.6 2.5-3.3-4.3-1.7z"/><path color="#a0da39" d="M810.9 220.5l4.3 1.8 2.6-4.6-4.3-1.7z"/><path color="#56c667" d="M768 230.7l4.3 1.5 2.6-4.1-4.2-1.6z"/><path color="#44bf70" d="M750 233.3l4.2 1.4 2.7-3.3-4.2-1.5z"/><path color="#42be71" d="M698.5 233.5l4.2 1.1 2.8-2.6-4.2-1.1z"/><path color="#b2dd2d" d="M902.7 217.2l4.3 2.2 2.5-2.9-4.3-1.9z"/><path color="#bddf26" d="M828.9 216.8l4.3 1.6 2.6-4-4.3-1.7z"/><path color="#6ece58" d="M786 227.1l4.3 1.7 2.6-4.5-4.2-1.7z"/><path color="#d2e21b" d="M858.1 213.8l4.3 1.8 2.6-3.3-4.3-1.7z"/><path color="#bddf26" d="M891.6 216l4.3 2.1 2.5-2.9-4.3-1.9z"/><path color="#d0e11c" d="M869.3 214.2l4.3 2 2.5-3.2-4.3-1.8z"/><path color="#c8e020" d="M880.4 215l4.3 2 2.6-3-4.4-1.9z"/><path color="#8ed645" d="M804.1 223.3l4.2 1.8 2.6-4.6-4.2-1.8z"/><path color="#44bf70" d="M709.6 233.1l4.2 1.2 2.8-2.3-4.2-1.2z"/><path color="#4ac16d" d="M761.1 232.9l4.2 1.5 2.7-3.7-4.2-1.6z"/><path color="#7fd34e" d="M951.6 224.5l4.4 2.1 2.4-3.2-4.3-1.8z"/><path color="#addc30" d="M822.1 219.5l4.2 1.7 2.6-4.4-4.2-1.7z"/><path color="#5ec962" d="M779.2 229.8l4.2 1.6 2.6-4.3-4.2-1.7z"/><path color="#44bf70" d="M720.8 233.3l4.2 1.2 2.7-1.9-4.1-1.3z"/><path color="#86d549" d="M940.5 223.4l4.3 2.1 2.5-3.1-4.4-1.9z"/><path color="#7ad151" d="M962.8 225.3l4.4 1.9 2.4-3.2-4.4-1.7z"/><path color="#cae11f" d="M840.1 215.9l4.3 1.3 2.6-3.5-4.3-1.6z"/><path color="#40bd72" d="M731.9 233.9l4.2 1.4 2.8-2.1-4.2-1.4z"/><path color="#90d743" d="M929.3 222.1l4.4 2.2 2.4-3-4.3-2z"/><path color="#7ad151" d="M797.2 226.1l4.2 1.7 2.7-4.5-4.3-1.8z"/><path color="#3bbb75" d="M691.6 235.5l4.1 1 2.8-3-4.1-1z"/><path color="#3fbc73" d="M743.1 234.6l4.2 1.4 2.7-2.7-4.2-1.5z"/><path color="#9dd93b" d="M918.2 220.7l4.3 2.2 2.5-3-4.3-2z"/><path color="#9bd93c" d="M815.2 222.3l4.3 1.7 2.6-4.5-4.3-1.8z"/><path color="#cde11d" d="M851.3 215.3l4.2 1.8 2.6-3.3-4.3-1.8z"/><path color="#a8db34" d="M907 219.4l4.4 2.2 2.5-3-4.4-2.1z"/><path color="#52c569" d="M772.3 232.2l4.2 1.6 2.7-4-4.3-1.7z"/><path color="#b5de2b" d="M895.9 218.1l4.3 2.2 2.5-3.1-4.3-2z"/><path color="#cae11f" d="M862.4 215.6l4.3 2 2.6-3.4-4.3-1.9z"/><path color="#42be71" d="M754.2 234.7l4.2 1.5 2.7-3.3-4.2-1.5z"/><path color="#bade28" d="M833.2 218.4l4.3 1.5 2.6-4-4.3-1.5z"/><path color="#69cd5b" d="M790.3 228.8l4.2 1.7 2.7-4.4-4.3-1.8z"/><path color="#c0df25" d="M884.7 217l4.4 2.2 2.5-3.2-4.3-2z"/><path color="#c8e020" d="M873.6 216.2l4.3 2.1 2.5-3.3-4.3-2z"/><path color="#42be71" d="M702.7 234.6l4.1 1.1 2.8-2.6-4.1-1.1z"/><path color="#86d549" d="M808.3 225.1l4.3 1.7 2.6-4.5-4.3-1.8z"/><path color="#77d153" d="M956 226.6l4.4 2 2.4-3.3-4.4-1.9z"/><path color="#7fd34e" d="M944.8 225.5l4.4 2.3 2.4-3.3-4.3-2.1z"/><path color="#86d549" d="M933.7 224.3l4.3 2.3 2.5-3.2-4.4-2.1z"/><path color="#46c06f" d="M765.3 234.4l4.3 1.6 2.7-3.8-4.3-1.5z"/><path color="#44bf70" d="M713.8 234.3l4.2 1.2 2.8-2.2-4.2-1.3z"/><path color="#a8db34" d="M826.3 221.2l4.3 1.6 2.6-4.4-4.3-1.6z"/><path color="#73d056" d="M967.2 227.2l4.3 1.9 2.5-3.4-4.4-1.7z"/><path color="#5ac864" d="M783.4 231.4l4.2 1.7 2.7-4.3-4.3-1.7z"/><path color="#93d741" d="M922.5 222.9l4.4 2.3 2.4-3.1-4.3-2.2z"/><path color="#42be71" d="M725 234.5l4.1 1.3 2.8-1.9-4.2-1.3z"/><path color="#c5e021" d="M844.4 217.2l4.3 1.5 2.6-3.4-4.3-1.6z"/><path color="#75d054" d="M801.4 227.8l4.3 1.8 2.6-4.5-4.2-1.8z"/><path color="#3fbc73" d="M736.1 235.3l4.2 1.3 2.8-2-4.2-1.4z"/><path color="#a0da39" d="M911.4 221.6l4.3 2.3 2.5-3.2-4.3-2.1z"/><path color="#3dbc74" d="M747.3 236l4.2 1.4 2.7-2.7-4.2-1.4z"/><path color="#c8e020" d="M855.5 217.1l4.3 1.8 2.6-3.3-4.3-1.8z"/><path color="#aadc32" d="M900.2 220.3l4.3 2.3 2.5-3.2-4.3-2.2z"/><path color="#95d840" d="M819.5 224l4.2 1.6 2.6-4.4-4.2-1.7z"/><path color="#3dbc74" d="M695.7 236.5l4.2 1.1 2.8-3-4.2-1.1z"/><path color="#c2df23" d="M866.7 217.6l4.3 1.9 2.6-3.3-4.3-2z"/><path color="#b5de2b" d="M889.1 219.2l4.3 2.2 2.5-3.3-4.3-2.1z"/><path color="#4ec36b" d="M776.5 233.8l4.2 1.6 2.7-4-4.2-1.6z"/><path color="#bddf26" d="M877.9 218.3l4.3 2.1 2.5-3.4-4.3-2z"/><path color="#65cb5e" d="M794.5 230.5l4.3 1.8 2.6-4.5-4.2-1.7z"/><path color="#3fbc73" d="M758.4 236.2l4.3 1.5 2.6-3.3-4.2-1.5z"/><path color="#b8de29" d="M837.5 219.9l4.3 1.4 2.6-4.1-4.3-1.3z"/><path color="#75d054" d="M949.2 227.8l4.4 2.2 2.4-3.4-4.4-2.1z"/><path color="#81d34d" d="M812.6 226.8l4.2 1.7 2.7-4.5-4.3-1.7z"/><path color="#6ece58" d="M960.4 228.6l4.3 2.1 2.5-3.5-4.4-1.9z"/><path color="#7cd250" d="M938 226.6l4.4 2.3 2.4-3.4-4.3-2.1z"/><path color="#42be71" d="M706.8 235.7l4.2 1.1 2.8-2.5-4.2-1.2z"/><path color="#35b779" d="M688.8 239.2l4.2 1 2.7-3.7-4.1-1z"/><path color="#89d548" d="M926.9 225.2l4.3 2.4 2.5-3.3-4.4-2.2z"/><path color="#56c667" d="M787.6 233.1l4.3 1.7 2.6-4.3-4.2-1.7z"/><path color="#44bf70" d="M769.6 236l4.2 1.5 2.7-3.7-4.2-1.6z"/><path color="#a2da37" d="M830.6 222.8l4.3 1.5 2.6-4.4-4.3-1.5z"/><path color="#93d741" d="M915.7 223.9l4.3 2.3 2.5-3.3-4.3-2.2z"/><path color="#44bf70" d="M718 235.5l4.2 1.2 2.8-2.2-4.2-1.2z"/><path color="#c2df23" d="M848.7 218.7l4.3 1.6 2.5-3.2-4.2-1.8z"/><path color="#70cf57" d="M805.7 229.6l4.2 1.7 2.7-4.5-4.3-1.7z"/><path color="#a0da39" d="M904.5 222.6l4.4 2.3 2.5-3.3-4.4-2.2z"/><path color="#42be71" d="M729.1 235.8l4.2 1.4 2.8-1.9-4.2-1.4z"/><path color="#3dbc74" d="M740.3 236.6l4.2 1.4 2.8-2-4.2-1.4z"/><path color="#c0df25" d="M859.8 218.9l4.4 1.9 2.5-3.2-4.3-2z"/><path color="#aadc32" d="M893.4 221.4l4.3 2.3 2.5-3.4-4.3-2.2z"/><path color="#bade28" d="M871 219.5l4.3 2.1 2.6-3.3-4.3-2.1z"/><path color="#b2dd2d" d="M882.2 220.4l4.3 2.1 2.6-3.3-4.4-2.2z"/><path color="#90d743" d="M823.7 225.6l4.3 1.6 2.6-4.4-4.3-1.6z"/><path color="#3bbb75" d="M751.5 237.4l4.2 1.4 2.7-2.6-4.2-1.5z"/><path color="#4ac16d" d="M780.7 235.4l4.3 1.7 2.6-4-4.2-1.7z"/><path color="#60ca60" d="M798.8 232.3l4.2 1.7 2.7-4.4-4.3-1.8z"/><path color="#3dbc74" d="M699.9 237.6l4.2 1.2 2.7-3.1-4.1-1.1z"/><path color="#6ccd5a" d="M953.6 230l4.3 2.2 2.5-3.6-4.4-2z"/><path color="#73d056" d="M942.4 228.9l4.3 2.3 2.5-3.4-4.4-2.3z"/><path color="#3dbc74" d="M762.7 237.7l4.2 1.4 2.7-3.1-4.3-1.6z"/><path color="#67cc5c" d="M964.7 230.7l4.4 2 2.4-3.6-4.3-1.9z"/><path color="#b5de2b" d="M841.8 221.3l4.3 1.3 2.6-3.9-4.3-1.5z"/><path color="#7cd250" d="M931.2 227.6l4.4 2.4 2.4-3.4-4.3-2.3z"/><path color="#7cd250" d="M816.8 228.5l4.3 1.6 2.6-4.5-4.2-1.6z"/><path color="#89d548" d="M920 226.2l4.4 2.4 2.5-3.4-4.4-2.3z"/><path color="#52c569" d="M791.9 234.8l4.2 1.7 2.7-4.2-4.3-1.8z"/><path color="#42be71" d="M711 236.8l4.2 1.3 2.8-2.6-4.2-1.2z"/><path color="#93d741" d="M908.9 224.9l4.3 2.4 2.5-3.4-4.3-2.3z"/><path color="#42be71" d="M773.8 237.5l4.3 1.5 2.6-3.6-4.2-1.6z"/><path color="#a0da39" d="M834.9 224.3l4.3 1.3 2.6-4.3-4.3-1.4z"/><path color="#bade28" d="M853 220.3l4.3 1.8 2.5-3.2-4.3-1.8z"/><path color="#6ccd5a" d="M809.9 231.3l4.3 1.7 2.6-4.5-4.2-1.7z"/><path color="#35b779" d="M693 240.2l4.1 1.1 2.8-3.7-4.2-1.1z"/><path color="#a0da39" d="M897.7 223.7l4.3 2.3 2.5-3.4-4.3-2.3z"/><path color="#b8de29" d="M864.2 220.8l4.3 2 2.5-3.3-4.3-1.9z"/><path color="#a8db34" d="M886.5 222.5l4.3 2.3 2.6-3.4-4.3-2.2z"/><path color="#b0dd2f" d="M875.3 221.6l4.4 2.1 2.5-3.3-4.3-2.1z"/><path color="#44bf70" d="M722.2 236.7l4.2 1.3 2.7-2.2-4.1-1.3z"/><path color="#40bd72" d="M733.3 237.2l4.2 1.3 2.8-1.9-4.2-1.3z"/><path color="#3dbc74" d="M744.5 238l4.2 1.4 2.8-2-4.2-1.4z"/><path color="#8bd646" d="M828 227.2l4.3 1.5 2.6-4.4-4.3-1.5z"/><path color="#2ab07f" d="M686.1 244l4.1.3 2.8-4.1-4.2-1z"/><path color="#69cd5b" d="M946.7 231.2l4.4 2.4 2.5-3.6-4.4-2.2z"/><path color="#63cb5f" d="M957.9 232.2l4.4 2.1 2.4-3.6-4.3-2.1z"/><path color="#3aba76" d="M755.7 238.8l4.2 1.5 2.8-2.6-4.3-1.5z"/><path color="#48c16e" d="M785 237.1l4.2 1.6 2.7-3.9-4.3-1.7z"/><path color="#70cf57" d="M935.6 230l4.3 2.4 2.5-3.5-4.4-2.3z"/><path color="#5cc863" d="M803 234l4.3 1.7 2.6-4.4-4.2-1.7z"/><path color="#7cd250" d="M924.4 228.6l4.3 2.5 2.5-3.5-4.3-2.4z"/><path color="#3bbb75" d="M766.9 239.1l4.2 1.5 2.7-3.1-4.2-1.5z"/><path color="#3dbc74" d="M704.1 238.8l4.1 1.2 2.8-3.2-4.2-1.1z"/><path color="#7ad151" d="M821.1 230.1l4.3 1.6 2.6-4.5-4.3-1.6z"/><path color="#89d548" d="M913.2 227.3l4.4 2.4 2.4-3.5-4.3-2.3z"/><path color="#b2dd2d" d="M846.1 222.6l4.3 1.3 2.6-3.6-4.3-1.6z"/><path color="#93d741" d="M902 226l4.4 2.3 2.5-3.4-4.4-2.3z"/><path color="#4ec36b" d="M796.1 236.5l4.3 1.6 2.6-4.1-4.2-1.7z"/><path color="#9dd93b" d="M890.8 224.8l4.4 2.2 2.5-3.3-4.3-2.3z"/><path color="#b5de2b" d="M857.3 222.1l4.3 1.8 2.6-3.1-4.4-1.9z"/><path color="#3fbc73" d="M778.1 239l4.2 1.6 2.7-3.5-4.3-1.7z"/><path color="#a8db34" d="M879.7 223.7l4.3 2.2 2.5-3.4-4.3-2.1z"/><path color="#addc30" d="M868.5 222.8l4.3 2 2.5-3.2-4.3-2.1z"/><path color="#67cc5c" d="M814.2 233l4.3 1.6 2.6-4.5-4.3-1.6z"/><path color="#42be71" d="M715.2 238.1l4.2 1.2 2.8-2.6-4.2-1.2z"/><path color="#a0da39" d="M839.2 225.6l4.3 1.3 2.6-4.3-4.3-1.3z"/><path color="#5ec962" d="M951.1 233.6l4.4 2.3 2.4-3.7-4.3-2.2z"/><path color="#37b878" d="M697.1 241.3l4.2 1 2.8-3.5-4.2-1.2z"/><path color="#67cc5c" d="M939.9 232.4l4.4 2.4 2.4-3.6-4.3-2.3z"/><path color="#5cc863" d="M962.3 234.3l4.4 2.2 2.4-3.8-4.4-2z"/><path color="#42be71" d="M726.4 238l4.2 1.3 2.7-2.1-4.2-1.4z"/><path color="#70cf57" d="M928.7 231.1l4.4 2.4 2.5-3.5-4.4-2.4z"/><path color="#3fbc73" d="M737.5 238.5l4.3 1.3 2.7-1.8-4.2-1.4z"/><path color="#3bbb75" d="M748.7 239.4l4.3 1.4 2.7-2-4.2-1.4z"/><path color="#44bf70" d="M789.2 238.7l4.3 1.6 2.6-3.8-4.2-1.7z"/><path color="#8bd646" d="M832.3 228.7l4.3 1.4 2.6-4.5-4.3-1.3z"/><path color="#58c765" d="M807.3 235.7l4.3 1.6 2.6-4.3-4.3-1.7z"/><path color="#38b977" d="M759.9 240.3l4.3 1.5 2.7-2.7-4.2-1.4z"/><path color="#7cd250" d="M917.6 229.7l4.3 2.4 2.5-3.5-4.4-2.4z"/><path color="#21a685" d="M683.3 249.8l4.1-.4 2.8-5.1-4.1-.3z"/><path color="#86d549" d="M906.4 228.3l4.3 2.4 2.5-3.4-4.3-2.4z"/><path color="#2db27d" d="M690.2 244.3l4.1.6 2.8-3.6-4.1-1.1z"/><path color="#3aba76" d="M771.1 240.6l4.3 1.6 2.7-3.2-4.3-1.5z"/><path color="#75d054" d="M825.4 231.7l4.3 1.5 2.6-4.5-4.3-1.5z"/><path color="#b0dd2f" d="M850.4 223.9l4.3 1.5 2.6-3.3-4.3-1.8z"/><path color="#93d741" d="M895.2 227l4.3 2.4 2.5-3.4-4.3-2.3z"/><path color="#3dbc74" d="M708.2 240l4.2 1.3 2.8-3.2-4.2-1.3z"/><path color="#9dd93b" d="M884 225.9l4.3 2.2 2.5-3.3-4.3-2.3z"/><path color="#a5db36" d="M872.8 224.8l4.3 2.1 2.6-3.2-4.4-2.1z"/><path color="#4ac16d" d="M800.4 238.1l4.3 1.7 2.6-4.1-4.3-1.7z"/><path color="#addc30" d="M861.6 223.9l4.3 2 2.6-3.1-4.3-2z"/><path color="#56c667" d="M955.5 235.9l4.3 2.2 2.5-3.8-4.4-2.1z"/><path color="#5cc863" d="M944.3 234.8l4.3 2.4 2.5-3.6-4.4-2.4z"/><path color="#3bbb75" d="M782.3 240.6l4.3 1.6 2.6-3.5-4.2-1.6z"/><path color="#63cb5f" d="M818.5 234.6l4.3 1.6 2.6-4.5-4.3-1.6z"/><path color="#65cb5e" d="M933.1 233.5l4.3 2.5 2.5-3.6-4.3-2.4z"/><path color="#42be71" d="M719.4 239.3l4.2 1.4 2.8-2.7-4.2-1.3z"/><path color="#a0da39" d="M843.5 226.9l4.3 1.2 2.6-4.2-4.3-1.3z"/><path color="#70cf57" d="M921.9 232.1l4.3 2.5 2.5-3.5-4.3-2.5z"/><path color="#42be71" d="M730.6 239.3l4.2 1.4 2.7-2.2-4.2-1.3z"/><path color="#37b878" d="M701.3 242.3l4.2 1 2.7-3.3-4.1-1.2z"/><path color="#7ad151" d="M910.7 230.7l4.4 2.4 2.5-3.4-4.4-2.4z"/><path color="#40bd72" d="M793.5 240.3l4.3 1.6 2.6-3.8-4.3-1.6z"/><path color="#3aba76" d="M753 240.8l4.2 1.4 2.7-1.9-4.2-1.5z"/><path color="#3fbc73" d="M741.8 239.8l4.2 1.4 2.7-1.8-4.2-1.4z"/><path color="#54c568" d="M811.6 237.3l4.3 1.6 2.6-4.3-4.3-1.6z"/><path color="#37b878" d="M764.2 241.8l4.2 1.4 2.7-2.6-4.2-1.5z"/><path color="#89d548" d="M836.6 230.1l4.3 1.3 2.6-4.5-4.3-1.3z"/><path color="#86d549" d="M899.5 229.4l4.4 2.3 2.5-3.4-4.4-2.3z"/><path color="#1f988b" d="M680.6 256.4l4.1-.9 2.7-6.1-4.1.4z"/><path color="#90d743" d="M888.3 228.1l4.3 2.3 2.6-3.4-4.4-2.2z"/><path color="#37b878" d="M775.4 242.2l4.2 1.5 2.7-3.1-4.2-1.6z"/><path color="#aadc32" d="M854.7 225.4l4.3 1.7 2.6-3.2-4.3-1.8z"/><path color="#9bd93c" d="M877.1 226.9l4.3 2.2 2.6-3.2-4.3-2.2z"/><path color="#a5db36" d="M865.9 225.9l4.3 2 2.6-3.1-4.3-2z"/><path color="#73d056" d="M829.7 233.2l4.3 1.4 2.6-4.5-4.3-1.4z"/><path color="#52c569" d="M948.6 237.2l4.4 2.4 2.5-3.7-4.4-2.3z"/><path color="#4ec36b" d="M959.8 238.1l4.4 2.3 2.5-3.9-4.4-2.2z"/><path color="#5ac864" d="M937.4 236l4.4 2.5 2.5-3.7-4.4-2.4z"/><path color="#2eb37c" d="M694.3 244.9l4.2.8 2.8-3.4-4.2-1z"/><path color="#48c16e" d="M804.7 239.8l4.3 1.6 2.6-4.1-4.3-1.6z"/><path color="#3dbc74" d="M712.4 241.3l4.2 1.2 2.8-3.2-4.2-1.2z"/><path color="#65cb5e" d="M926.2 234.6l4.4 2.5 2.5-3.6-4.4-2.4z"/><path color="#3aba76" d="M786.6 242.2l4.2 1.5 2.7-3.4-4.3-1.6z"/><path color="#24aa83" d="M687.4 249.4l4.2-.2 2.7-4.3-4.1-.6z"/><path color="#60ca60" d="M822.8 236.2l4.3 1.4 2.6-4.4-4.3-1.5z"/><path color="#6ece58" d="M915.1 233.1l4.3 2.5 2.5-3.5-4.3-2.4z"/><path color="#40bd72" d="M723.6 240.7l4.2 1.4 2.8-2.8-4.2-1.3z"/><path color="#24878e" d="M678 263.6l4-1.4 2.7-6.7-4.1.9z"/><path color="#7ad151" d="M903.9 231.7l4.3 2.4 2.5-3.4-4.3-2.4z"/><path color="#9dd93b" d="M847.8 228.1l4.3 1.2 2.6-3.9-4.3-1.5z"/><path color="#3dbc74" d="M797.8 241.9l4.2 1.6 2.7-3.7-4.3-1.7z"/><path color="#40bd72" d="M734.8 240.7l4.2 1.4 2.8-2.3-4.3-1.3z"/><path color="#86d549" d="M892.6 230.4l4.4 2.3 2.5-3.3-4.3-2.4z"/><path color="#52c569" d="M815.9 238.9l4.3 1.5 2.6-4.2-4.3-1.6z"/><path color="#38b977" d="M757.2 242.2l4.2 1.4 2.8-1.8-4.3-1.5z"/><path color="#3dbc74" d="M746 241.2l4.2 1.4 2.8-1.8-4.3-1.4z"/><path color="#35b779" d="M768.4 243.2l4.3 1.5 2.7-2.5-4.3-1.6z"/><path color="#37b878" d="M705.5 243.3l4.1 1 2.8-3-4.2-1.3z"/><path color="#90d743" d="M881.4 229.1l4.4 2.2 2.5-3.2-4.3-2.2z"/><path color="#4ac16d" d="M953 239.6l4.4 2.4 2.4-3.9-4.3-2.2z"/><path color="#50c46a" d="M941.8 238.5l4.4 2.5 2.4-3.8-4.3-2.4z"/><path color="#89d548" d="M840.9 231.4l4.3 1.2 2.6-4.5-4.3-1.2z"/><path color="#9bd93c" d="M870.2 227.9l4.4 2.1 2.5-3.1-4.3-2.1z"/><path color="#a2da37" d="M859 227.1l4.3 1.8 2.6-3-4.3-2z"/><path color="#58c765" d="M930.6 237.1l4.4 2.5 2.4-3.6-4.3-2.5z"/><path color="#35b779" d="M779.6 243.7l4.3 1.5 2.7-3-4.3-1.6z"/><path color="#2b748e" d="M675.3 271.3l4.1-2 2.6-7.1-4 1.4z"/><path color="#73d056" d="M834 234.6l4.3 1.3 2.6-4.5-4.3-1.3z"/><path color="#44bf70" d="M809 241.4l4.2 1.6 2.7-4.1-4.3-1.6z"/><path color="#63cb5f" d="M919.4 235.6l4.4 2.5 2.4-3.5-4.3-2.5z"/><path color="#3dbc74" d="M716.6 242.5l4.2 1.2 2.8-3-4.2-1.4z"/><path color="#37b878" d="M790.8 243.7l4.3 1.6 2.7-3.4-4.3-1.6z"/><path color="#6ece58" d="M908.2 234.1l4.3 2.5 2.6-3.5-4.4-2.4z"/><path color="#31b57b" d="M698.5 245.7l4.2.7 2.8-3.1-4.2-1z"/><path color="#5ec962" d="M827.1 237.6l4.3 1.4 2.6-4.4-4.3-1.4z"/><path color="#1f9f88" d="M684.7 255.5l4.1-.9 2.8-5.4-4.2.2z"/><path color="#7ad151" d="M897 232.7l4.3 2.3 2.6-3.3-4.4-2.3z"/><path color="#34608d" d="M672.7 279.1l4-2.3 2.7-7.5-4.1 2z"/><path color="#40bd72" d="M727.8 242.1l4.2 1.4 2.8-2.8-4.2-1.4z"/><path color="#46c06f" d="M946.2 241l4.3 2.4 2.5-3.8-4.4-2.4z"/><path color="#40bd72" d="M957.4 242l4.4 2.3 2.4-3.9-4.4-2.3z"/><path color="#86d549" d="M885.8 231.3l4.3 2.2 2.5-3.1-4.3-2.3z"/><path color="#9bd93c" d="M852.1 229.3l4.3 1.3 2.6-3.5-4.3-1.7z"/><path color="#3bbb75" d="M802 243.5l4.3 1.6 2.7-3.7-4.3-1.6z"/><path color="#27ad81" d="M691.6 249.2l4.1.1 2.8-3.6-4.2-.8z"/><path color="#4ec36b" d="M935 239.6l4.3 2.6 2.5-3.7-4.4-2.5z"/><path color="#4ec36b" d="M820.2 240.4l4.3 1.5 2.6-4.3-4.3-1.4z"/><path color="#90d743" d="M874.6 230l4.3 2.1 2.5-3-4.3-2.2z"/><path color="#3fbc73" d="M739 242.1l4.2 1.4 2.8-2.3-4.2-1.4z"/><path color="#37b878" d="M761.4 243.6l4.3 1.5 2.7-1.9-4.2-1.4z"/><path color="#3bbb75" d="M750.2 242.6l4.2 1.5 2.8-1.9-4.2-1.4z"/><path color="#9bd93c" d="M863.3 228.9l4.4 1.9 2.5-2.9-4.3-2z"/><path color="#34b679" d="M772.7 244.7l4.2 1.5 2.7-2.5-4.2-1.5z"/><path color="#58c765" d="M923.8 238.1l4.3 2.5 2.5-3.5-4.4-2.5z"/><path color="#38b977" d="M709.6 244.3l4.2 1 2.8-2.8-4.2-1.2z"/><path color="#89d548" d="M845.2 232.6l4.3 1.1 2.6-4.4-4.3-1.2z"/><path color="#34b679" d="M783.9 245.2l4.2 1.5 2.7-3-4.2-1.5z"/><path color="#63cb5f" d="M912.5 236.6l4.4 2.4 2.5-3.4-4.3-2.5z"/><path color="#42be71" d="M813.2 243l4.3 1.5 2.7-4.1-4.3-1.5z"/><path color="#73d056" d="M838.3 235.9l4.3 1.2 2.6-4.5-4.3-1.2z"/><path color="#70cf57" d="M901.3 235l4.4 2.4 2.5-3.3-4.3-2.4z"/><path color="#35b779" d="M795.1 245.3l4.3 1.6 2.6-3.4-4.2-1.6z"/><path color="#21918c" d="M682 262.2l4.1-1.4 2.7-6.2-4.1.9z"/><path color="#3dbc74" d="M720.8 243.7l4.2 1.2 2.8-2.8-4.2-1.4z"/><path color="#3dbc74" d="M950.5 243.4l4.4 2.5 2.5-3.9-4.4-2.4z"/><path color="#7cd250" d="M890.1 233.5l4.4 2.3 2.5-3.1-4.4-2.3z"/><path color="#44bf70" d="M939.3 242.2l4.4 2.5 2.5-3.7-4.4-2.5z"/><path color="#5ec962" d="M831.4 239l4.3 1.3 2.6-4.4-4.3-1.3z"/><path color="#32b67a" d="M702.7 246.4l4.1.8 2.8-2.9-4.1-1z"/><path color="#86d549" d="M878.9 232.1l4.3 2.2 2.6-3-4.4-2.2z"/><path color="#4ec36b" d="M928.1 240.6l4.4 2.6 2.5-3.6-4.4-2.5z"/><path color="#98d83e" d="M856.4 230.6l4.4 1.6 2.5-3.3-4.3-1.8z"/><path color="#3fbc73" d="M732 243.5l4.2 1.3 2.8-2.7-4.2-1.4z"/><path color="#38b977" d="M806.3 245.1l4.3 1.6 2.6-3.7-4.2-1.6z"/><path color="#93d741" d="M867.7 230.8l4.3 2 2.6-2.8-4.4-2.1z"/><path color="#4cc26c" d="M824.5 241.9l4.3 1.4 2.6-4.3-4.3-1.4z"/><path color="#58c765" d="M916.9 239l4.4 2.5 2.5-3.4-4.4-2.5z"/><path color="#3dbc74" d="M743.2 243.5l4.3 1.5 2.7-2.4-4.2-1.4z"/><path color="#35b779" d="M765.7 245.1l4.2 1.4 2.8-1.8-4.3-1.5z"/><path color="#3aba76" d="M754.4 244.1l4.3 1.4 2.7-1.9-4.2-1.4z"/><path color="#32b67a" d="M776.9 246.2l4.3 1.4 2.7-2.4-4.3-1.5z"/><path color="#65cb5e" d="M905.7 237.4l4.3 2.5 2.5-3.3-4.3-2.5z"/><path color="#31b57b" d="M788.1 246.7l4.3 1.5 2.7-2.9-4.3-1.6z"/><path color="#2ab07f" d="M695.7 249.3l4.2.4 2.8-3.3-4.2-.7z"/><path color="#27808e" d="M679.4 269.3l4-1.8 2.7-6.7-4.1 1.4z"/><path color="#21a585" d="M688.8 254.6l4.1-.6 2.8-4.7-4.1-.1z"/><path color="#38b977" d="M713.8 245.3l4.2 1 2.8-2.6-4.2-1.2z"/><path color="#89d548" d="M849.5 233.7l4.3 1.1 2.6-4.2-4.3-1.3z"/><path color="#35b779" d="M954.9 245.9l4.4 2.4 2.5-4-4.4-2.3z"/><path color="#3fbc73" d="M817.5 244.5l4.3 1.5 2.7-4.1-4.3-1.5z"/><path color="#3bbb75" d="M943.7 244.7l4.4 2.5 2.4-3.8-4.3-2.4z"/><path color="#70cf57" d="M894.5 235.8l4.3 2.4 2.5-3.2-4.3-2.3z"/><path color="#32b67a" d="M799.4 246.9l4.2 1.6 2.7-3.4-4.3-1.6z"/><path color="#42be71" d="M932.5 243.2l4.3 2.5 2.5-3.5-4.3-2.6z"/><path color="#73d056" d="M842.6 237.1l4.3 1.1 2.6-4.5-4.3-1.1z"/><path color="#7cd250" d="M883.2 234.3l4.4 2.2 2.5-3-4.3-2.2z"/><path color="#3dbc74" d="M725 244.9l4.2 1.1 2.8-2.5-4.2-1.4z"/><path color="#4ec36b" d="M921.3 241.5l4.3 2.6 2.5-3.5-4.3-2.5z"/><path color="#89d548" d="M872 232.8l4.3 2.1 2.6-2.8-4.3-2.1z"/><path color="#90d743" d="M860.8 232.2l4.3 1.7 2.6-3.1-4.4-1.9z"/><path color="#5cc863" d="M835.7 240.3l4.3 1.2 2.6-4.4-4.3-1.2z"/><path color="#2e6d8e" d="M676.7 276.8l4-2.4 2.7-6.9-4 1.8z"/><path color="#37b878" d="M810.6 246.7l4.3 1.5 2.6-3.7-4.3-1.5z"/><path color="#3dbc74" d="M736.2 244.8l4.3 1.3 2.7-2.6-4.2-1.4z"/><path color="#5ac864" d="M910 239.9l4.4 2.4 2.5-3.3-4.4-2.4z"/><path color="#34b679" d="M706.8 247.2l4.2.8 2.8-2.7-4.2-1z"/><path color="#3bbb75" d="M747.5 245l4.2 1.5 2.7-2.4-4.2-1.5z"/><path color="#4cc26c" d="M828.8 243.3l4.3 1.3 2.6-4.3-4.3-1.3z"/><path color="#34b679" d="M769.9 246.5l4.3 1.5 2.7-1.8-4.2-1.5z"/><path color="#31b57b" d="M781.2 247.6l4.2 1.5 2.7-2.4-4.2-1.5z"/><path color="#38b977" d="M758.7 245.5l4.2 1.6 2.8-2-4.3-1.5z"/><path color="#34b679" d="M948.1 247.2l4.4 2.5 2.4-3.8-4.4-2.5z"/><path color="#65cb5e" d="M898.8 238.2l4.4 2.4 2.5-3.2-4.4-2.4z"/><path color="#2fb47c" d="M792.4 248.2l4.3 1.5 2.7-2.8-4.3-1.6z"/><path color="#3aba76" d="M936.8 245.7l4.4 2.6 2.5-3.6-4.4-2.5z"/><path color="#1f998a" d="M686.1 260.8l4.1-1.3 2.7-5.5-4.1.6z"/><path color="#73d056" d="M887.6 236.5l4.3 2.3 2.6-3-4.4-2.3z"/><path color="#89d548" d="M853.8 234.8l4.4 1.2 2.6-3.8-4.4-1.6z"/><path color="#3dbc74" d="M821.8 246l4.3 1.4 2.7-4.1-4.3-1.4z"/><path color="#3aba76" d="M718 246.3l4.2.9 2.8-2.3-4.2-1.2z"/><path color="#44bf70" d="M925.6 244.1l4.4 2.5 2.5-3.4-4.4-2.6z"/><path color="#31b57b" d="M803.6 248.5l4.3 1.5 2.7-3.3-4.3-1.6z"/><path color="#2db27d" d="M699.9 249.7l4.1.5 2.8-3-4.1-.8z"/><path color="#81d34d" d="M876.3 234.9l4.4 2.2 2.5-2.8-4.3-2.2z"/><path color="#50c46a" d="M914.4 242.3l4.4 2.5 2.5-3.3-4.4-2.5z"/><path color="#8bd646" d="M865.1 233.9l4.3 1.9 2.6-3-4.3-2z"/><path color="#73d056" d="M846.9 238.2l4.3 1 2.6-4.4-4.3-1.1z"/><path color="#3bbb75" d="M729.2 246l4.3 1.1 2.7-2.3-4.2-1.3z"/><path color="#24aa83" d="M692.9 254l4.2-.5 2.8-3.8-4.2-.4z"/><path color="#2cb17e" d="M952.5 249.7l4.3 2.5 2.5-3.9-4.4-2.4z"/><path color="#5ec962" d="M840 241.5l4.3 1.2 2.6-4.5-4.3-1.1z"/><path color="#35b779" d="M814.9 248.2l4.3 1.5 2.6-3.7-4.3-1.5z"/><path color="#5cc863" d="M903.2 240.6l4.3 2.4 2.5-3.1-4.3-2.5z"/><path color="#32b67a" d="M941.2 248.3l4.4 2.6 2.5-3.7-4.4-2.5z"/><path color="#3dbc74" d="M740.5 246.1l4.2 1.3 2.8-2.4-4.3-1.5z"/><path color="#3bbb75" d="M751.7 246.5l4.2 1.4 2.8-2.4-4.3-1.4z"/><path color="#32b67a" d="M774.2 248l4.3 1.4 2.7-1.8-4.3-1.4z"/><path color="#2fb47c" d="M785.4 249.1l4.3 1.5 2.7-2.4-4.3-1.5z"/><path color="#37b878" d="M762.9 247.1l4.3 1.5 2.7-2.1-4.2-1.4z"/><path color="#4cc26c" d="M833.1 244.6l4.3 1.2 2.6-4.3-4.3-1.2z"/><path color="#3aba76" d="M930 246.6l4.4 2.6 2.4-3.5-4.3-2.5z"/><path color="#69cd5b" d="M891.9 238.8l4.4 2.3 2.5-2.9-4.3-2.4z"/><path color="#37b878" d="M711 248l4.2.7 2.8-2.4-4.2-1z"/><path color="#238a8d" d="M683.4 267.5l4.1-1.8 2.7-6.2-4.1 1.3z"/><path color="#2eb37c" d="M796.7 249.7l4.3 1.6 2.6-2.8-4.2-1.6z"/><path color="#77d153" d="M880.7 237.1l4.3 2.2 2.6-2.8-4.4-2.2z"/><path color="#44bf70" d="M918.8 244.8l4.3 2.6 2.5-3.3-4.3-2.6z"/><path color="#84d44b" d="M858.2 236l4.3 1.4 2.6-3.5-4.3-1.7z"/><path color="#3dbc74" d="M826.1 247.4l4.3 1.3 2.7-4.1-4.3-1.3z"/><path color="#2fb47c" d="M807.9 250l4.3 1.5 2.7-3.3-4.3-1.5z"/><path color="#84d44b" d="M869.4 235.8l4.4 2 2.5-2.9-4.3-2.1z"/><path color="#3bbb75" d="M722.2 247.2l4.2.9 2.8-2.1-4.2-1.1z"/><path color="#52c569" d="M907.5 243l4.4 2.5 2.5-3.2-4.4-2.4z"/><path color="#2ab07f" d="M945.6 250.9l4.4 2.6 2.5-3.8-4.4-2.5z"/><path color="#31b57b" d="M704 250.2l4.2.5 2.8-2.7-4.2-.8z"/><path color="#75d054" d="M851.2 239.2l4.4 1.1 2.6-4.3-4.4-1.2z"/><path color="#3bbb75" d="M733.5 247.1l4.2 1.1 2.8-2.1-4.3-1.3z"/><path color="#32b67a" d="M934.4 249.2l4.3 2.6 2.5-3.5-4.4-2.6z"/><path color="#297a8e" d="M680.7 274.4l4.1-2.2 2.7-6.5-4.1 1.8z"/><path color="#5ec962" d="M896.3 241.1l4.3 2.4 2.6-2.9-4.4-2.4z"/><path color="#34b679" d="M819.2 249.7l4.3 1.4 2.6-3.7-4.3-1.4z"/><path color="#3bbb75" d="M744.7 247.4l4.2 1.2 2.8-2.1-4.2-1.5z"/><path color="#5ec962" d="M844.3 242.7l4.3 1.1 2.6-4.6-4.3-1z"/><path color="#1fa188" d="M690.2 259.5l4.1-1.1 2.8-4.9-4.2.5z"/><path color="#3bbb75" d="M923.1 247.4l4.4 2.5 2.5-3.3-4.4-2.5z"/><path color="#31b57b" d="M778.5 249.4l4.2 1.6 2.7-1.9-4.2-1.5z"/><path color="#3aba76" d="M755.9 247.9l4.3 1.4 2.7-2.2-4.2-1.6z"/><path color="#2db27d" d="M789.7 250.6l4.3 1.4 2.7-2.3-4.3-1.5z"/><path color="#35b779" d="M767.2 248.6l4.3 1.5 2.7-2.1-4.3-1.5z"/><path color="#6ccd5a" d="M885 239.3l4.4 2.2 2.5-2.7-4.3-2.3z"/><path color="#28ae80" d="M697.1 253.5l4.1-.2 2.8-3.1-4.1-.5z"/><path color="#4cc26c" d="M837.4 245.8l4.3 1.2 2.6-4.3-4.3-1.2z"/><path color="#2cb17e" d="M801 251.3l4.3 1.5 2.6-2.8-4.3-1.5z"/><path color="#38b977" d="M715.2 248.7l4.2.8 2.8-2.3-4.2-.9z"/><path color="#25ac82" d="M950 253.5l4.4 2.5 2.4-3.8-4.3-2.5z"/><path color="#48c16e" d="M911.9 245.5l4.4 2.4 2.5-3.1-4.4-2.5z"/><path color="#81d34d" d="M862.5 237.4l4.4 1.6 2.5-3.2-4.3-1.9z"/><path color="#7ad151" d="M873.8 237.8l4.3 2 2.6-2.7-4.4-2.2z"/><path color="#2db27d" d="M812.2 251.5l4.3 1.4 2.7-3.2-4.3-1.5z"/><path color="#2ab07f" d="M938.7 251.8l4.4 2.6 2.5-3.5-4.4-2.6z"/><path color="#3dbc74" d="M830.4 248.7l4.4 1.2 2.6-4.1-4.3-1.2z"/><path color="#54c568" d="M900.6 243.5l4.4 2.4 2.5-2.9-4.3-2.4z"/><path color="#3bbb75" d="M726.4 248.1l4.3.9 2.8-1.9-4.3-1.1z"/><path color="#34b679" d="M927.5 249.9l4.4 2.6 2.5-3.3-4.4-2.6z"/><path color="#75d054" d="M855.6 240.3l4.3 1.1 2.6-4-4.3-1.4z"/><path color="#3dbc74" d="M737.7 248.2l4.2 1 2.8-1.8-4.2-1.3z"/><path color="#63cb5f" d="M889.4 241.5l4.4 2.4 2.5-2.8-4.4-2.3z"/><path color="#32b67a" d="M823.5 251.1l4.3 1.3 2.6-3.7-4.3-1.3z"/><path color="#1f948c" d="M687.5 265.7l4.1-1.7 2.7-5.6-4.1 1.1z"/><path color="#34b679" d="M708.2 250.7l4.2.5 2.8-2.5-4.2-.7z"/><path color="#3bbb75" d="M748.9 248.6l4.3 1.2 2.7-1.9-4.2-1.4z"/><path color="#3dbc74" d="M916.3 247.9l4.3 2.6 2.5-3.1-4.3-2.6z"/><path color="#2fb47c" d="M782.7 251l4.3 1.5 2.7-1.9-4.3-1.5z"/><path color="#2cb17e" d="M794 252l4.3 1.5 2.7-2.2-4.3-1.6z"/><path color="#38b977" d="M760.2 249.3l4.3 1.3 2.7-2-4.3-1.5z"/><path color="#34b679" d="M771.5 250.1l4.2 1.4 2.8-2.1-4.3-1.4z"/><path color="#60ca60" d="M848.6 243.8l4.4 1 2.6-4.5-4.4-1.1z"/><path color="#70cf57" d="M878.1 239.8l4.4 2.2 2.5-2.7-4.3-2.2z"/><path color="#25ac82" d="M943.1 254.4l4.4 2.6 2.5-3.5-4.4-2.6z"/><path color="#2ab07f" d="M805.3 252.8l4.3 1.5 2.6-2.8-4.3-1.5z"/><path color="#7ad151" d="M866.9 239l4.3 1.8 2.6-3-4.4-2z"/><path color="#4cc26c" d="M841.7 247l4.3 1.1 2.6-4.3-4.3-1.1z"/><path color="#4ac16d" d="M905 245.9l4.4 2.4 2.5-2.8-4.4-2.5z"/><path color="#2cb17e" d="M931.9 252.5l4.4 2.6 2.4-3.3-4.3-2.6z"/><path color="#2db27d" d="M816.5 252.9l4.4 1.4 2.6-3.2-4.3-1.4z"/><path color="#3bbb75" d="M719.4 249.5l4.2.7 2.8-2.1-4.2-.9z"/><path color="#2db27d" d="M701.2 253.3l4.2.2 2.8-2.8-4.2-.5z"/><path color="#3dbc74" d="M834.8 249.9l4.3 1.2 2.6-4.1-4.3-1.2z"/><path color="#22a884" d="M694.3 258.4l4.1-.9 2.8-4.2-4.1.2z"/><path color="#5ac864" d="M893.8 243.9l4.3 2.3 2.5-2.7-4.3-2.4z"/><path color="#35b779" d="M920.6 250.5l4.4 2.5 2.5-3.1-4.4-2.5z"/><path color="#3dbc74" d="M730.7 249l4.2.9 2.8-1.7-4.2-1.1z"/><path color="#24868e" d="M684.8 272.2l4-2.2 2.8-6-4.1 1.7z"/><path color="#21a685" d="M947.5 257l4.4 2.6 2.5-3.6-4.4-2.5z"/><path color="#73d056" d="M859.9 241.4l4.4 1.3 2.6-3.7-4.4-1.6z"/><path color="#67cc5c" d="M882.5 242l4.3 2.2 2.6-2.7-4.4-2.2z"/><path color="#32b67a" d="M827.8 252.4l4.3 1.2 2.7-3.7-4.4-1.2z"/><path color="#3dbc74" d="M741.9 249.2l4.3 1 2.7-1.6-4.2-1.2z"/><path color="#2eb37c" d="M787 252.5l4.3 1.5 2.7-2-4.3-1.4z"/><path color="#40bd72" d="M909.4 248.3l4.3 2.5 2.6-2.9-4.4-2.4z"/><path color="#2ab07f" d="M798.3 253.5l4.3 1.4 2.7-2.1-4.3-1.5z"/><path color="#3aba76" d="M753.2 249.8l4.2 1.1 2.8-1.6-4.3-1.4z"/><path color="#32b67a" d="M775.7 251.5l4.3 1.4 2.7-1.9-4.2-1.6z"/><path color="#37b878" d="M764.5 250.6l4.2 1.2 2.8-1.7-4.3-1.5z"/><path color="#73d056" d="M871.2 240.8l4.4 1.9 2.5-2.9-4.3-2z"/><path color="#26ad81" d="M936.3 255.1l4.3 2.6 2.5-3.3-4.4-2.6z"/><path color="#29af7f" d="M809.6 254.3l4.3 1.4 2.6-2.8-4.3-1.4z"/><path color="#60ca60" d="M853 244.8l4.3 1 2.6-4.4-4.3-1.1z"/><path color="#37b878" d="M712.4 251.2l4.2.5 2.8-2.2-4.2-.8z"/><path color="#50c46a" d="M898.1 246.2l4.4 2.4 2.5-2.7-4.4-2.4z"/><path color="#4ec36b" d="M846 248.1l4.4 1.1 2.6-4.4-4.4-1z"/><path color="#2eb37c" d="M925 253l4.4 2.6 2.5-3.1-4.4-2.6z"/><path color="#2cb17e" d="M820.9 254.3l4.3 1.4 2.6-3.3-4.3-1.3z"/><path color="#3dbc74" d="M839.1 251.1l4.3 1.2 2.6-4.2-4.3-1.1z"/><path color="#3dbc74" d="M723.6 250.2l4.2.7 2.9-1.9-4.3-.9z"/><path color="#5ec962" d="M886.8 244.2l4.4 2.2 2.6-2.5-4.4-2.4z"/><path color="#38b977" d="M913.7 250.8l4.4 2.5 2.5-2.8-4.3-2.6z"/><path color="#1f9e89" d="M691.6 264l4.1-1.5 2.7-5-4.1.9z"/><path color="#22a785" d="M940.6 257.7l4.4 2.6 2.5-3.3-4.4-2.6z"/><path color="#31b57b" d="M705.4 253.5l4.2.2 2.8-2.5-4.2-.5z"/><path color="#70cf57" d="M864.3 242.7l4.3 1.4 2.6-3.3-4.3-1.8z"/><path color="#6ccd5a" d="M875.6 242.7l4.3 2 2.6-2.7-4.4-2.2z"/><path color="#3fbc73" d="M734.9 249.9l4.2.8 2.8-1.5-4.2-1z"/><path color="#32b67a" d="M832.1 253.6l4.4 1.3 2.6-3.8-4.3-1.2z"/><path color="#2db27d" d="M791.3 254l4.3 1.3 2.7-1.8-4.3-1.5z"/><path color="#29af7f" d="M802.6 254.9l4.3 1.5 2.7-2.1-4.3-1.5z"/><path color="#3fbc73" d="M746.2 250.2l4.2.9 2.8-1.3-4.3-1.2z"/><path color="#27ad81" d="M929.4 255.6l4.4 2.5 2.5-3-4.4-2.6z"/><path color="#31b57b" d="M780 252.9l4.3 1.2 2.7-1.6-4.3-1.5z"/><path color="#46c06f" d="M902.5 248.6l4.4 2.4 2.5-2.7-4.4-2.4z"/><path color="#28ae80" d="M698.4 257.5l4.2-.7 2.8-3.3-4.2-.2z"/><path color="#37b878" d="M768.7 251.8l4.3 1.2 2.7-1.5-4.2-1.4z"/><path color="#3bbb75" d="M757.4 250.9l4.3 1 2.8-1.3-4.3-1.3z"/><path color="#29af7f" d="M813.9 255.7l4.3 1.4 2.7-2.8-4.4-1.4z"/><path color="#63cb5f" d="M857.3 245.8l4.4 1.1 2.6-4.2-4.4-1.3z"/><path color="#31b57b" d="M918.1 253.3l4.4 2.5 2.5-2.8-4.4-2.5z"/><path color="#1fa287" d="M945 260.3l4.4 2.6 2.5-3.3-4.4-2.6z"/><path color="#3bbb75" d="M716.6 251.7l4.2.5 2.8-2-4.2-.7z"/><path color="#56c667" d="M891.2 246.4l4.4 2.3 2.5-2.5-4.3-2.3z"/><path color="#4ec36b" d="M850.4 249.2l4.3 1 2.6-4.4-4.3-1z"/><path color="#2cb17e" d="M825.2 255.7l4.3 1.2 2.6-3.3-4.3-1.2z"/><path color="#65cb5e" d="M879.9 244.7l4.4 2.1 2.5-2.6-4.3-2.2z"/><path color="#3dbc74" d="M843.4 252.3l4.4 1.1 2.6-4.2-4.4-1.1z"/><path color="#23a983" d="M933.8 258.1l4.4 2.6 2.4-3-4.3-2.6z"/><path color="#6ccd5a" d="M868.6 244.1l4.4 1.7 2.6-3.1-4.4-1.9z"/><path color="#20928c" d="M688.8 270l4.1-2.1 2.8-5.4-4.1 1.5z"/><path color="#3dbc74" d="M906.9 251l4.3 2.4 2.5-2.6-4.3-2.5z"/><path color="#40bd72" d="M727.8 250.9l4.3.6 2.8-1.6-4.2-.9z"/><path color="#28ae80" d="M806.9 256.4l4.3 1.4 2.7-2.1-4.3-1.4z"/><path color="#2cb17e" d="M795.6 255.3l4.3 1.4 2.7-1.8-4.3-1.4z"/><path color="#42be71" d="M739.1 250.7l4.3.8 2.8-1.3-4.3-1z"/><path color="#32b67a" d="M836.5 254.9l4.3 1.1 2.6-3.7-4.3-1.2z"/><path color="#37b878" d="M709.6 253.7l4.2.3 2.8-2.3-4.2-.5z"/><path color="#31b57b" d="M784.3 254.1l4.3 1.3 2.7-1.4-4.3-1.5z"/><path color="#2ab07f" d="M922.5 255.8l4.4 2.6 2.5-2.8-4.4-2.6z"/><path color="#37b878" d="M773 253l4.3 1.1 2.7-1.2-4.3-1.4z"/><path color="#3fbc73" d="M750.4 251.1l4.3 1 2.7-1.2-4.2-1.1z"/><path color="#4cc26c" d="M895.6 248.7l4.4 2.4 2.5-2.5-4.4-2.4z"/><path color="#28ae80" d="M818.2 257.1l4.3 1.3 2.7-2.7-4.3-1.4z"/><path color="#3bbb75" d="M761.7 251.9l4.3 1 2.7-1.1-4.2-1.2z"/><path color="#63cb5f" d="M861.7 246.9l4.3 1.2 2.6-4-4.3-1.4z"/><path color="#20a386" d="M938.2 260.7l4.4 2.6 2.4-3-4.4-2.6z"/><path color="#22a785" d="M695.7 262.5l4.1-1.4 2.8-4.3-4.2.7z"/><path color="#5cc863" d="M884.3 246.8l4.4 2.1 2.5-2.5-4.4-2.2z"/><path color="#35b779" d="M911.2 253.4l4.4 2.5 2.5-2.6-4.4-2.5z"/><path color="#2eb37c" d="M702.6 256.8l4.2-.4 2.8-2.7-4.2-.2z"/><path color="#2cb17e" d="M829.5 256.9l4.3 1.3 2.7-3.3-4.4-1.3z"/><path color="#50c46a" d="M854.7 250.2l4.4 1 2.6-4.3-4.4-1.1z"/><path color="#67cc5c" d="M873 245.8l4.4 1.8 2.5-2.9-4.3-2z"/><path color="#40bd72" d="M720.8 252.2l4.2.4 2.8-1.7-4.2-.7z"/><path color="#25ac82" d="M926.9 258.4l4.4 2.5 2.5-2.8-4.4-2.5z"/><path color="#3fbc73" d="M847.8 253.4l4.3 1 2.6-4.2-4.3-1z"/><path color="#44bf70" d="M900 251.1l4.3 2.4 2.6-2.5-4.4-2.4z"/><path color="#28ae80" d="M811.2 257.8l4.3 1.4 2.7-2.1-4.3-1.4z"/><path color="#44bf70" d="M732.1 251.5l4.2.7 2.8-1.5-4.2-.8z"/><path color="#2cb17e" d="M799.9 256.7l4.3 1.4 2.7-1.7-4.3-1.5z"/><path color="#1f9f88" d="M942.6 263.3l4.4 2.6 2.4-3-4.4-2.6z"/><path color="#2fb47c" d="M788.6 255.4l4.3 1.2 2.7-1.3-4.3-1.3z"/><path color="#32b67a" d="M840.8 256l4.3 1.2 2.7-3.8-4.4-1.1z"/><path color="#37b878" d="M777.3 254.1l4.3 1.1 2.7-1.1-4.3-1.2z"/><path color="#28ae80" d="M822.5 258.4l4.4 1.3 2.6-2.8-4.3-1.2z"/><path color="#2eb37c" d="M915.6 255.9l4.4 2.5 2.5-2.6-4.4-2.5z"/><path color="#44bf70" d="M743.4 251.5l4.2.8 2.8-1.2-4.2-.9z"/><path color="#54c568" d="M888.7 248.9l4.3 2.3 2.6-2.5-4.4-2.3z"/><path color="#3bbb75" d="M766 252.9l4.2 1.1 2.8-1-4.3-1.2z"/><path color="#40bd72" d="M754.7 252.1l4.2.8 2.8-1-4.3-1z"/><path color="#60ca60" d="M866 248.1l4.4 1.3 2.6-3.6-4.4-1.7z"/><path color="#3bbb75" d="M713.8 254l4.2.2 2.8-2-4.2-.5z"/><path color="#21a685" d="M931.3 260.9l4.4 2.6 2.5-2.8-4.4-2.6z"/><path color="#60ca60" d="M877.4 247.6l4.3 1.9 2.6-2.7-4.4-2.1z"/><path color="#2cb17e" d="M833.8 258.2l4.4 1.2 2.6-3.4-4.3-1.1z"/><path color="#3bbb75" d="M904.3 253.5l4.4 2.4 2.5-2.5-4.3-2.4z"/><path color="#1e9d89" d="M692.9 267.9l4.1-2 2.8-4.8-4.1 1.4z"/><path color="#52c569" d="M859.1 251.2l4.3 1.1 2.6-4.2-4.3-1.2z"/><path color="#44bf70" d="M725 252.6l4.2.5 2.9-1.6-4.3-.6z"/><path color="#28ae80" d="M920 258.4l4.4 2.5 2.5-2.5-4.4-2.6z"/><path color="#40bd72" d="M852.1 254.4l4.4 1.1 2.6-4.3-4.4-1z"/><path color="#35b779" d="M706.8 256.4l4.1-.1 2.9-2.3-4.2-.3z"/><path color="#4ac16d" d="M893 251.2l4.4 2.2 2.6-2.3-4.4-2.4z"/><path color="#2ab07f" d="M804.2 258.1l4.3 1.4 2.7-1.7-4.3-1.4z"/><path color="#27ad81" d="M815.5 259.2l4.4 1.3 2.6-2.1-4.3-1.3z"/><path color="#28ae80" d="M699.8 261.1l4.1-1.2 2.9-3.5-4.2.4z"/><path color="#2fb47c" d="M792.9 256.6l4.3 1.4 2.7-1.3-4.3-1.4z"/><path color="#1fa187" d="M935.7 263.5l4.4 2.5 2.5-2.7-4.4-2.6z"/><path color="#48c16e" d="M736.3 252.2l4.2.5 2.9-1.2-4.3-.8z"/><path color="#34b679" d="M845.1 257.2l4.4 1.1 2.6-3.9-4.3-1z"/><path color="#28ae80" d="M826.9 259.7l4.3 1.2 2.6-2.7-4.3-1.3z"/><path color="#37b878" d="M781.6 255.2l4.3 1.2 2.7-1-4.3-1.3z"/><path color="#5ec962" d="M870.4 249.4l4.4 1.4 2.6-3.2-4.4-1.8z"/><path color="#58c765" d="M881.7 249.5l4.4 2 2.6-2.6-4.4-2.1z"/><path color="#34b679" d="M908.7 255.9l4.4 2.4 2.5-2.4-4.4-2.5z"/><path color="#3dbc74" d="M770.2 254l4.3 1 2.8-.9-4.3-1.1z"/><path color="#48c16e" d="M747.6 252.3l4.3.7 2.8-.9-4.3-1z"/><path color="#42be71" d="M758.9 252.9l4.3.9 2.8-.9-4.3-1z"/><path color="#24aa83" d="M924.4 260.9l4.4 2.5 2.5-2.5-4.4-2.5z"/><path color="#42be71" d="M718 254.2l4.2.2 2.8-1.8-4.2-.4z"/><path color="#2cb17e" d="M838.2 259.4l4.3 1.1 2.6-3.3-4.3-1.2z"/><path color="#52c569" d="M863.4 252.3l4.4 1.1 2.6-4-4.4-1.3z"/><path color="#42be71" d="M897.4 253.4l4.4 2.4 2.5-2.3-4.3-2.4z"/><path color="#1e9c89" d="M940.1 266l4.4 2.6 2.5-2.7-4.4-2.6z"/><path color="#42be71" d="M856.5 255.5l4.3 1 2.6-4.2-4.3-1.1z"/><path color="#29af7f" d="M808.5 259.5l4.4 1.2 2.6-1.5-4.3-1.4z"/><path color="#2db27d" d="M913.1 258.3l4.4 2.5 2.5-2.4-4.4-2.5z"/><path color="#27ad81" d="M819.9 260.5l4.3 1.3 2.7-2.1-4.4-1.3z"/><path color="#52c569" d="M886.1 251.5l4.4 2.1 2.5-2.4-4.3-2.3z"/><path color="#2eb37c" d="M797.2 258l4.3 1.5 2.7-1.4-4.3-1.4z"/><path color="#4ac16d" d="M729.2 253.1l4.3.4 2.8-1.3-4.2-.7z"/><path color="#5ac864" d="M874.8 250.8l4.4 1.6 2.5-2.9-4.3-1.9z"/><path color="#21a585" d="M928.8 263.4l4.4 2.5 2.5-2.4-4.4-2.6z"/><path color="#3dbc74" d="M710.9 256.3l4.2-.1 2.9-2-4.2-.2z"/><path color="#28ae80" d="M831.2 260.9l4.3 1.2 2.7-2.7-4.4-1.2z"/><path color="#37b878" d="M785.9 256.4l4.3 1.2 2.7-1-4.3-1.2z"/><path color="#35b779" d="M849.5 258.3l4.4 1.1 2.6-3.9-4.4-1.1z"/><path color="#4cc26c" d="M740.5 252.7l4.3.6 2.8-1-4.2-.8z"/><path color="#3fbc73" d="M774.5 255l4.3 1 2.8-.8-4.3-1.1z"/><path color="#22a785" d="M697 265.9l4.1-1.8 2.8-4.2-4.1 1.2z"/><path color="#3aba76" d="M901.8 255.8l4.4 2.3 2.5-2.2-4.4-2.4z"/><path color="#4ac16d" d="M751.9 253l4.2.7 2.8-.8-4.2-.8z"/><path color="#46c06f" d="M763.2 253.8l4.3.9 2.7-.7-4.2-1.1z"/><path color="#32b67a" d="M703.9 259.9l4.2-.9 2.8-2.7-4.1.1z"/><path color="#27ad81" d="M917.5 260.8l4.4 2.4 2.5-2.3-4.4-2.5z"/><path color="#2db27d" d="M842.5 260.5l4.4 1.2 2.6-3.4-4.4-1.1z"/><path color="#52c569" d="M867.8 253.4l4.4 1.1 2.6-3.7-4.4-1.4z"/><path color="#4ac16d" d="M890.5 253.6l4.4 2.2 2.5-2.4-4.4-2.2z"/><path color="#1fa088" d="M933.2 265.9l4.4 2.6 2.5-2.5-4.4-2.5z"/><path color="#4ac16d" d="M722.2 254.4l4.2.2 2.8-1.5-4.2-.5z"/><path color="#29af7f" d="M812.9 260.7l4.3 1.3 2.7-1.5-4.4-1.3z"/><path color="#54c568" d="M879.2 252.4l4.4 1.8 2.5-2.7-4.4-2z"/><path color="#27ad81" d="M824.2 261.8l4.3 1.2 2.7-2.1-4.3-1.2z"/><path color="#42be71" d="M860.8 256.5l4.4 1 2.6-4.1-4.4-1.1z"/><path color="#2eb37c" d="M801.5 259.5l4.3 1.2 2.7-1.2-4.3-1.4z"/><path color="#34b679" d="M906.2 258.1l4.4 2.4 2.5-2.2-4.4-2.4z"/><path color="#35b779" d="M790.2 257.6l4.3 1.5 2.7-1.1-4.3-1.4z"/><path color="#28ae80" d="M835.5 262.1l4.4 1.2 2.6-2.8-4.3-1.1z"/><path color="#50c46a" d="M733.5 253.5l4.2.3 2.8-1.1-4.2-.5z"/><path color="#35b779" d="M853.9 259.4l4.3 1 2.6-3.9-4.3-1z"/><path color="#23a983" d="M921.9 263.2l4.4 2.5 2.5-2.3-4.4-2.5z"/><path color="#3fbc73" d="M778.8 256l4.3 1.1 2.8-.7-4.3-1.2z"/><path color="#52c569" d="M744.8 253.3l4.3.5 2.8-.8-4.3-.7z"/><path color="#42be71" d="M894.9 255.8l4.4 2.2 2.5-2.2-4.4-2.4z"/><path color="#1e9b8a" d="M937.6 268.5l4.4 2.5 2.5-2.4-4.4-2.6z"/><path color="#44bf70" d="M715.1 256.2l4.2 0 2.9-1.8-4.2-.2z"/><path color="#48c16e" d="M767.5 254.7l4.3.8 2.7-.5-4.3-1z"/><path color="#4ec36b" d="M756.1 253.7l4.3.7 2.8-.6-4.3-.9z"/><path color="#50c46a" d="M872.2 254.5l4.4 1.3 2.6-3.4-4.4-1.6z"/><path color="#2db27d" d="M846.9 261.7l4.3 1.1 2.7-3.4-4.4-1.1z"/><path color="#4ec36b" d="M883.6 254.2l4.3 1.9 2.6-2.5-4.4-2.1z"/><path color="#2db27d" d="M910.6 260.5l4.4 2.4 2.5-2.1-4.4-2.5z"/><path color="#29af7f" d="M817.2 262l4.3 1.3 2.7-1.5-4.3-1.3z"/><path color="#20a486" d="M926.3 265.7l4.4 2.5 2.5-2.3-4.4-2.5z"/><path color="#27ad81" d="M828.5 263l4.4 1.2 2.6-2.1-4.3-1.2z"/><path color="#2eb37c" d="M805.8 260.7l4.4 1.2 2.7-1.2-4.4-1.2z"/><path color="#3dbc74" d="M708.1 259l4.2-.7 2.8-2.1-4.2.1z"/><path color="#44bf70" d="M865.2 257.5l4.4 1.1 2.6-4.1-4.4-1.1z"/><path color="#2cb17e" d="M701.1 264.1l4.2-1.6 2.8-3.5-4.2.9z"/><path color="#50c46a" d="M726.4 254.6l4.2.1 2.9-1.2-4.3-.4z"/><path color="#35b779" d="M794.5 259.1l4.3 1.4 2.7-1-4.3-1.5z"/><path color="#3aba76" d="M899.3 258l4.4 2.3 2.5-2.2-4.4-2.3z"/><path color="#28ae80" d="M839.9 263.3l4.4 1.1 2.6-2.7-4.4-1.2z"/><path color="#37b878" d="M858.2 260.4l4.4 1.1 2.6-4-4.4-1z"/><path color="#3fbc73" d="M783.1 257.1l4.3 1.4 2.8-.9-4.3-1.2z"/><path color="#56c667" d="M737.7 253.8l4.3.4 2.8-.9-4.3-.6z"/><path color="#27ad81" d="M915 262.9l4.4 2.5 2.5-2.2-4.4-2.4z"/><path color="#48c16e" d="M887.9 256.1l4.4 2 2.6-2.3-4.4-2.2z"/><path color="#4ec36b" d="M876.6 255.8l4.4 1.5 2.6-3.1-4.4-1.8z"/><path color="#4ac16d" d="M771.8 255.5l4.3 1.1 2.7-.6-4.3-1z"/><path color="#56c667" d="M749.1 253.8l4.2.5 2.8-.6-4.2-.7z"/><path color="#1fa088" d="M930.7 268.2l4.5 2.4 2.4-2.1-4.4-2.6z"/><path color="#52c569" d="M760.4 254.4l4.3.7 2.8-.4-4.3-.9z"/><path color="#2eb37c" d="M851.2 262.8l4.4 1.1 2.6-3.5-4.3-1z"/><path color="#4ec36b" d="M719.3 256.2l4.3-.1 2.8-1.5-4.2-.2z"/><path color="#34b679" d="M903.7 260.3l4.4 2.3 2.5-2.1-4.4-2.4z"/><path color="#29af7f" d="M821.5 263.3l4.4 1.1 2.6-1.4-4.3-1.2z"/><path color="#2eb37c" d="M810.2 261.9l4.3 1.2 2.7-1.1-4.3-1.3z"/><path color="#27ad81" d="M832.9 264.2l4.4 1.1 2.6-2-4.4-1.2z"/><path color="#44bf70" d="M869.6 258.6l4.4 1.1 2.6-3.9-4.4-1.3z"/><path color="#34b679" d="M798.8 260.5l4.3 1.2 2.7-1-4.3-1.2z"/><path color="#23a983" d="M919.4 265.4l4.4 2.4 2.5-2.1-4.4-2.5z"/><path color="#29af7f" d="M844.3 264.4l4.3 1.1 2.6-2.7-4.3-1.1z"/><path color="#42be71" d="M892.3 258.1l4.4 2.1 2.6-2.2-4.4-2.2z"/><path color="#1e9b8a" d="M935.2 270.6l4.4 2.5 2.4-2.1-4.4-2.5z"/><path color="#3dbc74" d="M787.4 258.5l4.4 1.5 2.7-.9-4.3-1.5z"/><path color="#58c765" d="M730.6 254.7l4.3.1 2.8-1-4.2-.3z"/><path color="#38b977" d="M862.6 261.5l4.4 1 2.6-3.9-4.4-1.1z"/><path color="#48c16e" d="M712.3 258.3l4.2-.4 2.8-1.7-4.2 0z"/><path color="#4ac16d" d="M881 257.3l4.4 1.6 2.5-2.8-4.3-1.9z"/><path color="#4ac16d" d="M776.1 256.6l4.3 1.2 2.7-.7-4.3-1.1z"/><path color="#2eb37c" d="M908.1 262.6l4.4 2.4 2.5-2.1-4.4-2.4z"/><path color="#5cc863" d="M742 254.2l4.2.3 2.9-.7-4.3-.5z"/><path color="#3aba76" d="M705.3 262.5l4.2-1.4 2.8-2.8-4.2.7z"/><path color="#2eb37c" d="M855.6 263.9l4.4 1 2.6-3.4-4.4-1.1z"/><path color="#56c667" d="M764.7 255.1l4.3.9 2.8-.5-4.3-.8z"/><path color="#5cc863" d="M753.3 254.3l4.3.6 2.8-.5-4.3-.7z"/><path color="#21a585" d="M923.8 267.8l4.5 2.4 2.4-2-4.4-2.5z"/><path color="#29af7f" d="M825.9 264.4l4.3 1.2 2.7-1.4-4.4-1.2z"/><path color="#2eb37c" d="M814.5 263.1l4.4 1.2 2.6-1-4.3-1.3z"/><path color="#28ae80" d="M837.3 265.3l4.3 1.1 2.7-2-4.4-1.1z"/><path color="#3bbb75" d="M896.7 260.2l4.5 2.2 2.5-2.1-4.4-2.3z"/><path color="#44bf70" d="M874 259.7l4.4 1.1 2.6-3.5-4.4-1.5z"/><path color="#34b679" d="M803.1 261.7l4.4 1.1 2.7-.9-4.4-1.2z"/><path color="#58c765" d="M723.6 256.1l4.2-.2 2.8-1.2-4.2-.1z"/><path color="#46c06f" d="M885.4 258.9l4.4 1.8 2.5-2.6-4.4-2z"/><path color="#3dbc74" d="M791.8 260l4.3 1.3 2.7-.8-4.3-1.4z"/><path color="#29af7f" d="M848.6 265.5l4.4 1.1 2.6-2.7-4.4-1.1z"/><path color="#28ae80" d="M912.5 265l4.4 2.3 2.5-1.9-4.4-2.5z"/><path color="#3aba76" d="M867 262.5l4.4 1.1 2.6-3.9-4.4-1.1z"/><path color="#1fa188" d="M928.3 270.2l4.4 2.4 2.5-2-4.5-2.4z"/><path color="#4ac16d" d="M780.4 257.8l4.3 1.4 2.7-.7-4.3-1.4z"/><path color="#60ca60" d="M734.9 254.8l4.2.1 2.9-.7-4.3-.4z"/><path color="#35b779" d="M901.2 262.4l4.4 2.2 2.5-2-4.4-2.3z"/><path color="#54c568" d="M716.5 257.9l4.2-.4 2.9-1.4-4.3.1z"/><path color="#2fb47c" d="M860 264.9l4.4 1.1 2.6-3.5-4.4-1z"/><path color="#58c765" d="M769 256l4.3 1 2.8-.4-4.3-1.1z"/><path color="#65cb5e" d="M746.2 254.5l4.3.3 2.8-.5-4.2-.5z"/><path color="#60ca60" d="M757.6 254.9l4.3.6 2.8-.4-4.3-.7z"/><path color="#2ab07f" d="M830.2 265.6l4.4 1.1 2.7-1.4-4.4-1.1z"/><path color="#44bf70" d="M878.4 260.8l4.4 1.3 2.6-3.2-4.4-1.6z"/><path color="#2eb37c" d="M818.9 264.3l4.3 1.1 2.7-1-4.4-1.1z"/><path color="#24aa83" d="M916.9 267.3l4.4 2.4 2.5-1.9-4.4-2.4z"/><path color="#28ae80" d="M841.6 266.4l4.4 1.1 2.6-2-4.3-1.1z"/><path color="#40bd72" d="M889.8 260.7l4.4 1.9 2.5-2.4-4.4-2.1z"/><path color="#35b779" d="M807.5 262.8l4.3 1.1 2.7-.8-4.3-1.2z"/><path color="#1e9c89" d="M932.7 272.6l4.4 2.4 2.5-1.9-4.4-2.5z"/><path color="#48c16e" d="M709.5 261.1l4.1-1.2 2.9-2-4.2.4z"/><path color="#3dbc74" d="M796.1 261.3l4.3 1 2.7-.6-4.3-1.2z"/><path color="#2ab07f" d="M853 266.6l4.4 1.1 2.6-2.8-4.4-1z"/><path color="#3aba76" d="M871.4 263.6l4.4 1 2.6-3.8-4.4-1.1z"/><path color="#63cb5f" d="M727.8 255.9l4.2-.1 2.9-1-4.3-.1z"/><path color="#2fb47c" d="M905.6 264.6l4.4 2.3 2.5-1.9-4.4-2.4z"/><path color="#4ac16d" d="M784.7 259.2l4.3 1.3 2.8-.5-4.4-1.5z"/><path color="#21a685" d="M921.3 269.7l4.5 2.3 2.5-1.8-4.5-2.4z"/><path color="#31b57b" d="M864.4 266l4.4 1.1 2.6-3.5-4.4-1.1z"/><path color="#58c765" d="M773.3 257l4.3 1.3 2.8-.5-4.3-1.2z"/><path color="#3bbb75" d="M894.2 262.6l4.4 2 2.6-2.2-4.5-2.2z"/><path color="#69cd5b" d="M739.1 254.9l4.3.1 2.8-.5-4.2-.3z"/><path color="#42be71" d="M882.8 262.1l4.4 1.4 2.6-2.8-4.4-1.8z"/><path color="#2ab07f" d="M834.6 266.7l4.4 1.1 2.6-1.4-4.3-1.1z"/><path color="#2eb37c" d="M823.2 265.4l4.4 1.1 2.6-.9-4.3-1.2z"/><path color="#65cb5e" d="M761.9 255.5l4.3.9 2.8-.4-4.3-.9z"/><path color="#6ccd5a" d="M750.5 254.8l4.3.5 2.8-.4-4.3-.6z"/><path color="#29af7f" d="M846 267.5l4.4 1.1 2.6-2-4.4-1.1z"/><path color="#35b779" d="M811.8 263.9l4.4 1.1 2.7-.7-4.4-1.2z"/><path color="#60ca60" d="M720.7 257.5l4.2-.4 2.9-1.2-4.2.2z"/><path color="#29af7f" d="M910 266.9l4.4 2.3 2.5-1.9-4.4-2.3z"/><path color="#3dbc74" d="M800.4 262.3l4.4 1.1 2.7-.6-4.4-1.1z"/><path color="#2cb17e" d="M857.4 267.7l4.4 1.1 2.6-2.8-4.4-1.1z"/><path color="#1fa287" d="M925.8 272l4.4 2.3 2.5-1.7-4.4-2.4z"/><path color="#3bbb75" d="M875.8 264.6l4.4 1.1 2.6-3.6-4.4-1.3z"/><path color="#48c16e" d="M789 260.5l4.3 1.2 2.8-.4-4.3-1.3z"/><path color="#37b878" d="M898.6 264.6l4.4 2 2.6-2-4.4-2.2z"/><path color="#58c765" d="M713.6 259.9l4.2-.8 2.9-1.6-4.2.4z"/><path color="#6ece58" d="M732 255.8l4.3-.1 2.8-.8-4.2-.1z"/><path color="#3fbc73" d="M887.2 263.5l4.4 1.6 2.6-2.5-4.4-1.9z"/><path color="#58c765" d="M777.6 258.3l4.3 1.3 2.8-.4-4.3-1.4z"/><path color="#32b67a" d="M868.8 267.1l4.4 1 2.6-3.5-4.4-1z"/><path color="#25ac82" d="M914.4 269.2l4.4 2.3 2.5-1.8-4.4-2.4z"/><path color="#2cb17e" d="M839 267.8l4.4 1.1 2.6-1.4-4.4-1.1z"/><path color="#2fb47c" d="M827.6 266.5l4.3 1.1 2.7-.9-4.4-1.1z"/><path color="#1f9e89" d="M930.2 274.3l4.4 2.3 2.5-1.6-4.4-2.4z"/><path color="#73d056" d="M743.4 255l4.3.3 2.8-.5-4.3-.3z"/><path color="#67cc5c" d="M766.2 256.4l4.3 1 2.8-.4-4.3-1z"/><path color="#2ab07f" d="M850.4 268.6l4.4 1.1 2.6-2-4.4-1.1z"/><path color="#37b878" d="M816.2 265l4.3 1.1 2.7-.7-4.3-1.1z"/><path color="#70cf57" d="M754.8 255.3l4.3.6 2.8-.4-4.3-.6z"/><path color="#3fbc73" d="M804.8 263.4l4.3 1 2.7-.5-4.3-1.1z"/><path color="#31b57b" d="M903 266.6l4.5 2.2 2.5-1.9-4.4-2.3z"/><path color="#2cb17e" d="M861.8 268.8l4.4 1 2.6-2.7-4.4-1.1z"/><path color="#3bbb75" d="M880.2 265.7l4.4 1.2 2.6-3.4-4.4-1.4z"/><path color="#4ac16d" d="M793.3 261.7l4.4 1 2.7-.4-4.3-1z"/><path color="#6ece58" d="M724.9 257.1l4.3-.3 2.8-1-4.2.1z"/><path color="#22a884" d="M918.8 271.5l4.5 2.2 2.5-1.7-4.5-2.3z"/><path color="#3bbb75" d="M891.6 265.1l4.5 1.7 2.5-2.2-4.4-2z"/><path color="#58c765" d="M781.9 259.6l4.4 1.2 2.7-.3-4.3-1.3z"/><path color="#32b67a" d="M873.2 268.1l4.4 1.1 2.6-3.5-4.4-1.1z"/><path color="#2cb17e" d="M843.4 268.9l4.3 1 2.7-1.3-4.4-1.1z"/><path color="#7ad151" d="M736.3 255.7l4.2 0 2.9-.7-4.3-.1z"/><path color="#31b57b" d="M831.9 267.6l4.4 1.1 2.7-.9-4.4-1.1z"/><path color="#2cb17e" d="M907.5 268.8l4.4 2.2 2.5-1.8-4.4-2.3z"/><path color="#67cc5c" d="M770.5 257.4l4.3 1.2 2.8-.3-4.3-1.3z"/><path color="#2ab07f" d="M854.8 269.7l4.4 1 2.6-1.9-4.4-1.1z"/><path color="#67cc5c" d="M717.8 259.1l4.3-.7 2.8-1.3-4.2.4z"/><path color="#37b878" d="M820.5 266.1l4.4 1 2.7-.6-4.4-1.1z"/><path color="#7cd250" d="M747.7 255.3l4.2.4 2.9-.4-4.3-.5z"/><path color="#75d054" d="M759.1 255.9l4.3.8 2.8-.3-4.3-.9z"/><path color="#20a486" d="M923.3 273.7l4.4 2.3 2.5-1.7-4.4-2.3z"/><path color="#40bd72" d="M809.1 264.4l4.4 1 2.7-.4-4.4-1.1z"/><path color="#3aba76" d="M884.6 266.9l4.5 1.2 2.5-3-4.4-1.6z"/><path color="#2db27d" d="M866.2 269.8l4.4 1.1 2.6-2.8-4.4-1z"/><path color="#37b878" d="M896.1 266.8l4.4 1.9 2.5-2.1-4.4-2z"/><path color="#4ac16d" d="M797.7 262.7l4.3 1 2.8-.3-4.4-1.1z"/><path color="#58c765" d="M786.3 260.8l4.3 1.2 2.7-.3-4.3-1.2z"/><path color="#27ad81" d="M911.9 271l4.4 2.2 2.5-1.7-4.4-2.3z"/><path color="#7ad151" d="M729.2 256.8l4.2-.3 2.9-.8-4.3.1z"/><path color="#34b679" d="M877.6 269.2l4.4 1.1 2.6-3.4-4.4-1.2z"/><path color="#1fa188" d="M927.7 276l4.5 2.2 2.4-1.6-4.4-2.3z"/><path color="#2db27d" d="M847.7 269.9l4.4 1 2.7-1.2-4.4-1.1z"/><path color="#31b57b" d="M836.3 268.7l4.4 1 2.7-.8-4.4-1.1z"/><path color="#69cd5b" d="M774.8 258.6l4.3 1.2 2.8-.2-4.3-1.3z"/><path color="#2cb17e" d="M859.2 270.7l4.4 1.1 2.6-2-4.4-1z"/><path color="#38b977" d="M824.9 267.1l4.4 1 2.6-.5-4.3-1.1z"/><path color="#32b67a" d="M900.5 268.7l4.4 2 2.6-1.9-4.5-2.2z"/><path color="#84d44b" d="M740.5 255.7l4.3.1 2.9-.5-4.3-.3z"/><path color="#38b977" d="M889.1 268.1l4.4 1.4 2.6-2.7-4.5-1.7z"/><path color="#7ad151" d="M763.4 256.7l4.3.9 2.8-.2-4.3-1z"/><path color="#42be71" d="M813.5 265.4l4.3 1 2.7-.3-4.3-1.1z"/><path color="#2eb37c" d="M870.6 270.9l4.4 1.1 2.6-2.8-4.4-1.1z"/><path color="#84d44b" d="M751.9 255.7l4.3.6 2.9-.4-4.3-.6z"/><path color="#24aa83" d="M916.3 273.2l4.5 2.1 2.5-1.6-4.5-2.2z"/><path color="#4cc26c" d="M802 263.7l4.4 1 2.7-.3-4.3-1z"/><path color="#77d153" d="M722.1 258.4l4.2-.5 2.9-1.1-4.3.3z"/><path color="#58c765" d="M790.6 262l4.3.9 2.8-.2-4.4-1z"/><path color="#34b679" d="M882 270.3l4.5 1.1 2.6-3.3-4.5-1.2z"/><path color="#2eb37c" d="M904.9 270.7l4.5 2 2.5-1.7-4.4-2.2z"/><path color="#69cd5b" d="M779.1 259.8l4.4 1.1 2.8-.1-4.4-1.2z"/><path color="#2eb37c" d="M852.1 270.9l4.5 1 2.6-1.2-4.4-1z"/><path color="#32b67a" d="M840.7 269.7l4.4 1 2.6-.8-4.3-1z"/><path color="#2db27d" d="M863.6 271.8l4.4 1 2.6-1.9-4.4-1.1z"/><path color="#37b878" d="M893.5 269.5l4.4 1.5 2.6-2.3-4.4-1.9z"/><path color="#89d548" d="M733.4 256.5l4.3-.1 2.8-.7-4.2 0z"/><path color="#3aba76" d="M829.3 268.1l4.4 1 2.6-.4-4.4-1.1z"/><path color="#21a685" d="M920.8 275.3l4.4 2.2 2.5-1.5-4.4-2.3z"/><path color="#7ad151" d="M767.7 257.6l4.3 1.1 2.8-.1-4.3-1.2z"/><path color="#44bf70" d="M817.8 266.4l4.4 1 2.7-.3-4.4-1z"/><path color="#2fb47c" d="M875 272l4.4 1.1 2.6-2.8-4.4-1.1z"/><path color="#8ed645" d="M744.8 255.8l4.3.3 2.8-.4-4.2-.4z"/><path color="#89d548" d="M756.2 256.3l4.4.6 2.8-.2-4.3-.8z"/><path color="#4ec36b" d="M806.4 264.7l4.4 1 2.7-.3-4.4-1z"/><path color="#29af7f" d="M909.4 272.7l4.4 2.1 2.5-1.6-4.4-2.2z"/><path color="#5ac864" d="M794.9 262.9l4.4.9 2.7-.1-4.3-1z"/><path color="#35b779" d="M886.5 271.4l4.4 1.1 2.6-3-4.4-1.4z"/><path color="#86d549" d="M726.3 257.9l4.3-.4 2.8-1-4.2.3z"/><path color="#20a386" d="M925.2 277.5l4.5 2.1 2.5-1.4-4.5-2.2z"/><path color="#34b679" d="M897.9 271l4.5 1.7 2.5-2-4.4-2z"/><path color="#69cd5b" d="M783.5 260.9l4.3 1.1 2.8 0-4.3-1.2z"/><path color="#2fb47c" d="M856.6 271.9l4.4 1.1 2.6-1.2-4.4-1.1z"/><path color="#34b679" d="M845.1 270.7l4.4 1 2.6-.8-4.4-1z"/><path color="#2eb37c" d="M868 272.8l4.4 1.1 2.6-1.9-4.4-1.1z"/><path color="#3bbb75" d="M833.7 269.1l4.4 1 2.6-.4-4.4-1z"/><path color="#7cd250" d="M772 258.7l4.4 1.1 2.7 0-4.3-1.2z"/><path color="#46c06f" d="M822.2 267.4l4.4 1 2.7-.3-4.4-1z"/><path color="#26ad81" d="M913.8 274.8l4.5 2.1 2.5-1.6-4.5-2.1z"/><path color="#2fb47c" d="M879.4 273.1l4.5 1.1 2.6-2.8-4.5-1.1z"/><path color="#95d840" d="M737.7 256.4l4.3 0 2.8-.6-4.3-.1z"/><path color="#52c569" d="M810.8 265.7l4.3.9 2.7-.2-4.3-1z"/><path color="#8ed645" d="M760.6 256.9l4.3.8 2.8-.1-4.3-.9z"/><path color="#95d840" d="M749.1 256.1l4.3.4 2.8-.2-4.3-.6z"/><path color="#2fb47c" d="M902.4 272.7l4.4 1.8 2.6-1.8-4.5-2z"/><path color="#34b679" d="M890.9 272.5l4.5 1.2 2.5-2.7-4.4-1.5z"/><path color="#5ec962" d="M799.3 263.8l4.4 1 2.7-.1-4.4-1z"/><path color="#6ccd5a" d="M787.8 262l4.4.9 2.7 0-4.3-.9z"/><path color="#31b57b" d="M861 273l4.4 1 2.6-1.2-4.4-1z"/><path color="#35b779" d="M849.5 271.7l4.4 1 2.7-.8-4.5-1z"/><path color="#2fb47c" d="M872.4 273.9l4.5 1 2.5-1.8-4.4-1.1z"/><path color="#24aa83" d="M918.3 276.9l4.4 2 2.5-1.4-4.4-2.2z"/><path color="#3dbc74" d="M838.1 270.1l4.4 1 2.6-.4-4.4-1z"/><path color="#95d840" d="M730.6 257.5l4.2-.3 2.9-.8-4.3.1z"/><path color="#7cd250" d="M776.4 259.8l4.3 1 2.8.1-4.4-1.1z"/><path color="#31b57b" d="M883.9 274.2l4.4 1.1 2.6-2.8-4.4-1.1z"/><path color="#48c16e" d="M826.6 268.4l4.4.9 2.7-.2-4.4-1z"/><path color="#2db27d" d="M906.8 274.5l4.5 1.9 2.5-1.6-4.4-2.1z"/><path color="#54c568" d="M815.1 266.6l4.4.9 2.7-.1-4.4-1z"/><path color="#90d743" d="M764.9 257.7l4.3.9 2.8.1-4.3-1.1z"/><path color="#a0da39" d="M742 256.4l4.3.1 2.8-.4-4.3-.3z"/><path color="#34b679" d="M895.4 273.7l4.4 1.4 2.6-2.4-4.5-1.7z"/><path color="#9dd93b" d="M753.4 256.5l4.3.5 2.9-.1-4.4-.6z"/><path color="#60ca60" d="M803.7 264.8l4.3.9 2.8 0-4.4-1z"/><path color="#21a685" d="M922.7 278.9l4.5 2 2.5-1.3-4.5-2.1z"/><path color="#6ece58" d="M792.2 262.9l4.3.9 2.8 0-4.4-.9z"/><path color="#32b67a" d="M865.4 274l4.4 1 2.6-1.1-4.4-1.1z"/><path color="#37b878" d="M853.9 272.7l4.4.9 2.7-.6-4.4-1.1z"/><path color="#2fb47c" d="M876.9 274.9l4.4 1.1 2.6-1.8-4.5-1.1z"/><path color="#3fbc73" d="M842.5 271.1l4.4.9 2.6-.3-4.4-1z"/><path color="#29af7f" d="M911.3 276.4l4.4 2 2.6-1.5-4.5-2.1z"/><path color="#7fd34e" d="M780.7 260.8l4.4 1 2.7.2-4.3-1.1z"/><path color="#31b57b" d="M888.3 275.3l4.5 1.2 2.6-2.8-4.5-1.2z"/><path color="#4ac16d" d="M831 269.3l4.4 1 2.7-.2-4.4-1z"/><path color="#a5db36" d="M734.8 257.2l4.3-.1 2.9-.7-4.3 0z"/><path color="#31b57b" d="M899.8 275.1l4.5 1.4 2.5-2-4.4-1.8z"/><path color="#56c667" d="M819.5 267.5l4.4.9 2.7 0-4.4-1z"/><path color="#93d741" d="M769.2 258.6l4.3 1 2.9.2-4.4-1.1z"/><path color="#aadc32" d="M746.3 256.5l4.3.3 2.8-.3-4.3-.4z"/><path color="#63cb5f" d="M808 265.7l4.4.9 2.7 0-4.3-.9z"/><path color="#a2da37" d="M757.7 257l4.3.7 2.9 0-4.3-.8z"/><path color="#34b679" d="M869.8 275l4.5 1 2.6-1.1-4.5-1z"/><path color="#26ad81" d="M915.7 278.4l4.5 1.9 2.5-1.4-4.4-2z"/><path color="#73d056" d="M796.5 263.8l4.4.9 2.8.1-4.4-1z"/><path color="#31b57b" d="M881.3 276l4.4 1.1 2.6-1.8-4.4-1.1z"/><path color="#38b977" d="M858.3 273.6l4.5 1 2.6-.6-4.4-1z"/><path color="#40bd72" d="M846.9 272l4.4.9 2.6-.2-4.4-1z"/><path color="#81d34d" d="M785.1 261.8l4.3.9 2.8.2-4.4-.9z"/><path color="#31b57b" d="M892.8 276.5l4.4 1.2 2.6-2.6-4.4-1.4z"/><path color="#2fb47c" d="M904.3 276.5l4.4 1.7 2.6-1.8-4.5-1.9z"/><path color="#4cc26c" d="M835.4 270.3l4.4.9 2.7-.1-4.4-1z"/><path color="#95d840" d="M773.5 259.6l4.4 1 2.8.2-4.3-1z"/><path color="#58c765" d="M823.9 268.4l4.4.9 2.7 0-4.4-.9z"/><path color="#b2dd2d" d="M739.1 257.1l4.3 0 2.9-.6-4.3-.1z"/><path color="#24aa83" d="M920.2 280.3l4.5 1.9 2.5-1.3-4.5-2z"/><path color="#67cc5c" d="M812.4 266.6l4.4.9 2.7 0-4.4-.9z"/><path color="#a8db34" d="M762 257.7l4.4.7 2.8.2-4.3-.9z"/><path color="#b2dd2d" d="M750.6 256.8l4.3.4 2.8-.2-4.3-.5z"/><path color="#35b779" d="M874.3 276l4.4 1.1 2.6-1.1-4.4-1.1z"/><path color="#31b57b" d="M885.7 277.1l4.5 1.2 2.6-1.8-4.5-1.2z"/><path color="#75d054" d="M800.9 264.7l4.4.8 2.7.2-4.3-.9z"/><path color="#3aba76" d="M862.8 274.6l4.4 1 2.6-.6-4.4-1z"/><path color="#2db27d" d="M908.7 278.2l4.5 1.7 2.5-1.5-4.4-2z"/><path color="#31b57b" d="M897.2 277.7l4.5 1.2 2.6-2.4-4.5-1.4z"/><path color="#44bf70" d="M851.3 272.9l4.4 1 2.6-.3-4.4-.9z"/><path color="#86d549" d="M789.4 262.7l4.4.9 2.7.2-4.3-.9z"/><path color="#4ec36b" d="M839.8 271.2l4.4.9 2.7-.1-4.4-.9z"/><path color="#98d83e" d="M777.9 260.6l4.4.9 2.8.3-4.4-1z"/><path color="#5cc863" d="M828.3 269.3l4.4.9 2.7.1-4.4-1z"/><path color="#69cd5b" d="M816.8 267.5l4.4.8 2.7.1-4.4-.9z"/><path color="#addc30" d="M766.4 258.4l4.3.9 2.8.3-4.3-1z"/><path color="#29af7f" d="M913.2 279.9l4.5 1.8 2.5-1.4-4.5-1.9z"/><path color="#bddf26" d="M743.4 257.1l4.3.1 2.9-.4-4.3-.3z"/><path color="#35b779" d="M878.7 277.1l4.5 1.1 2.5-1.1-4.4-1.1z"/><path color="#32b67a" d="M890.2 278.3l4.5 1.2 2.5-1.8-4.4-1.2z"/><path color="#bade28" d="M754.9 257.2l4.3.4 2.8.1-4.3-.7z"/><path color="#3bbb75" d="M867.2 275.6l4.5 1 2.6-.6-4.5-1z"/><path color="#7ad151" d="M805.3 265.5l4.4.9 2.7.2-4.4-.9z"/><path color="#31b57b" d="M901.7 278.9l4.5 1.3 2.5-2-4.4-1.7z"/><path color="#46c06f" d="M855.7 273.9l4.5 1 2.6-.3-4.5-1z"/><path color="#89d548" d="M793.8 263.6l4.4.8 2.7.3-4.4-.9z"/><path color="#52c569" d="M844.2 272.1l4.4.9 2.7-.1-4.4-.9z"/><path color="#9bd93c" d="M782.3 261.5l4.3.9 2.8.3-4.3-.9z"/><path color="#5ec962" d="M832.7 270.2l4.4.9 2.7.1-4.4-.9z"/><path color="#27ad81" d="M917.7 281.7l4.5 1.7 2.5-1.2-4.5-1.9z"/><path color="#6ccd5a" d="M821.2 268.3l4.4.9 2.7.1-4.4-.9z"/><path color="#b0dd2f" d="M770.7 259.3l4.4.9 2.8.4-4.4-1z"/><path color="#32b67a" d="M894.7 279.5l4.5 1.2 2.5-1.8-4.5-1.2z"/><path color="#37b878" d="M883.2 278.2l4.4 1.1 2.6-1-4.5-1.2z"/><path color="#2fb47c" d="M906.2 280.2l4.5 1.4 2.5-1.7-4.5-1.7z"/><path color="#3dbc74" d="M871.7 276.6l4.4 1 2.6-.5-4.4-1.1z"/><path color="#7cd250" d="M809.7 266.4l4.4.8 2.7.3-4.4-.9z"/><path color="#c8e020" d="M747.7 257.2l4.3.2 2.9-.2-4.3-.4z"/><path color="#c2df23" d="M759.2 257.6l4.3.6 2.9.2-4.4-.7z"/><path color="#48c16e" d="M860.2 274.9l4.4 1 2.6-.3-4.4-1z"/><path color="#8ed645" d="M798.2 264.4l4.3.8 2.8.3-4.4-.8z"/><path color="#54c568" d="M848.6 273l4.5 1 2.6-.1-4.4-1z"/><path color="#a0da39" d="M786.6 262.4l4.4.8 2.8.4-4.4-.9z"/><path color="#60ca60" d="M837.1 271.1l4.4 1 2.7 0-4.4-.9z"/><path color="#2db27d" d="M910.7 281.6l4.5 1.5 2.5-1.4-4.5-1.8z"/><path color="#32b67a" d="M899.2 280.7l4.4 1.2 2.6-1.7-4.5-1.3z"/><path color="#70cf57" d="M825.6 269.2l4.4.9 2.7.1-4.4-.9z"/><path color="#b2dd2d" d="M775.1 260.2l4.3.9 2.9.4-4.4-.9z"/><path color="#37b878" d="M887.6 279.3l4.5 1.2 2.6-1-4.5-1.2z"/><path color="#3fbc73" d="M876.1 277.6l4.5 1.1 2.6-.5-4.5-1.1z"/><path color="#81d34d" d="M814.1 267.2l4.4.9 2.7.2-4.4-.8z"/><path color="#c8e020" d="M763.5 258.2l4.4.7 2.8.4-4.3-.9z"/><path color="#4ac16d" d="M864.6 275.9l4.5 1 2.6-.3-4.5-1z"/><path color="#d2e21b" d="M752 257.4l4.3.3 2.9-.1-4.3-.4z"/><path color="#93d741" d="M802.5 265.2l4.4.9 2.8.3-4.4-.9z"/><path color="#56c667" d="M853.1 274l4.4 1.1 2.7-.2-4.5-1z"/><path color="#a5db36" d="M791 263.2l4.4.8 2.8.4-4.4-.8z"/><path color="#2cb17e" d="M915.2 283.1l4.5 1.6 2.5-1.3-4.5-1.7z"/><path color="#65cb5e" d="M841.5 272.1l4.5 1 2.6-.1-4.4-.9z"/><path color="#32b67a" d="M903.6 281.9l4.5 1.4 2.6-1.7-4.5-1.4z"/><path color="#38b977" d="M892.1 280.5l4.5 1.2 2.6-1-4.5-1.2z"/><path color="#73d056" d="M830 270.1l4.4 1 2.7 0-4.4-.9z"/><path color="#b8de29" d="M779.4 261.1l4.4.8 2.8.5-4.3-.9z"/><path color="#40bd72" d="M880.6 278.7l4.5 1.2 2.5-.6-4.4-1.1z"/><path color="#84d44b" d="M818.5 268.1l4.4.9 2.7.2-4.4-.9z"/><path color="#4cc26c" d="M869.1 276.9l4.4 1.2 2.6-.5-4.4-1z"/><path color="#cde11d" d="M767.9 258.9l4.4.8 2.8.5-4.4-.9z"/><path color="#dae319" d="M756.3 257.7l4.4.5 2.8 0-4.3-.6z"/><path color="#58c765" d="M857.5 275.1l4.5 1.1 2.6-.3-4.4-1z"/><path color="#95d840" d="M806.9 266.1l4.4.9 2.8.2-4.4-.8z"/><path color="#67cc5c" d="M846 273.1l4.4 1.1 2.7-.2-4.5-1z"/><path color="#a8db34" d="M795.4 264l4.4.9 2.7.3-4.3-.8z"/><path color="#31b57b" d="M908.1 283.3l4.5 1.3 2.6-1.5-4.5-1.5z"/><path color="#38b977" d="M896.6 281.7l4.5 1.3 2.5-1.1-4.4-1.2z"/><path color="#77d153" d="M834.4 271.1l4.5 1 2.6 0-4.4-1z"/><path color="#40bd72" d="M885.1 279.9l4.4 1.3 2.6-.7-4.5-1.2z"/><path color="#bddf26" d="M783.8 261.9l4.4.8 2.8.5-4.4-.8z"/><path color="#4cc26c" d="M873.5 278.1l4.5 1.2 2.6-.6-4.5-1.1z"/><path color="#89d548" d="M822.9 269l4.4 1 2.7.1-4.4-.9z"/><path color="#d0e11c" d="M772.3 259.7l4.3.9 2.8.5-4.3-.9z"/><path color="#5ac864" d="M862 276.2l4.4 1.2 2.7-.5-4.5-1z"/><path color="#9bd93c" d="M811.3 267l4.4.9 2.8.2-4.4-.9z"/><path color="#e2e418" d="M760.7 258.2l4.3.5 2.9.2-4.4-.7z"/><path color="#31b57b" d="M912.6 284.6l4.5 1.5 2.6-1.4-4.5-1.6z"/><path color="#67cc5c" d="M850.4 274.2l4.5 1.1 2.6-.2-4.4-1.1z"/><path color="#38b977" d="M901.1 283l4.5 1.4 2.5-1.1-4.5-1.4z"/><path color="#addc30" d="M799.8 264.9l4.4.8 2.7.4-4.4-.9z"/><path color="#40bd72" d="M889.5 281.2l4.5 1.4 2.6-.9-4.5-1.2z"/><path color="#7ad151" d="M838.9 272.1l4.4 1.1 2.7-.1-4.5-1z"/><path color="#c0df25" d="M788.2 262.7l4.4.9 2.8.4-4.4-.8z"/><path color="#4ec36b" d="M878 279.3l4.5 1.4 2.6-.8-4.5-1.2z"/><path color="#8bd646" d="M827.3 270l4.4 1.1 2.7 0-4.4-1z"/><path color="#d5e21a" d="M776.6 260.6l4.4.8 2.8.5-4.4-.8z"/><path color="#5ac864" d="M866.4 277.4l4.5 1.3 2.6-.6-4.4-1.2z"/><path color="#9dd93b" d="M815.7 267.9l4.5 1 2.7.1-4.4-.9z"/><path color="#e7e419" d="M765 258.7l4.4.6 2.9.4-4.4-.8z"/><path color="#69cd5b" d="M854.9 275.3l4.4 1.3 2.7-.4-4.5-1.1z"/><path color="#37b878" d="M905.6 284.4l4.5 1.5 2.5-1.3-4.5-1.3z"/><path color="#b0dd2f" d="M804.2 265.7l4.4 1 2.7.3-4.4-.9z"/><path color="#40bd72" d="M894 282.6l4.5 1.5 2.6-1.1-4.5-1.3z"/><path color="#7ad151" d="M843.3 273.2l4.5 1.2 2.6-.2-4.4-1.1z"/><path color="#4cc26c" d="M882.5 280.7l4.4 1.4 2.6-.9-4.4-1.3z"/><path color="#c5e021" d="M792.6 263.6l4.4.9 2.8.4-4.4-.9z"/><path color="#8ed645" d="M831.7 271.1l4.5 1.1 2.7-.1-4.5-1z"/><path color="#5ac864" d="M870.9 278.7l4.5 1.4 2.6-.8-4.5-1.2z"/><path color="#d8e219" d="M781 261.4l4.4.8 2.8.5-4.4-.8z"/><path color="#a0da39" d="M820.2 268.9l4.4 1.1 2.7 0-4.4-1z"/><path color="#35b779" d="M910.1 285.9l4.5 1.5 2.5-1.3-4.5-1.5z"/><path color="#69cd5b" d="M859.3 276.6l4.5 1.3 2.6-.5-4.4-1.2z"/><path color="#ece51b" d="M769.4 259.3l4.4.8 2.8.5-4.3-.9z"/><path color="#3fbc73" d="M898.5 284.1l4.5 1.5 2.6-1.2-4.5-1.4z"/><path color="#b5de2b" d="M808.6 266.7l4.4 1 2.7.2-4.4-.9z"/><path color="#7cd250" d="M847.8 274.4l4.4 1.3 2.7-.4-4.5-1.1z"/><path color="#4cc26c" d="M886.9 282.1l4.5 1.5 2.6-1-4.5-1.4z"/><path color="#c8e020" d="M797 264.5l4.4.9 2.8.3-4.4-.8z"/><path color="#8ed645" d="M836.2 272.2l4.4 1.3 2.7-.3-4.4-1.1z"/><path color="#5ac864" d="M875.4 280.1l4.5 1.4 2.6-.8-4.5-1.4z"/><path color="#dde318" d="M785.4 262.2l4.4.9 2.8.5-4.4-.9z"/><path color="#a2da37" d="M824.6 270l4.4 1.2 2.7-.1-4.4-1.1z"/><path color="#69cd5b" d="M863.8 277.9l4.5 1.4 2.6-.6-4.5-1.3z"/><path color="#3fbc73" d="M903 285.6l4.5 1.5 2.6-1.2-4.5-1.5z"/><path color="#f1e51d" d="M773.8 260.1l4.4.8 2.8.5-4.4-.8z"/><path color="#b8de29" d="M813 267.7l4.4 1.1 2.8.1-4.5-1z"/><path color="#7cd250" d="M852.2 275.7l4.5 1.4 2.6-.5-4.4-1.3z"/><path color="#4ac16d" d="M891.4 283.6l4.5 1.6 2.6-1.1-4.5-1.5z"/><path color="#cde11d" d="M801.4 265.4l4.4 1.1 2.8.2-4.4-1z"/><path color="#8ed645" d="M840.6 273.5l4.5 1.3 2.7-.4-4.5-1.2z"/><path color="#58c765" d="M879.9 281.5l4.5 1.5 2.5-.9-4.4-1.4z"/><path color="#69cd5b" d="M868.3 279.3l4.5 1.5 2.6-.7-4.5-1.4z"/><path color="#e2e418" d="M789.8 263.1l4.4 1 2.8.4-4.4-.9z"/><path color="#a2da37" d="M829 271.2l4.5 1.2 2.7-.2-4.5-1.1z"/><path color="#3dbc74" d="M907.5 287.1l4.5 1.6 2.6-1.3-4.5-1.5z"/><path color="#7ad151" d="M856.7 277.1l4.5 1.4 2.6-.6-4.5-1.3z"/><path color="#f4e61e" d="M778.2 260.9l4.4.9 2.8.4-4.4-.8z"/><path color="#48c16e" d="M895.9 285.2l4.5 1.5 2.6-1.1-4.5-1.5z"/><path color="#b8de29" d="M817.4 268.8l4.5 1.2 2.7 0-4.4-1.1z"/><path color="#56c667" d="M884.4 283l4.5 1.6 2.5-1-4.5-1.5z"/><path color="#8ed645" d="M845.1 274.8l4.5 1.3 2.6-.4-4.4-1.3z"/><path color="#d0e11c" d="M805.8 266.5l4.4 1.1 2.8.1-4.4-1z"/><path color="#67cc5c" d="M872.8 280.8l4.4 1.5 2.7-.8-4.5-1.4z"/><path color="#a2da37" d="M833.5 272.4l4.4 1.3 2.7-.2-4.4-1.3z"/><path color="#e5e419" d="M794.2 264.1l4.4 1.1 2.8.2-4.4-.9z"/><path color="#46c06f" d="M900.4 286.7l4.6 1.6 2.5-1.2-4.5-1.5z"/><path color="#7ad151" d="M861.2 278.5l4.4 1.5 2.7-.7-4.5-1.4z"/><path color="#bade28" d="M821.9 270l4.4 1.3 2.7-.1-4.4-1.2z"/><path color="#f8e621" d="M782.6 261.8l4.4 1 2.8.3-4.4-.9z"/><path color="#54c568" d="M888.9 284.6l4.5 1.6 2.5-1-4.5-1.6z"/><path color="#8ed645" d="M849.6 276.1l4.4 1.5 2.7-.5-4.5-1.4z"/><path color="#d0e11c" d="M810.2 267.6l4.5 1.2 2.7 0-4.4-1.1z"/><path color="#65cb5e" d="M877.2 282.3l4.5 1.6 2.7-.9-4.5-1.5z"/><path color="#a2da37" d="M837.9 273.7l4.5 1.4 2.7-.3-4.5-1.3z"/><path color="#e7e419" d="M798.6 265.2l4.4 1.1 2.8.2-4.4-1.1z"/><path color="#44bf70" d="M905 288.3l4.5 1.6 2.5-1.2-4.5-1.6z"/><path color="#77d153" d="M865.6 280l4.5 1.5 2.7-.7-4.5-1.5z"/><path color="#bade28" d="M826.3 271.3l4.5 1.3 2.7-.2-4.5-1.2z"/><path color="#52c569" d="M893.4 286.2l4.5 1.6 2.5-1.1-4.5-1.5z"/><path color="#fbe723" d="M787 262.8l4.4 1.1 2.8.2-4.4-1z"/><path color="#8bd646" d="M854 277.6l4.5 1.5 2.7-.6-4.5-1.4z"/><path color="#d0e11c" d="M814.7 268.8l4.4 1.3 2.8-.1-4.5-1.2z"/><path color="#63cb5f" d="M881.7 283.9l4.6 1.6 2.6-.9-4.5-1.6z"/><path color="#a2da37" d="M842.4 275.1l4.5 1.5 2.7-.5-4.5-1.3z"/><path color="#e7e419" d="M803 266.3l4.5 1.2 2.7.1-4.4-1.1z"/><path color="#75d054" d="M870.1 281.5l4.5 1.6 2.6-.8-4.4-1.5z"/><path color="#bade28" d="M830.8 272.6l4.4 1.4 2.7-.3-4.4-1.3z"/><path color="#50c46a" d="M897.9 287.8l4.5 1.6 2.6-1.1-4.6-1.6z"/><path color="#8bd646" d="M858.5 279.1l4.5 1.5 2.6-.6-4.4-1.5z"/><path color="#fde725" d="M791.4 263.9l4.4 1.1 2.8.2-4.4-1.1z"/><path color="#60ca60" d="M886.3 285.5l4.5 1.7 2.6-1-4.5-1.6z"/><path color="#d2e21b" d="M819.1 270.1l4.5 1.3 2.7-.1-4.4-1.3z"/><path color="#a0da39" d="M846.9 276.6l4.5 1.5 2.6-.5-4.4-1.5z"/><path color="#73d056" d="M874.6 283.1l4.5 1.6 2.6-.8-4.5-1.6z"/><path color="#e7e419" d="M807.5 267.5l4.4 1.3 2.8 0-4.5-1.2z"/><path color="#4ec36b" d="M902.4 289.4l4.5 1.6 2.6-1.1-4.5-1.6z"/><path color="#b8de29" d="M835.2 274l4.5 1.5 2.7-.4-4.5-1.4z"/><path color="#89d548" d="M863 280.6l4.5 1.6 2.6-.7-4.5-1.5z"/><path color="#fde725" d="M795.8 265l4.5 1.2 2.7.1-4.4-1.1z"/><path color="#5cc863" d="M890.8 287.2l4.5 1.6 2.6-1-4.5-1.6z"/><path color="#d0e11c" d="M823.6 271.4l4.4 1.4 2.8-.2-4.5-1.3z"/><path color="#a0da39" d="M851.4 278.1l4.4 1.5 2.7-.5-4.5-1.5z"/><path color="#70cf57" d="M879.1 284.7l4.5 1.7 2.7-.9-4.6-1.6z"/><path color="#e7e419" d="M811.9 268.8l4.5 1.4 2.7-.1-4.4-1.3z"/><path color="#b8de29" d="M839.7 275.5l4.5 1.5 2.7-.4-4.5-1.5z"/><path color="#84d44b" d="M867.5 282.2l4.5 1.7 2.6-.8-4.5-1.6z"/><path color="#5ac864" d="M895.3 288.8l4.5 1.7 2.6-1.1-4.5-1.6z"/><path color="#fde725" d="M800.3 266.2l4.4 1.3 2.8 0-4.5-1.2z"/><path color="#d0e11c" d="M828 272.8l4.5 1.5 2.7-.3-4.4-1.4z"/><path color="#9dd93b" d="M855.8 279.6l4.5 1.6 2.7-.6-4.5-1.5z"/><path color="#6ccd5a" d="M883.6 286.4l4.6 1.7 2.6-.9-4.5-1.7z"/><path color="#e7e419" d="M816.4 270.2l4.4 1.4 2.8-.2-4.5-1.3z"/><path color="#b5de2b" d="M844.2 277l4.5 1.5 2.7-.4-4.5-1.5z"/><path color="#81d34d" d="M872 283.9l4.5 1.6 2.6-.8-4.5-1.6z"/><path color="#58c765" d="M899.8 290.5l4.5 1.6 2.6-1.1-4.5-1.6z"/><path color="#fde725" d="M804.7 267.5l4.4 1.4 2.8-.1-4.4-1.3z"/><path color="#cde11d" d="M832.5 274.3l4.5 1.5 2.7-.3-4.5-1.5z"/><path color="#98d83e" d="M860.3 281.2l4.5 1.7 2.7-.7-4.5-1.6z"/><path color="#69cd5b" d="M888.2 288.1l4.5 1.7 2.6-1-4.5-1.6z"/><path color="#e7e419" d="M820.8 271.6l4.5 1.5 2.7-.3-4.4-1.4z"/><path color="#b2dd2d" d="M848.7 278.5l4.5 1.7 2.6-.6-4.4-1.5z"/><path color="#7fd34e" d="M876.5 285.5l4.5 1.7 2.6-.8-4.5-1.7z"/><path color="#fde725" d="M809.1 268.9l4.5 1.4 2.8-.1-4.5-1.4z"/><path color="#cae11f" d="M837 275.8l4.5 1.6 2.7-.4-4.5-1.5z"/><path color="#95d840" d="M864.8 282.9l4.5 1.7 2.7-.7-4.5-1.7z"/><path color="#65cb5e" d="M892.7 289.8l4.5 1.7 2.6-1-4.5-1.7z"/><path color="#e5e419" d="M825.3 273.1l4.5 1.5 2.7-.3-4.5-1.5z"/><path color="#addc30" d="M853.2 280.2l4.5 1.6 2.6-.6-4.5-1.6z"/><path color="#7ad151" d="M881 287.2l4.5 1.8 2.7-.9-4.6-1.7z"/><path color="#fde725" d="M813.6 270.3l4.5 1.5 2.7-.2-4.4-1.4z"/><path color="#90d743" d="M869.3 284.6l4.6 1.7 2.6-.8-4.5-1.6z"/><path color="#c8e020" d="M841.5 277.4l4.5 1.6 2.7-.5-4.5-1.5z"/><path color="#63cb5f" d="M897.2 291.5l4.6 1.7 2.5-1.1-4.5-1.6z"/><path color="#aadc32" d="M857.7 281.8l4.5 1.7 2.6-.6-4.5-1.7z"/><path color="#77d153" d="M885.5 289l4.6 1.7 2.6-.9-4.5-1.7z"/><path color="#e2e418" d="M829.8 274.6l4.5 1.6 2.7-.4-4.5-1.5z"/><path color="#8ed645" d="M873.9 286.3l4.5 1.8 2.6-.9-4.5-1.7z"/><path color="#c5e021" d="M846 279l4.5 1.7 2.7-.5-4.5-1.7z"/><path color="#fbe723" d="M818.1 271.8l4.5 1.6 2.7-.3-4.5-1.5z"/><path color="#a8db34" d="M862.2 283.5l4.5 1.8 2.6-.7-4.5-1.7z"/><path color="#73d056" d="M890.1 290.7l4.5 1.7 2.6-.9-4.5-1.7z"/><path color="#dfe318" d="M834.3 276.2l4.5 1.6 2.7-.4-4.5-1.6z"/><path color="#89d548" d="M878.4 288.1l4.5 1.7 2.6-.8-4.5-1.8z"/><path color="#c2df23" d="M850.5 280.7l4.5 1.7 2.7-.6-4.5-1.6z"/><path color="#f8e621" d="M822.6 273.4l4.4 1.6 2.8-.4-4.5-1.5z"/><path color="#a2da37" d="M866.7 285.3l4.5 1.7 2.7-.7-4.6-1.7z"/><path color="#6ece58" d="M894.6 292.4l4.6 1.8 2.6-1-4.6-1.7z"/><path color="#dde318" d="M838.8 277.8l4.5 1.7 2.7-.5-4.5-1.6z"/><path color="#84d44b" d="M882.9 289.8l4.6 1.8 2.6-.9-4.6-1.7z"/><path color="#bddf26" d="M855 282.4l4.5 1.7 2.7-.6-4.5-1.7z"/><path color="#f6e620" d="M827 275l4.5 1.6 2.8-.4-4.5-1.6z"/><path color="#9dd93b" d="M871.2 287l4.5 1.8 2.7-.7-4.5-1.8z"/><path color="#d8e219" d="M843.3 279.5l4.5 1.7 2.7-.5-4.5-1.7z"/><path color="#81d34d" d="M887.5 291.6l4.5 1.8 2.6-1-4.5-1.7z"/><path color="#b8de29" d="M859.5 284.1l4.5 1.8 2.7-.6-4.5-1.8z"/><path color="#f1e51d" d="M831.5 276.6l4.5 1.7 2.8-.5-4.5-1.6z"/><path color="#98d83e" d="M875.7 288.8l4.6 1.8 2.6-.8-4.5-1.7z"/><path color="#d5e21a" d="M847.8 281.2l4.5 1.8 2.7-.6-4.5-1.7z"/><path color="#7cd250" d="M892 293.4l4.6 1.8 2.6-1-4.6-1.8z"/><path color="#b2dd2d" d="M864 285.9l4.6 1.8 2.6-.7-4.5-1.7z"/><path color="#efe51c" d="M836 278.3l4.5 1.7 2.8-.5-4.5-1.7z"/><path color="#93d741" d="M880.3 290.6l4.5 1.9 2.7-.9-4.6-1.8z"/><path color="#d0e11c" d="M852.3 283l4.5 1.8 2.7-.7-4.5-1.7z"/><path color="#addc30" d="M868.6 287.7l4.5 1.9 2.6-.8-4.5-1.8z"/><path color="#eae51a" d="M840.5 280l4.6 1.8 2.7-.6-4.5-1.7z"/><path color="#8ed645" d="M884.8 292.5l4.6 1.8 2.6-.9-4.5-1.8z"/><path color="#cae11f" d="M856.8 284.8l4.5 1.8 2.7-.7-4.5-1.8z"/><path color="#a8db34" d="M873.1 289.6l4.5 1.8 2.7-.8-4.6-1.8z"/><path color="#e7e419" d="M845.1 281.8l4.5 1.8 2.7-.6-4.5-1.8z"/><path color="#8bd646" d="M889.4 294.3l4.5 1.8 2.7-.9-4.6-1.8z"/><path color="#c5e021" d="M861.3 286.6l4.6 1.8 2.7-.7-4.6-1.8z"/><path color="#a2da37" d="M877.6 291.4l4.6 1.9 2.6-.8-4.5-1.9z"/><path color="#e2e418" d="M849.6 283.6l4.5 1.8 2.7-.6-4.5-1.8z"/><path color="#c0df25" d="M865.9 288.4l4.5 1.9 2.7-.7-4.5-1.9z"/><path color="#9dd93b" d="M882.2 293.3l4.6 1.9 2.6-.9-4.6-1.8z"/><path color="#dde318" d="M854.1 285.4l4.6 1.9 2.6-.7-4.5-1.8z"/><path color="#bade28" d="M870.4 290.3l4.6 1.9 2.6-.8-4.5-1.8z"/><path color="#98d83e" d="M886.8 295.2l4.5 1.9 2.6-1-4.5-1.8z"/><path color="#d5e21a" d="M858.7 287.3l4.5 1.9 2.7-.8-4.6-1.8z"/><path color="#b5de2b" d="M875 292.2l4.5 1.9 2.7-.8-4.6-1.9z"/><path color="#d0e11c" d="M863.2 289.2l4.6 1.9 2.6-.8-4.5-1.9z"/><path color="#addc30" d="M879.5 294.1l4.6 2 2.7-.9-4.6-1.9z"/><path color="#cae11f" d="M867.8 291.1l4.5 1.9 2.7-.8-4.6-1.9z"/><path color="#a8db34" d="M884.1 296.1l4.6 1.9 2.6-.9-4.5-1.9z"/><path color="#c5e021" d="M872.3 293l4.6 2 2.6-.9-4.5-1.9z"/><path color="#bddf26" d="M876.9 295l4.6 1.9 2.6-.8-4.6-2z"/><path color="#b8de29" d="M881.5 296.9l4.5 2 2.7-.9-4.6-1.9z"/></g></g><g id="legend_2"><g id="patch_13"><path d="M 1043.72 99.37 L 1134.36 99.37 Q 1136.28 99.37 1136.28 97.45 L 1136.28 70.22 Q 1136.28 68.3 1134.36 68.3 L 1043.72 68.3 Q 1041.8 68.3 1041.8 70.22 L 1041.8 97.45 Q 1041.8 99.37 1043.72 99.37 z " style="fill: #ffffff; opacity: 0.8; stroke: #cccccc; stroke-linejoin: miter"/></g><g id="patch_14"><path d="M 1045.64 79.44 L 1064.84 79.44 L 1064.84 72.72 L 1045.64 72.72 z " style="fill: #2db56e; stroke: #f04848; stroke-linejoin: miter"/></g><g id="text_27"><text style="font-size: 9.6px; font-family: 'DejaVu Sans','Liberation Sans',sans-serif; text-anchor: start" x="1072.52" y="79.44">Untruncated</text></g><g id="patch_15"><path d="M 1045.64 93.53 L 1064.84 93.53 L 1064.84 86.81 L 1045.64 86.81 z " style="fill: #2a62a0; stroke: #f04848; stroke-linejoin: miter"/></g><g id="text_28"><text style="font-size: 9.6px; font-family: 'DejaVu Sans','Liberation Sans',sans-serif; text-anchor: start" x="1072.52" y="93.53">Truncated</text></g></g></g></g><defs><clipPath id="p2788d90cd7"><path d="M 451.13 285.26 C 451.13 256.14 445.4 227.3 434.25 200.4 C 423.11 173.5 406.77 149.05 386.18 128.46 C 365.59 107.86 341.14 91.53 314.24 80.38 C 287.33 69.24 258.49 63.5 229.37 63.5 C 200.25 63.5 171.41 69.24 144.51 80.38 C 117.6 91.53 93.16 107.86 72.56 128.46 C 51.97 149.05 35.64 173.5 24.49 200.4 C 13.35 227.3 7.61 256.14 7.61 285.26 C 7.61 314.39 13.35 343.22 24.49 370.13 C 35.64 397.03 51.97 421.48 72.56 442.07 C 93.16 462.66 117.6 479 144.51 490.14 C 171.41 501.29 200.25 507.02 229.37 507.02 C 258.49 507.02 287.33 501.29 314.24 490.14 C 341.14 479 365.59 462.66 386.18 442.07 C 406.77 421.48 423.11 397.03 434.25 370.13 C 445.4 343.22 451.13 314.39 451.13 285.26 M 229.37 285.26 C 229.37 285.26 229.37 285.26 229.37 285.26 C 229.37 285.26 229.37 285.26 229.37 285.26 C 229.37 285.26 229.37 285.26 229.37 285.26 C 229.37 285.26 229.37 285.26 229.37 285.26 C 229.37 285.26 229.37 285.26 229.37 285.26 C 229.37 285.26 229.37 285.26 229.37 285.26 C 229.37 285.26 229.37 285.26 229.37 285.26 C 229.37 285.26 229.37 285.26 229.37 285.26 C 229.37 285.26 229.37 285.26 229.37 285.26 C 229.37 285.26 229.37 285.26 229.37 285.26 C 229.37 285.26 229.37 285.26 229.37 285.26 C 229.37 285.26 229.37 285.26 229.37 285.26 C 229.37 285.26 229.37 285.26 229.37 285.26 C 229.37 285.26 229.37 285.26 229.37 285.26 C 229.37 285.26 229.37 285.26 229.37 285.26 C 229.37 285.26 229.37 285.26 229.37 285.26 z "/></clipPath></defs></svg> </body></html>
